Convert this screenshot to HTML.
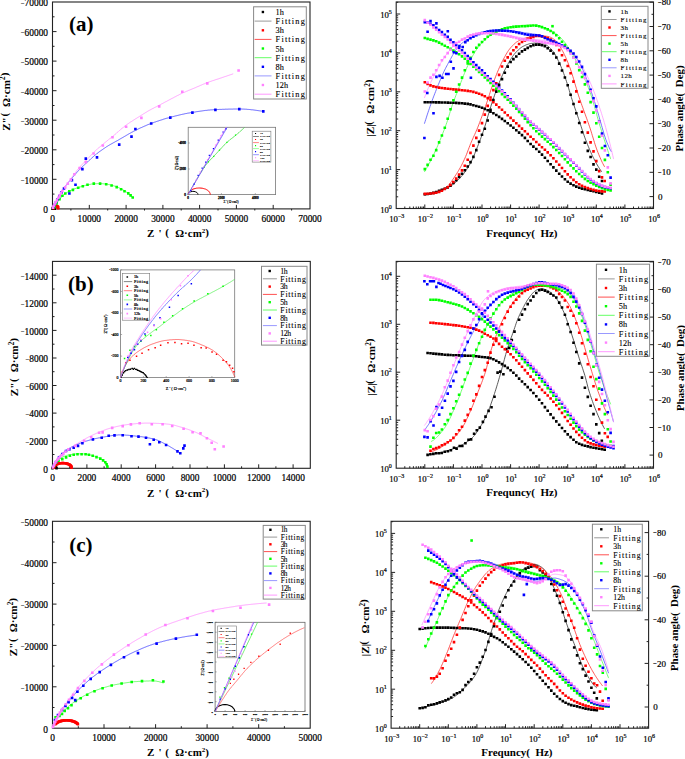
<!DOCTYPE html>
<html><head><meta charset="utf-8"><style>
html,body{margin:0;padding:0;background:#fff;}
body{width:685px;height:759px;overflow:hidden;}
svg{display:block;}
</style></head><body>
<svg width="685" height="759" viewBox="0 0 685 759">
<rect width="685" height="759" fill="#fff"/>
<rect x="52.5" y="2" width="257.5" height="206.9" fill="none" stroke="#222" stroke-width="1.1"/>
<text x="52.5" y="221.9" font-family='"Liberation Serif", serif' font-size="9.4" font-weight="normal" text-anchor="middle" fill="#000" stroke="#000" stroke-width="0.2">0</text>
<text x="48" y="213.2" font-family='"Liberation Serif", serif' font-size="9.4" font-weight="normal" text-anchor="end" fill="#000" stroke="#000" stroke-width="0.2">0</text>
<line x1="70.9" y1="208.9" x2="70.9" y2="210.5" stroke="#222" stroke-width="1.0"/>
<line x1="52.5" y1="194.1" x2="54.5" y2="194.1" stroke="#222" stroke-width="1.0"/>
<line x1="89.3" y1="208.9" x2="89.3" y2="204.9" stroke="#222" stroke-width="1.0"/>
<line x1="52.5" y1="179.3" x2="56.5" y2="179.3" stroke="#222" stroke-width="1.0"/>
<text x="89.3" y="221.9" font-family='"Liberation Serif", serif' font-size="9.4" font-weight="normal" text-anchor="middle" fill="#000" stroke="#000" stroke-width="0.2">10000</text>
<text x="48" y="183.6" font-family='"Liberation Serif", serif' font-size="9.4" font-weight="normal" text-anchor="end" fill="#000" stroke="#000" stroke-width="0.2"><tspan font-size="6.4" dy="-0.5">&#8722;</tspan><tspan dy="0.5">10000</tspan></text>
<line x1="107.7" y1="208.9" x2="107.7" y2="210.5" stroke="#222" stroke-width="1.0"/>
<line x1="52.5" y1="164.6" x2="54.5" y2="164.6" stroke="#222" stroke-width="1.0"/>
<line x1="126.1" y1="208.9" x2="126.1" y2="204.9" stroke="#222" stroke-width="1.0"/>
<line x1="52.5" y1="149.8" x2="56.5" y2="149.8" stroke="#222" stroke-width="1.0"/>
<text x="126.1" y="221.9" font-family='"Liberation Serif", serif' font-size="9.4" font-weight="normal" text-anchor="middle" fill="#000" stroke="#000" stroke-width="0.2">20000</text>
<text x="48" y="154.1" font-family='"Liberation Serif", serif' font-size="9.4" font-weight="normal" text-anchor="end" fill="#000" stroke="#000" stroke-width="0.2"><tspan font-size="6.4" dy="-0.5">&#8722;</tspan><tspan dy="0.5">20000</tspan></text>
<line x1="144.5" y1="208.9" x2="144.5" y2="210.5" stroke="#222" stroke-width="1.0"/>
<line x1="52.5" y1="135" x2="54.5" y2="135" stroke="#222" stroke-width="1.0"/>
<line x1="162.9" y1="208.9" x2="162.9" y2="204.9" stroke="#222" stroke-width="1.0"/>
<line x1="52.5" y1="120.2" x2="56.5" y2="120.2" stroke="#222" stroke-width="1.0"/>
<text x="162.9" y="221.9" font-family='"Liberation Serif", serif' font-size="9.4" font-weight="normal" text-anchor="middle" fill="#000" stroke="#000" stroke-width="0.2">30000</text>
<text x="48" y="124.5" font-family='"Liberation Serif", serif' font-size="9.4" font-weight="normal" text-anchor="end" fill="#000" stroke="#000" stroke-width="0.2"><tspan font-size="6.4" dy="-0.5">&#8722;</tspan><tspan dy="0.5">30000</tspan></text>
<line x1="181.2" y1="208.9" x2="181.2" y2="210.5" stroke="#222" stroke-width="1.0"/>
<line x1="52.5" y1="105.5" x2="54.5" y2="105.5" stroke="#222" stroke-width="1.0"/>
<line x1="199.6" y1="208.9" x2="199.6" y2="204.9" stroke="#222" stroke-width="1.0"/>
<line x1="52.5" y1="90.7" x2="56.5" y2="90.7" stroke="#222" stroke-width="1.0"/>
<text x="199.6" y="221.9" font-family='"Liberation Serif", serif' font-size="9.4" font-weight="normal" text-anchor="middle" fill="#000" stroke="#000" stroke-width="0.2">40000</text>
<text x="48" y="95" font-family='"Liberation Serif", serif' font-size="9.4" font-weight="normal" text-anchor="end" fill="#000" stroke="#000" stroke-width="0.2"><tspan font-size="6.4" dy="-0.5">&#8722;</tspan><tspan dy="0.5">40000</tspan></text>
<line x1="218" y1="208.9" x2="218" y2="210.5" stroke="#222" stroke-width="1.0"/>
<line x1="52.5" y1="75.9" x2="54.5" y2="75.9" stroke="#222" stroke-width="1.0"/>
<line x1="236.4" y1="208.9" x2="236.4" y2="204.9" stroke="#222" stroke-width="1.0"/>
<line x1="52.5" y1="61.1" x2="56.5" y2="61.1" stroke="#222" stroke-width="1.0"/>
<text x="236.4" y="221.9" font-family='"Liberation Serif", serif' font-size="9.4" font-weight="normal" text-anchor="middle" fill="#000" stroke="#000" stroke-width="0.2">50000</text>
<text x="48" y="65.4" font-family='"Liberation Serif", serif' font-size="9.4" font-weight="normal" text-anchor="end" fill="#000" stroke="#000" stroke-width="0.2"><tspan font-size="6.4" dy="-0.5">&#8722;</tspan><tspan dy="0.5">50000</tspan></text>
<line x1="254.8" y1="208.9" x2="254.8" y2="210.5" stroke="#222" stroke-width="1.0"/>
<line x1="52.5" y1="46.3" x2="54.5" y2="46.3" stroke="#222" stroke-width="1.0"/>
<line x1="273.2" y1="208.9" x2="273.2" y2="204.9" stroke="#222" stroke-width="1.0"/>
<line x1="52.5" y1="31.6" x2="56.5" y2="31.6" stroke="#222" stroke-width="1.0"/>
<text x="273.2" y="221.9" font-family='"Liberation Serif", serif' font-size="9.4" font-weight="normal" text-anchor="middle" fill="#000" stroke="#000" stroke-width="0.2">60000</text>
<text x="48" y="35.9" font-family='"Liberation Serif", serif' font-size="9.4" font-weight="normal" text-anchor="end" fill="#000" stroke="#000" stroke-width="0.2"><tspan font-size="6.4" dy="-0.5">&#8722;</tspan><tspan dy="0.5">60000</tspan></text>
<line x1="291.6" y1="208.9" x2="291.6" y2="210.5" stroke="#222" stroke-width="1.0"/>
<line x1="52.5" y1="16.8" x2="54.5" y2="16.8" stroke="#222" stroke-width="1.0"/>
<text x="310" y="221.9" font-family='"Liberation Serif", serif' font-size="9.4" font-weight="normal" text-anchor="middle" fill="#000" stroke="#000" stroke-width="0.2">70000</text>
<text x="48" y="6.3" font-family='"Liberation Serif", serif' font-size="9.4" font-weight="normal" text-anchor="end" fill="#000" stroke="#000" stroke-width="0.2"><tspan font-size="6.4" dy="-0.5">&#8722;</tspan><tspan dy="0.5">70000</tspan></text>
<rect x="52.5" y="261.4" width="257.8" height="206.9" fill="none" stroke="#222" stroke-width="1.1"/>
<text x="52.5" y="481.3" font-family='"Liberation Serif", serif' font-size="9.4" font-weight="normal" text-anchor="middle" fill="#000" stroke="#000" stroke-width="0.2">0</text>
<text x="48" y="472.6" font-family='"Liberation Serif", serif' font-size="9.4" font-weight="normal" text-anchor="end" fill="#000" stroke="#000" stroke-width="0.2">0</text>
<line x1="69.7" y1="468.3" x2="69.7" y2="466.3" stroke="#222" stroke-width="1.0"/>
<line x1="52.5" y1="454.5" x2="54.5" y2="454.5" stroke="#222" stroke-width="1.0"/>
<line x1="86.9" y1="468.3" x2="86.9" y2="464.3" stroke="#222" stroke-width="1.0"/>
<line x1="52.5" y1="440.7" x2="56.5" y2="440.7" stroke="#222" stroke-width="1.0"/>
<text x="86.9" y="481.3" font-family='"Liberation Serif", serif' font-size="9.4" font-weight="normal" text-anchor="middle" fill="#000" stroke="#000" stroke-width="0.2">2000</text>
<text x="48" y="445" font-family='"Liberation Serif", serif' font-size="9.4" font-weight="normal" text-anchor="end" fill="#000" stroke="#000" stroke-width="0.2"><tspan font-size="6.4" dy="-0.5">&#8722;</tspan><tspan dy="0.5">2000</tspan></text>
<line x1="104.1" y1="468.3" x2="104.1" y2="466.3" stroke="#222" stroke-width="1.0"/>
<line x1="52.5" y1="426.9" x2="54.5" y2="426.9" stroke="#222" stroke-width="1.0"/>
<line x1="121.2" y1="468.3" x2="121.2" y2="464.3" stroke="#222" stroke-width="1.0"/>
<line x1="52.5" y1="413.1" x2="56.5" y2="413.1" stroke="#222" stroke-width="1.0"/>
<text x="121.2" y="481.3" font-family='"Liberation Serif", serif' font-size="9.4" font-weight="normal" text-anchor="middle" fill="#000" stroke="#000" stroke-width="0.2">4000</text>
<text x="48" y="417.4" font-family='"Liberation Serif", serif' font-size="9.4" font-weight="normal" text-anchor="end" fill="#000" stroke="#000" stroke-width="0.2"><tspan font-size="6.4" dy="-0.5">&#8722;</tspan><tspan dy="0.5">4000</tspan></text>
<line x1="138.4" y1="468.3" x2="138.4" y2="466.3" stroke="#222" stroke-width="1.0"/>
<line x1="52.5" y1="399.3" x2="54.5" y2="399.3" stroke="#222" stroke-width="1.0"/>
<line x1="155.6" y1="468.3" x2="155.6" y2="464.3" stroke="#222" stroke-width="1.0"/>
<line x1="52.5" y1="385.5" x2="56.5" y2="385.5" stroke="#222" stroke-width="1.0"/>
<text x="155.6" y="481.3" font-family='"Liberation Serif", serif' font-size="9.4" font-weight="normal" text-anchor="middle" fill="#000" stroke="#000" stroke-width="0.2">6000</text>
<text x="48" y="389.8" font-family='"Liberation Serif", serif' font-size="9.4" font-weight="normal" text-anchor="end" fill="#000" stroke="#000" stroke-width="0.2"><tspan font-size="6.4" dy="-0.5">&#8722;</tspan><tspan dy="0.5">6000</tspan></text>
<line x1="172.8" y1="468.3" x2="172.8" y2="466.3" stroke="#222" stroke-width="1.0"/>
<line x1="52.5" y1="371.7" x2="54.5" y2="371.7" stroke="#222" stroke-width="1.0"/>
<line x1="190" y1="468.3" x2="190" y2="464.3" stroke="#222" stroke-width="1.0"/>
<line x1="52.5" y1="358" x2="56.5" y2="358" stroke="#222" stroke-width="1.0"/>
<text x="190" y="481.3" font-family='"Liberation Serif", serif' font-size="9.4" font-weight="normal" text-anchor="middle" fill="#000" stroke="#000" stroke-width="0.2">8000</text>
<text x="48" y="362.3" font-family='"Liberation Serif", serif' font-size="9.4" font-weight="normal" text-anchor="end" fill="#000" stroke="#000" stroke-width="0.2"><tspan font-size="6.4" dy="-0.5">&#8722;</tspan><tspan dy="0.5">8000</tspan></text>
<line x1="207.2" y1="468.3" x2="207.2" y2="466.3" stroke="#222" stroke-width="1.0"/>
<line x1="52.5" y1="344.2" x2="54.5" y2="344.2" stroke="#222" stroke-width="1.0"/>
<line x1="224.4" y1="468.3" x2="224.4" y2="464.3" stroke="#222" stroke-width="1.0"/>
<line x1="52.5" y1="330.4" x2="56.5" y2="330.4" stroke="#222" stroke-width="1.0"/>
<text x="224.4" y="481.3" font-family='"Liberation Serif", serif' font-size="9.4" font-weight="normal" text-anchor="middle" fill="#000" stroke="#000" stroke-width="0.2">10000</text>
<text x="48" y="334.7" font-family='"Liberation Serif", serif' font-size="9.4" font-weight="normal" text-anchor="end" fill="#000" stroke="#000" stroke-width="0.2"><tspan font-size="6.4" dy="-0.5">&#8722;</tspan><tspan dy="0.5">10000</tspan></text>
<line x1="241.6" y1="468.3" x2="241.6" y2="466.3" stroke="#222" stroke-width="1.0"/>
<line x1="52.5" y1="316.6" x2="54.5" y2="316.6" stroke="#222" stroke-width="1.0"/>
<line x1="258.7" y1="468.3" x2="258.7" y2="464.3" stroke="#222" stroke-width="1.0"/>
<line x1="52.5" y1="302.8" x2="56.5" y2="302.8" stroke="#222" stroke-width="1.0"/>
<text x="258.7" y="481.3" font-family='"Liberation Serif", serif' font-size="9.4" font-weight="normal" text-anchor="middle" fill="#000" stroke="#000" stroke-width="0.2">12000</text>
<text x="48" y="307.1" font-family='"Liberation Serif", serif' font-size="9.4" font-weight="normal" text-anchor="end" fill="#000" stroke="#000" stroke-width="0.2"><tspan font-size="6.4" dy="-0.5">&#8722;</tspan><tspan dy="0.5">12000</tspan></text>
<line x1="275.9" y1="468.3" x2="275.9" y2="466.3" stroke="#222" stroke-width="1.0"/>
<line x1="52.5" y1="289" x2="54.5" y2="289" stroke="#222" stroke-width="1.0"/>
<line x1="293.1" y1="468.3" x2="293.1" y2="464.3" stroke="#222" stroke-width="1.0"/>
<line x1="52.5" y1="275.2" x2="56.5" y2="275.2" stroke="#222" stroke-width="1.0"/>
<text x="293.1" y="481.3" font-family='"Liberation Serif", serif' font-size="9.4" font-weight="normal" text-anchor="middle" fill="#000" stroke="#000" stroke-width="0.2">14000</text>
<text x="48" y="279.5" font-family='"Liberation Serif", serif' font-size="9.4" font-weight="normal" text-anchor="end" fill="#000" stroke="#000" stroke-width="0.2"><tspan font-size="6.4" dy="-0.5">&#8722;</tspan><tspan dy="0.5">14000</tspan></text>
<rect x="52.5" y="521.3" width="257.7" height="206.9" fill="none" stroke="#222" stroke-width="1.1"/>
<text x="52.5" y="741.2" font-family='"Liberation Serif", serif' font-size="9.4" font-weight="normal" text-anchor="middle" fill="#000" stroke="#000" stroke-width="0.2">0</text>
<text x="48" y="732.5" font-family='"Liberation Serif", serif' font-size="9.4" font-weight="normal" text-anchor="end" fill="#000" stroke="#000" stroke-width="0.2">0</text>
<line x1="78.3" y1="728.2" x2="78.3" y2="726.2" stroke="#222" stroke-width="1.0"/>
<line x1="52.5" y1="707.5" x2="54.5" y2="707.5" stroke="#222" stroke-width="1.0"/>
<line x1="104" y1="728.2" x2="104" y2="724.2" stroke="#222" stroke-width="1.0"/>
<line x1="52.5" y1="686.8" x2="56.5" y2="686.8" stroke="#222" stroke-width="1.0"/>
<text x="104" y="741.2" font-family='"Liberation Serif", serif' font-size="9.4" font-weight="normal" text-anchor="middle" fill="#000" stroke="#000" stroke-width="0.2">10000</text>
<text x="48" y="691.1" font-family='"Liberation Serif", serif' font-size="9.4" font-weight="normal" text-anchor="end" fill="#000" stroke="#000" stroke-width="0.2"><tspan font-size="6.4" dy="-0.5">&#8722;</tspan><tspan dy="0.5">10000</tspan></text>
<line x1="129.8" y1="728.2" x2="129.8" y2="726.2" stroke="#222" stroke-width="1.0"/>
<line x1="52.5" y1="666.1" x2="54.5" y2="666.1" stroke="#222" stroke-width="1.0"/>
<line x1="155.6" y1="728.2" x2="155.6" y2="724.2" stroke="#222" stroke-width="1.0"/>
<line x1="52.5" y1="645.4" x2="56.5" y2="645.4" stroke="#222" stroke-width="1.0"/>
<text x="155.6" y="741.2" font-family='"Liberation Serif", serif' font-size="9.4" font-weight="normal" text-anchor="middle" fill="#000" stroke="#000" stroke-width="0.2">20000</text>
<text x="48" y="649.7" font-family='"Liberation Serif", serif' font-size="9.4" font-weight="normal" text-anchor="end" fill="#000" stroke="#000" stroke-width="0.2"><tspan font-size="6.4" dy="-0.5">&#8722;</tspan><tspan dy="0.5">20000</tspan></text>
<line x1="181.3" y1="728.2" x2="181.3" y2="726.2" stroke="#222" stroke-width="1.0"/>
<line x1="52.5" y1="624.8" x2="54.5" y2="624.8" stroke="#222" stroke-width="1.0"/>
<line x1="207.1" y1="728.2" x2="207.1" y2="724.2" stroke="#222" stroke-width="1.0"/>
<line x1="52.5" y1="604.1" x2="56.5" y2="604.1" stroke="#222" stroke-width="1.0"/>
<text x="207.1" y="741.2" font-family='"Liberation Serif", serif' font-size="9.4" font-weight="normal" text-anchor="middle" fill="#000" stroke="#000" stroke-width="0.2">30000</text>
<text x="48" y="608.4" font-family='"Liberation Serif", serif' font-size="9.4" font-weight="normal" text-anchor="end" fill="#000" stroke="#000" stroke-width="0.2"><tspan font-size="6.4" dy="-0.5">&#8722;</tspan><tspan dy="0.5">30000</tspan></text>
<line x1="232.9" y1="728.2" x2="232.9" y2="726.2" stroke="#222" stroke-width="1.0"/>
<line x1="52.5" y1="583.4" x2="54.5" y2="583.4" stroke="#222" stroke-width="1.0"/>
<line x1="258.7" y1="728.2" x2="258.7" y2="724.2" stroke="#222" stroke-width="1.0"/>
<line x1="52.5" y1="562.7" x2="56.5" y2="562.7" stroke="#222" stroke-width="1.0"/>
<text x="258.7" y="741.2" font-family='"Liberation Serif", serif' font-size="9.4" font-weight="normal" text-anchor="middle" fill="#000" stroke="#000" stroke-width="0.2">40000</text>
<text x="48" y="567" font-family='"Liberation Serif", serif' font-size="9.4" font-weight="normal" text-anchor="end" fill="#000" stroke="#000" stroke-width="0.2"><tspan font-size="6.4" dy="-0.5">&#8722;</tspan><tspan dy="0.5">40000</tspan></text>
<line x1="284.4" y1="728.2" x2="284.4" y2="726.2" stroke="#222" stroke-width="1.0"/>
<line x1="52.5" y1="542" x2="54.5" y2="542" stroke="#222" stroke-width="1.0"/>
<text x="310.2" y="741.2" font-family='"Liberation Serif", serif' font-size="9.4" font-weight="normal" text-anchor="middle" fill="#000" stroke="#000" stroke-width="0.2">50000</text>
<text x="48" y="525.6" font-family='"Liberation Serif", serif' font-size="9.4" font-weight="normal" text-anchor="end" fill="#000" stroke="#000" stroke-width="0.2"><tspan font-size="6.4" dy="-0.5">&#8722;</tspan><tspan dy="0.5">50000</tspan></text>
<text font-family='"Liberation Serif", serif' font-size="11" font-weight="bold"><tspan x="147.0" y="236.7">Z</tspan><tspan x="158.4" y="236.7">'</tspan><tspan x="165.2" y="235.9">(</tspan><tspan x="175.3" y="236.7">&#937;&#183;cm</tspan><tspan font-size="7" dy="-4.2">2</tspan><tspan dy="3.4">)</tspan></text>
<text transform="translate(9.6,0) rotate(-90)" font-family='"Liberation Serif", serif' font-size="11.2" font-weight="bold"><tspan x="-130.8" y="0">Z</tspan><tspan x="-123.4" y="0">&quot;</tspan><tspan x="-116.6" y="-1.8">(</tspan><tspan x="-106.9" y="0">&#937;&#183;cm</tspan><tspan font-size="7.2" dy="-4.2">2</tspan><tspan dy="2.4">)</tspan></text>
<text font-family='"Liberation Serif", serif' font-size="11" font-weight="bold"><tspan x="147.0" y="496.5">Z</tspan><tspan x="158.4" y="496.5">'</tspan><tspan x="165.2" y="495.7">(</tspan><tspan x="175.3" y="496.5">&#937;&#183;cm</tspan><tspan font-size="7" dy="-4.2">2</tspan><tspan dy="3.4">)</tspan></text>
<text transform="translate(18.3,0) rotate(-90)" font-family='"Liberation Serif", serif' font-size="11.2" font-weight="bold"><tspan x="-396.2" y="0">Z</tspan><tspan x="-388.8" y="0">&quot;</tspan><tspan x="-382" y="-1.8">(</tspan><tspan x="-372.3" y="0">&#937;&#183;cm</tspan><tspan font-size="7.2" dy="-4.2">2</tspan><tspan dy="2.4">)</tspan></text>
<text font-family='"Liberation Serif", serif' font-size="11" font-weight="bold"><tspan x="147.0" y="756.4">Z</tspan><tspan x="158.4" y="756.4">'</tspan><tspan x="165.2" y="755.6">(</tspan><tspan x="175.3" y="756.4">&#937;&#183;cm</tspan><tspan font-size="7" dy="-4.2">2</tspan><tspan dy="3.4">)</tspan></text>
<text transform="translate(17.4,0) rotate(-90)" font-family='"Liberation Serif", serif' font-size="11.2" font-weight="bold"><tspan x="-656.2" y="0">Z</tspan><tspan x="-648.8" y="0">&quot;</tspan><tspan x="-642" y="-1.8">(</tspan><tspan x="-632.3" y="0">&#937;&#183;cm</tspan><tspan font-size="7.2" dy="-4.2">2</tspan><tspan dy="2.4">)</tspan></text>
<rect x="396.2" y="2" width="257.3" height="206.5" fill="none" stroke="#222" stroke-width="1.1"/>
<line x1="404.8" y1="208.5" x2="404.8" y2="206.5" stroke="#222" stroke-width="1.0"/>
<line x1="409.8" y1="208.5" x2="409.8" y2="206.5" stroke="#222" stroke-width="1.0"/>
<line x1="413.4" y1="208.5" x2="413.4" y2="206.5" stroke="#222" stroke-width="1.0"/>
<line x1="416.2" y1="208.5" x2="416.2" y2="206.5" stroke="#222" stroke-width="1.0"/>
<line x1="418.4" y1="208.5" x2="418.4" y2="206.5" stroke="#222" stroke-width="1.0"/>
<line x1="420.4" y1="208.5" x2="420.4" y2="206.5" stroke="#222" stroke-width="1.0"/>
<line x1="422" y1="208.5" x2="422" y2="206.5" stroke="#222" stroke-width="1.0"/>
<line x1="423.5" y1="208.5" x2="423.5" y2="206.5" stroke="#222" stroke-width="1.0"/>
<line x1="424.8" y1="208.5" x2="424.8" y2="204.5" stroke="#222" stroke-width="1.0"/>
<line x1="433.4" y1="208.5" x2="433.4" y2="206.5" stroke="#222" stroke-width="1.0"/>
<line x1="438.4" y1="208.5" x2="438.4" y2="206.5" stroke="#222" stroke-width="1.0"/>
<line x1="442" y1="208.5" x2="442" y2="206.5" stroke="#222" stroke-width="1.0"/>
<line x1="444.8" y1="208.5" x2="444.8" y2="206.5" stroke="#222" stroke-width="1.0"/>
<line x1="447" y1="208.5" x2="447" y2="206.5" stroke="#222" stroke-width="1.0"/>
<line x1="448.9" y1="208.5" x2="448.9" y2="206.5" stroke="#222" stroke-width="1.0"/>
<line x1="450.6" y1="208.5" x2="450.6" y2="206.5" stroke="#222" stroke-width="1.0"/>
<line x1="452.1" y1="208.5" x2="452.1" y2="206.5" stroke="#222" stroke-width="1.0"/>
<line x1="453.4" y1="208.5" x2="453.4" y2="204.5" stroke="#222" stroke-width="1.0"/>
<line x1="462" y1="208.5" x2="462" y2="206.5" stroke="#222" stroke-width="1.0"/>
<line x1="467" y1="208.5" x2="467" y2="206.5" stroke="#222" stroke-width="1.0"/>
<line x1="470.6" y1="208.5" x2="470.6" y2="206.5" stroke="#222" stroke-width="1.0"/>
<line x1="473.4" y1="208.5" x2="473.4" y2="206.5" stroke="#222" stroke-width="1.0"/>
<line x1="475.6" y1="208.5" x2="475.6" y2="206.5" stroke="#222" stroke-width="1.0"/>
<line x1="477.5" y1="208.5" x2="477.5" y2="206.5" stroke="#222" stroke-width="1.0"/>
<line x1="479.2" y1="208.5" x2="479.2" y2="206.5" stroke="#222" stroke-width="1.0"/>
<line x1="480.7" y1="208.5" x2="480.7" y2="206.5" stroke="#222" stroke-width="1.0"/>
<line x1="482" y1="208.5" x2="482" y2="204.5" stroke="#222" stroke-width="1.0"/>
<line x1="490.6" y1="208.5" x2="490.6" y2="206.5" stroke="#222" stroke-width="1.0"/>
<line x1="495.6" y1="208.5" x2="495.6" y2="206.5" stroke="#222" stroke-width="1.0"/>
<line x1="499.2" y1="208.5" x2="499.2" y2="206.5" stroke="#222" stroke-width="1.0"/>
<line x1="501.9" y1="208.5" x2="501.9" y2="206.5" stroke="#222" stroke-width="1.0"/>
<line x1="504.2" y1="208.5" x2="504.2" y2="206.5" stroke="#222" stroke-width="1.0"/>
<line x1="506.1" y1="208.5" x2="506.1" y2="206.5" stroke="#222" stroke-width="1.0"/>
<line x1="507.8" y1="208.5" x2="507.8" y2="206.5" stroke="#222" stroke-width="1.0"/>
<line x1="509.2" y1="208.5" x2="509.2" y2="206.5" stroke="#222" stroke-width="1.0"/>
<line x1="510.6" y1="208.5" x2="510.6" y2="204.5" stroke="#222" stroke-width="1.0"/>
<line x1="519.2" y1="208.5" x2="519.2" y2="206.5" stroke="#222" stroke-width="1.0"/>
<line x1="524.2" y1="208.5" x2="524.2" y2="206.5" stroke="#222" stroke-width="1.0"/>
<line x1="527.8" y1="208.5" x2="527.8" y2="206.5" stroke="#222" stroke-width="1.0"/>
<line x1="530.5" y1="208.5" x2="530.5" y2="206.5" stroke="#222" stroke-width="1.0"/>
<line x1="532.8" y1="208.5" x2="532.8" y2="206.5" stroke="#222" stroke-width="1.0"/>
<line x1="534.7" y1="208.5" x2="534.7" y2="206.5" stroke="#222" stroke-width="1.0"/>
<line x1="536.4" y1="208.5" x2="536.4" y2="206.5" stroke="#222" stroke-width="1.0"/>
<line x1="537.8" y1="208.5" x2="537.8" y2="206.5" stroke="#222" stroke-width="1.0"/>
<line x1="539.1" y1="208.5" x2="539.1" y2="204.5" stroke="#222" stroke-width="1.0"/>
<line x1="547.8" y1="208.5" x2="547.8" y2="206.5" stroke="#222" stroke-width="1.0"/>
<line x1="552.8" y1="208.5" x2="552.8" y2="206.5" stroke="#222" stroke-width="1.0"/>
<line x1="556.4" y1="208.5" x2="556.4" y2="206.5" stroke="#222" stroke-width="1.0"/>
<line x1="559.1" y1="208.5" x2="559.1" y2="206.5" stroke="#222" stroke-width="1.0"/>
<line x1="561.4" y1="208.5" x2="561.4" y2="206.5" stroke="#222" stroke-width="1.0"/>
<line x1="563.3" y1="208.5" x2="563.3" y2="206.5" stroke="#222" stroke-width="1.0"/>
<line x1="565" y1="208.5" x2="565" y2="206.5" stroke="#222" stroke-width="1.0"/>
<line x1="566.4" y1="208.5" x2="566.4" y2="206.5" stroke="#222" stroke-width="1.0"/>
<line x1="567.7" y1="208.5" x2="567.7" y2="204.5" stroke="#222" stroke-width="1.0"/>
<line x1="576.3" y1="208.5" x2="576.3" y2="206.5" stroke="#222" stroke-width="1.0"/>
<line x1="581.4" y1="208.5" x2="581.4" y2="206.5" stroke="#222" stroke-width="1.0"/>
<line x1="584.9" y1="208.5" x2="584.9" y2="206.5" stroke="#222" stroke-width="1.0"/>
<line x1="587.7" y1="208.5" x2="587.7" y2="206.5" stroke="#222" stroke-width="1.0"/>
<line x1="590" y1="208.5" x2="590" y2="206.5" stroke="#222" stroke-width="1.0"/>
<line x1="591.9" y1="208.5" x2="591.9" y2="206.5" stroke="#222" stroke-width="1.0"/>
<line x1="593.6" y1="208.5" x2="593.6" y2="206.5" stroke="#222" stroke-width="1.0"/>
<line x1="595" y1="208.5" x2="595" y2="206.5" stroke="#222" stroke-width="1.0"/>
<line x1="596.3" y1="208.5" x2="596.3" y2="204.5" stroke="#222" stroke-width="1.0"/>
<line x1="604.9" y1="208.5" x2="604.9" y2="206.5" stroke="#222" stroke-width="1.0"/>
<line x1="610" y1="208.5" x2="610" y2="206.5" stroke="#222" stroke-width="1.0"/>
<line x1="613.5" y1="208.5" x2="613.5" y2="206.5" stroke="#222" stroke-width="1.0"/>
<line x1="616.3" y1="208.5" x2="616.3" y2="206.5" stroke="#222" stroke-width="1.0"/>
<line x1="618.6" y1="208.5" x2="618.6" y2="206.5" stroke="#222" stroke-width="1.0"/>
<line x1="620.5" y1="208.5" x2="620.5" y2="206.5" stroke="#222" stroke-width="1.0"/>
<line x1="622.1" y1="208.5" x2="622.1" y2="206.5" stroke="#222" stroke-width="1.0"/>
<line x1="623.6" y1="208.5" x2="623.6" y2="206.5" stroke="#222" stroke-width="1.0"/>
<line x1="624.9" y1="208.5" x2="624.9" y2="204.5" stroke="#222" stroke-width="1.0"/>
<line x1="633.5" y1="208.5" x2="633.5" y2="206.5" stroke="#222" stroke-width="1.0"/>
<line x1="638.6" y1="208.5" x2="638.6" y2="206.5" stroke="#222" stroke-width="1.0"/>
<line x1="642.1" y1="208.5" x2="642.1" y2="206.5" stroke="#222" stroke-width="1.0"/>
<line x1="644.9" y1="208.5" x2="644.9" y2="206.5" stroke="#222" stroke-width="1.0"/>
<line x1="647.2" y1="208.5" x2="647.2" y2="206.5" stroke="#222" stroke-width="1.0"/>
<line x1="649.1" y1="208.5" x2="649.1" y2="206.5" stroke="#222" stroke-width="1.0"/>
<line x1="650.7" y1="208.5" x2="650.7" y2="206.5" stroke="#222" stroke-width="1.0"/>
<line x1="652.2" y1="208.5" x2="652.2" y2="206.5" stroke="#222" stroke-width="1.0"/>
<text x="396.8" y="221.9" font-family='"Liberation Serif", serif' font-size="8.7" text-anchor="middle" stroke="#000" stroke-width="0.2">10<tspan font-size="6" dy="-4.0">&#8722;3</tspan></text>
<text x="425.4" y="221.9" font-family='"Liberation Serif", serif' font-size="8.7" text-anchor="middle" stroke="#000" stroke-width="0.2">10<tspan font-size="6" dy="-4.0">&#8722;2</tspan></text>
<text x="454" y="221.9" font-family='"Liberation Serif", serif' font-size="8.7" text-anchor="middle" stroke="#000" stroke-width="0.2">10<tspan font-size="6" dy="-4.0">&#8722;1</tspan></text>
<text x="482.6" y="221.9" font-family='"Liberation Serif", serif' font-size="8.7" text-anchor="middle" stroke="#000" stroke-width="0.2">10<tspan font-size="6" dy="-4.0">0</tspan></text>
<text x="511.2" y="221.9" font-family='"Liberation Serif", serif' font-size="8.7" text-anchor="middle" stroke="#000" stroke-width="0.2">10<tspan font-size="6" dy="-4.0">1</tspan></text>
<text x="539.7" y="221.9" font-family='"Liberation Serif", serif' font-size="8.7" text-anchor="middle" stroke="#000" stroke-width="0.2">10<tspan font-size="6" dy="-4.0">2</tspan></text>
<text x="568.3" y="221.9" font-family='"Liberation Serif", serif' font-size="8.7" text-anchor="middle" stroke="#000" stroke-width="0.2">10<tspan font-size="6" dy="-4.0">3</tspan></text>
<text x="596.9" y="221.9" font-family='"Liberation Serif", serif' font-size="8.7" text-anchor="middle" stroke="#000" stroke-width="0.2">10<tspan font-size="6" dy="-4.0">4</tspan></text>
<text x="625.5" y="221.9" font-family='"Liberation Serif", serif' font-size="8.7" text-anchor="middle" stroke="#000" stroke-width="0.2">10<tspan font-size="6" dy="-4.0">5</tspan></text>
<text x="654.1" y="221.9" font-family='"Liberation Serif", serif' font-size="8.7" text-anchor="middle" stroke="#000" stroke-width="0.2">10<tspan font-size="6" dy="-4.0">6</tspan></text>
<line x1="396.2" y1="196.8" x2="398.2" y2="196.8" stroke="#222" stroke-width="1.0"/>
<line x1="396.2" y1="189.9" x2="398.2" y2="189.9" stroke="#222" stroke-width="1.0"/>
<line x1="396.2" y1="185.1" x2="398.2" y2="185.1" stroke="#222" stroke-width="1.0"/>
<line x1="396.2" y1="181.3" x2="398.2" y2="181.3" stroke="#222" stroke-width="1.0"/>
<line x1="396.2" y1="178.2" x2="398.2" y2="178.2" stroke="#222" stroke-width="1.0"/>
<line x1="396.2" y1="175.6" x2="398.2" y2="175.6" stroke="#222" stroke-width="1.0"/>
<line x1="396.2" y1="173.4" x2="398.2" y2="173.4" stroke="#222" stroke-width="1.0"/>
<line x1="396.2" y1="171.4" x2="398.2" y2="171.4" stroke="#222" stroke-width="1.0"/>
<text x="386" y="212.5" font-family='"Liberation Serif", serif' font-size="8.7" text-anchor="middle" stroke="#000" stroke-width="0.2">10<tspan font-size="6" dy="-4.0">0</tspan></text>
<line x1="396.2" y1="169.6" x2="400.2" y2="169.6" stroke="#222" stroke-width="1.0"/>
<line x1="396.2" y1="157.9" x2="398.2" y2="157.9" stroke="#222" stroke-width="1.0"/>
<line x1="396.2" y1="151" x2="398.2" y2="151" stroke="#222" stroke-width="1.0"/>
<line x1="396.2" y1="146.2" x2="398.2" y2="146.2" stroke="#222" stroke-width="1.0"/>
<line x1="396.2" y1="142.4" x2="398.2" y2="142.4" stroke="#222" stroke-width="1.0"/>
<line x1="396.2" y1="139.3" x2="398.2" y2="139.3" stroke="#222" stroke-width="1.0"/>
<line x1="396.2" y1="136.7" x2="398.2" y2="136.7" stroke="#222" stroke-width="1.0"/>
<line x1="396.2" y1="134.5" x2="398.2" y2="134.5" stroke="#222" stroke-width="1.0"/>
<line x1="396.2" y1="132.5" x2="398.2" y2="132.5" stroke="#222" stroke-width="1.0"/>
<text x="386" y="173.6" font-family='"Liberation Serif", serif' font-size="8.7" text-anchor="middle" stroke="#000" stroke-width="0.2">10<tspan font-size="6" dy="-4.0">1</tspan></text>
<line x1="396.2" y1="130.7" x2="400.2" y2="130.7" stroke="#222" stroke-width="1.0"/>
<line x1="396.2" y1="119" x2="398.2" y2="119" stroke="#222" stroke-width="1.0"/>
<line x1="396.2" y1="112.1" x2="398.2" y2="112.1" stroke="#222" stroke-width="1.0"/>
<line x1="396.2" y1="107.3" x2="398.2" y2="107.3" stroke="#222" stroke-width="1.0"/>
<line x1="396.2" y1="103.5" x2="398.2" y2="103.5" stroke="#222" stroke-width="1.0"/>
<line x1="396.2" y1="100.4" x2="398.2" y2="100.4" stroke="#222" stroke-width="1.0"/>
<line x1="396.2" y1="97.8" x2="398.2" y2="97.8" stroke="#222" stroke-width="1.0"/>
<line x1="396.2" y1="95.6" x2="398.2" y2="95.6" stroke="#222" stroke-width="1.0"/>
<line x1="396.2" y1="93.6" x2="398.2" y2="93.6" stroke="#222" stroke-width="1.0"/>
<text x="386" y="134.7" font-family='"Liberation Serif", serif' font-size="8.7" text-anchor="middle" stroke="#000" stroke-width="0.2">10<tspan font-size="6" dy="-4.0">2</tspan></text>
<line x1="396.2" y1="91.8" x2="400.2" y2="91.8" stroke="#222" stroke-width="1.0"/>
<line x1="396.2" y1="80.1" x2="398.2" y2="80.1" stroke="#222" stroke-width="1.0"/>
<line x1="396.2" y1="73.2" x2="398.2" y2="73.2" stroke="#222" stroke-width="1.0"/>
<line x1="396.2" y1="68.4" x2="398.2" y2="68.4" stroke="#222" stroke-width="1.0"/>
<line x1="396.2" y1="64.6" x2="398.2" y2="64.6" stroke="#222" stroke-width="1.0"/>
<line x1="396.2" y1="61.5" x2="398.2" y2="61.5" stroke="#222" stroke-width="1.0"/>
<line x1="396.2" y1="58.9" x2="398.2" y2="58.9" stroke="#222" stroke-width="1.0"/>
<line x1="396.2" y1="56.7" x2="398.2" y2="56.7" stroke="#222" stroke-width="1.0"/>
<line x1="396.2" y1="54.7" x2="398.2" y2="54.7" stroke="#222" stroke-width="1.0"/>
<text x="386" y="95.8" font-family='"Liberation Serif", serif' font-size="8.7" text-anchor="middle" stroke="#000" stroke-width="0.2">10<tspan font-size="6" dy="-4.0">3</tspan></text>
<line x1="396.2" y1="52.9" x2="400.2" y2="52.9" stroke="#222" stroke-width="1.0"/>
<line x1="396.2" y1="41.2" x2="398.2" y2="41.2" stroke="#222" stroke-width="1.0"/>
<line x1="396.2" y1="34.3" x2="398.2" y2="34.3" stroke="#222" stroke-width="1.0"/>
<line x1="396.2" y1="29.5" x2="398.2" y2="29.5" stroke="#222" stroke-width="1.0"/>
<line x1="396.2" y1="25.7" x2="398.2" y2="25.7" stroke="#222" stroke-width="1.0"/>
<line x1="396.2" y1="22.6" x2="398.2" y2="22.6" stroke="#222" stroke-width="1.0"/>
<line x1="396.2" y1="20" x2="398.2" y2="20" stroke="#222" stroke-width="1.0"/>
<line x1="396.2" y1="17.8" x2="398.2" y2="17.8" stroke="#222" stroke-width="1.0"/>
<line x1="396.2" y1="15.8" x2="398.2" y2="15.8" stroke="#222" stroke-width="1.0"/>
<text x="386" y="56.9" font-family='"Liberation Serif", serif' font-size="8.7" text-anchor="middle" stroke="#000" stroke-width="0.2">10<tspan font-size="6" dy="-4.0">4</tspan></text>
<line x1="396.2" y1="14" x2="400.2" y2="14" stroke="#222" stroke-width="1.0"/>
<line x1="396.2" y1="2.3" x2="398.2" y2="2.3" stroke="#222" stroke-width="1.0"/>
<text x="386" y="18" font-family='"Liberation Serif", serif' font-size="8.7" text-anchor="middle" stroke="#000" stroke-width="0.2">10<tspan font-size="6" dy="-4.0">5</tspan></text>
<line x1="649.5" y1="196.6" x2="653.5" y2="196.6" stroke="#222" stroke-width="1.0"/>
<text x="658.1" y="199.7" font-family='"Liberation Serif", serif' font-size="9.0" font-weight="normal" text-anchor="start" fill="#000" stroke="#000" stroke-width="0.2">0</text>
<line x1="651.5" y1="184.4" x2="653.5" y2="184.4" stroke="#222" stroke-width="1.0"/>
<line x1="649.5" y1="172.3" x2="653.5" y2="172.3" stroke="#222" stroke-width="1.0"/>
<text x="658.1" y="175.4" font-family='"Liberation Serif", serif' font-size="9.0" font-weight="normal" text-anchor="start" fill="#000" stroke="#000" stroke-width="0.2"><tspan font-size="6.6" dy="-0.5">&#8722;</tspan><tspan dy="0.5">10</tspan></text>
<line x1="651.5" y1="160.1" x2="653.5" y2="160.1" stroke="#222" stroke-width="1.0"/>
<line x1="649.5" y1="148" x2="653.5" y2="148" stroke="#222" stroke-width="1.0"/>
<text x="658.1" y="151.1" font-family='"Liberation Serif", serif' font-size="9.0" font-weight="normal" text-anchor="start" fill="#000" stroke="#000" stroke-width="0.2"><tspan font-size="6.6" dy="-0.5">&#8722;</tspan><tspan dy="0.5">20</tspan></text>
<line x1="651.5" y1="135.8" x2="653.5" y2="135.8" stroke="#222" stroke-width="1.0"/>
<line x1="649.5" y1="123.7" x2="653.5" y2="123.7" stroke="#222" stroke-width="1.0"/>
<text x="658.1" y="126.8" font-family='"Liberation Serif", serif' font-size="9.0" font-weight="normal" text-anchor="start" fill="#000" stroke="#000" stroke-width="0.2"><tspan font-size="6.6" dy="-0.5">&#8722;</tspan><tspan dy="0.5">30</tspan></text>
<line x1="651.5" y1="111.5" x2="653.5" y2="111.5" stroke="#222" stroke-width="1.0"/>
<line x1="649.5" y1="99.4" x2="653.5" y2="99.4" stroke="#222" stroke-width="1.0"/>
<text x="658.1" y="102.5" font-family='"Liberation Serif", serif' font-size="9.0" font-weight="normal" text-anchor="start" fill="#000" stroke="#000" stroke-width="0.2"><tspan font-size="6.6" dy="-0.5">&#8722;</tspan><tspan dy="0.5">40</tspan></text>
<line x1="651.5" y1="87.2" x2="653.5" y2="87.2" stroke="#222" stroke-width="1.0"/>
<line x1="649.5" y1="75.1" x2="653.5" y2="75.1" stroke="#222" stroke-width="1.0"/>
<text x="658.1" y="78.2" font-family='"Liberation Serif", serif' font-size="9.0" font-weight="normal" text-anchor="start" fill="#000" stroke="#000" stroke-width="0.2"><tspan font-size="6.6" dy="-0.5">&#8722;</tspan><tspan dy="0.5">50</tspan></text>
<line x1="651.5" y1="62.9" x2="653.5" y2="62.9" stroke="#222" stroke-width="1.0"/>
<line x1="649.5" y1="50.8" x2="653.5" y2="50.8" stroke="#222" stroke-width="1.0"/>
<text x="658.1" y="53.9" font-family='"Liberation Serif", serif' font-size="9.0" font-weight="normal" text-anchor="start" fill="#000" stroke="#000" stroke-width="0.2"><tspan font-size="6.6" dy="-0.5">&#8722;</tspan><tspan dy="0.5">60</tspan></text>
<line x1="651.5" y1="38.6" x2="653.5" y2="38.6" stroke="#222" stroke-width="1.0"/>
<line x1="649.5" y1="26.5" x2="653.5" y2="26.5" stroke="#222" stroke-width="1.0"/>
<text x="658.1" y="29.6" font-family='"Liberation Serif", serif' font-size="9.0" font-weight="normal" text-anchor="start" fill="#000" stroke="#000" stroke-width="0.2"><tspan font-size="6.6" dy="-0.5">&#8722;</tspan><tspan dy="0.5">70</tspan></text>
<line x1="651.5" y1="14.3" x2="653.5" y2="14.3" stroke="#222" stroke-width="1.0"/>
<line x1="649.5" y1="2.2" x2="653.5" y2="2.2" stroke="#222" stroke-width="1.0"/>
<text x="658.1" y="5.3" font-family='"Liberation Serif", serif' font-size="9.0" font-weight="normal" text-anchor="start" fill="#000" stroke="#000" stroke-width="0.2"><tspan font-size="6.6" dy="-0.5">&#8722;</tspan><tspan dy="0.5">80</tspan></text>
<rect x="396.2" y="261.4" width="257.3" height="206.8" fill="none" stroke="#222" stroke-width="1.1"/>
<line x1="404.8" y1="468.2" x2="404.8" y2="466.2" stroke="#222" stroke-width="1.0"/>
<line x1="409.8" y1="468.2" x2="409.8" y2="466.2" stroke="#222" stroke-width="1.0"/>
<line x1="413.4" y1="468.2" x2="413.4" y2="466.2" stroke="#222" stroke-width="1.0"/>
<line x1="416.2" y1="468.2" x2="416.2" y2="466.2" stroke="#222" stroke-width="1.0"/>
<line x1="418.4" y1="468.2" x2="418.4" y2="466.2" stroke="#222" stroke-width="1.0"/>
<line x1="420.4" y1="468.2" x2="420.4" y2="466.2" stroke="#222" stroke-width="1.0"/>
<line x1="422" y1="468.2" x2="422" y2="466.2" stroke="#222" stroke-width="1.0"/>
<line x1="423.5" y1="468.2" x2="423.5" y2="466.2" stroke="#222" stroke-width="1.0"/>
<line x1="424.8" y1="468.2" x2="424.8" y2="464.2" stroke="#222" stroke-width="1.0"/>
<line x1="433.4" y1="468.2" x2="433.4" y2="466.2" stroke="#222" stroke-width="1.0"/>
<line x1="438.4" y1="468.2" x2="438.4" y2="466.2" stroke="#222" stroke-width="1.0"/>
<line x1="442" y1="468.2" x2="442" y2="466.2" stroke="#222" stroke-width="1.0"/>
<line x1="444.8" y1="468.2" x2="444.8" y2="466.2" stroke="#222" stroke-width="1.0"/>
<line x1="447" y1="468.2" x2="447" y2="466.2" stroke="#222" stroke-width="1.0"/>
<line x1="448.9" y1="468.2" x2="448.9" y2="466.2" stroke="#222" stroke-width="1.0"/>
<line x1="450.6" y1="468.2" x2="450.6" y2="466.2" stroke="#222" stroke-width="1.0"/>
<line x1="452.1" y1="468.2" x2="452.1" y2="466.2" stroke="#222" stroke-width="1.0"/>
<line x1="453.4" y1="468.2" x2="453.4" y2="464.2" stroke="#222" stroke-width="1.0"/>
<line x1="462" y1="468.2" x2="462" y2="466.2" stroke="#222" stroke-width="1.0"/>
<line x1="467" y1="468.2" x2="467" y2="466.2" stroke="#222" stroke-width="1.0"/>
<line x1="470.6" y1="468.2" x2="470.6" y2="466.2" stroke="#222" stroke-width="1.0"/>
<line x1="473.4" y1="468.2" x2="473.4" y2="466.2" stroke="#222" stroke-width="1.0"/>
<line x1="475.6" y1="468.2" x2="475.6" y2="466.2" stroke="#222" stroke-width="1.0"/>
<line x1="477.5" y1="468.2" x2="477.5" y2="466.2" stroke="#222" stroke-width="1.0"/>
<line x1="479.2" y1="468.2" x2="479.2" y2="466.2" stroke="#222" stroke-width="1.0"/>
<line x1="480.7" y1="468.2" x2="480.7" y2="466.2" stroke="#222" stroke-width="1.0"/>
<line x1="482" y1="468.2" x2="482" y2="464.2" stroke="#222" stroke-width="1.0"/>
<line x1="490.6" y1="468.2" x2="490.6" y2="466.2" stroke="#222" stroke-width="1.0"/>
<line x1="495.6" y1="468.2" x2="495.6" y2="466.2" stroke="#222" stroke-width="1.0"/>
<line x1="499.2" y1="468.2" x2="499.2" y2="466.2" stroke="#222" stroke-width="1.0"/>
<line x1="501.9" y1="468.2" x2="501.9" y2="466.2" stroke="#222" stroke-width="1.0"/>
<line x1="504.2" y1="468.2" x2="504.2" y2="466.2" stroke="#222" stroke-width="1.0"/>
<line x1="506.1" y1="468.2" x2="506.1" y2="466.2" stroke="#222" stroke-width="1.0"/>
<line x1="507.8" y1="468.2" x2="507.8" y2="466.2" stroke="#222" stroke-width="1.0"/>
<line x1="509.2" y1="468.2" x2="509.2" y2="466.2" stroke="#222" stroke-width="1.0"/>
<line x1="510.6" y1="468.2" x2="510.6" y2="464.2" stroke="#222" stroke-width="1.0"/>
<line x1="519.2" y1="468.2" x2="519.2" y2="466.2" stroke="#222" stroke-width="1.0"/>
<line x1="524.2" y1="468.2" x2="524.2" y2="466.2" stroke="#222" stroke-width="1.0"/>
<line x1="527.8" y1="468.2" x2="527.8" y2="466.2" stroke="#222" stroke-width="1.0"/>
<line x1="530.5" y1="468.2" x2="530.5" y2="466.2" stroke="#222" stroke-width="1.0"/>
<line x1="532.8" y1="468.2" x2="532.8" y2="466.2" stroke="#222" stroke-width="1.0"/>
<line x1="534.7" y1="468.2" x2="534.7" y2="466.2" stroke="#222" stroke-width="1.0"/>
<line x1="536.4" y1="468.2" x2="536.4" y2="466.2" stroke="#222" stroke-width="1.0"/>
<line x1="537.8" y1="468.2" x2="537.8" y2="466.2" stroke="#222" stroke-width="1.0"/>
<line x1="539.1" y1="468.2" x2="539.1" y2="464.2" stroke="#222" stroke-width="1.0"/>
<line x1="547.8" y1="468.2" x2="547.8" y2="466.2" stroke="#222" stroke-width="1.0"/>
<line x1="552.8" y1="468.2" x2="552.8" y2="466.2" stroke="#222" stroke-width="1.0"/>
<line x1="556.4" y1="468.2" x2="556.4" y2="466.2" stroke="#222" stroke-width="1.0"/>
<line x1="559.1" y1="468.2" x2="559.1" y2="466.2" stroke="#222" stroke-width="1.0"/>
<line x1="561.4" y1="468.2" x2="561.4" y2="466.2" stroke="#222" stroke-width="1.0"/>
<line x1="563.3" y1="468.2" x2="563.3" y2="466.2" stroke="#222" stroke-width="1.0"/>
<line x1="565" y1="468.2" x2="565" y2="466.2" stroke="#222" stroke-width="1.0"/>
<line x1="566.4" y1="468.2" x2="566.4" y2="466.2" stroke="#222" stroke-width="1.0"/>
<line x1="567.7" y1="468.2" x2="567.7" y2="464.2" stroke="#222" stroke-width="1.0"/>
<line x1="576.3" y1="468.2" x2="576.3" y2="466.2" stroke="#222" stroke-width="1.0"/>
<line x1="581.4" y1="468.2" x2="581.4" y2="466.2" stroke="#222" stroke-width="1.0"/>
<line x1="584.9" y1="468.2" x2="584.9" y2="466.2" stroke="#222" stroke-width="1.0"/>
<line x1="587.7" y1="468.2" x2="587.7" y2="466.2" stroke="#222" stroke-width="1.0"/>
<line x1="590" y1="468.2" x2="590" y2="466.2" stroke="#222" stroke-width="1.0"/>
<line x1="591.9" y1="468.2" x2="591.9" y2="466.2" stroke="#222" stroke-width="1.0"/>
<line x1="593.6" y1="468.2" x2="593.6" y2="466.2" stroke="#222" stroke-width="1.0"/>
<line x1="595" y1="468.2" x2="595" y2="466.2" stroke="#222" stroke-width="1.0"/>
<line x1="596.3" y1="468.2" x2="596.3" y2="464.2" stroke="#222" stroke-width="1.0"/>
<line x1="604.9" y1="468.2" x2="604.9" y2="466.2" stroke="#222" stroke-width="1.0"/>
<line x1="610" y1="468.2" x2="610" y2="466.2" stroke="#222" stroke-width="1.0"/>
<line x1="613.5" y1="468.2" x2="613.5" y2="466.2" stroke="#222" stroke-width="1.0"/>
<line x1="616.3" y1="468.2" x2="616.3" y2="466.2" stroke="#222" stroke-width="1.0"/>
<line x1="618.6" y1="468.2" x2="618.6" y2="466.2" stroke="#222" stroke-width="1.0"/>
<line x1="620.5" y1="468.2" x2="620.5" y2="466.2" stroke="#222" stroke-width="1.0"/>
<line x1="622.1" y1="468.2" x2="622.1" y2="466.2" stroke="#222" stroke-width="1.0"/>
<line x1="623.6" y1="468.2" x2="623.6" y2="466.2" stroke="#222" stroke-width="1.0"/>
<line x1="624.9" y1="468.2" x2="624.9" y2="464.2" stroke="#222" stroke-width="1.0"/>
<line x1="633.5" y1="468.2" x2="633.5" y2="466.2" stroke="#222" stroke-width="1.0"/>
<line x1="638.6" y1="468.2" x2="638.6" y2="466.2" stroke="#222" stroke-width="1.0"/>
<line x1="642.1" y1="468.2" x2="642.1" y2="466.2" stroke="#222" stroke-width="1.0"/>
<line x1="644.9" y1="468.2" x2="644.9" y2="466.2" stroke="#222" stroke-width="1.0"/>
<line x1="647.2" y1="468.2" x2="647.2" y2="466.2" stroke="#222" stroke-width="1.0"/>
<line x1="649.1" y1="468.2" x2="649.1" y2="466.2" stroke="#222" stroke-width="1.0"/>
<line x1="650.7" y1="468.2" x2="650.7" y2="466.2" stroke="#222" stroke-width="1.0"/>
<line x1="652.2" y1="468.2" x2="652.2" y2="466.2" stroke="#222" stroke-width="1.0"/>
<text x="396.8" y="481.6" font-family='"Liberation Serif", serif' font-size="8.7" text-anchor="middle" stroke="#000" stroke-width="0.2">10<tspan font-size="6" dy="-4.0">&#8722;3</tspan></text>
<text x="425.4" y="481.6" font-family='"Liberation Serif", serif' font-size="8.7" text-anchor="middle" stroke="#000" stroke-width="0.2">10<tspan font-size="6" dy="-4.0">&#8722;2</tspan></text>
<text x="454" y="481.6" font-family='"Liberation Serif", serif' font-size="8.7" text-anchor="middle" stroke="#000" stroke-width="0.2">10<tspan font-size="6" dy="-4.0">&#8722;1</tspan></text>
<text x="482.6" y="481.6" font-family='"Liberation Serif", serif' font-size="8.7" text-anchor="middle" stroke="#000" stroke-width="0.2">10<tspan font-size="6" dy="-4.0">0</tspan></text>
<text x="511.2" y="481.6" font-family='"Liberation Serif", serif' font-size="8.7" text-anchor="middle" stroke="#000" stroke-width="0.2">10<tspan font-size="6" dy="-4.0">1</tspan></text>
<text x="539.7" y="481.6" font-family='"Liberation Serif", serif' font-size="8.7" text-anchor="middle" stroke="#000" stroke-width="0.2">10<tspan font-size="6" dy="-4.0">2</tspan></text>
<text x="568.3" y="481.6" font-family='"Liberation Serif", serif' font-size="8.7" text-anchor="middle" stroke="#000" stroke-width="0.2">10<tspan font-size="6" dy="-4.0">3</tspan></text>
<text x="596.9" y="481.6" font-family='"Liberation Serif", serif' font-size="8.7" text-anchor="middle" stroke="#000" stroke-width="0.2">10<tspan font-size="6" dy="-4.0">4</tspan></text>
<text x="625.5" y="481.6" font-family='"Liberation Serif", serif' font-size="8.7" text-anchor="middle" stroke="#000" stroke-width="0.2">10<tspan font-size="6" dy="-4.0">5</tspan></text>
<text x="654.1" y="481.6" font-family='"Liberation Serif", serif' font-size="8.7" text-anchor="middle" stroke="#000" stroke-width="0.2">10<tspan font-size="6" dy="-4.0">6</tspan></text>
<line x1="396.2" y1="453.8" x2="398.2" y2="453.8" stroke="#222" stroke-width="1.0"/>
<line x1="396.2" y1="445.3" x2="398.2" y2="445.3" stroke="#222" stroke-width="1.0"/>
<line x1="396.2" y1="439.3" x2="398.2" y2="439.3" stroke="#222" stroke-width="1.0"/>
<line x1="396.2" y1="434.7" x2="398.2" y2="434.7" stroke="#222" stroke-width="1.0"/>
<line x1="396.2" y1="430.9" x2="398.2" y2="430.9" stroke="#222" stroke-width="1.0"/>
<line x1="396.2" y1="427.7" x2="398.2" y2="427.7" stroke="#222" stroke-width="1.0"/>
<line x1="396.2" y1="424.9" x2="398.2" y2="424.9" stroke="#222" stroke-width="1.0"/>
<line x1="396.2" y1="422.4" x2="398.2" y2="422.4" stroke="#222" stroke-width="1.0"/>
<text x="386" y="472.2" font-family='"Liberation Serif", serif' font-size="8.7" text-anchor="middle" stroke="#000" stroke-width="0.2">10<tspan font-size="6" dy="-4.0">0</tspan></text>
<line x1="396.2" y1="420.2" x2="400.2" y2="420.2" stroke="#222" stroke-width="1.0"/>
<line x1="396.2" y1="405.8" x2="398.2" y2="405.8" stroke="#222" stroke-width="1.0"/>
<line x1="396.2" y1="397.3" x2="398.2" y2="397.3" stroke="#222" stroke-width="1.0"/>
<line x1="396.2" y1="391.3" x2="398.2" y2="391.3" stroke="#222" stroke-width="1.0"/>
<line x1="396.2" y1="386.7" x2="398.2" y2="386.7" stroke="#222" stroke-width="1.0"/>
<line x1="396.2" y1="382.9" x2="398.2" y2="382.9" stroke="#222" stroke-width="1.0"/>
<line x1="396.2" y1="379.7" x2="398.2" y2="379.7" stroke="#222" stroke-width="1.0"/>
<line x1="396.2" y1="376.9" x2="398.2" y2="376.9" stroke="#222" stroke-width="1.0"/>
<line x1="396.2" y1="374.4" x2="398.2" y2="374.4" stroke="#222" stroke-width="1.0"/>
<text x="386" y="424.2" font-family='"Liberation Serif", serif' font-size="8.7" text-anchor="middle" stroke="#000" stroke-width="0.2">10<tspan font-size="6" dy="-4.0">1</tspan></text>
<line x1="396.2" y1="372.2" x2="400.2" y2="372.2" stroke="#222" stroke-width="1.0"/>
<line x1="396.2" y1="357.8" x2="398.2" y2="357.8" stroke="#222" stroke-width="1.0"/>
<line x1="396.2" y1="349.3" x2="398.2" y2="349.3" stroke="#222" stroke-width="1.0"/>
<line x1="396.2" y1="343.4" x2="398.2" y2="343.4" stroke="#222" stroke-width="1.0"/>
<line x1="396.2" y1="338.7" x2="398.2" y2="338.7" stroke="#222" stroke-width="1.0"/>
<line x1="396.2" y1="334.9" x2="398.2" y2="334.9" stroke="#222" stroke-width="1.0"/>
<line x1="396.2" y1="331.7" x2="398.2" y2="331.7" stroke="#222" stroke-width="1.0"/>
<line x1="396.2" y1="328.9" x2="398.2" y2="328.9" stroke="#222" stroke-width="1.0"/>
<line x1="396.2" y1="326.5" x2="398.2" y2="326.5" stroke="#222" stroke-width="1.0"/>
<text x="386" y="376.2" font-family='"Liberation Serif", serif' font-size="8.7" text-anchor="middle" stroke="#000" stroke-width="0.2">10<tspan font-size="6" dy="-4.0">2</tspan></text>
<line x1="396.2" y1="324.3" x2="400.2" y2="324.3" stroke="#222" stroke-width="1.0"/>
<line x1="396.2" y1="309.8" x2="398.2" y2="309.8" stroke="#222" stroke-width="1.0"/>
<line x1="396.2" y1="301.4" x2="398.2" y2="301.4" stroke="#222" stroke-width="1.0"/>
<line x1="396.2" y1="295.4" x2="398.2" y2="295.4" stroke="#222" stroke-width="1.0"/>
<line x1="396.2" y1="290.7" x2="398.2" y2="290.7" stroke="#222" stroke-width="1.0"/>
<line x1="396.2" y1="286.9" x2="398.2" y2="286.9" stroke="#222" stroke-width="1.0"/>
<line x1="396.2" y1="283.7" x2="398.2" y2="283.7" stroke="#222" stroke-width="1.0"/>
<line x1="396.2" y1="280.9" x2="398.2" y2="280.9" stroke="#222" stroke-width="1.0"/>
<line x1="396.2" y1="278.5" x2="398.2" y2="278.5" stroke="#222" stroke-width="1.0"/>
<text x="386" y="328.3" font-family='"Liberation Serif", serif' font-size="8.7" text-anchor="middle" stroke="#000" stroke-width="0.2">10<tspan font-size="6" dy="-4.0">3</tspan></text>
<line x1="396.2" y1="276.3" x2="400.2" y2="276.3" stroke="#222" stroke-width="1.0"/>
<line x1="396.2" y1="261.8" x2="398.2" y2="261.8" stroke="#222" stroke-width="1.0"/>
<text x="386" y="280.3" font-family='"Liberation Serif", serif' font-size="8.7" text-anchor="middle" stroke="#000" stroke-width="0.2">10<tspan font-size="6" dy="-4.0">4</tspan></text>
<line x1="649.5" y1="455.1" x2="653.5" y2="455.1" stroke="#222" stroke-width="1.0"/>
<text x="658.1" y="458.2" font-family='"Liberation Serif", serif' font-size="9.0" font-weight="normal" text-anchor="start" fill="#000" stroke="#000" stroke-width="0.2">0</text>
<line x1="651.5" y1="441.3" x2="653.5" y2="441.3" stroke="#222" stroke-width="1.0"/>
<line x1="649.5" y1="427.5" x2="653.5" y2="427.5" stroke="#222" stroke-width="1.0"/>
<text x="658.1" y="430.6" font-family='"Liberation Serif", serif' font-size="9.0" font-weight="normal" text-anchor="start" fill="#000" stroke="#000" stroke-width="0.2"><tspan font-size="6.6" dy="-0.5">&#8722;</tspan><tspan dy="0.5">10</tspan></text>
<line x1="651.5" y1="413.7" x2="653.5" y2="413.7" stroke="#222" stroke-width="1.0"/>
<line x1="649.5" y1="399.9" x2="653.5" y2="399.9" stroke="#222" stroke-width="1.0"/>
<text x="658.1" y="403" font-family='"Liberation Serif", serif' font-size="9.0" font-weight="normal" text-anchor="start" fill="#000" stroke="#000" stroke-width="0.2"><tspan font-size="6.6" dy="-0.5">&#8722;</tspan><tspan dy="0.5">20</tspan></text>
<line x1="651.5" y1="386.1" x2="653.5" y2="386.1" stroke="#222" stroke-width="1.0"/>
<line x1="649.5" y1="372.3" x2="653.5" y2="372.3" stroke="#222" stroke-width="1.0"/>
<text x="658.1" y="375.4" font-family='"Liberation Serif", serif' font-size="9.0" font-weight="normal" text-anchor="start" fill="#000" stroke="#000" stroke-width="0.2"><tspan font-size="6.6" dy="-0.5">&#8722;</tspan><tspan dy="0.5">30</tspan></text>
<line x1="651.5" y1="358.5" x2="653.5" y2="358.5" stroke="#222" stroke-width="1.0"/>
<line x1="649.5" y1="344.7" x2="653.5" y2="344.7" stroke="#222" stroke-width="1.0"/>
<text x="658.1" y="347.8" font-family='"Liberation Serif", serif' font-size="9.0" font-weight="normal" text-anchor="start" fill="#000" stroke="#000" stroke-width="0.2"><tspan font-size="6.6" dy="-0.5">&#8722;</tspan><tspan dy="0.5">40</tspan></text>
<line x1="651.5" y1="330.9" x2="653.5" y2="330.9" stroke="#222" stroke-width="1.0"/>
<line x1="649.5" y1="317.1" x2="653.5" y2="317.1" stroke="#222" stroke-width="1.0"/>
<text x="658.1" y="320.2" font-family='"Liberation Serif", serif' font-size="9.0" font-weight="normal" text-anchor="start" fill="#000" stroke="#000" stroke-width="0.2"><tspan font-size="6.6" dy="-0.5">&#8722;</tspan><tspan dy="0.5">50</tspan></text>
<line x1="651.5" y1="303.3" x2="653.5" y2="303.3" stroke="#222" stroke-width="1.0"/>
<line x1="649.5" y1="289.5" x2="653.5" y2="289.5" stroke="#222" stroke-width="1.0"/>
<text x="658.1" y="292.6" font-family='"Liberation Serif", serif' font-size="9.0" font-weight="normal" text-anchor="start" fill="#000" stroke="#000" stroke-width="0.2"><tspan font-size="6.6" dy="-0.5">&#8722;</tspan><tspan dy="0.5">60</tspan></text>
<line x1="651.5" y1="275.7" x2="653.5" y2="275.7" stroke="#222" stroke-width="1.0"/>
<line x1="649.5" y1="261.9" x2="653.5" y2="261.9" stroke="#222" stroke-width="1.0"/>
<text x="658.1" y="265" font-family='"Liberation Serif", serif' font-size="9.0" font-weight="normal" text-anchor="start" fill="#000" stroke="#000" stroke-width="0.2"><tspan font-size="6.6" dy="-0.5">&#8722;</tspan><tspan dy="0.5">70</tspan></text>
<rect x="391.1" y="521.3" width="257.5" height="206.9" fill="none" stroke="#222" stroke-width="1.1"/>
<line x1="399.7" y1="728.2" x2="399.7" y2="726.2" stroke="#222" stroke-width="1.0"/>
<line x1="404.8" y1="728.2" x2="404.8" y2="726.2" stroke="#222" stroke-width="1.0"/>
<line x1="408.3" y1="728.2" x2="408.3" y2="726.2" stroke="#222" stroke-width="1.0"/>
<line x1="411.1" y1="728.2" x2="411.1" y2="726.2" stroke="#222" stroke-width="1.0"/>
<line x1="413.4" y1="728.2" x2="413.4" y2="726.2" stroke="#222" stroke-width="1.0"/>
<line x1="415.3" y1="728.2" x2="415.3" y2="726.2" stroke="#222" stroke-width="1.0"/>
<line x1="416.9" y1="728.2" x2="416.9" y2="726.2" stroke="#222" stroke-width="1.0"/>
<line x1="418.4" y1="728.2" x2="418.4" y2="726.2" stroke="#222" stroke-width="1.0"/>
<line x1="419.7" y1="728.2" x2="419.7" y2="724.2" stroke="#222" stroke-width="1.0"/>
<line x1="428.3" y1="728.2" x2="428.3" y2="726.2" stroke="#222" stroke-width="1.0"/>
<line x1="433.4" y1="728.2" x2="433.4" y2="726.2" stroke="#222" stroke-width="1.0"/>
<line x1="436.9" y1="728.2" x2="436.9" y2="726.2" stroke="#222" stroke-width="1.0"/>
<line x1="439.7" y1="728.2" x2="439.7" y2="726.2" stroke="#222" stroke-width="1.0"/>
<line x1="442" y1="728.2" x2="442" y2="726.2" stroke="#222" stroke-width="1.0"/>
<line x1="443.9" y1="728.2" x2="443.9" y2="726.2" stroke="#222" stroke-width="1.0"/>
<line x1="445.5" y1="728.2" x2="445.5" y2="726.2" stroke="#222" stroke-width="1.0"/>
<line x1="447" y1="728.2" x2="447" y2="726.2" stroke="#222" stroke-width="1.0"/>
<line x1="448.3" y1="728.2" x2="448.3" y2="724.2" stroke="#222" stroke-width="1.0"/>
<line x1="456.9" y1="728.2" x2="456.9" y2="726.2" stroke="#222" stroke-width="1.0"/>
<line x1="462" y1="728.2" x2="462" y2="726.2" stroke="#222" stroke-width="1.0"/>
<line x1="465.5" y1="728.2" x2="465.5" y2="726.2" stroke="#222" stroke-width="1.0"/>
<line x1="468.3" y1="728.2" x2="468.3" y2="726.2" stroke="#222" stroke-width="1.0"/>
<line x1="470.6" y1="728.2" x2="470.6" y2="726.2" stroke="#222" stroke-width="1.0"/>
<line x1="472.5" y1="728.2" x2="472.5" y2="726.2" stroke="#222" stroke-width="1.0"/>
<line x1="474.2" y1="728.2" x2="474.2" y2="726.2" stroke="#222" stroke-width="1.0"/>
<line x1="475.6" y1="728.2" x2="475.6" y2="726.2" stroke="#222" stroke-width="1.0"/>
<line x1="476.9" y1="728.2" x2="476.9" y2="724.2" stroke="#222" stroke-width="1.0"/>
<line x1="485.5" y1="728.2" x2="485.5" y2="726.2" stroke="#222" stroke-width="1.0"/>
<line x1="490.6" y1="728.2" x2="490.6" y2="726.2" stroke="#222" stroke-width="1.0"/>
<line x1="494.2" y1="728.2" x2="494.2" y2="726.2" stroke="#222" stroke-width="1.0"/>
<line x1="496.9" y1="728.2" x2="496.9" y2="726.2" stroke="#222" stroke-width="1.0"/>
<line x1="499.2" y1="728.2" x2="499.2" y2="726.2" stroke="#222" stroke-width="1.0"/>
<line x1="501.1" y1="728.2" x2="501.1" y2="726.2" stroke="#222" stroke-width="1.0"/>
<line x1="502.8" y1="728.2" x2="502.8" y2="726.2" stroke="#222" stroke-width="1.0"/>
<line x1="504.2" y1="728.2" x2="504.2" y2="726.2" stroke="#222" stroke-width="1.0"/>
<line x1="505.5" y1="728.2" x2="505.5" y2="724.2" stroke="#222" stroke-width="1.0"/>
<line x1="514.2" y1="728.2" x2="514.2" y2="726.2" stroke="#222" stroke-width="1.0"/>
<line x1="519.2" y1="728.2" x2="519.2" y2="726.2" stroke="#222" stroke-width="1.0"/>
<line x1="522.8" y1="728.2" x2="522.8" y2="726.2" stroke="#222" stroke-width="1.0"/>
<line x1="525.5" y1="728.2" x2="525.5" y2="726.2" stroke="#222" stroke-width="1.0"/>
<line x1="527.8" y1="728.2" x2="527.8" y2="726.2" stroke="#222" stroke-width="1.0"/>
<line x1="529.7" y1="728.2" x2="529.7" y2="726.2" stroke="#222" stroke-width="1.0"/>
<line x1="531.4" y1="728.2" x2="531.4" y2="726.2" stroke="#222" stroke-width="1.0"/>
<line x1="532.8" y1="728.2" x2="532.8" y2="726.2" stroke="#222" stroke-width="1.0"/>
<line x1="534.2" y1="728.2" x2="534.2" y2="724.2" stroke="#222" stroke-width="1.0"/>
<line x1="542.8" y1="728.2" x2="542.8" y2="726.2" stroke="#222" stroke-width="1.0"/>
<line x1="547.8" y1="728.2" x2="547.8" y2="726.2" stroke="#222" stroke-width="1.0"/>
<line x1="551.4" y1="728.2" x2="551.4" y2="726.2" stroke="#222" stroke-width="1.0"/>
<line x1="554.2" y1="728.2" x2="554.2" y2="726.2" stroke="#222" stroke-width="1.0"/>
<line x1="556.4" y1="728.2" x2="556.4" y2="726.2" stroke="#222" stroke-width="1.0"/>
<line x1="558.3" y1="728.2" x2="558.3" y2="726.2" stroke="#222" stroke-width="1.0"/>
<line x1="560" y1="728.2" x2="560" y2="726.2" stroke="#222" stroke-width="1.0"/>
<line x1="561.5" y1="728.2" x2="561.5" y2="726.2" stroke="#222" stroke-width="1.0"/>
<line x1="562.8" y1="728.2" x2="562.8" y2="724.2" stroke="#222" stroke-width="1.0"/>
<line x1="571.4" y1="728.2" x2="571.4" y2="726.2" stroke="#222" stroke-width="1.0"/>
<line x1="576.4" y1="728.2" x2="576.4" y2="726.2" stroke="#222" stroke-width="1.0"/>
<line x1="580" y1="728.2" x2="580" y2="726.2" stroke="#222" stroke-width="1.0"/>
<line x1="582.8" y1="728.2" x2="582.8" y2="726.2" stroke="#222" stroke-width="1.0"/>
<line x1="585" y1="728.2" x2="585" y2="726.2" stroke="#222" stroke-width="1.0"/>
<line x1="586.9" y1="728.2" x2="586.9" y2="726.2" stroke="#222" stroke-width="1.0"/>
<line x1="588.6" y1="728.2" x2="588.6" y2="726.2" stroke="#222" stroke-width="1.0"/>
<line x1="590.1" y1="728.2" x2="590.1" y2="726.2" stroke="#222" stroke-width="1.0"/>
<line x1="591.4" y1="728.2" x2="591.4" y2="724.2" stroke="#222" stroke-width="1.0"/>
<line x1="600" y1="728.2" x2="600" y2="726.2" stroke="#222" stroke-width="1.0"/>
<line x1="605" y1="728.2" x2="605" y2="726.2" stroke="#222" stroke-width="1.0"/>
<line x1="608.6" y1="728.2" x2="608.6" y2="726.2" stroke="#222" stroke-width="1.0"/>
<line x1="611.4" y1="728.2" x2="611.4" y2="726.2" stroke="#222" stroke-width="1.0"/>
<line x1="613.6" y1="728.2" x2="613.6" y2="726.2" stroke="#222" stroke-width="1.0"/>
<line x1="615.6" y1="728.2" x2="615.6" y2="726.2" stroke="#222" stroke-width="1.0"/>
<line x1="617.2" y1="728.2" x2="617.2" y2="726.2" stroke="#222" stroke-width="1.0"/>
<line x1="618.7" y1="728.2" x2="618.7" y2="726.2" stroke="#222" stroke-width="1.0"/>
<line x1="620" y1="728.2" x2="620" y2="724.2" stroke="#222" stroke-width="1.0"/>
<line x1="628.6" y1="728.2" x2="628.6" y2="726.2" stroke="#222" stroke-width="1.0"/>
<line x1="633.6" y1="728.2" x2="633.6" y2="726.2" stroke="#222" stroke-width="1.0"/>
<line x1="637.2" y1="728.2" x2="637.2" y2="726.2" stroke="#222" stroke-width="1.0"/>
<line x1="640" y1="728.2" x2="640" y2="726.2" stroke="#222" stroke-width="1.0"/>
<line x1="642.3" y1="728.2" x2="642.3" y2="726.2" stroke="#222" stroke-width="1.0"/>
<line x1="644.2" y1="728.2" x2="644.2" y2="726.2" stroke="#222" stroke-width="1.0"/>
<line x1="645.8" y1="728.2" x2="645.8" y2="726.2" stroke="#222" stroke-width="1.0"/>
<line x1="647.3" y1="728.2" x2="647.3" y2="726.2" stroke="#222" stroke-width="1.0"/>
<text x="391.7" y="741.6" font-family='"Liberation Serif", serif' font-size="8.7" text-anchor="middle" stroke="#000" stroke-width="0.2">10<tspan font-size="6" dy="-4.0">&#8722;3</tspan></text>
<text x="420.3" y="741.6" font-family='"Liberation Serif", serif' font-size="8.7" text-anchor="middle" stroke="#000" stroke-width="0.2">10<tspan font-size="6" dy="-4.0">&#8722;2</tspan></text>
<text x="448.9" y="741.6" font-family='"Liberation Serif", serif' font-size="8.7" text-anchor="middle" stroke="#000" stroke-width="0.2">10<tspan font-size="6" dy="-4.0">&#8722;1</tspan></text>
<text x="477.5" y="741.6" font-family='"Liberation Serif", serif' font-size="8.7" text-anchor="middle" stroke="#000" stroke-width="0.2">10<tspan font-size="6" dy="-4.0">0</tspan></text>
<text x="506.1" y="741.6" font-family='"Liberation Serif", serif' font-size="8.7" text-anchor="middle" stroke="#000" stroke-width="0.2">10<tspan font-size="6" dy="-4.0">1</tspan></text>
<text x="534.8" y="741.6" font-family='"Liberation Serif", serif' font-size="8.7" text-anchor="middle" stroke="#000" stroke-width="0.2">10<tspan font-size="6" dy="-4.0">2</tspan></text>
<text x="563.4" y="741.6" font-family='"Liberation Serif", serif' font-size="8.7" text-anchor="middle" stroke="#000" stroke-width="0.2">10<tspan font-size="6" dy="-4.0">3</tspan></text>
<text x="592" y="741.6" font-family='"Liberation Serif", serif' font-size="8.7" text-anchor="middle" stroke="#000" stroke-width="0.2">10<tspan font-size="6" dy="-4.0">4</tspan></text>
<text x="620.6" y="741.6" font-family='"Liberation Serif", serif' font-size="8.7" text-anchor="middle" stroke="#000" stroke-width="0.2">10<tspan font-size="6" dy="-4.0">5</tspan></text>
<text x="649.2" y="741.6" font-family='"Liberation Serif", serif' font-size="8.7" text-anchor="middle" stroke="#000" stroke-width="0.2">10<tspan font-size="6" dy="-4.0">6</tspan></text>
<line x1="391.1" y1="716.5" x2="393.1" y2="716.5" stroke="#222" stroke-width="1.0"/>
<line x1="391.1" y1="709.6" x2="393.1" y2="709.6" stroke="#222" stroke-width="1.0"/>
<line x1="391.1" y1="704.7" x2="393.1" y2="704.7" stroke="#222" stroke-width="1.0"/>
<line x1="391.1" y1="701" x2="393.1" y2="701" stroke="#222" stroke-width="1.0"/>
<line x1="391.1" y1="697.9" x2="393.1" y2="697.9" stroke="#222" stroke-width="1.0"/>
<line x1="391.1" y1="695.3" x2="393.1" y2="695.3" stroke="#222" stroke-width="1.0"/>
<line x1="391.1" y1="693" x2="393.1" y2="693" stroke="#222" stroke-width="1.0"/>
<line x1="391.1" y1="691" x2="393.1" y2="691" stroke="#222" stroke-width="1.0"/>
<text x="380.9" y="732.2" font-family='"Liberation Serif", serif' font-size="8.7" text-anchor="middle" stroke="#000" stroke-width="0.2">10<tspan font-size="6" dy="-4.0">0</tspan></text>
<line x1="391.1" y1="689.2" x2="395.1" y2="689.2" stroke="#222" stroke-width="1.0"/>
<line x1="391.1" y1="677.5" x2="393.1" y2="677.5" stroke="#222" stroke-width="1.0"/>
<line x1="391.1" y1="670.7" x2="393.1" y2="670.7" stroke="#222" stroke-width="1.0"/>
<line x1="391.1" y1="665.8" x2="393.1" y2="665.8" stroke="#222" stroke-width="1.0"/>
<line x1="391.1" y1="662" x2="393.1" y2="662" stroke="#222" stroke-width="1.0"/>
<line x1="391.1" y1="658.9" x2="393.1" y2="658.9" stroke="#222" stroke-width="1.0"/>
<line x1="391.1" y1="656.3" x2="393.1" y2="656.3" stroke="#222" stroke-width="1.0"/>
<line x1="391.1" y1="654.1" x2="393.1" y2="654.1" stroke="#222" stroke-width="1.0"/>
<line x1="391.1" y1="652.1" x2="393.1" y2="652.1" stroke="#222" stroke-width="1.0"/>
<text x="380.9" y="693.2" font-family='"Liberation Serif", serif' font-size="8.7" text-anchor="middle" stroke="#000" stroke-width="0.2">10<tspan font-size="6" dy="-4.0">1</tspan></text>
<line x1="391.1" y1="650.3" x2="395.1" y2="650.3" stroke="#222" stroke-width="1.0"/>
<line x1="391.1" y1="638.6" x2="393.1" y2="638.6" stroke="#222" stroke-width="1.0"/>
<line x1="391.1" y1="631.7" x2="393.1" y2="631.7" stroke="#222" stroke-width="1.0"/>
<line x1="391.1" y1="626.8" x2="393.1" y2="626.8" stroke="#222" stroke-width="1.0"/>
<line x1="391.1" y1="623" x2="393.1" y2="623" stroke="#222" stroke-width="1.0"/>
<line x1="391.1" y1="620" x2="393.1" y2="620" stroke="#222" stroke-width="1.0"/>
<line x1="391.1" y1="617.4" x2="393.1" y2="617.4" stroke="#222" stroke-width="1.0"/>
<line x1="391.1" y1="615.1" x2="393.1" y2="615.1" stroke="#222" stroke-width="1.0"/>
<line x1="391.1" y1="613.1" x2="393.1" y2="613.1" stroke="#222" stroke-width="1.0"/>
<text x="380.9" y="654.3" font-family='"Liberation Serif", serif' font-size="8.7" text-anchor="middle" stroke="#000" stroke-width="0.2">10<tspan font-size="6" dy="-4.0">2</tspan></text>
<line x1="391.1" y1="611.3" x2="395.1" y2="611.3" stroke="#222" stroke-width="1.0"/>
<line x1="391.1" y1="599.6" x2="393.1" y2="599.6" stroke="#222" stroke-width="1.0"/>
<line x1="391.1" y1="592.7" x2="393.1" y2="592.7" stroke="#222" stroke-width="1.0"/>
<line x1="391.1" y1="587.9" x2="393.1" y2="587.9" stroke="#222" stroke-width="1.0"/>
<line x1="391.1" y1="584.1" x2="393.1" y2="584.1" stroke="#222" stroke-width="1.0"/>
<line x1="391.1" y1="581" x2="393.1" y2="581" stroke="#222" stroke-width="1.0"/>
<line x1="391.1" y1="578.4" x2="393.1" y2="578.4" stroke="#222" stroke-width="1.0"/>
<line x1="391.1" y1="576.1" x2="393.1" y2="576.1" stroke="#222" stroke-width="1.0"/>
<line x1="391.1" y1="574.1" x2="393.1" y2="574.1" stroke="#222" stroke-width="1.0"/>
<text x="380.9" y="615.3" font-family='"Liberation Serif", serif' font-size="8.7" text-anchor="middle" stroke="#000" stroke-width="0.2">10<tspan font-size="6" dy="-4.0">3</tspan></text>
<line x1="391.1" y1="572.4" x2="395.1" y2="572.4" stroke="#222" stroke-width="1.0"/>
<line x1="391.1" y1="560.6" x2="393.1" y2="560.6" stroke="#222" stroke-width="1.0"/>
<line x1="391.1" y1="553.8" x2="393.1" y2="553.8" stroke="#222" stroke-width="1.0"/>
<line x1="391.1" y1="548.9" x2="393.1" y2="548.9" stroke="#222" stroke-width="1.0"/>
<line x1="391.1" y1="545.1" x2="393.1" y2="545.1" stroke="#222" stroke-width="1.0"/>
<line x1="391.1" y1="542" x2="393.1" y2="542" stroke="#222" stroke-width="1.0"/>
<line x1="391.1" y1="539.4" x2="393.1" y2="539.4" stroke="#222" stroke-width="1.0"/>
<line x1="391.1" y1="537.2" x2="393.1" y2="537.2" stroke="#222" stroke-width="1.0"/>
<line x1="391.1" y1="535.2" x2="393.1" y2="535.2" stroke="#222" stroke-width="1.0"/>
<text x="380.9" y="576.4" font-family='"Liberation Serif", serif' font-size="8.7" text-anchor="middle" stroke="#000" stroke-width="0.2">10<tspan font-size="6" dy="-4.0">4</tspan></text>
<line x1="391.1" y1="533.4" x2="395.1" y2="533.4" stroke="#222" stroke-width="1.0"/>
<line x1="391.1" y1="521.7" x2="393.1" y2="521.7" stroke="#222" stroke-width="1.0"/>
<text x="380.9" y="537.4" font-family='"Liberation Serif", serif' font-size="8.7" text-anchor="middle" stroke="#000" stroke-width="0.2">10<tspan font-size="6" dy="-4.0">5</tspan></text>
<line x1="644.6" y1="707" x2="648.6" y2="707" stroke="#222" stroke-width="1.0"/>
<text x="653.2" y="710.1" font-family='"Liberation Serif", serif' font-size="9.0" font-weight="normal" text-anchor="start" fill="#000" stroke="#000" stroke-width="0.2">0</text>
<line x1="646.6" y1="685.2" x2="648.6" y2="685.2" stroke="#222" stroke-width="1.0"/>
<line x1="644.6" y1="663.4" x2="648.6" y2="663.4" stroke="#222" stroke-width="1.0"/>
<text x="653.2" y="666.5" font-family='"Liberation Serif", serif' font-size="9.0" font-weight="normal" text-anchor="start" fill="#000" stroke="#000" stroke-width="0.2"><tspan font-size="6.6" dy="-0.5">&#8722;</tspan><tspan dy="0.5">20</tspan></text>
<line x1="646.6" y1="641.6" x2="648.6" y2="641.6" stroke="#222" stroke-width="1.0"/>
<line x1="644.6" y1="619.8" x2="648.6" y2="619.8" stroke="#222" stroke-width="1.0"/>
<text x="653.2" y="622.9" font-family='"Liberation Serif", serif' font-size="9.0" font-weight="normal" text-anchor="start" fill="#000" stroke="#000" stroke-width="0.2"><tspan font-size="6.6" dy="-0.5">&#8722;</tspan><tspan dy="0.5">40</tspan></text>
<line x1="646.6" y1="598" x2="648.6" y2="598" stroke="#222" stroke-width="1.0"/>
<line x1="644.6" y1="576.2" x2="648.6" y2="576.2" stroke="#222" stroke-width="1.0"/>
<text x="653.2" y="579.3" font-family='"Liberation Serif", serif' font-size="9.0" font-weight="normal" text-anchor="start" fill="#000" stroke="#000" stroke-width="0.2"><tspan font-size="6.6" dy="-0.5">&#8722;</tspan><tspan dy="0.5">60</tspan></text>
<line x1="646.6" y1="554.4" x2="648.6" y2="554.4" stroke="#222" stroke-width="1.0"/>
<line x1="644.6" y1="532.6" x2="648.6" y2="532.6" stroke="#222" stroke-width="1.0"/>
<text x="653.2" y="535.7" font-family='"Liberation Serif", serif' font-size="9.0" font-weight="normal" text-anchor="start" fill="#000" stroke="#000" stroke-width="0.2"><tspan font-size="6.6" dy="-0.5">&#8722;</tspan><tspan dy="0.5">80</tspan></text>
<text x="521.9" y="236.5" font-family='"Liberation Serif", serif' font-size="11" font-weight="bold" text-anchor="middle">Frequncy( &#160;Hz)</text>
<text transform="translate(374.2,0) rotate(-90)" font-family='"Liberation Serif", serif' font-size="11.2" font-weight="bold"><tspan x="-136.6" y="0">|Z|</tspan><tspan x="-125" y="-1.8">(</tspan><tspan x="-113.8" y="0">&#937;&#183;cm</tspan><tspan font-size="7.2" dy="-4.2">2</tspan><tspan dy="2.4">)</tspan></text>
<text transform="translate(683.2,0) rotate(-90)" x="-151.4" y="0" font-family='"Liberation Serif", serif' font-size="11" font-weight="bold" textLength="86.0" lengthAdjust="spacingAndGlyphs">Phase angle( &#160;Deg)</text>
<text x="521.9" y="496.2" font-family='"Liberation Serif", serif' font-size="11" font-weight="bold" text-anchor="middle">Frequncy( &#160;Hz)</text>
<text transform="translate(375.2,0) rotate(-90)" font-family='"Liberation Serif", serif' font-size="11.2" font-weight="bold"><tspan x="-395.6" y="0">|Z|</tspan><tspan x="-384" y="-1.8">(</tspan><tspan x="-372.8" y="0">&#937;&#183;cm</tspan><tspan font-size="7.2" dy="-4.2">2</tspan><tspan dy="2.4">)</tspan></text>
<text transform="translate(683.6,0) rotate(-90)" x="-411.1" y="0" font-family='"Liberation Serif", serif' font-size="11" font-weight="bold" textLength="86.0" lengthAdjust="spacingAndGlyphs">Phase angle( &#160;Deg)</text>
<text x="516.9" y="756.2" font-family='"Liberation Serif", serif' font-size="11" font-weight="bold" text-anchor="middle">Frequncy( &#160;Hz)</text>
<text transform="translate(369.2,0) rotate(-90)" font-family='"Liberation Serif", serif' font-size="11.2" font-weight="bold"><tspan x="-656.3" y="0">|Z|</tspan><tspan x="-644.7" y="-1.8">(</tspan><tspan x="-633.5" y="0">&#937;&#183;cm</tspan><tspan font-size="7.2" dy="-4.2">2</tspan><tspan dy="2.4">)</tspan></text>
<text transform="translate(678.3,0) rotate(-90)" x="-671.1" y="0" font-family='"Liberation Serif", serif' font-size="11" font-weight="bold" textLength="86.0" lengthAdjust="spacingAndGlyphs">Phase angle( &#160;Deg)</text>
<polyline points="424.4,195 425.1,194.9 425.8,194.8 426.5,194.7 427.2,194.5 427.9,194.4 428.6,194.3 429.3,194.1 430,193.9 430.7,193.8 431.4,193.6 432.1,193.4 432.8,193.2 433.5,193 434.2,192.8 434.9,192.6 435.6,192.4 436.3,192.2 437,192 437.7,191.8 438.4,191.5 439.1,191.3 439.8,191.1 440.5,190.8 441.2,190.6 441.9,190.3 442.6,190.1 443.3,189.8 444,189.5 444.7,189.2 445.4,188.9 446.1,188.6 446.8,188.2 447.5,187.9 448.2,187.5 448.9,187.1 449.6,186.7 450.3,186.3 451,185.9 451.7,185.4 452.4,184.9 453.1,184.4 453.8,183.8 454.5,183.3 455.2,182.7 455.9,182 456.6,181.4 457.3,180.7 458,180 458.7,179.3 459.4,178.6 460.1,177.9 460.8,177.1 461.5,176.3 462.2,175.5 462.9,174.7 463.6,173.8 464.3,172.8 465,171.9 465.7,170.9 466.4,169.9 467.1,168.8 467.8,167.7 468.5,166.6 469.2,165.4 469.9,164.2 470.6,162.9 471.3,161.5 472,160 472.7,158.5 473.4,156.9 474.1,155.2 474.8,153.5 475.5,151.7 476.2,150 476.9,148.2 477.6,146.5 478.3,144.7 479,142.9 479.7,141.1 480.4,139.3 481.1,137.4 481.8,135.4 482.5,133.5 483.2,131.5 483.9,129.4 484.6,127.3 485.3,125 486,122.7 486.7,120.3 487.4,117.9 488.1,115.5 488.8,113.1 489.5,110.7 490.2,108.4 490.9,106.2 491.6,104 492.3,101.9 493,99.8 493.7,97.7 494.4,95.7 495.1,93.7 495.8,91.7 496.5,89.8 497.2,87.9 497.9,86 498.6,84.2 499.3,82.5 500,80.8 500.7,79.1 501.4,77.5 502.1,75.9 502.8,74.3 503.5,72.8 504.2,71.3 504.9,69.8 505.6,68.4 506.3,67 507,65.7 507.7,64.5 508.4,63.2 509.1,62 509.8,60.8 510.5,59.7 511.2,58.6 511.9,57.5 512.6,56.4 513.3,55.5 514,54.5 514.7,53.7 515.4,52.9 516.1,52.1 516.8,51.4 517.5,50.7 518.2,50 518.9,49.4 519.6,48.8 520.3,48.2 521,47.7 521.7,47.2 522.4,46.7 523.1,46.4 523.8,46 524.5,45.7 525.2,45.3 525.9,45 526.6,44.7 527.3,44.5 528,44.2 528.7,44 529.4,43.8 530.1,43.7 530.8,43.5 531.5,43.4 532.2,43.4 532.9,43.3 533.6,43.2 534.3,43.1 535,43.1 535.7,43 536.4,43 537.1,43 537.8,43 538.5,43.1 539.2,43.1 539.9,43.2 540.6,43.4 541.3,43.5 542,43.7 542.7,43.8 543.4,44 544.1,44.2 544.8,44.4 545.5,44.7 546.2,45 546.9,45.4 547.6,45.9 548.3,46.4 549,47 549.7,47.6 550.4,48.3 551.1,49 551.8,49.8 552.5,50.6 553.2,51.5 553.9,52.5 554.6,53.6 555.3,54.8 556,56.1 556.7,57.5 557.4,58.9 558.1,60.3 558.8,61.7 559.5,63.2 560.2,64.7 560.9,66.4 561.6,68.1 562.3,69.8 563,71.7 563.7,73.5 564.4,75.5 565.1,77.4 565.8,79.4 566.5,81.5 567.2,83.6 567.9,85.9 568.6,88.2 569.3,90.5 570,92.9 570.7,95.2 571.4,97.5 572.1,99.7 572.8,101.8 573.5,103.9 574.2,106 574.9,108.1 575.6,110.1 576.3,112.1 577,114.1 577.7,116.2 578.4,118.2 579.1,120.3 579.8,122.4 580.5,124.6 581.2,126.7 581.9,128.9 582.6,131.1 583.3,133.2 584,135.2 584.7,137.2 585.4,139.1 586.1,140.9 586.8,142.7 587.5,144.5 588.2,146.2 588.9,147.9 589.6,149.6 590.3,151.2 591,152.8 591.7,154.3 592.4,155.8 593.1,157.2 593.8,158.6 594.5,159.9 595.2,161.2 595.9,162.5 596.6,163.8 597.3,165 598,166.2 598.7,167.3 599.4,168.4 600.1,169.5 600.8,170.5 601.5,171.5 601.8,171.9" fill="none" stroke="#333333" stroke-width="0.8" stroke-linejoin="round" stroke-opacity="1.0"/>
<polyline points="424.4,194 425.1,194 425.8,194 426.5,193.9 427.2,193.9 427.9,193.8 428.6,193.7 429.3,193.6 430,193.5 430.7,193.3 431.4,193.2 432.1,193 432.8,192.8 433.5,192.6 434.2,192.4 434.9,192.2 435.6,192 436.3,191.8 437,191.5 437.7,191.2 438.4,191 439.1,190.7 439.8,190.4 440.5,190.1 441.2,189.8 441.9,189.5 442.6,189.2 443.3,188.8 444,188.5 444.7,188.1 445.4,187.8 446.1,187.3 446.8,186.8 447.5,186.2 448.2,185.5 448.9,184.7 449.6,183.9 450.3,183 451,182.1 451.7,181.1 452.4,180.1 453.1,179.1 453.8,178 454.5,177 455.2,175.9 455.9,174.8 456.6,173.7 457.3,172.6 458,171.5 458.7,170.3 459.4,169.1 460.1,167.9 460.8,166.6 461.5,165.3 462.2,163.9 462.9,162.5 463.6,161 464.3,159.5 465,158 465.7,156.4 466.4,154.7 467.1,152.9 467.8,151 468.5,149.2 469.2,147.3 469.9,145.5 470.6,143.7 471.3,142.1 472,140.4 472.7,138.9 473.4,137.3 474.1,135.8 474.8,134.3 475.5,132.7 476.2,131.1 476.9,129.5 477.6,127.8 478.3,126 479,124.2 479.7,122.4 480.4,120.5 481.1,118.6 481.8,116.7 482.5,114.8 483.2,112.9 483.9,110.9 484.6,108.9 485.3,106.9 486,104.9 486.7,102.9 487.4,100.9 488.1,98.7 488.8,96.6 489.5,94.4 490.2,92.2 490.9,90 491.6,87.9 492.3,85.7 493,83.7 493.7,81.7 494.4,79.8 495.1,78 495.8,76.2 496.5,74.4 497.2,72.7 497.9,71 498.6,69.4 499.3,67.7 500,66.2 500.7,64.7 501.4,63.2 502.1,61.8 502.8,60.4 503.5,59.1 504.2,57.8 504.9,56.5 505.6,55.2 506.3,54 507,52.8 507.7,51.7 508.4,50.6 509.1,49.7 509.8,48.8 510.5,47.9 511.2,47.1 511.9,46.4 512.6,45.6 513.3,44.9 514,44.2 514.7,43.6 515.4,43 516.1,42.4 516.8,41.9 517.5,41.5 518.2,41.1 518.9,40.7 519.6,40.4 520.3,40 521,39.7 521.7,39.4 522.4,39.1 523.1,38.8 523.8,38.6 524.5,38.3 525.2,38.1 525.9,37.9 526.6,37.7 527.3,37.5 528,37.3 528.7,37.2 529.4,37 530.1,36.8 530.8,36.7 531.5,36.5 532.2,36.4 532.9,36.2 533.6,36.1 534.3,36 535,35.8 535.7,35.7 536.4,35.7 537.1,35.6 537.8,35.5 538.5,35.5 539.2,35.5 539.9,35.5 540.6,35.5 541.3,35.6 542,35.6 542.7,35.7 543.4,35.8 544.1,35.9 544.8,36 545.5,36.1 546.2,36.2 546.9,36.3 547.6,36.4 548.3,36.6 549,36.7 549.7,37 550.4,37.2 551.1,37.6 551.8,37.9 552.5,38.3 553.2,38.8 553.9,39.2 554.6,39.7 555.3,40.2 556,40.9 556.7,41.7 557.4,42.5 558.1,43.5 558.8,44.6 559.5,45.7 560.2,46.9 560.9,48.1 561.6,49.3 562.3,50.5 563,51.8 563.7,53.2 564.4,54.6 565.1,56.1 565.8,57.6 566.5,59.3 567.2,60.9 567.9,62.6 568.6,64.4 569.3,66.2 570,68 570.7,69.9 571.4,72 572.1,74.1 572.8,76.4 573.5,78.7 574.2,81.1 574.9,83.5 575.6,85.9 576.3,88.2 577,90.6 577.7,92.9 578.4,95.1 579.1,97.2 579.8,99.3 580.5,101.3 581.2,103.3 581.9,105.3 582.6,107.2 583.3,109.2 584,111.1 584.7,113 585.4,114.9 586.1,116.9 586.8,118.8 587.5,120.8 588.2,122.7 588.9,124.8 589.6,126.8 590.3,128.9 591,131.1 591.7,133.4 592.4,135.7 593.1,138 593.8,140.3 594.5,142.6 595.2,144.8 595.9,146.9 596.6,148.9 597.3,150.8 598,152.6 598.7,154.3 599.4,156 600.1,157.6 600.8,159.2 601.5,160.8 602.2,162.3 602.9,163.7 603.6,165 604.3,166.3 604.7,167" fill="none" stroke="#ff3030" stroke-width="0.8" stroke-linejoin="round" stroke-opacity="1.0"/>
<polyline points="424.4,172 425.1,170.8 425.8,169.6 426.5,168.4 427.2,167.2 427.9,165.9 428.6,164.6 429.3,163.3 430,162 430.7,160.6 431.4,159.2 432.1,157.8 432.8,156.4 433.5,155 434.2,153.5 434.9,152 435.6,150.4 436.3,148.9 437,147.3 437.7,145.7 438.4,144 439.1,142.4 439.8,140.7 440.5,139 441.2,137.3 441.9,135.6 442.6,133.8 443.3,132 444,130.2 444.7,128.4 445.4,126.5 446.1,124.6 446.8,122.6 447.5,120.5 448.2,118.3 448.9,116 449.6,113.7 450.3,111.3 451,109.1 451.7,106.9 452.4,104.8 453.1,102.9 453.8,101 454.5,99.1 455.2,97.3 455.9,95.4 456.6,93.6 457.3,91.8 458,90 458.7,88.2 459.4,86.3 460.1,84.4 460.8,82.6 461.5,80.8 462.2,78.9 462.9,77.1 463.6,75.4 464.3,73.7 465,72 465.7,70.4 466.4,68.7 467.1,67.1 467.8,65.6 468.5,64 469.2,62.5 469.9,61 470.6,59.6 471.3,58.3 472,57 472.7,55.8 473.4,54.6 474.1,53.4 474.8,52.2 475.5,51.1 476.2,50.1 476.9,49 477.6,48 478.3,47.1 479,46.2 479.7,45.3 480.4,44.6 481.1,43.8 481.8,43 482.5,42.3 483.2,41.6 483.9,41 484.6,40.3 485.3,39.7 486,39.1 486.7,38.5 487.4,38 488.1,37.4 488.8,36.9 489.5,36.4 490.2,35.9 490.9,35.4 491.6,34.9 492.3,34.4 493,33.9 493.7,33.4 494.4,33 495.1,32.5 495.8,32.1 496.5,31.7 497.2,31.3 497.9,31 498.6,30.6 499.3,30.3 500,30 500.7,29.7 501.4,29.5 502.1,29.2 502.8,29 503.5,28.7 504.2,28.5 504.9,28.3 505.6,28.1 506.3,27.9 507,27.7 507.7,27.5 508.4,27.3 509.1,27.2 509.8,27 510.5,26.9 511.2,26.8 511.9,26.6 512.6,26.5 513.3,26.4 514,26.3 514.7,26.1 515.4,26 516.1,25.9 516.8,25.8 517.5,25.7 518.2,25.7 518.9,25.6 519.6,25.5 520.3,25.5 521,25.4 521.7,25.4 522.4,25.3 523.1,25.3 523.8,25.2 524.5,25.2 525.2,25.1 525.9,25.1 526.6,25.1 527.3,25 528,25 528.7,25 529.4,25 530.1,25 530.8,25 531.5,25.1 532.2,25.1 532.9,25.2 533.6,25.3 534.3,25.4 535,25.5 535.7,25.6 536.4,25.7 537.1,25.9 537.8,26 538.5,26.2 539.2,26.3 539.9,26.5 540.6,26.6 541.3,26.8 542,27 542.7,27.2 543.4,27.4 544.1,27.6 544.8,27.9 545.5,28.1 546.2,28.4 546.9,28.6 547.6,28.9 548.3,29.2 549,29.5 549.7,29.9 550.4,30.2 551.1,30.5 551.8,30.9 552.5,31.3 553.2,31.7 553.9,32.2 554.6,32.7 555.3,33.2 556,33.7 556.7,34.2 557.4,34.8 558.1,35.3 558.8,35.9 559.5,36.5 560.2,37.2 560.9,37.9 561.6,38.6 562.3,39.4 563,40.2 563.7,41 564.4,41.9 565.1,42.8 565.8,43.8 566.5,44.8 567.2,45.8 567.9,46.8 568.6,47.9 569.3,48.9 570,50 570.7,51.1 571.4,52.3 572.1,53.5 572.8,54.7 573.5,56 574.2,57.3 574.9,58.6 575.6,60 576.3,61.4 577,62.8 577.7,64.2 578.4,65.7 579.1,67.1 579.8,68.6 580.5,70 581.2,71.5 581.9,73 582.6,74.4 583.3,75.9 584,77.5 584.7,79 585.4,80.6 586.1,82.2 586.8,83.8 587.5,85.5 588.2,87.3 588.9,89.1 589.6,90.9 590.3,92.8 591,94.9 591.7,97 592.4,99.3 593.1,101.7 593.8,104.1 594.5,106.6 595.2,109.1 595.9,111.6 596.6,114.2 597.3,116.7 598,119.2 598.7,121.6 599.4,124 600.1,126.3 600.8,128.6 601.5,130.8 602.2,133.1 602.9,135.3 603.6,137.5 604.3,139.7 605,141.9 605.7,144 606.4,146.2 607.1,148.3 607.8,150.5 608.5,152.6 609.2,154.7 609.9,156.7 610.6,158.8 610.7,159.1" fill="none" stroke="#55ff55" stroke-width="0.8" stroke-linejoin="round" stroke-opacity="1.0"/>
<polyline points="424.4,123.7 425.1,121.5 425.8,119.3 426.5,117.1 427.2,114.9 427.9,112.8 428.6,110.7 429.3,108.7 430,106.6 430.7,104.6 431.4,102.7 432.1,100.7 432.8,98.8 433.5,96.9 434.2,95.1 434.9,93.3 435.6,91.5 436.3,89.7 437,87.9 437.7,86.2 438.4,84.5 439.1,82.8 439.8,81.1 440.5,79.4 441.2,77.7 441.9,76.1 442.6,74.5 443.3,72.9 444,71.4 444.7,70 445.4,68.6 446.1,67.2 446.8,65.9 447.5,64.6 448.2,63.3 448.9,62 449.6,60.7 450.3,59.5 451,58.2 451.7,56.9 452.4,55.6 453.1,54.4 453.8,53.2 454.5,52 455.2,50.9 455.9,49.9 456.6,49 457.3,48.1 458,47.2 458.7,46.4 459.4,45.6 460.1,44.9 460.8,44.2 461.5,43.6 462.2,43 462.9,42.5 463.6,42 464.3,41.5 465,41 465.7,40.6 466.4,40.1 467.1,39.7 467.8,39.3 468.5,38.9 469.2,38.6 469.9,38.2 470.6,37.8 471.3,37.5 472,37.2 472.7,36.8 473.4,36.5 474.1,36.2 474.8,35.9 475.5,35.5 476.2,35.2 476.9,34.9 477.6,34.5 478.3,34.2 479,33.8 479.7,33.5 480.4,33.2 481.1,32.9 481.8,32.5 482.5,32.3 483.2,32 483.9,31.7 484.6,31.5 485.3,31.3 486,31.1 486.7,30.9 487.4,30.8 488.1,30.7 488.8,30.6 489.5,30.5 490.2,30.4 490.9,30.4 491.6,30.3 492.3,30.2 493,30.2 493.7,30.1 494.4,30.1 495.1,30.1 495.8,30 496.5,30 497.2,30 497.9,30 498.6,30 499.3,30 500,30 500.7,30 501.4,30.1 502.1,30.1 502.8,30.1 503.5,30.1 504.2,30.2 504.9,30.2 505.6,30.2 506.3,30.3 507,30.3 507.7,30.3 508.4,30.4 509.1,30.4 509.8,30.5 510.5,30.5 511.2,30.6 511.9,30.7 512.6,30.8 513.3,30.9 514,31 514.7,31.1 515.4,31.2 516.1,31.4 516.8,31.5 517.5,31.6 518.2,31.7 518.9,31.8 519.6,31.9 520.3,32 521,32.1 521.7,32.3 522.4,32.4 523.1,32.5 523.8,32.6 524.5,32.7 525.2,32.8 525.9,32.9 526.6,33 527.3,33.1 528,33.2 528.7,33.3 529.4,33.4 530.1,33.5 530.8,33.6 531.5,33.7 532.2,33.8 532.9,33.9 533.6,34 534.3,34.1 535,34.2 535.7,34.3 536.4,34.4 537.1,34.5 537.8,34.6 538.5,34.7 539.2,34.8 539.9,35 540.6,35.1 541.3,35.3 542,35.6 542.7,35.8 543.4,36.1 544.1,36.3 544.8,36.6 545.5,36.9 546.2,37.3 546.9,37.6 547.6,37.9 548.3,38.2 549,38.5 549.7,38.9 550.4,39.2 551.1,39.5 551.8,39.8 552.5,40.1 553.2,40.5 553.9,40.8 554.6,41.1 555.3,41.5 556,41.9 556.7,42.2 557.4,42.6 558.1,43 558.8,43.3 559.5,43.7 560.2,44.1 560.9,44.5 561.6,44.9 562.3,45.3 563,45.8 563.7,46.2 564.4,46.7 565.1,47.1 565.8,47.6 566.5,48.1 567.2,48.6 567.9,49.2 568.6,49.7 569.3,50.3 570,50.9 570.7,51.5 571.4,52.2 572.1,52.8 572.8,53.6 573.5,54.3 574.2,55.2 574.9,56.1 575.6,57 576.3,58 577,59 577.7,60.1 578.4,61.2 579.1,62.4 579.8,63.6 580.5,64.9 581.2,66.2 581.9,67.6 582.6,69.1 583.3,70.7 584,72.4 584.7,74.1 585.4,75.9 586.1,77.7 586.8,79.5 587.5,81.3 588.2,83.2 588.9,85.1 589.6,87 590.3,89 591,91 591.7,93 592.4,95.1 593.1,97.2 593.8,99.3 594.5,101.5 595.2,103.8 595.9,106 596.6,108.3 597.3,110.7 598,113 598.7,115.4 599.4,117.9 600.1,120.4 600.8,122.8 601.5,125.3 602.2,127.7 602.9,130.1 603.6,132.5 604.3,134.9 605,137.1 605.7,139.2 606.4,141 607.1,142.8 607.8,144.5 608.5,146.1 609.2,147.6 609.9,149.1 610.6,150.4 611.3,151.5 611.6,152" fill="none" stroke="#5050ff" stroke-width="0.8" stroke-linejoin="round" stroke-opacity="1.0"/>
<polyline points="424.4,98 425.1,96.1 425.8,94.2 426.5,92.4 427.2,90.6 427.9,88.9 428.6,87.2 429.3,85.6 430,84 430.7,82.5 431.4,81 432.1,79.6 432.8,78.2 433.5,76.8 434.2,75.4 434.9,74.1 435.6,72.8 436.3,71.4 437,70.1 437.7,68.7 438.4,67.4 439.1,66.1 439.8,64.8 440.5,63.5 441.2,62.3 441.9,61.2 442.6,60.1 443.3,59 444,57.9 444.7,56.9 445.4,55.9 446.1,54.9 446.8,54 447.5,53.1 448.2,52.2 448.9,51.3 449.6,50.5 450.3,49.7 451,48.9 451.7,48.1 452.4,47.4 453.1,46.6 453.8,45.9 454.5,45.3 455.2,44.7 455.9,44.1 456.6,43.5 457.3,43 458,42.5 458.7,42 459.4,41.6 460.1,41.1 460.8,40.7 461.5,40.3 462.2,39.9 462.9,39.5 463.6,39.1 464.3,38.7 465,38.3 465.7,38 466.4,37.6 467.1,37.3 467.8,36.9 468.5,36.6 469.2,36.3 469.9,36 470.6,35.8 471.3,35.5 472,35.2 472.7,35 473.4,34.7 474.1,34.4 474.8,34.2 475.5,34 476.2,33.8 476.9,33.6 477.6,33.4 478.3,33.2 479,33.1 479.7,33 480.4,33 481.1,32.9 481.8,32.9 482.5,32.8 483.2,32.8 483.9,32.7 484.6,32.7 485.3,32.6 486,32.6 486.7,32.6 487.4,32.5 488.1,32.5 488.8,32.5 489.5,32.5 490.2,32.5 490.9,32.5 491.6,32.5 492.3,32.6 493,32.6 493.7,32.7 494.4,32.8 495.1,32.8 495.8,32.9 496.5,33 497.2,33.1 497.9,33.2 498.6,33.3 499.3,33.4 500,33.5 500.7,33.6 501.4,33.7 502.1,33.8 502.8,34 503.5,34.1 504.2,34.2 504.9,34.4 505.6,34.5 506.3,34.7 507,34.9 507.7,35 508.4,35.2 509.1,35.3 509.8,35.5 510.5,35.6 511.2,35.7 511.9,35.9 512.6,36 513.3,36.2 514,36.3 514.7,36.5 515.4,36.6 516.1,36.8 516.8,36.9 517.5,37 518.2,37.2 518.9,37.3 519.6,37.4 520.3,37.6 521,37.7 521.7,37.8 522.4,37.9 523.1,38 523.8,38.1 524.5,38.2 525.2,38.3 525.9,38.4 526.6,38.6 527.3,38.6 528,38.7 528.7,38.8 529.4,38.9 530.1,39 530.8,39.1 531.5,39.2 532.2,39.2 532.9,39.3 533.6,39.4 534.3,39.4 535,39.5 535.7,39.6 536.4,39.6 537.1,39.7 537.8,39.8 538.5,39.8 539.2,39.9 539.9,40 540.6,40.1 541.3,40.2 542,40.2 542.7,40.3 543.4,40.4 544.1,40.5 544.8,40.6 545.5,40.7 546.2,40.8 546.9,41 547.6,41.1 548.3,41.2 549,41.3 549.7,41.4 550.4,41.6 551.1,41.7 551.8,41.9 552.5,42 553.2,42.1 553.9,42.3 554.6,42.5 555.3,42.6 556,42.8 556.7,43 557.4,43.2 558.1,43.4 558.8,43.6 559.5,43.8 560.2,44.1 560.9,44.3 561.6,44.6 562.3,44.9 563,45.2 563.7,45.5 564.4,45.9 565.1,46.2 565.8,46.6 566.5,47 567.2,47.5 567.9,47.9 568.6,48.4 569.3,49 570,49.6 570.7,50.2 571.4,50.9 572.1,51.6 572.8,52.4 573.5,53.2 574.2,54 574.9,54.9 575.6,55.8 576.3,56.7 577,57.7 577.7,58.8 578.4,59.9 579.1,61 579.8,62.2 580.5,63.4 581.2,64.6 581.9,65.8 582.6,67.1 583.3,68.3 584,69.6 584.7,71 585.4,72.3 586.1,73.7 586.8,75.1 587.5,76.6 588.2,78 588.9,79.6 589.6,81.1 590.3,82.7 591,84.3 591.7,86 592.4,87.7 593.1,89.5 593.8,91.3 594.5,93.1 595.2,95 595.9,96.9 596.6,98.9 597.3,100.8 598,102.8 598.7,104.9 599.4,107 600.1,109.1 600.8,111.2 601.5,113.4 602.2,115.6 602.9,117.9 603.6,120.2 604.3,122.6 605,125 605.7,127.5 606.4,130 607.1,132.6 607.8,135.2 608.5,137.9 609.2,140.7 609.9,143.5 610.6,146.3 611.3,149.2 612,152.2 612.7,155.2 613.4,158.2 613.6,159.1" fill="none" stroke="#ff99ff" stroke-width="0.8" stroke-linejoin="round" stroke-opacity="1.0"/>
<path d="M423.5 101h2.6v2.6h-2.6zM426.3 101h2.6v2.6h-2.6zM429.2 101h2.6v2.6h-2.6zM432.1 101h2.6v2.6h-2.6zM434.9 101.1h2.6v2.6h-2.6zM437.8 101.1h2.6v2.6h-2.6zM440.6 101.2h2.6v2.6h-2.6zM443.5 101.2h2.6v2.6h-2.6zM446.4 101.3h2.6v2.6h-2.6zM449.2 101.4h2.6v2.6h-2.6zM452.1 101.4h2.6v2.6h-2.6zM454.9 101.6h2.6v2.6h-2.6zM457.8 101.8h2.6v2.6h-2.6zM460.7 102h2.6v2.6h-2.6zM463.5 102.3h2.6v2.6h-2.6zM466.4 102.6h2.6v2.6h-2.6zM469.2 103.1h2.6v2.6h-2.6zM472.1 103.9h2.6v2.6h-2.6zM475 104.7h2.6v2.6h-2.6zM477.8 105.5h2.6v2.6h-2.6zM480.7 106.5h2.6v2.6h-2.6zM483.5 107.6h2.6v2.6h-2.6zM486.4 108.9h2.6v2.6h-2.6zM489.2 110.4h2.6v2.6h-2.6zM492.1 112h2.6v2.6h-2.6zM495 113.7h2.6v2.6h-2.6zM497.8 115.6h2.6v2.6h-2.6zM500.7 117.6h2.6v2.6h-2.6zM503.5 119.7h2.6v2.6h-2.6zM506.4 122h2.6v2.6h-2.6zM509.3 124.2h2.6v2.6h-2.6zM512.1 126.5h2.6v2.6h-2.6zM515 128.9h2.6v2.6h-2.6zM517.8 131.3h2.6v2.6h-2.6zM520.7 133.8h2.6v2.6h-2.6zM523.6 136.6h2.6v2.6h-2.6zM526.4 139.7h2.6v2.6h-2.6zM529.3 142.7h2.6v2.6h-2.6zM532.1 145.3h2.6v2.6h-2.6zM535 147.7h2.6v2.6h-2.6zM537.9 150.4h2.6v2.6h-2.6zM540.7 153.3h2.6v2.6h-2.6zM543.6 156.5h2.6v2.6h-2.6zM546.4 159.7h2.6v2.6h-2.6zM549.3 162.9h2.6v2.6h-2.6zM552.1 166.1h2.6v2.6h-2.6zM555 169.3h2.6v2.6h-2.6zM557.9 172.4h2.6v2.6h-2.6zM560.7 175.2h2.6v2.6h-2.6zM563.6 178h2.6v2.6h-2.6zM566.4 180.4h2.6v2.6h-2.6zM569.3 182.3h2.6v2.6h-2.6zM572.2 183.9h2.6v2.6h-2.6zM575 185.3h2.6v2.6h-2.6zM577.9 186.4h2.6v2.6h-2.6zM580.7 187.3h2.6v2.6h-2.6zM583.6 188h2.6v2.6h-2.6zM586.5 188.7h2.6v2.6h-2.6zM589.3 189.4h2.6v2.6h-2.6zM592.2 190h2.6v2.6h-2.6zM595 190.7h2.6v2.6h-2.6zM597.9 191.4h2.6v2.6h-2.6zM600.7 192.2h2.6v2.6h-2.6z" fill="#000000"/>
<path d="M423.5 193h2.6v2.6h-2.6zM426.3 192.7h2.6v2.6h-2.6zM429.2 192.2h2.6v2.6h-2.6zM432.1 191.6h2.6v2.6h-2.6zM434.9 190.7h2.6v2.6h-2.6zM437.8 189.6h2.6v2.6h-2.6zM440.6 188.4h2.6v2.6h-2.6zM443.5 187.4h2.6v2.6h-2.6zM446.4 186.2h2.6v2.6h-2.6zM449.2 184.3h2.6v2.6h-2.6zM452.1 181.6h2.6v2.6h-2.6zM454.9 178.8h2.6v2.6h-2.6zM457.8 175.7h2.6v2.6h-2.6zM460.7 172.4h2.6v2.6h-2.6zM463.5 168.9h2.6v2.6h-2.6zM466.4 165.2h2.6v2.6h-2.6zM469.2 160.8h2.6v2.6h-2.6zM472.1 155.6h2.6v2.6h-2.6zM475 148.8h2.6v2.6h-2.6zM477.8 140.5h2.6v2.6h-2.6zM480.7 133.5h2.6v2.6h-2.6zM483.5 127.4h2.6v2.6h-2.6zM486.4 119.2h2.6v2.6h-2.6zM489.2 108.5h2.6v2.6h-2.6zM492.1 98.7h2.6v2.6h-2.6zM495 90.3h2.6v2.6h-2.6zM497.8 83.6h2.6v2.6h-2.6zM500.7 77.8h2.6v2.6h-2.6zM503.5 71.5h2.6v2.6h-2.6zM506.4 65.3h2.6v2.6h-2.6zM509.3 60.7h2.6v2.6h-2.6zM512.1 57.8h2.6v2.6h-2.6zM515 55.2h2.6v2.6h-2.6zM517.8 52.5h2.6v2.6h-2.6zM520.7 50.1h2.6v2.6h-2.6zM523.6 48.3h2.6v2.6h-2.6zM526.4 46.6h2.6v2.6h-2.6zM529.3 45h2.6v2.6h-2.6zM532.1 43.8h2.6v2.6h-2.6zM535 43.3h2.6v2.6h-2.6zM537.9 43.3h2.6v2.6h-2.6zM540.7 43.9h2.6v2.6h-2.6zM543.6 44.9h2.6v2.6h-2.6zM546.4 46.9h2.6v2.6h-2.6zM549.3 49.3h2.6v2.6h-2.6zM552.1 52.2h2.6v2.6h-2.6zM555 56.2h2.6v2.6h-2.6zM557.9 62.3h2.6v2.6h-2.6zM560.7 69.2h2.6v2.6h-2.6zM563.6 76.2h2.6v2.6h-2.6zM566.4 84h2.6v2.6h-2.6zM569.3 93.4h2.6v2.6h-2.6zM572.2 102.7h2.6v2.6h-2.6zM575 111.9h2.6v2.6h-2.6zM577.9 121.7h2.6v2.6h-2.6zM580.7 131h2.6v2.6h-2.6zM583.6 141.5h2.6v2.6h-2.6zM586.5 149.6h2.6v2.6h-2.6zM589.3 155.7h2.6v2.6h-2.6zM592.2 163.1h2.6v2.6h-2.6zM595 168.3h2.6v2.6h-2.6zM597.9 175.5h2.6v2.6h-2.6zM600.7 179.7h2.6v2.6h-2.6z" fill="#000000"/>
<path d="M423.5 80.9h2.6v2.6h-2.6zM426.3 82.7h2.6v2.6h-2.6zM429.2 84.1h2.6v2.6h-2.6zM432.1 85.1h2.6v2.6h-2.6zM434.9 85.7h2.6v2.6h-2.6zM437.8 86.3h2.6v2.6h-2.6zM440.6 86.7h2.6v2.6h-2.6zM443.5 87.1h2.6v2.6h-2.6zM446.4 87.4h2.6v2.6h-2.6zM449.2 87.7h2.6v2.6h-2.6zM452.1 88.1h2.6v2.6h-2.6zM454.9 88.3h2.6v2.6h-2.6zM457.8 88.6h2.6v2.6h-2.6zM460.7 88.9h2.6v2.6h-2.6zM463.5 89.2h2.6v2.6h-2.6zM466.4 89.6h2.6v2.6h-2.6zM469.2 90h2.6v2.6h-2.6zM472.1 90.6h2.6v2.6h-2.6zM475 91.4h2.6v2.6h-2.6zM477.8 92.4h2.6v2.6h-2.6zM480.7 93.6h2.6v2.6h-2.6zM483.5 95h2.6v2.6h-2.6zM486.4 96.8h2.6v2.6h-2.6zM489.2 98.7h2.6v2.6h-2.6zM492.1 100.9h2.6v2.6h-2.6zM495 103.3h2.6v2.6h-2.6zM497.8 105.9h2.6v2.6h-2.6zM500.7 108.5h2.6v2.6h-2.6zM503.5 111.2h2.6v2.6h-2.6zM506.4 113.9h2.6v2.6h-2.6zM509.3 116.6h2.6v2.6h-2.6zM512.1 119.3h2.6v2.6h-2.6zM515 122h2.6v2.6h-2.6zM517.8 124.6h2.6v2.6h-2.6zM520.7 127.3h2.6v2.6h-2.6zM523.6 130h2.6v2.6h-2.6zM526.4 132.7h2.6v2.6h-2.6zM529.3 135.4h2.6v2.6h-2.6zM532.1 138h2.6v2.6h-2.6zM535 140.7h2.6v2.6h-2.6zM537.9 143.4h2.6v2.6h-2.6zM540.7 146h2.6v2.6h-2.6zM543.6 148.5h2.6v2.6h-2.6zM546.4 151.1h2.6v2.6h-2.6zM549.3 153.9h2.6v2.6h-2.6zM552.1 157h2.6v2.6h-2.6zM555 160.2h2.6v2.6h-2.6zM557.9 163.4h2.6v2.6h-2.6zM560.7 166.7h2.6v2.6h-2.6zM563.6 170h2.6v2.6h-2.6zM566.4 173.1h2.6v2.6h-2.6zM569.3 175.9h2.6v2.6h-2.6zM572.2 178.6h2.6v2.6h-2.6zM575 181h2.6v2.6h-2.6zM577.9 182.9h2.6v2.6h-2.6zM580.7 184.4h2.6v2.6h-2.6zM583.6 185.7h2.6v2.6h-2.6zM586.5 186.8h2.6v2.6h-2.6zM589.3 187.7h2.6v2.6h-2.6zM592.2 188.6h2.6v2.6h-2.6zM595 189.3h2.6v2.6h-2.6zM597.9 189.7h2.6v2.6h-2.6zM600.7 190.1h2.6v2.6h-2.6zM603.4 190.2h2.6v2.6h-2.6z" fill="#ff0000"/>
<path d="M423.5 192.6h2.6v2.6h-2.6zM426.3 192.5h2.6v2.6h-2.6zM429.2 192.2h2.6v2.6h-2.6zM432.1 191.8h2.6v2.6h-2.6zM434.9 191.4h2.6v2.6h-2.6zM437.8 190.6h2.6v2.6h-2.6zM440.6 189.4h2.6v2.6h-2.6zM443.5 187.7h2.6v2.6h-2.6zM446.4 185.9h2.6v2.6h-2.6zM449.2 183.6h2.6v2.6h-2.6zM452.1 180.7h2.6v2.6h-2.6zM454.9 177.3h2.6v2.6h-2.6zM457.8 173.3h2.6v2.6h-2.6zM460.7 169.1h2.6v2.6h-2.6zM463.5 164.4h2.6v2.6h-2.6zM466.4 158.5h2.6v2.6h-2.6zM469.2 151.6h2.6v2.6h-2.6zM472.1 144.3h2.6v2.6h-2.6zM475 136.6h2.6v2.6h-2.6zM477.8 129.3h2.6v2.6h-2.6zM480.7 121.8h2.6v2.6h-2.6zM483.5 113.3h2.6v2.6h-2.6zM486.4 104.6h2.6v2.6h-2.6zM489.2 96.2h2.6v2.6h-2.6zM492.1 88.8h2.6v2.6h-2.6zM495 82.1h2.6v2.6h-2.6zM497.8 73.6h2.6v2.6h-2.6zM500.7 65.2h2.6v2.6h-2.6zM503.5 59.5h2.6v2.6h-2.6zM506.4 56.1h2.6v2.6h-2.6zM509.3 52.6h2.6v2.6h-2.6zM512.1 48.9h2.6v2.6h-2.6zM515 45.9h2.6v2.6h-2.6zM517.8 42.7h2.6v2.6h-2.6zM520.7 40.7h2.6v2.6h-2.6zM523.6 39.1h2.6v2.6h-2.6zM526.4 37.6h2.6v2.6h-2.6zM529.3 36.5h2.6v2.6h-2.6zM532.1 35.6h2.6v2.6h-2.6zM535 34.7h2.6v2.6h-2.6zM537.9 34.6h2.6v2.6h-2.6zM540.7 35.1h2.6v2.6h-2.6zM543.6 35.9h2.6v2.6h-2.6zM546.4 36.8h2.6v2.6h-2.6zM549.3 38.2h2.6v2.6h-2.6zM552.1 40.1h2.6v2.6h-2.6zM555 43.6h2.6v2.6h-2.6zM557.9 48.8h2.6v2.6h-2.6zM560.7 54h2.6v2.6h-2.6zM563.6 58.9h2.6v2.6h-2.6zM566.4 64.7h2.6v2.6h-2.6zM569.3 71.9h2.6v2.6h-2.6zM572.2 80.3h2.6v2.6h-2.6zM575 90.1h2.6v2.6h-2.6zM577.9 100.4h2.6v2.6h-2.6zM580.7 110.5h2.6v2.6h-2.6zM583.6 120.9h2.6v2.6h-2.6zM586.5 131.3h2.6v2.6h-2.6zM589.3 141.1h2.6v2.6h-2.6zM592.2 150.1h2.6v2.6h-2.6zM595 159.8h2.6v2.6h-2.6zM597.9 169.8h2.6v2.6h-2.6zM600.7 176.1h2.6v2.6h-2.6zM603.4 179.7h2.6v2.6h-2.6z" fill="#ff0000"/>
<path d="M423.5 36.7h2.6v2.6h-2.6zM426.3 37.6h2.6v2.6h-2.6zM429.2 38.3h2.6v2.6h-2.6zM432.1 39.1h2.6v2.6h-2.6zM434.9 40h2.6v2.6h-2.6zM437.8 41.3h2.6v2.6h-2.6zM440.6 42.8h2.6v2.6h-2.6zM443.5 44.4h2.6v2.6h-2.6zM446.4 46h2.6v2.6h-2.6zM449.2 47.6h2.6v2.6h-2.6zM452.1 49.2h2.6v2.6h-2.6zM454.9 50.9h2.6v2.6h-2.6zM457.8 52.9h2.6v2.6h-2.6zM460.7 55.1h2.6v2.6h-2.6zM463.5 57.5h2.6v2.6h-2.6zM466.4 60.1h2.6v2.6h-2.6zM469.2 62.7h2.6v2.6h-2.6zM472.1 65.3h2.6v2.6h-2.6zM475 68h2.6v2.6h-2.6zM477.8 70.7h2.6v2.6h-2.6zM480.7 73.4h2.6v2.6h-2.6zM483.5 76.2h2.6v2.6h-2.6zM486.4 78.9h2.6v2.6h-2.6zM489.2 81.7h2.6v2.6h-2.6zM492.1 84.5h2.6v2.6h-2.6zM495 87.3h2.6v2.6h-2.6zM497.8 90h2.6v2.6h-2.6zM500.7 92.8h2.6v2.6h-2.6zM503.5 95.6h2.6v2.6h-2.6zM506.4 98.4h2.6v2.6h-2.6zM509.3 101.3h2.6v2.6h-2.6zM512.1 104.3h2.6v2.6h-2.6zM515 107.5h2.6v2.6h-2.6zM517.8 110.7h2.6v2.6h-2.6zM520.7 114h2.6v2.6h-2.6zM523.6 117.4h2.6v2.6h-2.6zM526.4 120.8h2.6v2.6h-2.6zM529.3 124h2.6v2.6h-2.6zM532.1 127h2.6v2.6h-2.6zM535 129.9h2.6v2.6h-2.6zM537.9 132.7h2.6v2.6h-2.6zM540.7 135.3h2.6v2.6h-2.6zM543.6 137.8h2.6v2.6h-2.6zM546.4 140.4h2.6v2.6h-2.6zM549.3 143h2.6v2.6h-2.6zM552.1 145.8h2.6v2.6h-2.6zM555 148.7h2.6v2.6h-2.6zM557.9 151.7h2.6v2.6h-2.6zM560.7 154.7h2.6v2.6h-2.6zM563.6 157.9h2.6v2.6h-2.6zM566.4 161.1h2.6v2.6h-2.6zM569.3 164.2h2.6v2.6h-2.6zM572.2 167.1h2.6v2.6h-2.6zM575 170h2.6v2.6h-2.6zM577.9 172.7h2.6v2.6h-2.6zM580.7 175.2h2.6v2.6h-2.6zM583.6 177.6h2.6v2.6h-2.6zM586.5 179.7h2.6v2.6h-2.6zM589.3 181.4h2.6v2.6h-2.6zM592.2 183h2.6v2.6h-2.6zM595 184.3h2.6v2.6h-2.6zM597.9 185.6h2.6v2.6h-2.6zM600.7 186.8h2.6v2.6h-2.6zM603.6 187.8h2.6v2.6h-2.6zM606.5 188.6h2.6v2.6h-2.6zM609.3 189.2h2.6v2.6h-2.6z" fill="#00ff00"/>
<path d="M423.5 167.8h2.6v2.6h-2.6zM426.3 163.6h2.6v2.6h-2.6zM429.2 158.4h2.6v2.6h-2.6zM432.1 154.5h2.6v2.6h-2.6zM434.9 148.8h2.6v2.6h-2.6zM437.8 141.1h2.6v2.6h-2.6zM440.6 134.2h2.6v2.6h-2.6zM443.5 126.5h2.6v2.6h-2.6zM446.4 117.5h2.6v2.6h-2.6zM449.2 108h2.6v2.6h-2.6zM452.1 99h2.6v2.6h-2.6zM454.9 90.5h2.6v2.6h-2.6zM457.8 83.2h2.6v2.6h-2.6zM460.7 76.3h2.6v2.6h-2.6zM463.5 69h2.6v2.6h-2.6zM466.4 62.2h2.6v2.6h-2.6zM469.2 56.4h2.6v2.6h-2.6zM472.1 50.7h2.6v2.6h-2.6zM475 46.5h2.6v2.6h-2.6zM477.8 43.6h2.6v2.6h-2.6zM480.7 40.7h2.6v2.6h-2.6zM483.5 37.9h2.6v2.6h-2.6zM486.4 35.4h2.6v2.6h-2.6zM489.2 33.4h2.6v2.6h-2.6zM492.1 32h2.6v2.6h-2.6zM495 30.7h2.6v2.6h-2.6zM497.8 29.1h2.6v2.6h-2.6zM500.7 27.9h2.6v2.6h-2.6zM503.5 27h2.6v2.6h-2.6zM506.4 26.4h2.6v2.6h-2.6zM509.3 25.9h2.6v2.6h-2.6zM512.1 25.6h2.6v2.6h-2.6zM515 25.3h2.6v2.6h-2.6zM517.8 25.2h2.6v2.6h-2.6zM520.7 25h2.6v2.6h-2.6zM523.6 24.9h2.6v2.6h-2.6zM526.4 24.7h2.6v2.6h-2.6zM529.3 24.4h2.6v2.6h-2.6zM532.1 24.2h2.6v2.6h-2.6zM535 24.3h2.6v2.6h-2.6zM537.9 24.9h2.6v2.6h-2.6zM540.7 25.8h2.6v2.6h-2.6zM543.6 26.9h2.6v2.6h-2.6zM546.4 28.1h2.6v2.6h-2.6zM549.3 29.7h2.6v2.6h-2.6zM552.1 31.6h2.6v2.6h-2.6zM555 33.9h2.6v2.6h-2.6zM557.9 36.9h2.6v2.6h-2.6zM560.7 40.4h2.6v2.6h-2.6zM563.6 43.8h2.6v2.6h-2.6zM566.4 47.1h2.6v2.6h-2.6zM569.3 51h2.6v2.6h-2.6zM572.2 56h2.6v2.6h-2.6zM575 62.2h2.6v2.6h-2.6zM577.9 68.9h2.6v2.6h-2.6zM580.7 75.7h2.6v2.6h-2.6zM583.6 83.1h2.6v2.6h-2.6zM586.5 91.5h2.6v2.6h-2.6zM589.3 100.8h2.6v2.6h-2.6zM592.2 111.3h2.6v2.6h-2.6zM595 122h2.6v2.6h-2.6zM597.9 135.4h2.6v2.6h-2.6zM600.7 146.7h2.6v2.6h-2.6zM603.6 158.6h2.6v2.6h-2.6zM606.5 171h2.6v2.6h-2.6zM609.3 183.4h2.6v2.6h-2.6z" fill="#00ff00"/>
<path d="M551.2 24.9h2.6v2.6h-2.6z" fill="#00ff00"/>
<path d="M423.5 20.8h2.6v2.6h-2.6zM426.3 21.3h2.6v2.6h-2.6zM429.2 22.5h2.6v2.6h-2.6zM432.1 24h2.6v2.6h-2.6zM434.9 26.5h2.6v2.6h-2.6zM437.8 28.8h2.6v2.6h-2.6zM440.6 30.8h2.6v2.6h-2.6zM443.5 33.4h2.6v2.6h-2.6zM446.4 35.6h2.6v2.6h-2.6zM449.2 38.4h2.6v2.6h-2.6zM452.1 41h2.6v2.6h-2.6zM454.9 43.9h2.6v2.6h-2.6zM457.8 46.5h2.6v2.6h-2.6zM460.7 49h2.6v2.6h-2.6zM463.5 51.7h2.6v2.6h-2.6zM466.4 54.7h2.6v2.6h-2.6zM469.2 57.5h2.6v2.6h-2.6zM472.1 60.9h2.6v2.6h-2.6zM475 63.8h2.6v2.6h-2.6zM477.8 66.4h2.6v2.6h-2.6zM480.7 69.1h2.6v2.6h-2.6zM483.5 72h2.6v2.6h-2.6zM486.4 74.9h2.6v2.6h-2.6zM489.2 77.7h2.6v2.6h-2.6zM492.1 80.6h2.6v2.6h-2.6zM495 83.4h2.6v2.6h-2.6zM497.8 86.3h2.6v2.6h-2.6zM500.7 89.2h2.6v2.6h-2.6zM503.5 92.1h2.6v2.6h-2.6zM506.4 95h2.6v2.6h-2.6zM509.3 98.1h2.6v2.6h-2.6zM512.1 101.4h2.6v2.6h-2.6zM515 104.8h2.6v2.6h-2.6zM517.8 108.2h2.6v2.6h-2.6zM520.7 111.4h2.6v2.6h-2.6zM523.6 114.6h2.6v2.6h-2.6zM526.4 117.7h2.6v2.6h-2.6zM529.3 120.6h2.6v2.6h-2.6zM532.1 123.2h2.6v2.6h-2.6zM535 125.8h2.6v2.6h-2.6zM537.9 128.3h2.6v2.6h-2.6zM540.7 130.8h2.6v2.6h-2.6zM543.6 133.3h2.6v2.6h-2.6zM546.4 135.9h2.6v2.6h-2.6zM549.3 138.5h2.6v2.6h-2.6zM552.1 141.4h2.6v2.6h-2.6zM555 144.3h2.6v2.6h-2.6zM557.9 147.3h2.6v2.6h-2.6zM560.7 150.1h2.6v2.6h-2.6zM563.6 152.9h2.6v2.6h-2.6zM566.4 155.7h2.6v2.6h-2.6zM569.3 158.6h2.6v2.6h-2.6zM572.2 161.5h2.6v2.6h-2.6zM575 164.4h2.6v2.6h-2.6zM577.9 167.3h2.6v2.6h-2.6zM580.7 170.2h2.6v2.6h-2.6zM583.6 173.2h2.6v2.6h-2.6zM586.5 176h2.6v2.6h-2.6zM589.3 178.2h2.6v2.6h-2.6zM592.2 180.3h2.6v2.6h-2.6zM595 182.1h2.6v2.6h-2.6zM597.9 183.6h2.6v2.6h-2.6zM600.7 184.8h2.6v2.6h-2.6zM603.6 185.8h2.6v2.6h-2.6zM606.5 186.4h2.6v2.6h-2.6zM609.3 186.9h2.6v2.6h-2.6z" fill="#0000ff"/>
<path d="M426.3 30.4h2.6v2.6h-2.6zM446.5 30h2.6v2.6h-2.6zM435.1 22.1h2.6v2.6h-2.6zM429.2 19.7h2.6v2.6h-2.6z" fill="#0000ff"/>
<path d="M464 40.8h2.6v2.6h-2.6zM466.4 38.9h2.6v2.6h-2.6zM469.2 37h2.6v2.6h-2.6zM472.1 35.3h2.6v2.6h-2.6zM475 33.8h2.6v2.6h-2.6zM477.8 32.7h2.6v2.6h-2.6zM480.7 31.7h2.6v2.6h-2.6zM483.5 30.9h2.6v2.6h-2.6zM486.4 30.2h2.6v2.6h-2.6zM489.2 29.8h2.6v2.6h-2.6zM492.1 29.4h2.6v2.6h-2.6zM495 29.2h2.6v2.6h-2.6zM497.8 29.2h2.6v2.6h-2.6zM500.7 29.3h2.6v2.6h-2.6zM503.5 29.4h2.6v2.6h-2.6zM506.4 29.6h2.6v2.6h-2.6zM509.3 29.9h2.6v2.6h-2.6zM512.1 30.4h2.6v2.6h-2.6zM515 31h2.6v2.6h-2.6zM517.8 31.6h2.6v2.6h-2.6zM520.7 32.2h2.6v2.6h-2.6zM523.6 32.9h2.6v2.6h-2.6zM526.4 33.5h2.6v2.6h-2.6zM529.3 33.8h2.6v2.6h-2.6zM532.1 34h2.6v2.6h-2.6zM535 34h2.6v2.6h-2.6zM537.9 34.2h2.6v2.6h-2.6zM540.7 35h2.6v2.6h-2.6zM543.6 36.7h2.6v2.6h-2.6zM546.4 38h2.6v2.6h-2.6zM549.3 39.1h2.6v2.6h-2.6zM552.1 40.2h2.6v2.6h-2.6zM555 41.5h2.6v2.6h-2.6zM557.9 42.8h2.6v2.6h-2.6zM560.7 44.2h2.6v2.6h-2.6zM563.6 45.7h2.6v2.6h-2.6zM566.4 47.5h2.6v2.6h-2.6zM569.3 49.6h2.6v2.6h-2.6zM572.2 52.2h2.6v2.6h-2.6zM575 55.7h2.6v2.6h-2.6zM577.9 60.2h2.6v2.6h-2.6zM580.7 65.6h2.6v2.6h-2.6zM583.6 72.8h2.6v2.6h-2.6zM586.5 80.5h2.6v2.6h-2.6zM589.3 88.6h2.6v2.6h-2.6zM592.2 96.9h2.6v2.6h-2.6zM595 105.1h2.6v2.6h-2.6zM597.9 120.3h2.6v2.6h-2.6zM600.7 132.3h2.6v2.6h-2.6zM603.6 144.7h2.6v2.6h-2.6zM606.5 154h2.6v2.6h-2.6zM609.3 176.3h2.6v2.6h-2.6z" fill="#0000ff"/>
<path d="M423.1 136.7h2.6v2.6h-2.6zM426 91.7h2.6v2.6h-2.6zM432.2 112h2.6v2.6h-2.6zM435.1 75.6h2.6v2.6h-2.6zM438.3 74.6h2.6v2.6h-2.6zM441.1 76.5h2.6v2.6h-2.6zM444.9 72.7h2.6v2.6h-2.6zM447.2 72.7h2.6v2.6h-2.6zM449.5 60.5h2.6v2.6h-2.6zM452.2 67.1h2.6v2.6h-2.6zM452.5 51h2.6v2.6h-2.6zM455.1 52h2.6v2.6h-2.6zM458.1 44.7h2.6v2.6h-2.6zM461.4 45.7h2.6v2.6h-2.6zM469.6 76.5h2.6v2.6h-2.6z" fill="#0000ff"/>
<path d="M423.5 18.8h2.6v2.6h-2.6zM426.3 21.4h2.6v2.6h-2.6zM429.2 23.4h2.6v2.6h-2.6zM432.1 26.1h2.6v2.6h-2.6zM434.9 28.4h2.6v2.6h-2.6zM437.8 30.9h2.6v2.6h-2.6zM440.6 33.4h2.6v2.6h-2.6zM443.5 35.6h2.6v2.6h-2.6zM446.4 38.2h2.6v2.6h-2.6zM449.2 41.1h2.6v2.6h-2.6zM452.1 43.7h2.6v2.6h-2.6zM454.9 46.6h2.6v2.6h-2.6zM457.8 49.2h2.6v2.6h-2.6zM460.7 51.6h2.6v2.6h-2.6zM463.5 54.4h2.6v2.6h-2.6zM466.4 57.3h2.6v2.6h-2.6zM469.2 60.2h2.6v2.6h-2.6zM472.1 63.6h2.6v2.6h-2.6zM475 66.5h2.6v2.6h-2.6zM477.8 68.9h2.6v2.6h-2.6zM480.7 71.5h2.6v2.6h-2.6zM483.5 74h2.6v2.6h-2.6zM486.4 76.6h2.6v2.6h-2.6zM489.2 79.2h2.6v2.6h-2.6zM492.1 81.9h2.6v2.6h-2.6zM495 84.6h2.6v2.6h-2.6zM497.8 87.3h2.6v2.6h-2.6zM500.7 90.1h2.6v2.6h-2.6zM503.5 93h2.6v2.6h-2.6zM506.4 95.9h2.6v2.6h-2.6zM509.3 98.8h2.6v2.6h-2.6zM512.1 101.7h2.6v2.6h-2.6zM515 104.7h2.6v2.6h-2.6zM517.8 107.8h2.6v2.6h-2.6zM520.7 110.9h2.6v2.6h-2.6zM523.6 114h2.6v2.6h-2.6zM526.4 117.2h2.6v2.6h-2.6zM529.3 120.1h2.6v2.6h-2.6zM532.1 122.7h2.6v2.6h-2.6zM535 125.3h2.6v2.6h-2.6zM537.9 127.8h2.6v2.6h-2.6zM540.7 130.3h2.6v2.6h-2.6zM543.6 132.8h2.6v2.6h-2.6zM546.4 135.4h2.6v2.6h-2.6zM549.3 138h2.6v2.6h-2.6zM552.1 140.9h2.6v2.6h-2.6zM555 143.8h2.6v2.6h-2.6zM557.9 146.8h2.6v2.6h-2.6zM560.7 149.6h2.6v2.6h-2.6zM563.6 152.4h2.6v2.6h-2.6zM566.4 155.2h2.6v2.6h-2.6zM569.3 158.1h2.6v2.6h-2.6zM572.2 161h2.6v2.6h-2.6zM575 163.9h2.6v2.6h-2.6zM577.9 166.8h2.6v2.6h-2.6zM580.7 169.7h2.6v2.6h-2.6zM583.6 172.7h2.6v2.6h-2.6zM586.5 175.5h2.6v2.6h-2.6zM589.3 177.7h2.6v2.6h-2.6zM592.2 179.8h2.6v2.6h-2.6zM595 181.6h2.6v2.6h-2.6zM597.9 183.1h2.6v2.6h-2.6zM600.7 184.3h2.6v2.6h-2.6zM603.6 185.3h2.6v2.6h-2.6zM606.5 185.9h2.6v2.6h-2.6zM609.3 186.4h2.6v2.6h-2.6z" fill="#ff80ff"/>
<path d="M423.5 90.2h2.6v2.6h-2.6zM426.3 81.2h2.6v2.6h-2.6zM429.2 76.3h2.6v2.6h-2.6zM432.1 73.4h2.6v2.6h-2.6zM434.9 69h2.6v2.6h-2.6zM437.8 63.7h2.6v2.6h-2.6zM440.6 59h2.6v2.6h-2.6zM443.5 55.7h2.6v2.6h-2.6zM446.4 51.8h2.6v2.6h-2.6zM449.2 48.5h2.6v2.6h-2.6zM452.1 44.3h2.6v2.6h-2.6zM454.9 41.7h2.6v2.6h-2.6zM457.8 40.4h2.6v2.6h-2.6zM460.7 38.3h2.6v2.6h-2.6zM463.5 37.2h2.6v2.6h-2.6zM466.4 35.3h2.6v2.6h-2.6zM469.2 34.1h2.6v2.6h-2.6zM472.1 33.2h2.6v2.6h-2.6zM475 32.6h2.6v2.6h-2.6zM477.8 32.1h2.6v2.6h-2.6zM480.7 31.9h2.6v2.6h-2.6zM483.5 31.9h2.6v2.6h-2.6zM486.4 31.9h2.6v2.6h-2.6zM489.2 31.9h2.6v2.6h-2.6zM492.1 32.2h2.6v2.6h-2.6zM495 32.7h2.6v2.6h-2.6zM497.8 33.2h2.6v2.6h-2.6zM500.7 33.6h2.6v2.6h-2.6zM503.5 34.2h2.6v2.6h-2.6zM506.4 34.7h2.6v2.6h-2.6zM509.3 35.3h2.6v2.6h-2.6zM512.1 35.9h2.6v2.6h-2.6zM515 36.7h2.6v2.6h-2.6zM517.8 37.4h2.6v2.6h-2.6zM520.7 37.9h2.6v2.6h-2.6zM523.6 38.3h2.6v2.6h-2.6zM526.4 38.6h2.6v2.6h-2.6zM529.3 38.9h2.6v2.6h-2.6zM532.1 39.3h2.6v2.6h-2.6zM535 39.8h2.6v2.6h-2.6zM537.9 40.3h2.6v2.6h-2.6zM540.7 40.8h2.6v2.6h-2.6zM543.6 41.3h2.6v2.6h-2.6zM546.4 41.7h2.6v2.6h-2.6zM549.3 42.1h2.6v2.6h-2.6zM552.1 42.6h2.6v2.6h-2.6zM555 43.2h2.6v2.6h-2.6zM557.9 44.1h2.6v2.6h-2.6zM560.7 45.2h2.6v2.6h-2.6zM563.6 46.7h2.6v2.6h-2.6zM566.4 49h2.6v2.6h-2.6zM569.3 52.4h2.6v2.6h-2.6zM572.2 56.3h2.6v2.6h-2.6zM575 60.8h2.6v2.6h-2.6zM577.9 66h2.6v2.6h-2.6zM580.7 71.3h2.6v2.6h-2.6zM583.6 76.6h2.6v2.6h-2.6zM586.5 82.4h2.6v2.6h-2.6zM589.3 90h2.6v2.6h-2.6zM592.2 99.8h2.6v2.6h-2.6zM595 109.2h2.6v2.6h-2.6zM597.9 120.6h2.6v2.6h-2.6zM600.7 134.4h2.6v2.6h-2.6zM603.6 149.1h2.6v2.6h-2.6zM606.5 166.1h2.6v2.6h-2.6zM609.3 182.1h2.6v2.6h-2.6z" fill="#ff80ff"/>
<polyline points="427.3,454.9 428,454.9 428.7,454.8 429.4,454.7 430.1,454.7 430.8,454.6 431.5,454.5 432.2,454.4 432.9,454.3 433.6,454.2 434.3,454 435,453.9 435.7,453.8 436.4,453.6 437.1,453.5 437.8,453.3 438.5,453.1 439.2,453 439.9,452.8 440.6,452.6 441.3,452.4 442,452.2 442.7,452.1 443.4,451.9 444.1,451.7 444.8,451.4 445.5,451.2 446.2,451 446.9,450.8 447.6,450.6 448.3,450.4 449,450.1 449.7,449.9 450.4,449.7 451.1,449.5 451.8,449.2 452.5,449 453.2,448.8 453.9,448.5 454.6,448.2 455.3,448 456,447.7 456.7,447.4 457.4,447.1 458.1,446.8 458.8,446.5 459.5,446.2 460.2,445.8 460.9,445.5 461.6,445.1 462.3,444.7 463,444.3 463.7,443.9 464.4,443.5 465.1,443.1 465.8,442.7 466.5,442.2 467.2,441.7 467.9,441.3 468.6,440.8 469.3,440.2 470,439.7 470.7,439.2 471.4,438.6 472.1,437.9 472.8,437.2 473.5,436.5 474.2,435.7 474.9,434.8 475.6,433.9 476.3,432.9 477,431.9 477.7,430.9 478.4,429.8 479.1,428.8 479.8,427.6 480.5,426.5 481.2,425.3 481.9,424.2 482.6,423 483.3,421.7 484,420.4 484.7,419 485.4,417.6 486.1,416 486.8,414.5 487.5,412.9 488.2,411.2 488.9,409.5 489.6,407.7 490.3,405.9 491,403.9 491.7,401.9 492.4,399.9 493.1,397.8 493.8,395.7 494.5,393.5 495.2,391.4 495.9,389.2 496.6,386.9 497.3,384.6 498,382.3 498.7,379.9 499.4,377.5 500.1,375.1 500.8,372.7 501.5,370.2 502.2,367.7 502.9,365 503.6,362.3 504.3,359.7 505,357 505.7,354.5 506.4,352 507.1,349.7 507.8,347.5 508.5,345.3 509.2,343.3 509.9,341.2 510.6,339.3 511.3,337.3 512,335.4 512.7,333.4 513.4,331.4 514.1,329.4 514.8,327.4 515.5,325.3 516.2,323.2 516.9,321.3 517.6,319.5 518.3,317.8 519,316.2 519.7,314.7 520.4,313.2 521.1,311.8 521.8,310.4 522.5,309 523.2,307.6 523.9,306.3 524.6,304.9 525.3,303.6 526,302.4 526.7,301.2 527.4,300.1 528.1,299.1 528.8,298.1 529.5,297.2 530.2,296.2 530.9,295.3 531.6,294.4 532.3,293.6 533,292.8 533.7,292.1 534.4,291.5 535.1,290.9 535.8,290.5 536.5,290.1 537.2,289.7 537.9,289.4 538.6,289.1 539.3,288.8 540,288.7 540.7,288.6 541.4,288.6 542.1,288.7 542.8,288.8 543.5,289 544.2,289.2 544.9,289.4 545.6,289.7 546.3,290 547,290.3 547.7,290.5 548.4,290.9 549.1,291.3 549.8,291.8 550.5,292.3 551.2,292.9 551.9,293.5 552.6,294.2 553.3,294.9 554,295.7 554.7,296.5 555.4,297.3 556.1,298.1 556.8,299.1 557.5,300.1 558.2,301.2 558.9,302.4 559.6,303.6 560.3,304.9 561,306.2 561.7,307.6 562.4,309.1 563.1,310.6 563.8,312.1 564.5,313.7 565.2,315.5 565.9,317.3 566.6,319.3 567.3,321.3 568,323.3 568.7,325.4 569.4,327.5 570.1,329.6 570.8,331.7 571.5,333.8 572.2,335.9 572.9,338.1 573.6,340.3 574.3,342.6 575,344.8 575.7,347.1 576.4,349.4 577.1,351.6 577.8,353.9 578.5,356.1 579.2,358.3 579.9,360.4 580.6,362.5 581.3,364.6 582,366.6 582.7,368.7 583.4,370.9 584.1,373 584.8,375.3 585.5,377.8 586.2,380.4 586.9,383.2 587.6,386 588.3,388.6 589,391 589.7,393.2 590.4,395.4 591.1,397.4 591.8,399.5 592.5,401.4 593.2,403.4 593.9,405.2 594.6,407.1 595.3,408.9 596,410.6 596.7,412.3 597.4,414 598.1,415.6 598.8,417.2 599.5,418.8 600.2,420.3 600.9,421.7 601.6,423.2 602.3,424.6 603,425.9 603.7,427.2 604.4,428.5 604.7,429" fill="none" stroke="#333333" stroke-width="0.8" stroke-linejoin="round" stroke-opacity="1.0"/>
<polyline points="430,452 430.7,451.8 431.4,451.7 432.1,451.4 432.8,451.2 433.5,451 434.2,450.7 434.9,450.4 435.6,450.1 436.3,449.8 437,449.5 437.7,449.1 438.4,448.7 439.1,448.3 439.8,447.9 440.5,447.5 441.2,447.1 441.9,446.7 442.6,446.2 443.3,445.8 444,445.3 444.7,444.8 445.4,444.3 446.1,443.9 446.8,443.4 447.5,442.8 448.2,442.3 448.9,441.8 449.6,441.3 450.3,440.8 451,440.2 451.7,439.6 452.4,439 453.1,438.4 453.8,437.8 454.5,437.1 455.2,436.4 455.9,435.6 456.6,434.9 457.3,434.1 458,433.3 458.7,432.4 459.4,431.5 460.1,430.6 460.8,429.7 461.5,428.7 462.2,427.7 462.9,426.6 463.6,425.4 464.3,424.2 465,422.8 465.7,421.4 466.4,419.9 467.1,418.4 467.8,416.9 468.5,415.3 469.2,413.8 469.9,412.2 470.6,410.6 471.3,409 472,407.4 472.7,405.7 473.4,403.9 474.1,402.1 474.8,400.4 475.5,398.5 476.2,396.7 476.9,394.9 477.6,393 478.3,391.2 479,389.4 479.7,387.6 480.4,385.9 481.1,384.1 481.8,382.3 482.5,380.4 483.2,378.5 483.9,376.5 484.6,374.5 485.3,372.3 486,370 486.7,367.4 487.4,364.5 488.1,361.5 488.8,358.4 489.5,355.5 490.2,353 490.9,350.7 491.6,348.4 492.3,346.3 493,344.2 493.7,342.2 494.4,340.3 495.1,338.4 495.8,336.5 496.5,334.7 497.2,332.9 497.9,331.1 498.6,329.3 499.3,327.6 500,326 500.7,324.3 501.4,322.8 502.1,321.2 502.8,319.8 503.5,318.4 504.2,317 504.9,315.7 505.6,314.4 506.3,313.1 507,311.9 507.7,310.7 508.4,309.5 509.1,308.4 509.8,307.3 510.5,306.2 511.2,305.2 511.9,304.1 512.6,303.1 513.3,302.1 514,301.1 514.7,300.1 515.4,299.2 516.1,298.2 516.8,297.4 517.5,296.5 518.2,295.8 518.9,295 519.6,294.4 520.3,293.7 521,293.2 521.7,292.6 522.4,292 523.1,291.5 523.8,291 524.5,290.5 525.2,290 525.9,289.6 526.6,289.2 527.3,288.8 528,288.4 528.7,288.1 529.4,287.8 530.1,287.5 530.8,287.2 531.5,286.9 532.2,286.6 532.9,286.3 533.6,286 534.3,285.8 535,285.5 535.7,285.3 536.4,285.1 537.1,284.9 537.8,284.8 538.5,284.7 539.2,284.6 539.9,284.6 540.6,284.6 541.3,284.6 542,284.7 542.7,284.7 543.4,284.8 544.1,284.9 544.8,285 545.5,285.1 546.2,285.2 546.9,285.3 547.6,285.5 548.3,285.6 549,285.8 549.7,285.9 550.4,286.1 551.1,286.3 551.8,286.6 552.5,287 553.2,287.4 553.9,287.9 554.6,288.4 555.3,288.9 556,289.5 556.7,290.1 557.4,290.7 558.1,291.3 558.8,292 559.5,292.6 560.2,293.2 560.9,293.9 561.6,294.7 562.3,295.4 563,296.3 563.7,297.1 564.4,298 565.1,298.9 565.8,299.9 566.5,300.9 567.2,301.9 567.9,303 568.6,304.1 569.3,305.3 570,306.5 570.7,307.9 571.4,309.3 572.1,310.8 572.8,312.4 573.5,314 574.2,315.8 574.9,317.5 575.6,319.4 576.3,321.2 577,323.1 577.7,325.1 578.4,327 579.1,329 579.8,331 580.5,333.2 581.2,335.4 581.9,337.7 582.6,340.1 583.3,342.5 584,345 584.7,347.5 585.4,350 586.1,352.5 586.8,355 587.5,357.4 588.2,359.8 588.9,362.2 589.6,364.5 590.3,366.8 591,369.1 591.7,371.4 592.4,373.7 593.1,376 593.8,378.3 594.5,380.6 595.2,382.8 595.9,385 596.6,387.1 597.3,389.2 598,391.3 598.7,393.2 599.4,395.1 600.1,397 600.8,398.9 601.5,400.7 602.2,402.5 602.9,404.2 603.6,405.9 604.3,407.6 605,409.2 605.7,410.8 606.4,412.4 607.1,413.9 607.7,415.2" fill="none" stroke="#ff3030" stroke-width="0.8" stroke-linejoin="round" stroke-opacity="1.0"/>
<polyline points="431,441.6 431.7,441.2 432.4,440.8 433.1,440.4 433.8,439.9 434.5,439.4 435.2,438.8 435.9,438.1 436.6,437.5 437.3,436.8 438,436 438.7,435.3 439.4,434.5 440.1,433.7 440.8,432.8 441.5,432 442.2,431.1 442.9,430.2 443.6,429.2 444.3,428.3 445,427.3 445.7,426.3 446.4,425.1 447.1,423.9 447.8,422.6 448.5,421.3 449.2,419.9 449.9,418.5 450.6,417 451.3,415.5 452,413.9 452.7,412.3 453.4,410.7 454.1,409.1 454.8,407.4 455.5,405.8 456.2,404.1 456.9,402.5 457.6,400.8 458.3,399.1 459,397.3 459.7,395.5 460.4,393.7 461.1,391.7 461.8,389.8 462.5,387.9 463.2,385.9 463.9,384 464.6,382.1 465.3,380.2 466,378.3 466.7,376.4 467.4,374.5 468.1,372.6 468.8,370.8 469.5,368.9 470.2,367 470.9,365.1 471.6,363.2 472.3,361.3 473,359.5 473.7,357.6 474.4,355.7 475.1,353.8 475.8,351.8 476.5,349.9 477.2,348.1 477.9,346.2 478.6,344.4 479.3,342.7 480,341 480.7,339.4 481.4,337.7 482.1,336.2 482.8,334.6 483.5,333 484.2,331.5 484.9,330 485.6,328.6 486.3,327.1 487,325.7 487.7,324.3 488.4,323 489.1,321.7 489.8,320.4 490.5,319.1 491.2,317.8 491.9,316.6 492.6,315.3 493.3,314.1 494,312.9 494.7,311.7 495.4,310.5 496.1,309.4 496.8,308.3 497.5,307.3 498.2,306.3 498.9,305.3 499.6,304.5 500.3,303.7 501,302.9 501.7,302.1 502.4,301.4 503.1,300.7 503.8,300.1 504.5,299.4 505.2,298.8 505.9,298.2 506.6,297.6 507.3,297 508,296.5 508.7,296 509.4,295.4 510.1,294.9 510.8,294.4 511.5,293.9 512.2,293.5 512.9,293 513.6,292.5 514.3,292.1 515,291.7 515.7,291.2 516.4,290.8 517.1,290.4 517.8,290.1 518.5,289.7 519.2,289.4 519.9,289 520.6,288.7 521.3,288.4 522,288.1 522.7,287.8 523.4,287.6 524.1,287.3 524.8,287 525.5,286.8 526.2,286.5 526.9,286.3 527.6,286.1 528.3,285.9 529,285.7 529.7,285.6 530.4,285.4 531.1,285.3 531.8,285.1 532.5,285 533.2,284.8 533.9,284.7 534.6,284.6 535.3,284.4 536,284.3 536.7,284.2 537.4,284.1 538.1,284.1 538.8,284 539.5,284 540.2,284 540.9,284 541.6,284 542.3,284.1 543,284.1 543.7,284.2 544.4,284.2 545.1,284.3 545.8,284.4 546.5,284.5 547.2,284.6 547.9,284.7 548.6,284.8 549.3,284.9 550,285 550.7,285.1 551.4,285.2 552.1,285.4 552.8,285.6 553.5,285.7 554.2,285.9 554.9,286.2 555.6,286.4 556.3,286.6 557,286.9 557.7,287.1 558.4,287.4 559.1,287.6 559.8,287.9 560.5,288.2 561.2,288.5 561.9,288.8 562.6,289.1 563.3,289.5 564,289.8 564.7,290.2 565.4,290.6 566.1,291.1 566.8,291.5 567.5,292 568.2,292.5 568.9,293.1 569.6,293.6 570.3,294.3 571,295 571.7,295.9 572.4,296.8 573.1,297.9 573.8,299.1 574.5,300.3 575.2,301.5 575.9,302.9 576.6,304.2 577.3,305.6 578,307 578.7,308.5 579.4,310 580.1,311.7 580.8,313.4 581.5,315.2 582.2,317.1 582.9,319 583.6,321 584.3,323 585,325 585.7,327.1 586.4,329.2 587.1,331.5 587.8,333.8 588.5,336.1 589.2,338.5 589.9,340.9 590.6,343.3 591.3,345.7 592,348 592.7,350.4 593.4,352.7 594.1,355.2 594.8,357.6 595.5,360.1 596.2,362.5 596.9,364.9 597.6,367.3 598.3,369.6 599,371.9 599.7,374.1 600.4,376.2 601.1,378.3 601.8,380.4 602.5,382.4 603.2,384.5 603.9,386.5 604.6,388.5 605.3,390.4 606,392.3 606.7,394.2 607.4,396.1 608.1,397.9 608.8,399.6 609.5,401.4 610.2,403.1 610.7,404.3" fill="none" stroke="#55ff55" stroke-width="0.8" stroke-linejoin="round" stroke-opacity="1.0"/>
<polyline points="424.4,430.2 425.1,429.3 425.8,428.4 426.5,427.4 427.2,426.4 427.9,425.4 428.6,424.4 429.3,423.3 430,422.2 430.7,421.1 431.4,420 432.1,418.9 432.8,417.7 433.5,416.5 434.2,415.3 434.9,414 435.6,412.8 436.3,411.5 437,410.2 437.7,408.9 438.4,407.6 439.1,406.3 439.8,405 440.5,403.6 441.2,402.2 441.9,400.8 442.6,399.3 443.3,397.7 444,396.1 444.7,394.5 445.4,392.9 446.1,391.2 446.8,389.5 447.5,387.9 448.2,386.2 448.9,384.6 449.6,382.9 450.3,381.3 451,379.7 451.7,378.1 452.4,376.4 453.1,374.8 453.8,373.1 454.5,371.5 455.2,369.8 455.9,368.2 456.6,366.6 457.3,365 458,363.4 458.7,361.8 459.4,360.2 460.1,358.7 460.8,357.1 461.5,355.6 462.2,354.1 462.9,352.6 463.6,351.1 464.3,349.6 465,348.1 465.7,346.7 466.4,345.2 467.1,343.8 467.8,342.4 468.5,340.9 469.2,339.6 469.9,338.2 470.6,336.8 471.3,335.5 472,334.2 472.7,332.8 473.4,331.5 474.1,330.2 474.8,328.9 475.5,327.6 476.2,326.4 476.9,325.2 477.6,323.9 478.3,322.8 479,321.6 479.7,320.5 480.4,319.4 481.1,318.3 481.8,317.2 482.5,316.1 483.2,315 483.9,314 484.6,313 485.3,312 486,311 486.7,310 487.4,309.1 488.1,308.2 488.8,307.4 489.5,306.6 490.2,305.8 490.9,305 491.6,304.3 492.3,303.6 493,302.9 493.7,302.2 494.4,301.5 495.1,300.8 495.8,300.2 496.5,299.6 497.2,299 497.9,298.5 498.6,298 499.3,297.5 500,297 500.7,296.6 501.4,296.1 502.1,295.7 502.8,295.3 503.5,294.9 504.2,294.6 504.9,294.2 505.6,293.9 506.3,293.5 507,293.2 507.7,292.9 508.4,292.6 509.1,292.3 509.8,292.1 510.5,291.8 511.2,291.6 511.9,291.3 512.6,291.1 513.3,290.9 514,290.7 514.7,290.5 515.4,290.3 516.1,290.1 516.8,289.9 517.5,289.7 518.2,289.5 518.9,289.3 519.6,289.1 520.3,288.9 521,288.7 521.7,288.5 522.4,288.3 523.1,288.1 523.8,287.9 524.5,287.7 525.2,287.5 525.9,287.2 526.6,287 527.3,286.8 528,286.6 528.7,286.4 529.4,286.2 530.1,286 530.8,285.7 531.5,285.5 532.2,285.2 532.9,284.9 533.6,284.6 534.3,284.3 535,284 535.7,283.7 536.4,283.4 537.1,283.2 537.8,283 538.5,282.8 539.2,282.6 539.9,282.5 540.6,282.5 541.3,282.5 542,282.5 542.7,282.6 543.4,282.6 544.1,282.7 544.8,282.8 545.5,282.8 546.2,282.9 546.9,283 547.6,283.1 548.3,283.2 549,283.3 549.7,283.5 550.4,283.6 551.1,283.7 551.8,283.8 552.5,283.9 553.2,284.1 553.9,284.2 554.6,284.4 555.3,284.6 556,284.8 556.7,284.9 557.4,285.2 558.1,285.4 558.8,285.6 559.5,285.8 560.2,286.1 560.9,286.3 561.6,286.6 562.3,286.9 563,287.3 563.7,287.6 564.4,288 565.1,288.4 565.8,288.8 566.5,289.3 567.2,289.8 567.9,290.3 568.6,290.8 569.3,291.4 570,292 570.7,292.7 571.4,293.5 572.1,294.4 572.8,295.5 573.5,296.6 574.2,297.8 574.9,299 575.6,300.3 576.3,301.7 577,303 577.7,304.4 578.4,305.8 579.1,307.2 579.8,308.8 580.5,310.4 581.2,312 581.9,313.8 582.6,315.5 583.3,317.4 584,319.2 584.7,321.2 585.4,323.1 586.1,325.2 586.8,327.4 587.5,329.7 588.2,332 588.9,334.4 589.6,336.8 590.3,339.2 591,341.6 591.7,344 592.4,346.3 593.1,348.7 593.8,351 594.5,353.3 595.2,355.6 595.9,358 596.6,360.3 597.3,362.7 598,365 598.7,367.5 599.4,369.9 600.1,372.4 600.8,374.9 601.5,377.4 602.2,380 602.9,382.6 603.6,385.3 604.3,387.9 605,390.5 605.7,393.2 606.4,395.8 607.1,398.4 607.8,400.9 608.5,403.5 609.2,406.1 609.9,408.6 610.6,411.2 611.3,413.7 612,416.3 612.7,418.8 613.4,421.4 613.6,422.1" fill="none" stroke="#5050ff" stroke-width="0.8" stroke-linejoin="round" stroke-opacity="1.0"/>
<polyline points="424.4,425.5 425.1,424.6 425.8,423.6 426.5,422.6 427.2,421.5 427.9,420.5 428.6,419.4 429.3,418.3 430,417.2 430.7,416 431.4,414.8 432.1,413.6 432.8,412.4 433.5,411.2 434.2,409.9 434.9,408.7 435.6,407.4 436.3,406.1 437,404.8 437.7,403.4 438.4,402.1 439.1,400.7 439.8,399.3 440.5,397.9 441.2,396.4 441.9,394.9 442.6,393.3 443.3,391.7 444,390.1 444.7,388.5 445.4,386.8 446.1,385.2 446.8,383.5 447.5,381.8 448.2,380 448.9,378.2 449.6,376.3 450.3,374.5 451,372.5 451.7,370.6 452.4,368.7 453.1,366.8 453.8,364.9 454.5,363.1 455.2,361.3 455.9,359.5 456.6,357.8 457.3,356 458,354.3 458.7,352.7 459.4,351 460.1,349.3 460.8,347.7 461.5,346.1 462.2,344.4 462.9,342.8 463.6,341.2 464.3,339.6 465,338 465.7,336.4 466.4,334.8 467.1,333.2 467.8,331.6 468.5,330 469.2,328.4 469.9,326.8 470.6,325.3 471.3,323.7 472,322.2 472.7,320.7 473.4,319.2 474.1,317.8 474.8,316.4 475.5,315 476.2,313.6 476.9,312.2 477.6,310.8 478.3,309.4 479,308.1 479.7,306.7 480.4,305.4 481.1,304.2 481.8,303.1 482.5,302 483.2,301 483.9,300.1 484.6,299.4 485.3,298.6 486,297.9 486.7,297.3 487.4,296.6 488.1,296 488.8,295.4 489.5,294.9 490.2,294.4 490.9,293.9 491.6,293.4 492.3,293 493,292.6 493.7,292.3 494.4,292 495.1,291.7 495.8,291.4 496.5,291.1 497.2,290.8 497.9,290.5 498.6,290.3 499.3,290 500,289.8 500.7,289.5 501.4,289.3 502.1,289.1 502.8,288.9 503.5,288.7 504.2,288.5 504.9,288.3 505.6,288.2 506.3,288 507,287.9 507.7,287.7 508.4,287.6 509.1,287.5 509.8,287.4 510.5,287.2 511.2,287.1 511.9,287 512.6,287 513.3,286.9 514,286.8 514.7,286.7 515.4,286.6 516.1,286.6 516.8,286.5 517.5,286.4 518.2,286.4 518.9,286.3 519.6,286.2 520.3,286.2 521,286.1 521.7,286 522.4,285.9 523.1,285.8 523.8,285.8 524.5,285.7 525.2,285.6 525.9,285.5 526.6,285.3 527.3,285.2 528,285.1 528.7,284.9 529.4,284.8 530.1,284.6 530.8,284.4 531.5,284.3 532.2,284.1 532.9,283.9 533.6,283.8 534.3,283.7 535,283.5 535.7,283.4 536.4,283.3 537.1,283.2 537.8,283.1 538.5,283.1 539.2,283 539.9,283 540.6,283 541.3,283 542,283 542.7,283 543.4,283 544.1,283 544.8,283.1 545.5,283.1 546.2,283.1 546.9,283.1 547.6,283.1 548.3,283.2 549,283.2 549.7,283.2 550.4,283.3 551.1,283.3 551.8,283.3 552.5,283.4 553.2,283.4 553.9,283.4 554.6,283.5 555.3,283.5 556,283.6 556.7,283.7 557.4,283.8 558.1,283.9 558.8,284 559.5,284.2 560.2,284.4 560.9,284.6 561.6,284.8 562.3,285 563,285.3 563.7,285.5 564.4,285.8 565.1,286 565.8,286.4 566.5,286.8 567.2,287.2 567.9,287.8 568.6,288.3 569.3,289 570,289.7 570.7,290.4 571.4,291.1 572.1,291.9 572.8,292.8 573.5,293.6 574.2,294.6 574.9,295.7 575.6,296.9 576.3,298.2 577,299.6 577.7,301 578.4,302.5 579.1,304 579.8,305.6 580.5,307.1 581.2,308.8 581.9,310.5 582.6,312.4 583.3,314.3 584,316.2 584.7,318.2 585.4,320.3 586.1,322.3 586.8,324.4 587.5,326.5 588.2,328.7 588.9,330.9 589.6,333.2 590.3,335.5 591,337.8 591.7,340.2 592.4,342.6 593.1,345 593.8,347.3 594.5,349.7 595.2,352 595.9,354.4 596.6,356.7 597.3,359.1 598,361.5 598.7,363.9 599.4,366.3 600.1,368.8 600.8,371.3 601.5,373.8 602.2,376.4 602.9,379 603.6,381.7 604.3,384.4 605,387.1 605.7,389.9 606.4,392.6 607.1,395.4 607.8,398.2 608.5,401 609.2,403.8 609.9,406.7 610.6,409.5 611.3,412.4 612,415.4 612.7,418.3 613.4,421.3 613.6,422.1" fill="none" stroke="#ff99ff" stroke-width="0.8" stroke-linejoin="round" stroke-opacity="1.0"/>
<path d="M426.3 351.7h2.6v2.6h-2.6zM429.2 352h2.6v2.6h-2.6zM432.1 352.3h2.6v2.6h-2.6zM434.9 352.6h2.6v2.6h-2.6zM437.8 352.8h2.6v2.6h-2.6zM440.6 353.1h2.6v2.6h-2.6zM443.5 353.4h2.6v2.6h-2.6zM446.4 353.6h2.6v2.6h-2.6zM449.2 353.7h2.6v2.6h-2.6zM452.1 353.9h2.6v2.6h-2.6zM454.9 354h2.6v2.6h-2.6zM457.8 354.1h2.6v2.6h-2.6zM460.7 354.2h2.6v2.6h-2.6zM463.5 354.3h2.6v2.6h-2.6zM466.4 354.4h2.6v2.6h-2.6zM469.2 354.5h2.6v2.6h-2.6zM472.1 354.7h2.6v2.6h-2.6zM475 355h2.6v2.6h-2.6zM477.8 355.3h2.6v2.6h-2.6zM480.7 355.7h2.6v2.6h-2.6zM483.5 356h2.6v2.6h-2.6zM486.4 356.3h2.6v2.6h-2.6zM489.2 356.8h2.6v2.6h-2.6zM492.1 357.9h2.6v2.6h-2.6zM495 359.4h2.6v2.6h-2.6zM497.8 361.1h2.6v2.6h-2.6zM500.7 362.8h2.6v2.6h-2.6zM503.5 364.6h2.6v2.6h-2.6zM506.4 366.6h2.6v2.6h-2.6zM509.3 368.9h2.6v2.6h-2.6zM512.1 371.4h2.6v2.6h-2.6zM515 374.2h2.6v2.6h-2.6zM517.8 377.3h2.6v2.6h-2.6zM520.7 380.2h2.6v2.6h-2.6zM523.6 383h2.6v2.6h-2.6zM526.4 385.8h2.6v2.6h-2.6zM529.3 388.7h2.6v2.6h-2.6zM532.1 391.7h2.6v2.6h-2.6zM535 395h2.6v2.6h-2.6zM537.9 398.4h2.6v2.6h-2.6zM540.7 402h2.6v2.6h-2.6zM543.6 405.8h2.6v2.6h-2.6zM546.4 409.5h2.6v2.6h-2.6zM549.3 413.1h2.6v2.6h-2.6zM552.1 416.6h2.6v2.6h-2.6zM555 420.1h2.6v2.6h-2.6zM557.9 423.4h2.6v2.6h-2.6zM560.7 426.7h2.6v2.6h-2.6zM563.6 430h2.6v2.6h-2.6zM566.4 433.1h2.6v2.6h-2.6zM569.3 435.8h2.6v2.6h-2.6zM572.2 438.5h2.6v2.6h-2.6zM575 440.9h2.6v2.6h-2.6zM577.9 442.5h2.6v2.6h-2.6zM580.7 443.6h2.6v2.6h-2.6zM583.6 444.4h2.6v2.6h-2.6zM586.5 445.1h2.6v2.6h-2.6zM589.3 445.8h2.6v2.6h-2.6zM592.2 446.4h2.6v2.6h-2.6zM595 446.9h2.6v2.6h-2.6zM597.9 447.5h2.6v2.6h-2.6zM600.7 448h2.6v2.6h-2.6zM603.4 448.4h2.6v2.6h-2.6z" fill="#000000"/>
<path d="M426.3 453.6h2.6v2.6h-2.6zM429.1 453h2.6v2.6h-2.6zM432 452.6h2.6v2.6h-2.6zM434.8 452h2.6v2.6h-2.6zM437.7 451.9h2.6v2.6h-2.6zM440.5 451.7h2.6v2.6h-2.6zM443.5 450.4h2.6v2.6h-2.6zM446.6 449.9h2.6v2.6h-2.6zM449.6 449h2.6v2.6h-2.6zM452.7 446.4h2.6v2.6h-2.6zM455.3 447.3h2.6v2.6h-2.6zM458.4 444.7h2.6v2.6h-2.6zM461 444.7h2.6v2.6h-2.6zM464.1 442h2.6v2.6h-2.6zM467.2 438.5h2.6v2.6h-2.6zM469.8 438.1h2.6v2.6h-2.6zM472.8 432.4h2.6v2.6h-2.6zM475.5 428.9h2.6v2.6h-2.6zM478.5 426.3h2.6v2.6h-2.6zM481.6 420.6h2.6v2.6h-2.6zM484.2 415.3h2.6v2.6h-2.6zM487.3 409.6h2.6v2.6h-2.6zM490.2 405.9h2.6v2.6h-2.6zM493.2 395.5h2.6v2.6h-2.6zM496.3 371.3h2.6v2.6h-2.6zM499 370.3h2.6v2.6h-2.6zM502.1 372.9h2.6v2.6h-2.6zM504.8 347.7h2.6v2.6h-2.6zM507.9 346.6h2.6v2.6h-2.6zM510.5 338.7h2.6v2.6h-2.6zM513.2 330.3h2.6v2.6h-2.6zM517.8 318.4h2.6v2.6h-2.6zM520.7 313.3h2.6v2.6h-2.6zM523.6 308h2.6v2.6h-2.6zM526.4 302.8h2.6v2.6h-2.6zM529.3 299.2h2.6v2.6h-2.6zM532.1 295.3h2.6v2.6h-2.6zM535 291.7h2.6v2.6h-2.6zM537.9 289h2.6v2.6h-2.6zM540.7 288.4h2.6v2.6h-2.6zM543.6 289.3h2.6v2.6h-2.6zM546.4 290.7h2.6v2.6h-2.6zM549.3 292.5h2.6v2.6h-2.6zM552.1 294.2h2.6v2.6h-2.6zM555 296.2h2.6v2.6h-2.6zM557.9 301.3h2.6v2.6h-2.6zM560.7 306.2h2.6v2.6h-2.6zM563.6 313.5h2.6v2.6h-2.6zM566.4 323h2.6v2.6h-2.6zM569.3 330.7h2.6v2.6h-2.6zM572.2 341.4h2.6v2.6h-2.6zM575 350.7h2.6v2.6h-2.6zM577.9 362.1h2.6v2.6h-2.6zM580.7 376.3h2.6v2.6h-2.6zM583.6 386.4h2.6v2.6h-2.6zM586.5 395.6h2.6v2.6h-2.6zM589.3 404.5h2.6v2.6h-2.6zM592.2 412.8h2.6v2.6h-2.6zM595 423.1h2.6v2.6h-2.6zM597.9 431.8h2.6v2.6h-2.6zM600.5 439.5h2.6v2.6h-2.6z" fill="#000000"/>
<path d="M429.2 321.4h2.6v2.6h-2.6zM432.1 321.6h2.6v2.6h-2.6zM434.9 321.9h2.6v2.6h-2.6zM437.8 322.2h2.6v2.6h-2.6zM440.6 322.5h2.6v2.6h-2.6zM443.5 322.8h2.6v2.6h-2.6zM446.4 323.1h2.6v2.6h-2.6zM449.2 323.4h2.6v2.6h-2.6zM452.1 323.8h2.6v2.6h-2.6zM454.9 324.1h2.6v2.6h-2.6zM457.8 324.5h2.6v2.6h-2.6zM460.7 324.9h2.6v2.6h-2.6zM463.5 325.4h2.6v2.6h-2.6zM466.4 325.9h2.6v2.6h-2.6zM469.2 326.5h2.6v2.6h-2.6zM472.1 327.3h2.6v2.6h-2.6zM475 328.3h2.6v2.6h-2.6zM477.8 329.3h2.6v2.6h-2.6zM480.7 330.7h2.6v2.6h-2.6zM483.5 332.4h2.6v2.6h-2.6zM486.4 333.9h2.6v2.6h-2.6zM489.2 335.4h2.6v2.6h-2.6zM492.1 337.2h2.6v2.6h-2.6zM495 339.6h2.6v2.6h-2.6zM497.8 342.6h2.6v2.6h-2.6zM500.7 345.4h2.6v2.6h-2.6zM503.5 347.9h2.6v2.6h-2.6zM506.4 350.3h2.6v2.6h-2.6zM509.3 353h2.6v2.6h-2.6zM512.1 355.9h2.6v2.6h-2.6zM515 359h2.6v2.6h-2.6zM517.8 362.3h2.6v2.6h-2.6zM520.7 365.5h2.6v2.6h-2.6zM523.6 368.8h2.6v2.6h-2.6zM526.4 372.1h2.6v2.6h-2.6zM529.3 375.3h2.6v2.6h-2.6zM532.1 378.6h2.6v2.6h-2.6zM535 382h2.6v2.6h-2.6zM537.9 385.4h2.6v2.6h-2.6zM540.7 388.6h2.6v2.6h-2.6zM543.6 391.5h2.6v2.6h-2.6zM546.4 394.2h2.6v2.6h-2.6zM549.3 397.2h2.6v2.6h-2.6zM552.1 400.5h2.6v2.6h-2.6zM555 404h2.6v2.6h-2.6zM557.9 407.7h2.6v2.6h-2.6zM560.7 411.6h2.6v2.6h-2.6zM563.6 415.7h2.6v2.6h-2.6zM566.4 419.7h2.6v2.6h-2.6zM569.3 423.5h2.6v2.6h-2.6zM572.2 427.2h2.6v2.6h-2.6zM575 430.6h2.6v2.6h-2.6zM577.9 433.7h2.6v2.6h-2.6zM580.7 436.4h2.6v2.6h-2.6zM583.6 438.9h2.6v2.6h-2.6zM586.5 440.9h2.6v2.6h-2.6zM589.3 442.1h2.6v2.6h-2.6zM592.2 443.1h2.6v2.6h-2.6zM595 443.8h2.6v2.6h-2.6zM597.9 444.5h2.6v2.6h-2.6zM600.7 445h2.6v2.6h-2.6zM603.4 445.4h2.6v2.6h-2.6z" fill="#ff0000"/>
<path d="M429.2 449.5h2.6v2.6h-2.6zM432.1 447.7h2.6v2.6h-2.6zM434.9 446.8h2.6v2.6h-2.6zM437.8 445.8h2.6v2.6h-2.6zM440.6 443.9h2.6v2.6h-2.6zM443.5 442.8h2.6v2.6h-2.6zM446.4 441h2.6v2.6h-2.6zM449.2 439.2h2.6v2.6h-2.6zM452.1 436.6h2.6v2.6h-2.6zM454.9 432.9h2.6v2.6h-2.6zM457.8 429h2.6v2.6h-2.6zM460.7 425.4h2.6v2.6h-2.6zM463.5 419.3h2.6v2.6h-2.6zM466.4 413.6h2.6v2.6h-2.6zM469.2 408h2.6v2.6h-2.6zM472.1 399.5h2.6v2.6h-2.6zM475 393.1h2.6v2.6h-2.6zM477.8 384.6h2.6v2.6h-2.6zM480.7 375.7h2.6v2.6h-2.6zM483.5 368.8h2.6v2.6h-2.6zM486.4 361.4h2.6v2.6h-2.6zM489.2 351.3h2.6v2.6h-2.6zM492.1 343.5h2.6v2.6h-2.6zM495 337.3h2.6v2.6h-2.6zM497.8 329.2h2.6v2.6h-2.6zM500.7 323h2.6v2.6h-2.6zM503.5 316.7h2.6v2.6h-2.6zM506.4 310.3h2.6v2.6h-2.6zM509.3 305.4h2.6v2.6h-2.6zM512.1 301.7h2.6v2.6h-2.6zM515 298.4h2.6v2.6h-2.6zM517.8 295.2h2.6v2.6h-2.6zM520.7 291.9h2.6v2.6h-2.6zM523.6 289.6h2.6v2.6h-2.6zM526.4 288.4h2.6v2.6h-2.6zM529.3 287.2h2.6v2.6h-2.6zM532.1 286h2.6v2.6h-2.6zM535 285h2.6v2.6h-2.6zM537.9 284.3h2.6v2.6h-2.6zM540.7 284.3h2.6v2.6h-2.6zM543.6 284.3h2.6v2.6h-2.6zM546.4 284.7h2.6v2.6h-2.6zM549.3 285.9h2.6v2.6h-2.6zM552.1 287.2h2.6v2.6h-2.6zM555 289h2.6v2.6h-2.6zM557.9 292.6h2.6v2.6h-2.6zM560.7 295.7h2.6v2.6h-2.6zM563.6 299.2h2.6v2.6h-2.6zM566.4 305.7h2.6v2.6h-2.6zM569.3 309.5h2.6v2.6h-2.6zM572.2 314.5h2.6v2.6h-2.6zM575 322h2.6v2.6h-2.6zM577.9 331.4h2.6v2.6h-2.6zM580.7 342h2.6v2.6h-2.6zM583.6 352.4h2.6v2.6h-2.6zM586.5 363h2.6v2.6h-2.6zM589.3 375.7h2.6v2.6h-2.6zM592.2 385h2.6v2.6h-2.6zM595 398.4h2.6v2.6h-2.6zM597.9 408h2.6v2.6h-2.6zM600.7 421.3h2.6v2.6h-2.6zM603.6 432h2.6v2.6h-2.6zM606.4 435.6h2.6v2.6h-2.6z" fill="#ff0000"/>
<path d="M429.2 298.5h2.6v2.6h-2.6zM432.1 298.5h2.6v2.6h-2.6zM434.9 298.5h2.6v2.6h-2.6zM437.8 298.8h2.6v2.6h-2.6zM440.6 299.5h2.6v2.6h-2.6zM443.5 300.2h2.6v2.6h-2.6zM446.4 300.9h2.6v2.6h-2.6zM449.2 301.6h2.6v2.6h-2.6zM452.1 302.4h2.6v2.6h-2.6zM454.9 303.2h2.6v2.6h-2.6zM457.8 304.1h2.6v2.6h-2.6zM460.7 305.2h2.6v2.6h-2.6zM463.5 306.7h2.6v2.6h-2.6zM466.4 308.3h2.6v2.6h-2.6zM469.2 310.1h2.6v2.6h-2.6zM472.1 312h2.6v2.6h-2.6zM475 313.8h2.6v2.6h-2.6zM477.8 315.6h2.6v2.6h-2.6zM480.7 317.8h2.6v2.6h-2.6zM483.5 320.3h2.6v2.6h-2.6zM486.4 322.8h2.6v2.6h-2.6zM489.2 325.3h2.6v2.6h-2.6zM492.1 328.1h2.6v2.6h-2.6zM495 331.1h2.6v2.6h-2.6zM497.8 333.8h2.6v2.6h-2.6zM500.7 336.5h2.6v2.6h-2.6zM503.5 339.1h2.6v2.6h-2.6zM506.4 341.8h2.6v2.6h-2.6zM509.3 344.5h2.6v2.6h-2.6zM512.1 347.6h2.6v2.6h-2.6zM515 351h2.6v2.6h-2.6zM517.8 354.4h2.6v2.6h-2.6zM520.7 357.6h2.6v2.6h-2.6zM523.6 360.8h2.6v2.6h-2.6zM526.4 363.9h2.6v2.6h-2.6zM529.3 367h2.6v2.6h-2.6zM532.1 370.2h2.6v2.6h-2.6zM535 373.4h2.6v2.6h-2.6zM537.9 376.7h2.6v2.6h-2.6zM540.7 380.1h2.6v2.6h-2.6zM543.6 383.5h2.6v2.6h-2.6zM546.4 387h2.6v2.6h-2.6zM549.3 390.6h2.6v2.6h-2.6zM552.1 394.3h2.6v2.6h-2.6zM555 398.3h2.6v2.6h-2.6zM557.9 402.4h2.6v2.6h-2.6zM560.7 406.2h2.6v2.6h-2.6zM563.6 410h2.6v2.6h-2.6zM566.4 413.7h2.6v2.6h-2.6zM569.3 417.4h2.6v2.6h-2.6zM572.2 421.3h2.6v2.6h-2.6zM575 425h2.6v2.6h-2.6zM577.9 428.3h2.6v2.6h-2.6zM580.7 431h2.6v2.6h-2.6zM583.6 433.5h2.6v2.6h-2.6zM586.5 435.7h2.6v2.6h-2.6zM589.3 437.5h2.6v2.6h-2.6zM592.2 439.1h2.6v2.6h-2.6zM595 440.5h2.6v2.6h-2.6zM597.9 441.6h2.6v2.6h-2.6zM600.7 442.5h2.6v2.6h-2.6zM603.6 443.3h2.6v2.6h-2.6zM606.5 444h2.6v2.6h-2.6zM609.3 444.4h2.6v2.6h-2.6z" fill="#00ff00"/>
<path d="M429.2 445.3h2.6v2.6h-2.6zM432.1 436.5h2.6v2.6h-2.6zM434.9 431.7h2.6v2.6h-2.6zM437.8 431.2h2.6v2.6h-2.6zM440.6 428.2h2.6v2.6h-2.6zM443.5 423h2.6v2.6h-2.6zM446.4 418.8h2.6v2.6h-2.6zM449.2 412.8h2.6v2.6h-2.6zM452.1 407h2.6v2.6h-2.6zM454.9 400h2.6v2.6h-2.6zM457.8 393.5h2.6v2.6h-2.6zM460.7 385.5h2.6v2.6h-2.6zM463.5 378.2h2.6v2.6h-2.6zM466.4 371.6h2.6v2.6h-2.6zM469.2 362.3h2.6v2.6h-2.6zM472.1 354.3h2.6v2.6h-2.6zM475 348.6h2.6v2.6h-2.6zM477.8 341.9h2.6v2.6h-2.6zM480.7 335.4h2.6v2.6h-2.6zM483.5 328.6h2.6v2.6h-2.6zM486.4 322.9h2.6v2.6h-2.6zM489.2 317.1h2.6v2.6h-2.6zM492.1 312.3h2.6v2.6h-2.6zM495 307.9h2.6v2.6h-2.6zM497.8 303.9h2.6v2.6h-2.6zM500.7 300.7h2.6v2.6h-2.6zM503.5 298.2h2.6v2.6h-2.6zM506.4 296.3h2.6v2.6h-2.6zM509.3 294.8h2.6v2.6h-2.6zM512.1 293.4h2.6v2.6h-2.6zM515 292h2.6v2.6h-2.6zM517.8 290.6h2.6v2.6h-2.6zM520.7 288.9h2.6v2.6h-2.6zM523.6 286.8h2.6v2.6h-2.6zM526.4 285.3h2.6v2.6h-2.6zM529.3 284.3h2.6v2.6h-2.6zM532.1 283.5h2.6v2.6h-2.6zM535 283.3h2.6v2.6h-2.6zM537.9 283.4h2.6v2.6h-2.6zM540.7 283.7h2.6v2.6h-2.6zM543.6 284.1h2.6v2.6h-2.6zM546.4 284.5h2.6v2.6h-2.6zM549.3 285.1h2.6v2.6h-2.6zM552.1 285.9h2.6v2.6h-2.6zM555 287h2.6v2.6h-2.6zM557.9 288.2h2.6v2.6h-2.6zM560.7 289.5h2.6v2.6h-2.6zM563.6 290.9h2.6v2.6h-2.6zM566.4 292.8h2.6v2.6h-2.6zM569.3 295.6h2.6v2.6h-2.6zM572.2 300.5h2.6v2.6h-2.6zM575 305.2h2.6v2.6h-2.6zM577.9 312.1h2.6v2.6h-2.6zM580.7 319.6h2.6v2.6h-2.6zM583.6 329.3h2.6v2.6h-2.6zM586.5 338.6h2.6v2.6h-2.6zM589.3 350h2.6v2.6h-2.6zM592.2 365.4h2.6v2.6h-2.6zM595 377.8h2.6v2.6h-2.6zM597.9 387.3h2.6v2.6h-2.6zM600.7 402.1h2.6v2.6h-2.6zM603.6 412.8h2.6v2.6h-2.6zM606.5 428h2.6v2.6h-2.6zM609.3 440.2h2.6v2.6h-2.6z" fill="#00ff00"/>
<path d="M446.8 285.7h2.6v2.6h-2.6zM449.2 286.7h2.6v2.6h-2.6zM452.1 288h2.6v2.6h-2.6zM454.9 289.5h2.6v2.6h-2.6zM457.8 291.2h2.6v2.6h-2.6zM460.7 293.2h2.6v2.6h-2.6zM463.5 295.4h2.6v2.6h-2.6zM466.4 297.8h2.6v2.6h-2.6zM469.2 300.4h2.6v2.6h-2.6zM472.1 302.9h2.6v2.6h-2.6zM475 305.5h2.6v2.6h-2.6zM477.8 308.4h2.6v2.6h-2.6zM480.7 311.9h2.6v2.6h-2.6zM483.5 315.4h2.6v2.6h-2.6zM486.4 318.5h2.6v2.6h-2.6zM489.2 321.2h2.6v2.6h-2.6zM492.1 324.2h2.6v2.6h-2.6zM495 327.2h2.6v2.6h-2.6zM497.8 330.3h2.6v2.6h-2.6zM500.7 333.7h2.6v2.6h-2.6zM503.5 336.6h2.6v2.6h-2.6zM506.4 339.1h2.6v2.6h-2.6zM509.3 341.7h2.6v2.6h-2.6zM512.1 344.7h2.6v2.6h-2.6zM515 348h2.6v2.6h-2.6zM517.8 351.4h2.6v2.6h-2.6zM520.7 354.6h2.6v2.6h-2.6zM523.6 357.8h2.6v2.6h-2.6zM526.4 360.8h2.6v2.6h-2.6zM529.3 363.9h2.6v2.6h-2.6zM532.1 367.1h2.6v2.6h-2.6zM535 370.3h2.6v2.6h-2.6zM537.9 373.5h2.6v2.6h-2.6zM540.7 376.9h2.6v2.6h-2.6zM543.6 380.3h2.6v2.6h-2.6zM546.4 383.8h2.6v2.6h-2.6zM549.3 387.4h2.6v2.6h-2.6zM552.1 391h2.6v2.6h-2.6zM555 394.6h2.6v2.6h-2.6zM557.9 398.4h2.6v2.6h-2.6zM560.7 402.2h2.6v2.6h-2.6zM563.6 406.2h2.6v2.6h-2.6zM566.4 410.1h2.6v2.6h-2.6zM569.3 414h2.6v2.6h-2.6zM572.2 417.9h2.6v2.6h-2.6zM575 421.7h2.6v2.6h-2.6zM577.9 425.3h2.6v2.6h-2.6zM580.7 428.6h2.6v2.6h-2.6zM583.6 431.8h2.6v2.6h-2.6zM586.5 434.6h2.6v2.6h-2.6zM589.3 437h2.6v2.6h-2.6zM592.2 439h2.6v2.6h-2.6zM595 440.7h2.6v2.6h-2.6zM597.9 442.2h2.6v2.6h-2.6zM600.7 443.3h2.6v2.6h-2.6zM603.6 444.3h2.6v2.6h-2.6zM606.5 445.3h2.6v2.6h-2.6zM609.3 446.1h2.6v2.6h-2.6zM612.2 446.9h2.6v2.6h-2.6z" fill="#0000ff"/>
<path d="M423.1 280h2.6v2.6h-2.6zM426 283h2.6v2.6h-2.6zM428.8 280h2.6v2.6h-2.6zM430.7 280h2.6v2.6h-2.6zM432.6 280h2.6v2.6h-2.6zM435.1 285.6h2.6v2.6h-2.6zM437.2 281.7h2.6v2.6h-2.6zM439.2 282.4h2.6v2.6h-2.6zM441.7 283.7h2.6v2.6h-2.6zM444.2 284.7h2.6v2.6h-2.6z" fill="#0000ff"/>
<path d="M443.6 399.5h2.6v2.6h-2.6zM446.4 392.3h2.6v2.6h-2.6zM449.2 385.1h2.6v2.6h-2.6zM452.1 379.6h2.6v2.6h-2.6zM454.9 370.6h2.6v2.6h-2.6zM457.8 360.7h2.6v2.6h-2.6zM460.7 354.6h2.6v2.6h-2.6zM463.5 348.6h2.6v2.6h-2.6zM466.4 340.6h2.6v2.6h-2.6zM469.2 331.7h2.6v2.6h-2.6zM472.1 327.2h2.6v2.6h-2.6zM475 323.7h2.6v2.6h-2.6zM477.8 318h2.6v2.6h-2.6zM480.7 312.7h2.6v2.6h-2.6zM483.5 309.4h2.6v2.6h-2.6zM486.4 306.4h2.6v2.6h-2.6zM489.2 303.6h2.6v2.6h-2.6zM492.1 300.7h2.6v2.6h-2.6zM495 297.8h2.6v2.6h-2.6zM497.8 295.4h2.6v2.6h-2.6zM500.7 293.5h2.6v2.6h-2.6zM503.5 292.2h2.6v2.6h-2.6zM506.4 291.3h2.6v2.6h-2.6zM509.3 290.5h2.6v2.6h-2.6zM512.1 289.8h2.6v2.6h-2.6zM515 289.1h2.6v2.6h-2.6zM517.8 288.5h2.6v2.6h-2.6zM520.7 287.6h2.6v2.6h-2.6zM523.6 286.4h2.6v2.6h-2.6zM526.4 285.2h2.6v2.6h-2.6zM529.3 284h2.6v2.6h-2.6zM532.1 282.8h2.6v2.6h-2.6zM535 281.7h2.6v2.6h-2.6zM537.9 280.9h2.6v2.6h-2.6zM540.7 280.9h2.6v2.6h-2.6zM543.6 281.4h2.6v2.6h-2.6zM546.4 282.2h2.6v2.6h-2.6zM549.3 282.9h2.6v2.6h-2.6zM552.1 283.4h2.6v2.6h-2.6zM555 284h2.6v2.6h-2.6zM557.9 284.8h2.6v2.6h-2.6zM560.7 285.7h2.6v2.6h-2.6zM563.6 287h2.6v2.6h-2.6zM566.4 288.9h2.6v2.6h-2.6zM569.3 291.6h2.6v2.6h-2.6zM572.2 295.6h2.6v2.6h-2.6zM575 300.3h2.6v2.6h-2.6zM577.9 306.2h2.6v2.6h-2.6zM580.7 312.7h2.6v2.6h-2.6zM583.6 321.5h2.6v2.6h-2.6zM586.5 329.8h2.6v2.6h-2.6zM589.3 340.4h2.6v2.6h-2.6zM592.2 351.6h2.6v2.6h-2.6zM595 363.6h2.6v2.6h-2.6zM597.9 376.4h2.6v2.6h-2.6zM600.7 388.3h2.6v2.6h-2.6zM603.6 399.5h2.6v2.6h-2.6zM606.5 411h2.6v2.6h-2.6zM609.3 431.6h2.6v2.6h-2.6zM612.2 444.7h2.6v2.6h-2.6z" fill="#0000ff"/>
<path d="M423.1 435.6h2.6v2.6h-2.6zM426.3 436.1h2.6v2.6h-2.6zM429.4 419.8h2.6v2.6h-2.6zM432.2 424.2h2.6v2.6h-2.6zM435.1 405.8h2.6v2.6h-2.6zM437.9 413.3h2.6v2.6h-2.6zM440.8 406.5h2.6v2.6h-2.6z" fill="#0000ff"/>
<path d="M423.5 274.5h2.6v2.6h-2.6zM426.3 275.2h2.6v2.6h-2.6zM429.2 275.9h2.6v2.6h-2.6zM432.1 276.6h2.6v2.6h-2.6zM434.9 277.5h2.6v2.6h-2.6zM437.8 278.3h2.6v2.6h-2.6zM440.6 279.3h2.6v2.6h-2.6zM443.5 280.6h2.6v2.6h-2.6zM446.4 282.1h2.6v2.6h-2.6zM449.2 283.5h2.6v2.6h-2.6zM452.1 285h2.6v2.6h-2.6zM454.9 286.7h2.6v2.6h-2.6zM457.8 288.9h2.6v2.6h-2.6zM460.7 291h2.6v2.6h-2.6zM463.5 292.8h2.6v2.6h-2.6zM466.4 295h2.6v2.6h-2.6zM469.2 297.9h2.6v2.6h-2.6zM472.1 300.8h2.6v2.6h-2.6zM475 303.2h2.6v2.6h-2.6zM477.8 305.7h2.6v2.6h-2.6zM480.7 308.5h2.6v2.6h-2.6zM483.5 311.5h2.6v2.6h-2.6zM486.4 314.6h2.6v2.6h-2.6zM489.2 317.7h2.6v2.6h-2.6zM492.1 320.9h2.6v2.6h-2.6zM495 324.1h2.6v2.6h-2.6zM497.8 327.4h2.6v2.6h-2.6zM500.7 330.6h2.6v2.6h-2.6zM503.5 333.8h2.6v2.6h-2.6zM506.4 336.9h2.6v2.6h-2.6zM509.3 340.1h2.6v2.6h-2.6zM512.1 343.3h2.6v2.6h-2.6zM515 346.6h2.6v2.6h-2.6zM517.8 349.9h2.6v2.6h-2.6zM520.7 353.1h2.6v2.6h-2.6zM523.6 356.3h2.6v2.6h-2.6zM526.4 359.3h2.6v2.6h-2.6zM529.3 362.4h2.6v2.6h-2.6zM532.1 365.6h2.6v2.6h-2.6zM535 368.8h2.6v2.6h-2.6zM537.9 372h2.6v2.6h-2.6zM540.7 375.4h2.6v2.6h-2.6zM543.6 378.8h2.6v2.6h-2.6zM546.4 382.3h2.6v2.6h-2.6zM549.3 385.9h2.6v2.6h-2.6zM552.1 389.5h2.6v2.6h-2.6zM555 393.1h2.6v2.6h-2.6zM557.9 396.9h2.6v2.6h-2.6zM560.7 400.7h2.6v2.6h-2.6zM563.6 404.7h2.6v2.6h-2.6zM566.4 408.6h2.6v2.6h-2.6zM569.3 412.5h2.6v2.6h-2.6zM572.2 416.4h2.6v2.6h-2.6zM575 420.2h2.6v2.6h-2.6zM577.9 423.8h2.6v2.6h-2.6zM580.7 427.1h2.6v2.6h-2.6zM583.6 430.3h2.6v2.6h-2.6zM586.5 433.1h2.6v2.6h-2.6zM589.3 435.5h2.6v2.6h-2.6zM592.2 437.5h2.6v2.6h-2.6zM595 439.2h2.6v2.6h-2.6zM597.9 440.7h2.6v2.6h-2.6zM600.7 441.8h2.6v2.6h-2.6zM603.6 442.8h2.6v2.6h-2.6zM606.5 443.8h2.6v2.6h-2.6zM609.3 444.6h2.6v2.6h-2.6zM612.2 445.4h2.6v2.6h-2.6z" fill="#ff80ff"/>
<path d="M423.5 428.8h2.6v2.6h-2.6zM426.3 430h2.6v2.6h-2.6zM429.2 418.7h2.6v2.6h-2.6zM432.1 414.8h2.6v2.6h-2.6zM434.9 407.3h2.6v2.6h-2.6zM437.8 403.2h2.6v2.6h-2.6zM440.6 395.3h2.6v2.6h-2.6zM443.5 385.9h2.6v2.6h-2.6zM446.4 379.3h2.6v2.6h-2.6zM449.2 371.5h2.6v2.6h-2.6zM452.1 363.9h2.6v2.6h-2.6zM454.9 356.2h2.6v2.6h-2.6zM457.8 350.7h2.6v2.6h-2.6zM460.7 343.3h2.6v2.6h-2.6zM463.5 336.5h2.6v2.6h-2.6zM466.4 329.8h2.6v2.6h-2.6zM469.2 323.9h2.6v2.6h-2.6zM472.1 318.1h2.6v2.6h-2.6zM475 313.3h2.6v2.6h-2.6zM477.8 310.3h2.6v2.6h-2.6zM480.7 307.2h2.6v2.6h-2.6zM483.5 303.1h2.6v2.6h-2.6zM486.4 297.1h2.6v2.6h-2.6zM489.2 294.6h2.6v2.6h-2.6zM492.1 292.7h2.6v2.6h-2.6zM495 291h2.6v2.6h-2.6zM497.8 289.9h2.6v2.6h-2.6zM500.7 289h2.6v2.6h-2.6zM503.5 288.2h2.6v2.6h-2.6zM506.4 287.6h2.6v2.6h-2.6zM509.3 287.1h2.6v2.6h-2.6zM512.1 286.9h2.6v2.6h-2.6zM515 286.7h2.6v2.6h-2.6zM517.8 286.4h2.6v2.6h-2.6zM520.7 285.9h2.6v2.6h-2.6zM523.6 284.9h2.6v2.6h-2.6zM526.4 283.9h2.6v2.6h-2.6zM529.3 283.2h2.6v2.6h-2.6zM532.1 282.6h2.6v2.6h-2.6zM535 282.2h2.6v2.6h-2.6zM537.9 282h2.6v2.6h-2.6zM540.7 282h2.6v2.6h-2.6zM543.6 282.2h2.6v2.6h-2.6zM546.4 282.3h2.6v2.6h-2.6zM549.3 282.4h2.6v2.6h-2.6zM552.1 282.5h2.6v2.6h-2.6zM555 282.6h2.6v2.6h-2.6zM557.9 283h2.6v2.6h-2.6zM560.7 283.9h2.6v2.6h-2.6zM563.6 285.1h2.6v2.6h-2.6zM566.4 286.6h2.6v2.6h-2.6zM569.3 288.7h2.6v2.6h-2.6zM572.2 292.2h2.6v2.6h-2.6zM575 297.3h2.6v2.6h-2.6zM577.9 304h2.6v2.6h-2.6zM580.7 312.5h2.6v2.6h-2.6zM583.6 320.1h2.6v2.6h-2.6zM586.5 328.3h2.6v2.6h-2.6zM589.3 340h2.6v2.6h-2.6zM592.2 351.7h2.6v2.6h-2.6zM595 363.9h2.6v2.6h-2.6zM597.9 380.6h2.6v2.6h-2.6zM600.7 392.7h2.6v2.6h-2.6zM603.6 404h2.6v2.6h-2.6zM606.5 419h2.6v2.6h-2.6zM609.3 427.8h2.6v2.6h-2.6zM612.2 440.6h2.6v2.6h-2.6z" fill="#ff80ff"/>
<path d="M486.7 290h2.6v2.6h-2.6z" fill="#ff80ff"/>
<polyline points="419.4,708 420.1,707.9 420.8,707.8 421.5,707.7 422.2,707.6 422.9,707.4 423.6,707.3 424.3,707.2 425,707 425.7,706.9 426.4,706.7 427.1,706.6 427.8,706.4 428.5,706.2 429.2,706.1 429.9,705.9 430.6,705.7 431.3,705.5 432,705.4 432.7,705.2 433.4,705 434.1,704.8 434.8,704.6 435.5,704.4 436.2,704.2 436.9,703.9 437.6,703.7 438.3,703.5 439,703.3 439.7,703.1 440.4,702.9 441.1,702.7 441.8,702.4 442.5,702.2 443.2,701.9 443.9,701.7 444.6,701.4 445.3,701.2 446,700.9 446.7,700.6 447.4,700.3 448.1,700 448.8,699.7 449.5,699.4 450.2,699.1 450.9,698.7 451.6,698.3 452.3,698 453,697.6 453.7,697.1 454.4,696.7 455.1,696.2 455.8,695.7 456.5,695.2 457.2,694.6 457.9,694 458.6,693.4 459.3,692.8 460,692.2 460.7,691.5 461.4,690.9 462.1,690.2 462.8,689.5 463.5,688.8 464.2,688.1 464.9,687.4 465.6,686.7 466.3,686 467,685.3 467.7,684.6 468.4,683.9 469.1,683.1 469.8,682.4 470.5,681.6 471.2,680.8 471.9,679.9 472.6,679 473.3,678.1 474,677.1 474.7,676.1 475.4,675 476.1,673.8 476.8,672.5 477.5,671.1 478.2,669.6 478.9,668.1 479.6,666.4 480.3,664.7 481,662.9 481.7,661 482.4,659.2 483.1,657.3 483.8,655.3 484.5,653.4 485.2,651.5 485.9,649.4 486.6,647.2 487.3,644.9 488,642.5 488.7,640.1 489.4,637.7 490.1,635.3 490.8,633 491.5,630.7 492.2,628.5 492.9,626.4 493.6,624.3 494.3,622.3 495,620.3 495.7,618.3 496.4,616.3 497.1,614.4 497.8,612.6 498.5,610.7 499.2,609 499.9,607.2 500.6,605.6 501.3,603.9 502,602.3 502.7,600.8 503.4,599.2 504.1,597.7 504.8,596.3 505.5,594.9 506.2,593.5 506.9,592.2 507.6,590.9 508.3,589.6 509,588.4 509.7,587.2 510.4,586 511.1,584.8 511.8,583.7 512.5,582.6 513.2,581.5 513.9,580.5 514.6,579.5 515.3,578.6 516,577.7 516.7,576.7 517.4,575.8 518.1,574.9 518.8,574 519.5,573.2 520.2,572.3 520.9,571.5 521.6,570.8 522.3,570.1 523,569.4 523.7,568.9 524.4,568.4 525.1,567.9 525.8,567.5 526.5,567.2 527.2,566.8 527.9,566.4 528.6,566 529.3,565.7 530,565.4 530.7,565.1 531.4,564.9 532.1,564.7 532.8,564.5 533.5,564.4 534.2,564.3 534.9,564.3 535.6,564.4 536.3,564.5 537,564.7 537.7,565 538.4,565.3 539.1,565.7 539.8,566.1 540.5,566.5 541.2,567 541.9,567.4 542.6,567.9 543.3,568.6 544,569.3 544.7,570.2 545.4,571.1 546.1,572.1 546.8,573.1 547.5,574.2 548.2,575.3 548.9,576.6 549.6,577.9 550.3,579.4 551,580.9 551.7,582.6 552.4,584.2 553.1,585.9 553.8,587.5 554.5,589.2 555.2,590.8 555.9,592.5 556.6,594.1 557.3,595.9 558,597.6 558.7,599.5 559.4,601.3 560.1,603.3 560.8,605.4 561.5,607.6 562.2,609.9 562.9,612.3 563.6,614.6 564.3,616.9 565,619.1 565.7,621.2 566.4,623.2 567.1,625.1 567.8,627.1 568.5,629 569.2,630.8 569.9,632.7 570.6,634.5 571.3,636.3 572,638.1 572.7,639.9 573.4,641.8 574.1,643.6 574.8,645.5 575.5,647.4 576.2,649.4 576.9,651.3 577.6,653.3 578.3,655.3 579,657.2 579.7,659.2 580.4,661 581.1,662.8 581.8,664.5 582.5,666.2 583.2,667.7 583.9,669.1 584.6,670.4 585.3,671.7 586,673 586.7,674.3 587.4,675.5 588.1,676.7 588.8,677.8 589.5,679 590.2,680.1 590.9,681.1 591.6,682.1 592.3,683.1 593,684 593.7,684.9 594.4,685.7 595.1,686.4 595.8,687.1 596.5,687.7 596.8,688" fill="none" stroke="#333333" stroke-width="0.8" stroke-linejoin="round" stroke-opacity="1.0"/>
<polyline points="431.4,683.6 432.1,682.6 432.8,681.6 433.5,680.6 434.2,679.5 434.9,678.4 435.6,677.2 436.3,676 437,674.8 437.7,673.5 438.4,672.2 439.1,670.9 439.8,669.5 440.5,668.1 441.2,666.6 441.9,665 442.6,663.4 443.3,661.7 444,660.1 444.7,658.4 445.4,656.7 446.1,654.9 446.8,653.2 447.5,651.5 448.2,649.8 448.9,648 449.6,646.2 450.3,644.3 451,642.5 451.7,640.7 452.4,638.8 453.1,637 453.8,635.2 454.5,633.5 455.2,631.8 455.9,630.1 456.6,628.4 457.3,626.8 458,625.1 458.7,623.5 459.4,621.8 460.1,620.2 460.8,618.6 461.5,616.9 462.2,615.2 462.9,613.5 463.6,611.8 464.3,610.1 465,608.4 465.7,606.7 466.4,605.1 467.1,603.5 467.8,602.1 468.5,600.7 469.2,599.3 469.9,597.9 470.6,596.5 471.3,595.1 472,593.6 472.7,592.2 473.4,590.9 474.1,589.6 474.8,588.5 475.5,587.4 476.2,586.3 476.9,585.3 477.6,584.3 478.3,583.3 479,582.4 479.7,581.4 480.4,580.4 481.1,579.5 481.8,578.5 482.5,577.7 483.2,576.8 483.9,575.9 484.6,575.1 485.3,574.2 486,573.4 486.7,572.7 487.4,572 488.1,571.4 488.8,570.7 489.5,570.1 490.2,569.6 490.9,569 491.6,568.5 492.3,568.1 493,567.6 493.7,567.1 494.4,566.7 495.1,566.3 495.8,566 496.5,565.7 497.2,565.5 497.9,565.2 498.6,565 499.3,564.8 500,564.5 500.7,564.3 501.4,564.1 502.1,564 502.8,563.8 503.5,563.6 504.2,563.5 504.9,563.3 505.6,563.2 506.3,563.1 507,563 507.7,562.9 508.4,562.8 509.1,562.7 509.8,562.6 510.5,562.6 511.2,562.5 511.9,562.4 512.6,562.3 513.3,562.3 514,562.2 514.7,562.1 515.4,562.1 516.1,562 516.8,562 517.5,562 518.2,561.9 518.9,561.9 519.6,561.9 520.3,561.9 521,561.9 521.7,561.9 522.4,562 523.1,562 523.8,562.1 524.5,562.2 525.2,562.3 525.9,562.4 526.6,562.4 527.3,562.6 528,562.7 528.7,562.8 529.4,562.9 530.1,563 530.8,563.2 531.5,563.3 532.2,563.5 532.9,563.7 533.6,564 534.3,564.2 535,564.5 535.7,564.8 536.4,565.1 537.1,565.5 537.8,565.8 538.5,566.2 539.2,566.6 539.9,566.9 540.6,567.3 541.3,567.8 542,568.3 542.7,568.8 543.4,569.4 544.1,569.9 544.8,570.6 545.5,571.2 546.2,571.9 546.9,572.6 547.6,573.3 548.3,574.1 549,574.9 549.7,575.7 550.4,576.5 551.1,577.3 551.8,578.2 552.5,579.2 553.2,580.2 553.9,581.3 554.6,582.3 555.3,583.5 556,584.6 556.7,585.9 557.4,587.1 558.1,588.4 558.8,589.7 559.5,591 560.2,592.4 560.9,593.9 561.6,595.4 562.3,597 563,598.7 563.7,600.5 564.4,602.3 565.1,604.2 565.8,606.1 566.5,608 567.2,609.9 567.9,611.8 568.6,613.7 569.3,615.6 570,617.5 570.7,619.3 571.4,621.2 572.1,623.1 572.8,625 573.5,627 574.2,628.9 574.9,630.9 575.6,632.9 576.3,634.8 577,636.8 577.7,638.7 578.4,640.6 579.1,642.4 579.8,644.3 580.5,646 581.2,647.7 581.9,649.4 582.6,651 583.3,652.5 584,654.1 584.7,655.6 585.4,657.1 586.1,658.6 586.8,660.1 587.5,661.5 588.2,662.9 588.9,664.3 589.6,665.7 590.3,667 591,668.3 591.7,669.6 592.4,670.8 593.1,672 593.8,673.2 594.5,674.4 595.2,675.5 595.9,676.6 596.6,677.7 597.3,678.7 598,679.8 598.7,680.8 599.4,681.7 600.1,682.7 600.8,683.6 601.5,684.5 602.2,685.4 602.7,686" fill="none" stroke="#ff3030" stroke-width="0.8" stroke-linejoin="round" stroke-opacity="1.0"/>
<polyline points="425.1,648.5 425.8,646.8 426.5,645.2 427.2,643.5 427.9,641.9 428.6,640.3 429.3,638.6 430,637 430.7,635.4 431.4,633.8 432.1,632.1 432.8,630.5 433.5,628.9 434.2,627.3 434.9,625.7 435.6,624.1 436.3,622.5 437,620.9 437.7,619.3 438.4,617.7 439.1,616.1 439.8,614.5 440.5,612.9 441.2,611.2 441.9,609.7 442.6,608.1 443.3,606.6 444,605.1 444.7,603.6 445.4,602.2 446.1,600.8 446.8,599.4 447.5,598 448.2,596.7 448.9,595.3 449.6,594 450.3,592.7 451,591.5 451.7,590.3 452.4,589.1 453.1,587.9 453.8,586.8 454.5,585.7 455.2,584.7 455.9,583.7 456.6,582.7 457.3,581.8 458,580.8 458.7,579.9 459.4,579 460.1,578.1 460.8,577.3 461.5,576.5 462.2,575.7 462.9,575 463.6,574.3 464.3,573.6 465,573 465.7,572.4 466.4,571.8 467.1,571.2 467.8,570.7 468.5,570.1 469.2,569.6 469.9,569.1 470.6,568.6 471.3,568.1 472,567.7 472.7,567.3 473.4,567 474.1,566.8 474.8,566.5 475.5,566.4 476.2,566.2 476.9,566.1 477.6,565.9 478.3,565.8 479,565.7 479.7,565.5 480.4,565.4 481.1,565.3 481.8,565.2 482.5,565.1 483.2,565 483.9,564.9 484.6,564.8 485.3,564.7 486,564.7 486.7,564.6 487.4,564.6 488.1,564.5 488.8,564.5 489.5,564.5 490.2,564.5 490.9,564.5 491.6,564.5 492.3,564.6 493,564.6 493.7,564.6 494.4,564.7 495.1,564.7 495.8,564.8 496.5,564.9 497.2,565 497.9,565 498.6,565.1 499.3,565.2 500,565.3 500.7,565.4 501.4,565.5 502.1,565.6 502.8,565.7 503.5,565.8 504.2,565.9 504.9,566 505.6,566.1 506.3,566.2 507,566.3 507.7,566.4 508.4,566.5 509.1,566.7 509.8,566.8 510.5,566.9 511.2,567.1 511.9,567.2 512.6,567.3 513.3,567.5 514,567.6 514.7,567.8 515.4,568 516.1,568.1 516.8,568.3 517.5,568.4 518.2,568.6 518.9,568.7 519.6,568.9 520.3,569.1 521,569.2 521.7,569.4 522.4,569.6 523.1,569.7 523.8,569.9 524.5,570.1 525.2,570.3 525.9,570.5 526.6,570.7 527.3,570.8 528,571 528.7,571.2 529.4,571.4 530.1,571.6 530.8,571.8 531.5,572 532.2,572.2 532.9,572.4 533.6,572.6 534.3,572.8 535,573 535.7,573.2 536.4,573.4 537.1,573.6 537.8,573.8 538.5,574 539.2,574.1 539.9,574.3 540.6,574.5 541.3,574.7 542,574.9 542.7,575.1 543.4,575.3 544.1,575.5 544.8,575.7 545.5,575.9 546.2,576.1 546.9,576.4 547.6,576.6 548.3,576.9 549,577.1 549.7,577.4 550.4,577.7 551.1,577.9 551.8,578.2 552.5,578.6 553.2,578.9 553.9,579.2 554.6,579.6 555.3,579.9 556,580.3 556.7,580.7 557.4,581.2 558.1,581.6 558.8,582.1 559.5,582.6 560.2,583.2 560.9,583.8 561.6,584.5 562.3,585.2 563,586 563.7,586.9 564.4,587.8 565.1,588.8 565.8,589.8 566.5,590.8 567.2,591.9 567.9,592.9 568.6,594 569.3,595 570,596 570.7,597 571.4,598.1 572.1,599.1 572.8,600.2 573.5,601.3 574.2,602.4 574.9,603.5 575.6,604.6 576.3,605.8 577,606.9 577.7,608.1 578.4,609.3 579.1,610.5 579.8,611.7 580.5,612.8 581.2,614 581.9,615.2 582.6,616.4 583.3,617.6 584,618.8 584.7,620 585.4,621.2 586.1,622.5 586.8,623.8 587.5,625.1 588.2,626.5 588.9,627.9 589.6,629.4 590.3,630.9 591,632.6 591.7,634.4 592.4,636.3 593.1,638.2 593.8,640 594.5,641.8 595.2,643.6 595.9,645.4 596.6,647.2 597.3,649 598,650.8 598.7,652.6 599.4,654.5 600.1,656.3 600.8,658.1 601.5,659.9 602.2,661.7 602.9,663.5 603.6,665.3 604.3,667.1 605,668.9 605.7,670.7 606.4,672.5 607.1,674.3 607.8,676 608.5,677.8 608.6,678.1" fill="none" stroke="#55ff55" stroke-width="0.8" stroke-linejoin="round" stroke-opacity="1.0"/>
<polyline points="428,621 428.7,619.4 429.4,617.7 430.1,616.1 430.8,614.5 431.5,612.9 432.2,611.3 432.9,609.8 433.6,608.3 434.3,606.7 435,605.2 435.7,603.8 436.4,602.3 437.1,600.8 437.8,599.4 438.5,598 439.2,596.6 439.9,595.2 440.6,593.8 441.3,592.4 442,591.1 442.7,589.7 443.4,588.3 444.1,587 444.8,585.6 445.5,584.3 446.2,583.1 446.9,581.8 447.6,580.6 448.3,579.5 449,578.4 449.7,577.4 450.4,576.5 451.1,575.5 451.8,574.6 452.5,573.7 453.2,572.8 453.9,571.9 454.6,571.1 455.3,570.3 456,569.6 456.7,568.8 457.4,568.1 458.1,567.5 458.8,566.9 459.5,566.4 460.2,565.9 460.9,565.4 461.6,564.9 462.3,564.4 463,564 463.7,563.5 464.4,563.1 465.1,562.7 465.8,562.3 466.5,562 467.2,561.7 467.9,561.4 468.6,561.2 469.3,561.1 470,561 470.7,560.9 471.4,560.9 472.1,560.8 472.8,560.8 473.5,560.7 474.2,560.7 474.9,560.6 475.6,560.6 476.3,560.6 477,560.6 477.7,560.5 478.4,560.5 479.1,560.5 479.8,560.5 480.5,560.5 481.2,560.5 481.9,560.6 482.6,560.7 483.3,560.8 484,561 484.7,561.1 485.4,561.3 486.1,561.5 486.8,561.6 487.5,561.8 488.2,562 488.9,562.2 489.6,562.4 490.3,562.6 491,562.8 491.7,563 492.4,563.2 493.1,563.4 493.8,563.7 494.5,563.9 495.2,564.2 495.9,564.4 496.6,564.7 497.3,565 498,565.2 498.7,565.5 499.4,565.8 500.1,566 500.8,566.3 501.5,566.6 502.2,566.8 502.9,567.1 503.6,567.3 504.3,567.6 505,567.9 505.7,568.1 506.4,568.4 507.1,568.7 507.8,569 508.5,569.3 509.2,569.6 509.9,570 510.6,570.3 511.3,570.7 512,571.1 512.7,571.5 513.4,571.9 514.1,572.4 514.8,572.9 515.5,573.3 516.2,573.8 516.9,574.3 517.6,574.7 518.3,575.2 519,575.7 519.7,576.3 520.4,576.8 521.1,577.4 521.8,578 522.5,578.6 523.2,579.2 523.9,579.7 524.6,580.2 525.3,580.5 526,580.9 526.7,581.1 527.4,581.2 528.1,581.4 528.8,581.5 529.5,581.6 530.2,581.7 530.9,581.8 531.6,581.9 532.3,582 533,582 533.7,582.1 534.4,582.1 535.1,582.1 535.8,582 536.5,581.9 537.2,581.7 537.9,581.5 538.6,581.2 539.3,580.9 540,580.6 540.7,580.3 541.4,580.1 542.1,579.8 542.8,579.5 543.5,579.3 544.2,579.2 544.9,579.1 545.6,578.9 546.3,578.8 547,578.7 547.7,578.6 548.4,578.5 549.1,578.5 549.8,578.4 550.5,578.3 551.2,578.2 551.9,578.2 552.6,578.1 553.3,578.1 554,578.1 554.7,578.1 555.4,578.1 556.1,578.2 556.8,578.4 557.5,578.5 558.2,578.7 558.9,578.9 559.6,579.1 560.3,579.4 561,579.6 561.7,579.9 562.4,580.1 563.1,580.4 563.8,580.7 564.5,581.1 565.2,581.4 565.9,581.8 566.6,582.3 567.3,582.7 568,583.2 568.7,583.8 569.4,584.3 570.1,584.9 570.8,585.6 571.5,586.3 572.2,587.2 572.9,588.2 573.6,589.2 574.3,590.4 575,591.5 575.7,592.7 576.4,593.9 577.1,595.2 577.8,596.4 578.5,597.6 579.2,598.8 579.9,600.1 580.6,601.4 581.3,602.7 582,604.1 582.7,605.5 583.4,607 584.1,608.5 584.8,610 585.5,611.7 586.2,613.3 586.9,615.2 587.6,617.2 588.3,619.2 589,621.4 589.7,623.5 590.4,625.7 591.1,627.8 591.8,629.7 592.5,631.6 593.2,633.4 593.9,635.2 594.6,637 595.3,638.7 596,640.4 596.7,642.1 597.4,643.8 598.1,645.6 598.8,647.3 599.5,649.1 600.2,650.9 600.9,652.7 601.6,654.5 602.3,656.4 603,658.2 603.7,660 604.4,661.9 605.1,663.8 605.8,665.6 606.5,667.5 607.2,669.4 607.9,671.3 608.6,673.2 608.6,673.2" fill="none" stroke="#5050ff" stroke-width="0.8" stroke-linejoin="round" stroke-opacity="1.0"/>
<polyline points="421.9,625 422.6,623.4 423.3,621.8 424,620.2 424.7,618.7 425.4,617.1 426.1,615.5 426.8,614 427.5,612.5 428.2,610.9 428.9,609.4 429.6,607.9 430.3,606.3 431,604.8 431.7,603.3 432.4,601.7 433.1,600.1 433.8,598.6 434.5,597 435.2,595.5 435.9,593.9 436.6,592.5 437.3,591 438,589.6 438.7,588.3 439.4,587 440.1,585.8 440.8,584.7 441.5,583.5 442.2,582.4 442.9,581.3 443.6,580.2 444.3,579.1 445,578.1 445.7,577.1 446.4,576.1 447.1,575.2 447.8,574.3 448.5,573.5 449.2,572.8 449.9,572.1 450.6,571.4 451.3,570.8 452,570.2 452.7,569.6 453.4,569.1 454.1,568.5 454.8,568 455.5,567.5 456.2,567 456.9,566.6 457.6,566.2 458.3,565.8 459,565.5 459.7,565.1 460.4,564.8 461.1,564.5 461.8,564.3 462.5,564 463.2,563.7 463.9,563.5 464.6,563.2 465.3,563 466,562.8 466.7,562.6 467.4,562.4 468.1,562.3 468.8,562.1 469.5,562.1 470.2,562 470.9,561.9 471.6,561.9 472.3,561.8 473,561.8 473.7,561.7 474.4,561.7 475.1,561.6 475.8,561.6 476.5,561.6 477.2,561.5 477.9,561.5 478.6,561.5 479.3,561.5 480,561.5 480.7,561.5 481.4,561.6 482.1,561.6 482.8,561.7 483.5,561.8 484.2,562 484.9,562.1 485.6,562.3 486.3,562.5 487,562.7 487.7,562.9 488.4,563.1 489.1,563.2 489.8,563.4 490.5,563.6 491.2,563.9 491.9,564.1 492.6,564.4 493.3,564.7 494,565 494.7,565.4 495.4,565.7 496.1,566.1 496.8,566.4 497.5,566.8 498.2,567.1 498.9,567.5 499.6,567.8 500.3,568.1 501,568.5 501.7,568.8 502.4,569.1 503.1,569.5 503.8,569.8 504.5,570.1 505.2,570.4 505.9,570.8 506.6,571.1 507.3,571.5 508,571.9 508.7,572.3 509.4,572.7 510.1,573.1 510.8,573.5 511.5,574 512.2,574.6 512.9,575.1 513.6,575.6 514.3,576.2 515,576.6 515.7,577 516.4,577.4 517.1,577.7 517.8,578.1 518.5,578.4 519.2,578.7 519.9,579 520.6,579.3 521.3,579.5 522,579.8 522.7,580 523.4,580.3 524.1,580.5 524.8,580.7 525.5,580.8 526.2,581 526.9,581.1 527.6,581.2 528.3,581.4 529,581.5 529.7,581.6 530.4,581.7 531.1,581.8 531.8,581.9 532.5,582 533.2,582 533.9,582.1 534.6,582.1 535.3,582.1 536,582 536.7,581.9 537.4,581.8 538.1,581.6 538.8,581.4 539.5,581.1 540.2,580.9 540.9,580.6 541.6,580.3 542.3,580 543,579.7 543.7,579.5 544.4,579.2 545.1,578.9 545.8,578.5 546.5,578.2 547.2,577.7 547.9,577.3 548.6,576.8 549.3,576.3 550,575.9 550.7,575.4 551.4,575.1 552.1,574.7 552.8,574.5 553.5,574.3 554.2,574.2 554.9,574.2 555.6,574.2 556.3,574.3 557,574.3 557.7,574.4 558.4,574.5 559.1,574.6 559.8,574.7 560.5,574.8 561.2,575 561.9,575.1 562.6,575.3 563.3,575.5 564,575.8 564.7,576.2 565.4,576.7 566.1,577.2 566.8,577.8 567.5,578.4 568.2,579.1 568.9,579.8 569.6,580.5 570.3,581.2 571,582 571.7,583 572.4,584.1 573.1,585.3 573.8,586.5 574.5,587.8 575.2,589.2 575.9,590.6 576.6,592 577.3,593.4 578,594.7 578.7,596 579.4,597.3 580.1,598.7 580.8,600 581.5,601.3 582.2,602.7 582.9,604.1 583.6,605.6 584.3,607.1 585,608.6 585.7,610.2 586.4,611.9 587.1,613.8 587.8,615.7 588.5,617.7 589.2,619.8 589.9,621.9 590.6,624 591.3,626 592,627.9 592.7,629.8 593.4,631.4 594.1,633.1 594.8,634.6 595.5,636.1 596.2,637.5 596.9,638.9 597.6,640.4 598.3,641.8 599,643.3 599.7,644.8 600.4,646.4 601.1,648.1 601.8,649.9 602.5,651.7 603.2,653.7 603.9,655.8 604.6,657.9 605.3,660.1 606,662.3 606.7,664.6 607.4,667 608.1,669.4 608.6,671.2" fill="none" stroke="#ff99ff" stroke-width="0.8" stroke-linejoin="round" stroke-opacity="1.0"/>
<path d="M418.4 627.7h2.6v2.6h-2.6zM421.3 627.3h2.6v2.6h-2.6zM424.1 626.9h2.6v2.6h-2.6zM427 626.7h2.6v2.6h-2.6zM429.9 626.5h2.6v2.6h-2.6zM432.7 626.4h2.6v2.6h-2.6zM435.6 626.3h2.6v2.6h-2.6zM438.4 626.3h2.6v2.6h-2.6zM441.3 626.3h2.6v2.6h-2.6zM444.2 626.3h2.6v2.6h-2.6zM447 626.3h2.6v2.6h-2.6zM449.9 626.4h2.6v2.6h-2.6zM452.7 626.6h2.6v2.6h-2.6zM455.6 626.7h2.6v2.6h-2.6zM458.5 626.8h2.6v2.6h-2.6zM461.3 626.9h2.6v2.6h-2.6zM464.2 627h2.6v2.6h-2.6zM467 627.2h2.6v2.6h-2.6zM469.9 627.5h2.6v2.6h-2.6zM472.8 628h2.6v2.6h-2.6zM475.6 628.5h2.6v2.6h-2.6zM478.5 629.3h2.6v2.6h-2.6zM481.4 630.1h2.6v2.6h-2.6zM484.2 631.1h2.6v2.6h-2.6zM487.1 632.5h2.6v2.6h-2.6zM489.9 634.3h2.6v2.6h-2.6zM492.8 635.6h2.6v2.6h-2.6zM495.7 636.9h2.6v2.6h-2.6zM498.5 638.7h2.6v2.6h-2.6zM501.4 641h2.6v2.6h-2.6zM504.2 643.2h2.6v2.6h-2.6zM507.1 645.5h2.6v2.6h-2.6zM510 647.9h2.6v2.6h-2.6zM512.8 650.3h2.6v2.6h-2.6zM515.7 652.8h2.6v2.6h-2.6zM518.5 655.3h2.6v2.6h-2.6zM521.4 657.9h2.6v2.6h-2.6zM524.3 660.7h2.6v2.6h-2.6zM527.1 663.5h2.6v2.6h-2.6zM530 666.5h2.6v2.6h-2.6zM532.9 669.7h2.6v2.6h-2.6zM535.7 673h2.6v2.6h-2.6zM538.6 676.2h2.6v2.6h-2.6zM541.4 679.5h2.6v2.6h-2.6zM544.3 682.7h2.6v2.6h-2.6zM547.2 686h2.6v2.6h-2.6zM550 689.3h2.6v2.6h-2.6zM552.9 692.4h2.6v2.6h-2.6zM555.7 695.2h2.6v2.6h-2.6zM558.6 697.7h2.6v2.6h-2.6zM561.5 699.8h2.6v2.6h-2.6zM564.3 701.4h2.6v2.6h-2.6zM567.2 702.8h2.6v2.6h-2.6zM570 703.8h2.6v2.6h-2.6zM572.9 704.5h2.6v2.6h-2.6zM575.8 705.1h2.6v2.6h-2.6zM578.6 705.9h2.6v2.6h-2.6zM581.5 706.7h2.6v2.6h-2.6zM584.3 707.3h2.6v2.6h-2.6zM587.2 707.9h2.6v2.6h-2.6zM590.1 708.3h2.6v2.6h-2.6zM592.9 708.7h2.6v2.6h-2.6zM595.5 709h2.6v2.6h-2.6z" fill="#000000"/>
<path d="M418.4 706.9h2.6v2.6h-2.6zM421.3 706.6h2.6v2.6h-2.6zM424.1 705.9h2.6v2.6h-2.6zM427 704h2.6v2.6h-2.6zM429.9 703.5h2.6v2.6h-2.6zM432.7 703h2.6v2.6h-2.6zM435.6 702.1h2.6v2.6h-2.6zM438.4 701.1h2.6v2.6h-2.6zM441.3 700.2h2.6v2.6h-2.6zM444.2 699.1h2.6v2.6h-2.6zM447 697.8h2.6v2.6h-2.6zM449.9 696.2h2.6v2.6h-2.6zM452.7 693.4h2.6v2.6h-2.6zM455.6 691.9h2.6v2.6h-2.6zM458.5 690.9h2.6v2.6h-2.6zM461.3 688.6h2.6v2.6h-2.6zM464.2 683.8h2.6v2.6h-2.6zM467 680.7h2.6v2.6h-2.6zM469.9 678h2.6v2.6h-2.6zM472.8 672.4h2.6v2.6h-2.6zM475.6 665.9h2.6v2.6h-2.6zM478.5 661.3h2.6v2.6h-2.6zM481.4 655.5h2.6v2.6h-2.6zM484.2 648.7h2.6v2.6h-2.6zM487.1 640.6h2.6v2.6h-2.6zM489.9 632.8h2.6v2.6h-2.6zM492.8 625h2.6v2.6h-2.6zM495.7 616.5h2.6v2.6h-2.6zM498.5 610.4h2.6v2.6h-2.6zM501.4 604.2h2.6v2.6h-2.6zM504.2 596h2.6v2.6h-2.6zM507.1 589h2.6v2.6h-2.6zM510 584.2h2.6v2.6h-2.6zM512.8 580.2h2.6v2.6h-2.6zM515.7 576.4h2.6v2.6h-2.6zM518.5 572.1h2.6v2.6h-2.6zM521.4 569.4h2.6v2.6h-2.6zM524.3 567.6h2.6v2.6h-2.6zM527.1 566.3h2.6v2.6h-2.6zM530 565.4h2.6v2.6h-2.6zM532.9 564.6h2.6v2.6h-2.6zM535.7 565.5h2.6v2.6h-2.6zM538.6 569h2.6v2.6h-2.6zM541.4 571.2h2.6v2.6h-2.6zM544.3 573.6h2.6v2.6h-2.6zM547.2 576.6h2.6v2.6h-2.6zM550 582.7h2.6v2.6h-2.6zM552.9 589.1h2.6v2.6h-2.6zM555.7 594.4h2.6v2.6h-2.6zM558.6 601.7h2.6v2.6h-2.6zM561.5 611h2.6v2.6h-2.6zM564.3 619.6h2.6v2.6h-2.6zM567.2 628.8h2.6v2.6h-2.6zM570 638.1h2.6v2.6h-2.6zM572.9 646.2h2.6v2.6h-2.6zM575.8 654.1h2.6v2.6h-2.6zM578.6 661.9h2.6v2.6h-2.6zM581.5 667.8h2.6v2.6h-2.6zM584.3 674.3h2.6v2.6h-2.6zM587.2 680.2h2.6v2.6h-2.6zM590.1 686.5h2.6v2.6h-2.6zM592.9 691.4h2.6v2.6h-2.6zM595.5 697.1h2.6v2.6h-2.6z" fill="#000000"/>
<path d="M429.9 580.8h2.6v2.6h-2.6zM432.7 581.9h2.6v2.6h-2.6zM435.6 583h2.6v2.6h-2.6zM438.4 584.1h2.6v2.6h-2.6zM441.3 585.1h2.6v2.6h-2.6zM444.2 586.3h2.6v2.6h-2.6zM447 587.7h2.6v2.6h-2.6zM449.9 589.1h2.6v2.6h-2.6zM452.7 590.7h2.6v2.6h-2.6zM455.6 592.3h2.6v2.6h-2.6zM458.5 593.9h2.6v2.6h-2.6zM461.3 595.6h2.6v2.6h-2.6zM464.2 597.2h2.6v2.6h-2.6zM467 599.1h2.6v2.6h-2.6zM469.9 601.2h2.6v2.6h-2.6zM472.8 603.6h2.6v2.6h-2.6zM475.6 606h2.6v2.6h-2.6zM478.5 608.5h2.6v2.6h-2.6zM481.4 611.1h2.6v2.6h-2.6zM484.2 613.7h2.6v2.6h-2.6zM487.1 616.7h2.6v2.6h-2.6zM489.9 619.8h2.6v2.6h-2.6zM492.8 622.6h2.6v2.6h-2.6zM495.7 625.2h2.6v2.6h-2.6zM498.5 628.1h2.6v2.6h-2.6zM501.4 631.2h2.6v2.6h-2.6zM504.2 634.1h2.6v2.6h-2.6zM507.1 636.9h2.6v2.6h-2.6zM510 639.8h2.6v2.6h-2.6zM512.8 642.8h2.6v2.6h-2.6zM515.7 645.4h2.6v2.6h-2.6zM518.5 647.7h2.6v2.6h-2.6zM521.4 650h2.6v2.6h-2.6zM524.3 652.8h2.6v2.6h-2.6zM527.1 655.7h2.6v2.6h-2.6zM530 658.6h2.6v2.6h-2.6zM532.9 661.4h2.6v2.6h-2.6zM535.7 664.2h2.6v2.6h-2.6zM538.6 667.3h2.6v2.6h-2.6zM541.4 670.6h2.6v2.6h-2.6zM544.3 673.9h2.6v2.6h-2.6zM547.2 676.9h2.6v2.6h-2.6zM550 679.7h2.6v2.6h-2.6zM552.9 682.6h2.6v2.6h-2.6zM555.7 685.8h2.6v2.6h-2.6zM558.6 689.2h2.6v2.6h-2.6zM561.5 692h2.6v2.6h-2.6zM564.3 694.4h2.6v2.6h-2.6zM567.2 696.4h2.6v2.6h-2.6zM570 698.2h2.6v2.6h-2.6zM572.9 699.7h2.6v2.6h-2.6zM575.8 701.1h2.6v2.6h-2.6zM578.6 702.3h2.6v2.6h-2.6zM581.5 703.3h2.6v2.6h-2.6zM584.3 704.3h2.6v2.6h-2.6zM587.2 705.1h2.6v2.6h-2.6zM590.1 705.9h2.6v2.6h-2.6zM592.9 706.5h2.6v2.6h-2.6zM595.8 706.9h2.6v2.6h-2.6zM598.7 707.2h2.6v2.6h-2.6zM601.4 707.4h2.6v2.6h-2.6z" fill="#ff0000"/>
<path d="M429.9 676.9h2.6v2.6h-2.6zM432.7 677.1h2.6v2.6h-2.6zM435.6 675.3h2.6v2.6h-2.6zM438.4 672.4h2.6v2.6h-2.6zM441.3 667h2.6v2.6h-2.6zM444.2 659.4h2.6v2.6h-2.6zM447 654h2.6v2.6h-2.6zM449.9 647.5h2.6v2.6h-2.6zM452.7 640.8h2.6v2.6h-2.6zM455.6 633.4h2.6v2.6h-2.6zM458.5 626.3h2.6v2.6h-2.6zM461.3 618.6h2.6v2.6h-2.6zM464.2 611.7h2.6v2.6h-2.6zM467 604.9h2.6v2.6h-2.6zM469.9 599.1h2.6v2.6h-2.6zM472.8 594.3h2.6v2.6h-2.6zM475.6 589.3h2.6v2.6h-2.6zM478.5 584.5h2.6v2.6h-2.6zM481.4 580.9h2.6v2.6h-2.6zM484.2 577.3h2.6v2.6h-2.6zM487.1 573.7h2.6v2.6h-2.6zM489.9 570.8h2.6v2.6h-2.6zM492.8 568.4h2.6v2.6h-2.6zM495.7 566.2h2.6v2.6h-2.6zM498.5 564.9h2.6v2.6h-2.6zM501.4 564h2.6v2.6h-2.6zM504.2 563.1h2.6v2.6h-2.6zM507.1 562.6h2.6v2.6h-2.6zM510 562.2h2.6v2.6h-2.6zM512.8 561.9h2.6v2.6h-2.6zM515.7 561.5h2.6v2.6h-2.6zM518.5 561.1h2.6v2.6h-2.6zM521.4 561.2h2.6v2.6h-2.6zM524.3 561.8h2.6v2.6h-2.6zM527.1 562.5h2.6v2.6h-2.6zM530 563.5h2.6v2.6h-2.6zM532.9 564.6h2.6v2.6h-2.6zM535.7 566h2.6v2.6h-2.6zM538.6 567.7h2.6v2.6h-2.6zM541.4 569.9h2.6v2.6h-2.6zM544.3 572.4h2.6v2.6h-2.6zM547.2 575.6h2.6v2.6h-2.6zM550 578.9h2.6v2.6h-2.6zM552.9 583.2h2.6v2.6h-2.6zM555.7 589h2.6v2.6h-2.6zM558.6 594.8h2.6v2.6h-2.6zM561.5 600.5h2.6v2.6h-2.6zM564.3 607.2h2.6v2.6h-2.6zM567.2 613.9h2.6v2.6h-2.6zM570 619.5h2.6v2.6h-2.6zM572.9 626.4h2.6v2.6h-2.6zM575.8 636.9h2.6v2.6h-2.6zM578.6 648.3h2.6v2.6h-2.6zM581.5 657.4h2.6v2.6h-2.6zM584.3 664.4h2.6v2.6h-2.6zM587.2 670.4h2.6v2.6h-2.6zM590.1 677h2.6v2.6h-2.6zM592.9 682.2h2.6v2.6h-2.6zM595.8 684h2.6v2.6h-2.6zM598.7 690.3h2.6v2.6h-2.6zM601.4 699.5h2.6v2.6h-2.6z" fill="#ff0000"/>
<path d="M424.1 556.4h2.6v2.6h-2.6zM427 557.6h2.6v2.6h-2.6zM429.9 558.8h2.6v2.6h-2.6zM432.7 560.1h2.6v2.6h-2.6zM435.6 561.5h2.6v2.6h-2.6zM438.4 563.3h2.6v2.6h-2.6zM441.3 565.2h2.6v2.6h-2.6zM444.2 567.3h2.6v2.6h-2.6zM447 569.5h2.6v2.6h-2.6zM449.9 571.7h2.6v2.6h-2.6zM452.7 573.9h2.6v2.6h-2.6zM455.6 576.3h2.6v2.6h-2.6zM458.5 578.9h2.6v2.6h-2.6zM461.3 581.8h2.6v2.6h-2.6zM464.2 584.7h2.6v2.6h-2.6zM467 587.5h2.6v2.6h-2.6zM469.9 590.5h2.6v2.6h-2.6zM472.8 593.7h2.6v2.6h-2.6zM475.6 597.1h2.6v2.6h-2.6zM478.5 600.7h2.6v2.6h-2.6zM481.4 603.3h2.6v2.6h-2.6zM484.2 605.7h2.6v2.6h-2.6zM487.1 608.5h2.6v2.6h-2.6zM489.9 611.4h2.6v2.6h-2.6zM492.8 614.2h2.6v2.6h-2.6zM495.7 616.8h2.6v2.6h-2.6zM498.5 619.6h2.6v2.6h-2.6zM501.4 622.5h2.6v2.6h-2.6zM504.2 625.3h2.6v2.6h-2.6zM507.1 628h2.6v2.6h-2.6zM510 630.7h2.6v2.6h-2.6zM512.8 633.6h2.6v2.6h-2.6zM515.7 636.3h2.6v2.6h-2.6zM518.5 638.7h2.6v2.6h-2.6zM521.4 641.4h2.6v2.6h-2.6zM524.3 644.3h2.6v2.6h-2.6zM527.1 647h2.6v2.6h-2.6zM530 649.1h2.6v2.6h-2.6zM532.9 651.3h2.6v2.6h-2.6zM535.7 653.9h2.6v2.6h-2.6zM538.6 656.6h2.6v2.6h-2.6zM541.4 659.4h2.6v2.6h-2.6zM544.3 662.3h2.6v2.6h-2.6zM547.2 664.9h2.6v2.6h-2.6zM550 667.3h2.6v2.6h-2.6zM552.9 669.7h2.6v2.6h-2.6zM555.7 672.4h2.6v2.6h-2.6zM558.6 675.4h2.6v2.6h-2.6zM561.5 678.3h2.6v2.6h-2.6zM564.3 681.2h2.6v2.6h-2.6zM567.2 684.1h2.6v2.6h-2.6zM570 686.8h2.6v2.6h-2.6zM572.9 689.3h2.6v2.6h-2.6zM575.8 691.8h2.6v2.6h-2.6zM578.6 694.1h2.6v2.6h-2.6zM581.5 696.3h2.6v2.6h-2.6zM584.3 698.3h2.6v2.6h-2.6zM587.2 700h2.6v2.6h-2.6zM590.1 701.5h2.6v2.6h-2.6zM592.9 702.7h2.6v2.6h-2.6zM595.8 703.5h2.6v2.6h-2.6zM598.7 704.2h2.6v2.6h-2.6zM601.5 704.7h2.6v2.6h-2.6zM604.4 705.1h2.6v2.6h-2.6zM607.2 705.4h2.6v2.6h-2.6z" fill="#00ff00"/>
<path d="M424.1 644.7h2.6v2.6h-2.6zM427 638h2.6v2.6h-2.6zM429.9 632.2h2.6v2.6h-2.6zM432.7 626.3h2.6v2.6h-2.6zM435.6 621.1h2.6v2.6h-2.6zM438.4 612.6h2.6v2.6h-2.6zM441.3 607h2.6v2.6h-2.6zM444.2 600.1h2.6v2.6h-2.6zM447 593.8h2.6v2.6h-2.6zM449.9 589.2h2.6v2.6h-2.6zM452.7 585.7h2.6v2.6h-2.6zM455.6 582h2.6v2.6h-2.6zM458.5 578.1h2.6v2.6h-2.6zM461.3 574.3h2.6v2.6h-2.6zM464.2 571.2h2.6v2.6h-2.6zM467 569.2h2.6v2.6h-2.6zM469.9 567.4h2.6v2.6h-2.6zM472.8 565.8h2.6v2.6h-2.6zM475.6 564.7h2.6v2.6h-2.6zM478.5 564.2h2.6v2.6h-2.6zM481.4 563.9h2.6v2.6h-2.6zM484.2 564h2.6v2.6h-2.6zM487.1 564.2h2.6v2.6h-2.6zM489.9 564.5h2.6v2.6h-2.6zM492.8 564.9h2.6v2.6h-2.6zM495.7 565.3h2.6v2.6h-2.6zM498.5 565.6h2.6v2.6h-2.6zM501.4 566h2.6v2.6h-2.6zM504.2 566.3h2.6v2.6h-2.6zM507.1 566.7h2.6v2.6h-2.6zM510 567.1h2.6v2.6h-2.6zM512.8 567.4h2.6v2.6h-2.6zM515.7 567.9h2.6v2.6h-2.6zM518.5 568.9h2.6v2.6h-2.6zM521.4 569.8h2.6v2.6h-2.6zM524.3 570.6h2.6v2.6h-2.6zM527.1 571.3h2.6v2.6h-2.6zM530 572h2.6v2.6h-2.6zM532.9 572.7h2.6v2.6h-2.6zM535.7 573.5h2.6v2.6h-2.6zM538.6 574.2h2.6v2.6h-2.6zM541.4 574.8h2.6v2.6h-2.6zM544.3 575.6h2.6v2.6h-2.6zM547.2 576.7h2.6v2.6h-2.6zM550 578.2h2.6v2.6h-2.6zM552.9 579.6h2.6v2.6h-2.6zM555.7 581h2.6v2.6h-2.6zM558.6 583h2.6v2.6h-2.6zM561.5 586.1h2.6v2.6h-2.6zM564.3 589.5h2.6v2.6h-2.6zM567.2 593.7h2.6v2.6h-2.6zM570 598.1h2.6v2.6h-2.6zM572.9 602.2h2.6v2.6h-2.6zM575.8 607h2.6v2.6h-2.6zM578.6 611.7h2.6v2.6h-2.6zM581.5 616.8h2.6v2.6h-2.6zM584.3 622.6h2.6v2.6h-2.6zM587.2 629.1h2.6v2.6h-2.6zM590.1 637h2.6v2.6h-2.6zM592.9 646.4h2.6v2.6h-2.6zM595.8 653.1h2.6v2.6h-2.6zM598.7 664.7h2.6v2.6h-2.6zM601.5 671.3h2.6v2.6h-2.6zM604.4 687.6h2.6v2.6h-2.6zM607.2 698.3h2.6v2.6h-2.6z" fill="#00ff00"/>
<path d="M470.3 539.2h2.6v2.6h-2.6z" fill="#00ff00"/>
<path d="M427 549.3h2.6v2.6h-2.6zM429.9 551.4h2.6v2.6h-2.6zM432.7 553.4h2.6v2.6h-2.6zM435.6 555.3h2.6v2.6h-2.6zM438.4 557.5h2.6v2.6h-2.6zM441.3 559.9h2.6v2.6h-2.6zM444.2 562.7h2.6v2.6h-2.6zM447 565.8h2.6v2.6h-2.6zM449.9 569.3h2.6v2.6h-2.6zM452.7 572.9h2.6v2.6h-2.6zM455.6 576.1h2.6v2.6h-2.6zM458.5 578.5h2.6v2.6h-2.6zM461.3 580.9h2.6v2.6h-2.6zM464.2 583.8h2.6v2.6h-2.6zM467 586.9h2.6v2.6h-2.6zM469.9 590h2.6v2.6h-2.6zM472.8 592.9h2.6v2.6h-2.6zM475.6 595.8h2.6v2.6h-2.6zM478.5 598.2h2.6v2.6h-2.6zM481.4 600.7h2.6v2.6h-2.6zM484.2 603.5h2.6v2.6h-2.6zM487.1 606.4h2.6v2.6h-2.6zM489.9 609.2h2.6v2.6h-2.6zM492.8 611.9h2.6v2.6h-2.6zM495.7 614.6h2.6v2.6h-2.6zM498.5 617.5h2.6v2.6h-2.6zM501.4 620.1h2.6v2.6h-2.6zM504.2 622.4h2.6v2.6h-2.6zM507.1 624.8h2.6v2.6h-2.6zM510 627.3h2.6v2.6h-2.6zM512.8 629.9h2.6v2.6h-2.6zM515.7 632.5h2.6v2.6h-2.6zM518.5 635.2h2.6v2.6h-2.6zM521.4 637.9h2.6v2.6h-2.6zM524.3 640.6h2.6v2.6h-2.6zM527.1 643.5h2.6v2.6h-2.6zM530 646.3h2.6v2.6h-2.6zM532.9 648.8h2.6v2.6h-2.6zM535.7 651.3h2.6v2.6h-2.6zM538.6 653.6h2.6v2.6h-2.6zM541.4 655.7h2.6v2.6h-2.6zM544.3 657.9h2.6v2.6h-2.6zM547.2 660.2h2.6v2.6h-2.6zM550 662.6h2.6v2.6h-2.6zM552.9 665.3h2.6v2.6h-2.6zM555.7 668.3h2.6v2.6h-2.6zM558.6 671.7h2.6v2.6h-2.6zM561.5 674.9h2.6v2.6h-2.6zM564.3 677.8h2.6v2.6h-2.6zM567.2 680.6h2.6v2.6h-2.6zM570 683.5h2.6v2.6h-2.6zM572.9 686.4h2.6v2.6h-2.6zM575.8 689.2h2.6v2.6h-2.6zM578.6 691.9h2.6v2.6h-2.6zM581.5 694.5h2.6v2.6h-2.6zM584.3 696.8h2.6v2.6h-2.6zM587.2 698.9h2.6v2.6h-2.6zM590.1 700.8h2.6v2.6h-2.6zM592.9 702.2h2.6v2.6h-2.6zM595.8 703h2.6v2.6h-2.6zM598.7 703.7h2.6v2.6h-2.6zM601.5 704.2h2.6v2.6h-2.6zM604.4 704.6h2.6v2.6h-2.6zM607.2 704.9h2.6v2.6h-2.6z" fill="#0000ff"/>
<path d="M427 619.8h2.6v2.6h-2.6zM429.9 612.9h2.6v2.6h-2.6zM432.7 607.9h2.6v2.6h-2.6zM435.6 602.1h2.6v2.6h-2.6zM438.4 594.1h2.6v2.6h-2.6zM441.3 588.4h2.6v2.6h-2.6zM444.2 583.4h2.6v2.6h-2.6zM447 579.2h2.6v2.6h-2.6zM449.9 574.4h2.6v2.6h-2.6zM452.7 571.5h2.6v2.6h-2.6zM455.6 569.2h2.6v2.6h-2.6zM458.5 566.5h2.6v2.6h-2.6zM461.3 563.8h2.6v2.6h-2.6zM464.2 561.4h2.6v2.6h-2.6zM467 560.4h2.6v2.6h-2.6zM469.9 560.2h2.6v2.6h-2.6zM472.8 560.1h2.6v2.6h-2.6zM475.6 559.7h2.6v2.6h-2.6zM478.5 559.5h2.6v2.6h-2.6zM481.4 560.2h2.6v2.6h-2.6zM484.2 560.9h2.6v2.6h-2.6zM487.1 561.6h2.6v2.6h-2.6zM489.9 562.5h2.6v2.6h-2.6zM492.8 564.1h2.6v2.6h-2.6zM495.7 565.5h2.6v2.6h-2.6zM498.5 566.4h2.6v2.6h-2.6zM501.4 567.3h2.6v2.6h-2.6zM504.2 568.2h2.6v2.6h-2.6zM507.1 569.3h2.6v2.6h-2.6zM510 570.8h2.6v2.6h-2.6zM512.8 572.2h2.6v2.6h-2.6zM515.7 573.5h2.6v2.6h-2.6zM518.5 574.6h2.6v2.6h-2.6zM521.4 575.3h2.6v2.6h-2.6zM524.3 575.7h2.6v2.6h-2.6zM527.1 576.3h2.6v2.6h-2.6zM530 577.2h2.6v2.6h-2.6zM532.9 577.8h2.6v2.6h-2.6zM535.7 577.6h2.6v2.6h-2.6zM538.6 577.1h2.6v2.6h-2.6zM541.4 576.8h2.6v2.6h-2.6zM544.3 577h2.6v2.6h-2.6zM547.2 577.6h2.6v2.6h-2.6zM550 578.5h2.6v2.6h-2.6zM552.9 580.1h2.6v2.6h-2.6zM555.7 582h2.6v2.6h-2.6zM558.6 583.7h2.6v2.6h-2.6zM561.5 583.3h2.6v2.6h-2.6zM564.3 582.8h2.6v2.6h-2.6zM567.2 584.3h2.6v2.6h-2.6zM570 586.7h2.6v2.6h-2.6zM572.9 589.7h2.6v2.6h-2.6zM575.8 593.5h2.6v2.6h-2.6zM578.6 598.4h2.6v2.6h-2.6zM581.5 603h2.6v2.6h-2.6zM584.3 608.9h2.6v2.6h-2.6zM587.2 614.4h2.6v2.6h-2.6zM590.1 621.5h2.6v2.6h-2.6zM592.9 634.2h2.6v2.6h-2.6zM595.8 644.4h2.6v2.6h-2.6zM598.7 655.2h2.6v2.6h-2.6zM601.5 666.5h2.6v2.6h-2.6zM604.4 680.7h2.6v2.6h-2.6zM607.2 697.1h2.6v2.6h-2.6z" fill="#0000ff"/>
<path d="M522.6 593.6h2.6v2.6h-2.6zM525.5 582.8h2.6v2.6h-2.6z" fill="#0000ff"/>
<path d="M421.3 543.4h2.6v2.6h-2.6zM424.1 544.9h2.6v2.6h-2.6zM427 546.5h2.6v2.6h-2.6zM429.9 548.3h2.6v2.6h-2.6zM432.7 550.7h2.6v2.6h-2.6zM435.6 553h2.6v2.6h-2.6zM438.4 555.2h2.6v2.6h-2.6zM441.3 557.9h2.6v2.6h-2.6zM444.2 560.9h2.6v2.6h-2.6zM447 564.4h2.6v2.6h-2.6zM449.9 567.6h2.6v2.6h-2.6zM452.7 570.4h2.6v2.6h-2.6zM455.6 573.3h2.6v2.6h-2.6zM458.5 576.1h2.6v2.6h-2.6zM461.3 579.4h2.6v2.6h-2.6zM464.2 582.7h2.6v2.6h-2.6zM467 585.7h2.6v2.6h-2.6zM469.9 588.5h2.6v2.6h-2.6zM472.8 591.4h2.6v2.6h-2.6zM475.6 594.3h2.6v2.6h-2.6zM478.5 596.7h2.6v2.6h-2.6zM481.4 599.2h2.6v2.6h-2.6zM484.2 602h2.6v2.6h-2.6zM487.1 604.9h2.6v2.6h-2.6zM489.9 607.7h2.6v2.6h-2.6zM492.8 610.4h2.6v2.6h-2.6zM495.7 613.1h2.6v2.6h-2.6zM498.5 616h2.6v2.6h-2.6zM501.4 618.6h2.6v2.6h-2.6zM504.2 620.9h2.6v2.6h-2.6zM507.1 623.3h2.6v2.6h-2.6zM510 625.8h2.6v2.6h-2.6zM512.8 628.4h2.6v2.6h-2.6zM515.7 631h2.6v2.6h-2.6zM518.5 633.7h2.6v2.6h-2.6zM521.4 636.4h2.6v2.6h-2.6zM524.3 639.1h2.6v2.6h-2.6zM527.1 642h2.6v2.6h-2.6zM530 644.8h2.6v2.6h-2.6zM532.9 647.3h2.6v2.6h-2.6zM535.7 649.8h2.6v2.6h-2.6zM538.6 652.1h2.6v2.6h-2.6zM541.4 654.2h2.6v2.6h-2.6zM544.3 656.4h2.6v2.6h-2.6zM547.2 658.7h2.6v2.6h-2.6zM550 661.1h2.6v2.6h-2.6zM552.9 663.8h2.6v2.6h-2.6zM555.7 666.8h2.6v2.6h-2.6zM558.6 670.2h2.6v2.6h-2.6zM561.5 673.4h2.6v2.6h-2.6zM564.3 676.3h2.6v2.6h-2.6zM567.2 679.1h2.6v2.6h-2.6zM570 682h2.6v2.6h-2.6zM572.9 684.9h2.6v2.6h-2.6zM575.8 687.7h2.6v2.6h-2.6zM578.6 690.4h2.6v2.6h-2.6zM581.5 693h2.6v2.6h-2.6zM584.3 695.3h2.6v2.6h-2.6zM587.2 697.4h2.6v2.6h-2.6zM590.1 699.3h2.6v2.6h-2.6zM592.9 700.7h2.6v2.6h-2.6zM595.8 701.5h2.6v2.6h-2.6zM598.7 702.2h2.6v2.6h-2.6zM601.5 702.7h2.6v2.6h-2.6zM604.4 703.1h2.6v2.6h-2.6zM607.2 703.4h2.6v2.6h-2.6z" fill="#ff80ff"/>
<path d="M421.3 626.1h2.6v2.6h-2.6zM424.1 620.4h2.6v2.6h-2.6zM427 613h2.6v2.6h-2.6zM429.9 607h2.6v2.6h-2.6zM432.7 599.3h2.6v2.6h-2.6zM435.6 592.8h2.6v2.6h-2.6zM438.4 586.1h2.6v2.6h-2.6zM441.3 580.6h2.6v2.6h-2.6zM444.2 576h2.6v2.6h-2.6zM447 572.7h2.6v2.6h-2.6zM449.9 570.1h2.6v2.6h-2.6zM452.7 568h2.6v2.6h-2.6zM455.6 566.1h2.6v2.6h-2.6zM458.5 564.4h2.6v2.6h-2.6zM461.3 563.1h2.6v2.6h-2.6zM464.2 562h2.6v2.6h-2.6zM467 561.3h2.6v2.6h-2.6zM469.9 560.6h2.6v2.6h-2.6zM472.8 560.4h2.6v2.6h-2.6zM475.6 560.4h2.6v2.6h-2.6zM478.5 560.4h2.6v2.6h-2.6zM481.4 560.9h2.6v2.6h-2.6zM484.2 561.6h2.6v2.6h-2.6zM487.1 562.5h2.6v2.6h-2.6zM489.9 563.5h2.6v2.6h-2.6zM492.8 564.8h2.6v2.6h-2.6zM495.7 566.1h2.6v2.6h-2.6zM498.5 567.3h2.6v2.6h-2.6zM501.4 568.8h2.6v2.6h-2.6zM504.2 570.5h2.6v2.6h-2.6zM507.1 572.3h2.6v2.6h-2.6zM510 574.4h2.6v2.6h-2.6zM512.8 576h2.6v2.6h-2.6zM515.7 577h2.6v2.6h-2.6zM518.5 577.5h2.6v2.6h-2.6zM521.4 577.8h2.6v2.6h-2.6zM524.3 578.3h2.6v2.6h-2.6zM527.1 579.1h2.6v2.6h-2.6zM530 580h2.6v2.6h-2.6zM532.9 581.2h2.6v2.6h-2.6zM535.7 581.8h2.6v2.6h-2.6zM538.6 581.2h2.6v2.6h-2.6zM541.4 579.8h2.6v2.6h-2.6zM544.3 577.8h2.6v2.6h-2.6zM547.2 573.2h2.6v2.6h-2.6zM550 570.5h2.6v2.6h-2.6zM552.9 569.3h2.6v2.6h-2.6zM555.7 569h2.6v2.6h-2.6zM558.6 569h2.6v2.6h-2.6zM561.5 570h2.6v2.6h-2.6zM564.3 574.3h2.6v2.6h-2.6zM567.2 578.8h2.6v2.6h-2.6zM570 582.5h2.6v2.6h-2.6zM572.9 587.1h2.6v2.6h-2.6zM575.8 591.9h2.6v2.6h-2.6zM578.6 596.6h2.6v2.6h-2.6zM581.5 602h2.6v2.6h-2.6zM584.3 607.2h2.6v2.6h-2.6zM587.2 612.9h2.6v2.6h-2.6zM590.1 620.3h2.6v2.6h-2.6zM592.9 635.1h2.6v2.6h-2.6zM595.8 643.5h2.6v2.6h-2.6zM598.7 658.2h2.6v2.6h-2.6zM601.5 669.5h2.6v2.6h-2.6zM604.4 683.6h2.6v2.6h-2.6zM607.2 699.1h2.6v2.6h-2.6z" fill="#ff80ff"/>
<path d="M51.2 207.4h2.5v2.5h-2.5zM51.4 207h2.5v2.5h-2.5zM51.7 206.7h2.5v2.5h-2.5zM52.1 206.5h2.5v2.5h-2.5zM52.7 206.5h2.5v2.5h-2.5zM53.1 206.7h2.5v2.5h-2.5zM53.4 207h2.5v2.5h-2.5zM53.5 207.4h2.5v2.5h-2.5z" fill="#000000"/>
<path d="M52.1 206.6h2.8v2.8h-2.8zM52.2 206h2.8v2.8h-2.8zM52.5 205.5h2.8v2.8h-2.8zM52.9 205.1h2.8v2.8h-2.8zM53.5 204.8h2.8v2.8h-2.8zM54.1 204.6h2.8v2.8h-2.8zM54.8 204.6h2.8v2.8h-2.8zM55.4 204.8h2.8v2.8h-2.8zM56 205.1h2.8v2.8h-2.8zM56.4 205.5h2.8v2.8h-2.8zM56.7 206h2.8v2.8h-2.8zM56.8 206.6h2.8v2.8h-2.8z" fill="#ff0000"/>
<polyline points="52.5,208.7 53,208.2 53.4,207.7 53.9,207.1 54.3,206.6 54.7,206 55.1,205.4 55.5,204.9 55.9,204.3 56.3,203.7 56.7,203.1 57.1,202.5 57.5,202 57.9,201.4 58.3,200.8 58.7,200.3 59.2,199.7 59.6,199.2 60.1,198.6 60.5,198.1 61,197.6 61.5,197.1 61.9,196.6 62.4,196.1 62.9,195.6 63.5,195.1 64,194.6 64.5,194.2 65.1,193.8 65.6,193.4 66.2,193 66.8,192.6 67.4,192.2 68,191.9 68.6,191.6 69.3,191.2 69.9,190.9 70.5,190.6 71.1,190.3 71.8,190 72.4,189.7 73.1,189.4 73.7,189.2 74.4,188.9 75,188.7 75.7,188.4 76.3,188.2 77,188 77.7,187.8 78.3,187.6 79,187.3 79.7,187.1 80.3,186.9 81,186.7 81.7,186.5 82.4,186.3 83,186.1 83.7,185.9 84.4,185.7 85,185.5 85.7,185.3 86.4,185.2 87.1,185 87.8,184.8 88.4,184.7 89.1,184.5 89.8,184.4 90.5,184.3 91.2,184.1 91.9,184 92.6,183.9 93.3,183.8 94,183.8 94.7,183.8 95.4,183.7 96.1,183.7 96.8,183.7 97.5,183.6 98.2,183.6 98.9,183.6 99.6,183.6 100.3,183.6 101,183.6 101.7,183.6 102.4,183.7 103.1,183.8 103.8,183.8 104.5,183.9 105.1,184 105.8,184.1 106.5,184.1 107.2,184.2 107.9,184.4 108.6,184.5 109.3,184.6 110,184.8 110.7,185 111.3,185.1 112,185.3 112.7,185.5 113.4,185.7 114,185.9 114.7,186.1 115.4,186.3 116,186.6 116.7,186.8 117.3,187 118,187.3 118.6,187.6 119.3,187.9 119.9,188.2 120.5,188.5 121.1,188.8 121.8,189.2 122.4,189.5 123,189.8 123.6,190.2 124.2,190.6 124.8,191 125.3,191.4 125.9,191.8 126.5,192.2 127,192.6 127.6,193 128.2,193.4 128.7,193.9 129.2,194.3 129.8,194.8 130.3,195.2 130.9,195.7 131.4,196.1 131.9,196.6 132.4,197.1" fill="none" stroke="#55ff55" stroke-width="0.9" stroke-linejoin="round" stroke-opacity="1.0"/>
<polyline points="52.5,208.7 52.8,208.1 53.1,207.4 53.4,206.8 53.7,206.2 54,205.5 54.3,204.9 54.6,204.3 54.9,203.6 55.2,203 55.5,202.4 55.9,201.8 56.2,201.2 56.5,200.5 56.9,199.9 57.2,199.3 57.5,198.7 57.9,198.1 58.2,197.5 58.6,196.9 58.9,196.3 59.3,195.7 59.7,195.1 60,194.5 60.4,193.9 60.7,193.3 61.1,192.7 61.5,192.1 61.9,191.5 62.3,190.9 62.6,190.3 63,189.7 63.4,189.1 63.8,188.6 64.2,188 64.6,187.4 65,186.8 65.4,186.3 65.8,185.7 66.2,185.2 66.6,184.6 67.1,184 67.5,183.5 67.9,182.9 68.4,182.4 68.8,181.8 69.3,181.3 69.7,180.8 70.2,180.2 70.6,179.7 71,179.1 71.5,178.6 71.9,178.1 72.4,177.5 72.8,177 73.3,176.5 73.8,175.9 74.2,175.4 74.7,174.9 75.1,174.3 75.6,173.8 76.1,173.3 76.5,172.8 77,172.2 77.5,171.7 77.9,171.2 78.4,170.7 78.9,170.2 79.4,169.7 79.9,169.2 80.4,168.7 80.9,168.2 81.4,167.7 81.9,167.2 82.4,166.7 82.9,166.3 83.4,165.8 83.9,165.3 84.4,164.8 84.9,164.3 85.4,163.9 85.9,163.4 86.5,162.9 87,162.4 87.5,162 88,161.5 88.5,161 89,160.5 89.6,160.1 90.1,159.6 90.6,159.1 91.1,158.6 91.6,158.2 92.1,157.7 92.7,157.2 93.2,156.8 93.7,156.3 94.2,155.8 94.8,155.4 95.3,154.9 95.8,154.5 96.4,154.1 96.9,153.6 97.5,153.2 98,152.8 98.6,152.3 99.1,151.9 99.7,151.5 100.3,151.1 100.8,150.7 101.4,150.3 102,149.9 102.6,149.5 103.1,149.1 103.7,148.7 104.3,148.3 104.9,147.9 105.5,147.5 106.1,147.1 106.6,146.7 107.2,146.4 107.8,146 108.4,145.6 109,145.3 109.6,144.9 110.2,144.6 110.8,144.2 111.4,143.9 112,143.5 112.7,143.2 113.3,142.8 113.9,142.5 114.5,142.2 115.1,141.8 115.7,141.5 116.3,141.2 117,140.8 117.6,140.5 118.2,140.1 118.8,139.8 119.4,139.4 120,139.1 120.6,138.7 121.2,138.4 121.8,138 122.4,137.7 123,137.3 123.6,137 124.2,136.6 124.8,136.3 125.5,135.9 126.1,135.5 126.7,135.2 127.3,134.8 127.9,134.5 128.5,134.1 129.1,133.8 129.7,133.4 130.3,133.1 130.9,132.8 131.5,132.4 132.1,132.1 132.8,131.8 133.4,131.4 134,131.1 134.6,130.8 135.2,130.5 135.9,130.2 136.5,129.9 137.1,129.6 137.8,129.2 138.4,128.9 139,128.6 139.6,128.3 140.3,128 140.9,127.7 141.6,127.5 142.2,127.2 142.8,126.9 143.5,126.6 144.1,126.3 144.8,126 145.4,125.8 146.1,125.5 146.7,125.2 147.3,124.9 148,124.7 148.6,124.4 149.3,124.2 149.9,123.9 150.6,123.7 151.3,123.4 151.9,123.2 152.6,122.9 153.2,122.7 153.9,122.5 154.5,122.2 155.2,122 155.9,121.8 156.5,121.5 157.2,121.3 157.8,121.1 158.5,120.9 159.2,120.6 159.8,120.4 160.5,120.2 161.2,120 161.8,119.8 162.5,119.6 163.2,119.3 163.9,119.1 164.5,118.9 165.2,118.7 165.9,118.5 166.5,118.3 167.2,118.1 167.9,118 168.6,117.8 169.2,117.6 169.9,117.4 170.6,117.2 171.3,117 171.9,116.9 172.6,116.7 173.3,116.5 174,116.3 174.6,116.2 175.3,116 176,115.8 176.7,115.7 177.4,115.5 178,115.3 178.7,115.2 179.4,115 180.1,114.8 180.8,114.7 181.5,114.5 182.1,114.4 182.8,114.2 183.5,114.1 184.2,113.9 184.9,113.8 185.6,113.6 186.3,113.5 187,113.4 187.6,113.2 188.3,113.1 189,113 189.7,112.9 190.4,112.7 191.1,112.6 191.8,112.5 192.5,112.4 193.1,112.3 193.8,112.2 194.5,112.1 195.2,112 195.9,111.8 196.6,111.7 197.3,111.6 198,111.5 198.7,111.4 199.4,111.3 200.1,111.2 200.8,111.1 201.5,111 202.2,110.9 202.8,110.8 203.5,110.7 204.2,110.6 204.9,110.5 205.6,110.4 206.3,110.4 207,110.3 207.7,110.2 208.4,110.1 209.1,110.1 209.8,110 210.5,109.9 211.2,109.9 211.9,109.8 212.6,109.8 213.3,109.7 214,109.7 214.7,109.6 215.4,109.6 216.1,109.6 216.8,109.5 217.5,109.5 218.2,109.5 218.9,109.5 219.6,109.4 220.3,109.4 221,109.4 221.7,109.4 222.4,109.3 223.1,109.3 223.8,109.3 224.5,109.3 225.2,109.2 225.9,109.2 226.6,109.2 227.3,109.2 228,109.2 228.7,109.1 229.4,109.1 230.1,109.1 230.8,109.1 231.5,109.1 232.2,109.1 232.9,109.1 233.6,109 234.3,109 235,109 235.7,109 236.4,109 237.1,109 237.8,109 238.5,109 239.2,109 239.9,109 240.6,109 241.3,109 242,109 242.7,109.1 243.4,109.1 244.1,109.1 244.8,109.2 245.5,109.2 246.2,109.2 246.9,109.3 247.6,109.4 248.3,109.4 248.9,109.5 249.6,109.5 250.3,109.6 251,109.7 251.7,109.8 252.4,109.8 253.1,109.9 253.8,110 254.5,110.1 255.2,110.2 255.9,110.3 256.6,110.4 257.3,110.5 258,110.6 258.7,110.7 259.4,110.8 260.1,110.9 260.8,111 261.5,111.1 262.2,111.2 262.9,111.3" fill="none" stroke="#5050ff" stroke-width="0.9" stroke-linejoin="round" stroke-opacity="1.0"/>
<polyline points="52.5,208.7 52.8,208.1 53.1,207.4 53.4,206.8 53.7,206.2 54,205.5 54.3,204.9 54.6,204.3 54.9,203.7 55.2,203 55.6,202.4 55.9,201.8 56.2,201.2 56.6,200.6 56.9,199.9 57.2,199.3 57.6,198.7 57.9,198.1 58.3,197.5 58.6,196.9 59,196.3 59.3,195.7 59.7,195.1 60.1,194.5 60.4,193.9 60.8,193.3 61.2,192.7 61.5,192.1 61.9,191.5 62.3,190.9 62.7,190.3 63,189.8 63.4,189.2 63.8,188.6 64.2,188 64.6,187.4 65,186.8 65.4,186.3 65.8,185.7 66.2,185.1 66.6,184.5 67,184 67.4,183.4 67.8,182.8 68.2,182.3 68.6,181.7 69,181.1 69.5,180.6 69.9,180 70.3,179.5 70.7,178.9 71.1,178.3 71.5,177.8 72,177.2 72.4,176.6 72.8,176.1 73.2,175.5 73.6,174.9 74,174.4 74.4,173.8 74.9,173.2 75.3,172.7 75.7,172.1 76.1,171.6 76.5,171 77,170.4 77.4,169.9 77.8,169.3 78.3,168.8 78.7,168.3 79.2,167.7 79.6,167.2 80.1,166.7 80.6,166.2 81,165.7 81.5,165.1 82,164.6 82.5,164.1 83,163.6 83.5,163.1 84,162.6 84.4,162.1 84.9,161.6 85.4,161.1 85.9,160.6 86.4,160.1 86.9,159.6 87.4,159.1 87.8,158.6 88.3,158.1 88.8,157.5 89.3,157 89.7,156.5 90.2,156 90.7,155.5 91.2,155 91.6,154.5 92.1,154 92.6,153.5 93.1,153 93.6,152.5 94.1,152 94.6,151.5 95.1,151 95.6,150.6 96.2,150.1 96.7,149.6 97.2,149.2 97.7,148.7 98.3,148.2 98.8,147.8 99.3,147.3 99.9,146.9 100.4,146.4 100.9,146 101.5,145.5 102,145.1 102.5,144.6 103.1,144.1 103.6,143.7 104.1,143.3 104.7,142.8 105.2,142.4 105.8,141.9 106.3,141.5 106.9,141.1 107.4,140.6 108,140.2 108.5,139.7 109.1,139.3 109.6,138.9 110.1,138.4 110.7,138 111.2,137.6 111.8,137.1 112.3,136.7 112.9,136.2 113.4,135.8 113.9,135.3 114.5,134.9 115,134.4 115.5,134 116.1,133.5 116.6,133.1 117.1,132.6 117.7,132.1 118.2,131.7 118.7,131.2 119.2,130.7 119.8,130.3 120.3,129.8 120.8,129.4 121.4,128.9 121.9,128.5 122.4,128 123,127.6 123.5,127.1 124.1,126.7 124.6,126.3 125.2,125.8 125.7,125.4 126.3,125 126.9,124.6 127.4,124.2 128,123.8 128.6,123.4 129.1,123 129.7,122.6 130.3,122.2 130.9,121.8 131.5,121.5 132.1,121.1 132.7,120.7 133.2,120.3 133.8,120 134.4,119.6 135,119.2 135.6,118.8 136.2,118.5 136.8,118.1 137.4,117.7 138,117.4 138.6,117 139.2,116.6 139.8,116.2 140.4,115.9 141,115.5 141.6,115.1 142.2,114.8 142.8,114.4 143.3,114 143.9,113.6 144.5,113.3 145.1,112.9 145.7,112.5 146.3,112.2 146.9,111.8 147.5,111.4 148.1,111.1 148.7,110.7 149.3,110.4 149.9,110 150.6,109.7 151.2,109.4 151.8,109 152.4,108.7 153,108.4 153.7,108.1 154.3,107.7 154.9,107.4 155.5,107.1 156.2,106.8 156.8,106.5 157.4,106.2 158,105.9 158.7,105.5 159.3,105.2 159.9,104.9 160.5,104.6 161.1,104.2 161.7,103.9 162.4,103.6 163,103.2 163.6,102.9 164.2,102.6 164.8,102.2 165.4,101.9 166.1,101.6 166.7,101.3 167.3,100.9 167.9,100.6 168.5,100.3 169.2,99.9 169.8,99.6 170.4,99.3 171,99 171.6,98.6 172.3,98.3 172.9,98 173.5,97.7 174.1,97.3 174.7,97 175.4,96.7 176,96.4 176.6,96 177.2,95.7 177.8,95.4 178.5,95.1 179.1,94.8 179.7,94.4 180.3,94.1 181,93.8 181.6,93.5 182.2,93.2 182.9,92.9 183.5,92.6 184.1,92.4 184.8,92.1 185.4,91.8 186.1,91.5 186.7,91.2 187.4,91 188,90.7 188.6,90.4 189.3,90.2 189.9,89.9 190.6,89.6 191.2,89.4 191.9,89.1 192.5,88.8 193.2,88.6 193.8,88.3 194.5,88 195.1,87.8 195.8,87.5 196.4,87.2 197,86.9 197.7,86.6 198.3,86.4 199,86.1 199.6,85.8 200.3,85.5 200.9,85.2 201.5,85 202.2,84.7 202.8,84.4 203.5,84.1 204.1,83.9 204.8,83.6 205.4,83.3 206.1,83.1 206.7,82.8 207.4,82.6 208,82.3 208.7,82.1 209.3,81.9 210,81.6 210.7,81.4 211.3,81.2 212,80.9 212.6,80.7 213.3,80.5 214,80.3 214.6,80.1 215.3,79.8 216,79.6 216.6,79.4 217.3,79.2 218,79 218.6,78.8 219.3,78.5 220,78.3 220.6,78.1 221.3,77.9 222,77.6 222.6,77.4 223.3,77.2 223.9,77 224.6,76.7 225.3,76.5 225.9,76.3 226.6,76.1 227.3,75.8 227.9,75.6 228.6,75.4 229.2,75.2 229.9,74.9 230.6,74.7 231.2,74.5 231.9,74.3 232.6,74 233.2,73.8" fill="none" stroke="#ff99ff" stroke-width="0.9" stroke-linejoin="round" stroke-opacity="1.0"/>
<path d="M131.4 196.2h2.6v2.6h-2.6zM129.3 194.1h2.6v2.6h-2.6zM127 192.1h2.6v2.6h-2.6zM123.2 189.9h2.6v2.6h-2.6zM119.8 188h2.6v2.6h-2.6zM115.4 185.8h2.6v2.6h-2.6zM110.3 184.2h2.6v2.6h-2.6zM104.9 183h2.6v2.6h-2.6zM98.8 182.3h2.6v2.6h-2.6zM92.5 182.3h2.6v2.6h-2.6zM86.2 183.4h2.6v2.6h-2.6zM81.5 184.9h2.6v2.6h-2.6zM76.9 186.5h2.6v2.6h-2.6zM71.6 188.6h2.6v2.6h-2.6zM68 189.9h2.6v2.6h-2.6zM64 192.2h2.6v2.6h-2.6zM61.1 194.5h2.6v2.6h-2.6zM58.2 197.8h2.6v2.6h-2.6zM55.3 202.1h2.6v2.6h-2.6zM53.1 205.8h2.6v2.6h-2.6z" fill="#00ff00"/>
<path d="M262 110.1h2.6v2.6h-2.6zM238 107.8h2.6v2.6h-2.6zM214.1 108.6h2.6v2.6h-2.6zM191.1 111.3h2.6v2.6h-2.6zM169 116.3h2.6v2.6h-2.6zM149.9 122.2h2.6v2.6h-2.6zM134.1 127.7h2.6v2.6h-2.6zM130.2 135.3h2.6v2.6h-2.6zM117.9 143.3h2.6v2.6h-2.6zM95.7 156.1h2.6v2.6h-2.6zM84.5 157.3h2.6v2.6h-2.6zM81.1 167.8h2.6v2.6h-2.6zM70.6 178.8h2.6v2.6h-2.6zM74.2 183.4h2.6v2.6h-2.6zM68.1 192.2h2.6v2.6h-2.6zM62.7 187.2h2.6v2.6h-2.6zM60.2 191.2h2.6v2.6h-2.6zM58 194.7h2.6v2.6h-2.6zM56.2 198.2h2.6v2.6h-2.6zM54.7 201h2.6v2.6h-2.6zM53.3 203.5h2.6v2.6h-2.6zM52.1 205.7h2.6v2.6h-2.6z" fill="#0000ff"/>
<path d="M237.3 69.2h2.6v2.6h-2.6zM206 82.1h2.6v2.6h-2.6zM181 90.5h2.6v2.6h-2.6zM157.9 105.1h2.6v2.6h-2.6zM140.1 116.6h2.6v2.6h-2.6zM124.8 125.5h2.6v2.6h-2.6zM111.2 136h2.6v2.6h-2.6zM101.5 144.2h2.6v2.6h-2.6zM92.3 152.2h2.6v2.6h-2.6zM84.5 160.8h2.6v2.6h-2.6zM78.3 166.8h2.6v2.6h-2.6zM73.1 172.9h2.6v2.6h-2.6zM69.6 178.3h2.6v2.6h-2.6zM66.5 182.4h2.6v2.6h-2.6zM63.9 186.1h2.6v2.6h-2.6zM61.1 189.7h2.6v2.6h-2.6zM59.7 192h2.6v2.6h-2.6zM58.3 194.3h2.6v2.6h-2.6zM57 196.5h2.6v2.6h-2.6zM55.7 198.7h2.6v2.6h-2.6zM54.5 200.8h2.6v2.6h-2.6zM53.3 202.9h2.6v2.6h-2.6zM52.3 204.7h2.6v2.6h-2.6zM51.6 206.3h2.6v2.6h-2.6z" fill="#ff80ff"/>
<path d="M51.2 467.1h2.5v2.5h-2.5zM51.5 466.5h2.5v2.5h-2.5zM52 466h2.5v2.5h-2.5zM52.8 465.8h2.5v2.5h-2.5zM53.8 465.8h2.5v2.5h-2.5zM54.6 466h2.5v2.5h-2.5zM55.1 466.5h2.5v2.5h-2.5zM55.3 467.1h2.5v2.5h-2.5z" fill="#000000"/>
<polyline points="53.8,467.6 53.9,467.1 54,466.6 54.3,466.2 54.6,465.7 55.1,465.3 55.6,464.9 56.2,464.5 56.9,464.2 57.7,463.9 58.5,463.6 59.4,463.4 60.3,463.3 61.3,463.2 62.2,463.1 63.2,463.1 64.1,463.2 65.1,463.3 66,463.4 66.9,463.6 67.7,463.9 68.5,464.2 69.2,464.5 69.8,464.9 70.3,465.3 70.8,465.7 71.1,466.2 71.4,466.6 71.5,467.1 71.6,467.6" fill="none" stroke="#ff0000" stroke-width="2.6" stroke-linejoin="round" stroke-opacity="1.0"/>
<path d="M52.5 466.3h2.6v2.6h-2.6zM52.6 465.8h2.6v2.6h-2.6zM52.7 465.3h2.6v2.6h-2.6zM53 464.9h2.6v2.6h-2.6zM53.3 464.4h2.6v2.6h-2.6zM53.8 464h2.6v2.6h-2.6zM54.3 463.6h2.6v2.6h-2.6zM54.9 463.2h2.6v2.6h-2.6zM55.6 462.9h2.6v2.6h-2.6zM56.4 462.6h2.6v2.6h-2.6zM57.2 462.3h2.6v2.6h-2.6zM58.1 462.1h2.6v2.6h-2.6zM59 462h2.6v2.6h-2.6zM60 461.9h2.6v2.6h-2.6zM60.9 461.8h2.6v2.6h-2.6zM61.9 461.8h2.6v2.6h-2.6zM62.8 461.9h2.6v2.6h-2.6zM63.8 462h2.6v2.6h-2.6zM64.7 462.1h2.6v2.6h-2.6zM65.6 462.3h2.6v2.6h-2.6zM66.4 462.6h2.6v2.6h-2.6zM67.2 462.9h2.6v2.6h-2.6zM67.9 463.2h2.6v2.6h-2.6zM68.5 463.6h2.6v2.6h-2.6zM69 464h2.6v2.6h-2.6zM69.5 464.4h2.6v2.6h-2.6zM69.8 464.9h2.6v2.6h-2.6zM70.1 465.3h2.6v2.6h-2.6zM70.2 465.8h2.6v2.6h-2.6zM70.3 466.3h2.6v2.6h-2.6z" fill="#ff0000"/>
<polyline points="52.5,468.3 52.7,467.6 52.9,466.9 53.1,466.2 53.4,465.6 53.7,464.9 54,464.3 54.3,463.7 54.7,463.2 55.1,462.6 55.6,462.1 56.1,461.6 56.6,461.1 57.2,460.7 57.7,460.2 58.2,459.8 58.8,459.3 59.4,458.9 60,458.5 60.5,458.2 61.1,457.8 61.8,457.5 62.4,457.1 63,456.8 63.6,456.5 64.3,456.3 64.9,456 65.6,455.8 66.3,455.5 66.9,455.3 67.6,455.2 68.3,455 69,454.9 69.7,454.8 70.4,454.7 71.1,454.6 71.8,454.5 72.5,454.4 73.1,454.3 73.8,454.2 74.5,454.1 75.2,454 75.9,453.9 76.6,453.8 77.3,453.8 78,453.8 78.7,453.8 79.4,453.8 80.1,453.8 80.8,453.8 81.5,453.9 82.2,453.9 82.9,453.9 83.6,453.9 84.3,454 85,454 85.7,454.1 86.4,454.1 87.1,454.2 87.8,454.4 88.5,454.5 89.2,454.7 89.8,454.8 90.5,455 91.2,455.2 91.9,455.4 92.6,455.5 93.2,455.7 93.9,456 94.6,456.2 95.2,456.4 95.9,456.7 96.5,456.9 97.2,457.2 97.8,457.5 98.5,457.7 99.1,458 99.8,458.3 100.4,458.6 101,458.9 101.6,459.2 102.3,459.6 102.8,460 103.4,460.4 104,460.8 104.5,461.3 105,461.8 105.4,462.3 105.7,462.9 106.1,463.5 106.4,464.2 106.6,464.8 106.9,465.5 107.2,466.1 107.4,466.8" fill="none" stroke="#55ff55" stroke-width="0.9" stroke-linejoin="round" stroke-opacity="1.0"/>
<polyline points="52.5,468.3 52.7,467.6 52.9,466.9 53.1,466.3 53.3,465.6 53.6,465 53.9,464.3 54.2,463.7 54.5,463.1 54.9,462.5 55.2,461.9 55.6,461.3 56,460.7 56.4,460.1 56.8,459.5 57.2,459 57.7,458.4 58.1,457.9 58.5,457.4 59,456.8 59.4,456.3 59.9,455.8 60.4,455.3 60.9,454.8 61.4,454.3 61.9,453.8 62.5,453.3 63,452.8 63.5,452.3 64.1,451.9 64.6,451.4 65.2,451 65.8,450.6 66.3,450.2 66.9,449.8 67.4,449.4 68,449.1 68.6,448.7 69.2,448.4 69.8,448 70.4,447.7 71,447.3 71.6,447 72.2,446.7 72.9,446.4 73.5,446.1 74.1,445.8 74.8,445.5 75.4,445.2 76.1,444.9 76.7,444.6 77.4,444.3 78,444 78.7,443.8 79.4,443.5 80,443.2 80.7,443 81.3,442.7 82,442.5 82.7,442.3 83.3,442 84,441.8 84.7,441.6 85.3,441.4 86,441.2 86.6,441 87.3,440.8 88,440.6 88.6,440.4 89.3,440.2 90,440 90.7,439.8 91.4,439.7 92,439.5 92.7,439.3 93.4,439.1 94.1,439 94.8,438.8 95.4,438.6 96.1,438.5 96.8,438.3 97.5,438.2 98.2,438 98.9,437.9 99.6,437.8 100.3,437.6 100.9,437.5 101.6,437.4 102.3,437.2 103,437.1 103.7,437 104.4,436.9 105.1,436.8 105.8,436.6 106.5,436.5 107.2,436.4 107.8,436.3 108.5,436.1 109.2,436 109.9,435.9 110.6,435.8 111.3,435.7 112,435.6 112.7,435.5 113.4,435.4 114.1,435.3 114.8,435.2 115.5,435.1 116.2,435.1 116.9,435 117.6,435 118.3,434.9 119,434.9 119.7,434.9 120.4,434.9 121.1,434.9 121.8,434.9 122.5,434.9 123.2,435 123.9,435 124.6,435 125.3,435.1 126,435.1 126.7,435.2 127.3,435.2 128,435.3 128.7,435.3 129.4,435.4 130.1,435.5 130.8,435.6 131.5,435.6 132.2,435.7 132.9,435.8 133.6,435.9 134.3,435.9 135,436 135.7,436.1 136.4,436.2 137.1,436.2 137.8,436.3 138.5,436.4 139.2,436.5 139.9,436.6 140.6,436.7 141.3,436.7 142,436.8 142.7,436.9 143.4,437 144.1,437.1 144.8,437.3 145.5,437.4 146.2,437.5 146.9,437.6 147.6,437.7 148.3,437.9 149,438 149.6,438.1 150.3,438.3 151,438.4 151.7,438.6 152.4,438.7 153,438.9 153.7,439 154.4,439.2 155,439.4 155.7,439.6 156.4,439.8 157,440 157.7,440.3 158.3,440.5 158.9,440.8 159.6,441.1 160.2,441.4 160.8,441.7 161.5,442.1 162.1,442.4 162.7,442.7 163.4,443.1 164,443.4 164.6,443.7 165.2,444.1 165.8,444.4 166.4,444.7 167.1,445.1 167.7,445.4 168.3,445.7 168.9,446.1 169.5,446.4 170.1,446.8 170.7,447.1 171.3,447.5 171.9,447.8 172.5,448.2 173.1,448.5 173.7,448.9 174.3,449.3 174.9,449.7 175.5,450 176.1,450.4 176.7,450.8 177.3,451.2 177.8,451.6 178.4,452" fill="none" stroke="#5050ff" stroke-width="0.9" stroke-linejoin="round" stroke-opacity="1.0"/>
<polyline points="52.5,468.3 52.8,467.7 53.1,467 53.4,466.4 53.7,465.8 54,465.1 54.3,464.5 54.6,463.9 55,463.2 55.3,462.6 55.7,462 56,461.4 56.4,460.8 56.8,460.2 57.2,459.6 57.6,459.1 58,458.5 58.4,458 58.9,457.5 59.3,457 59.8,456.5 60.3,456 60.9,455.5 61.4,455.1 61.9,454.6 62.5,454.1 63,453.7 63.6,453.3 64.1,452.8 64.7,452.4 65.2,451.9 65.7,451.5 66.3,451.1 66.9,450.7 67.4,450.2 68,449.8 68.5,449.4 69.1,449 69.7,448.6 70.3,448.2 70.8,447.8 71.4,447.4 72,447 72.6,446.6 73.2,446.2 73.8,445.8 74.3,445.4 74.9,445.1 75.5,444.7 76.1,444.3 76.7,443.9 77.3,443.6 77.9,443.2 78.5,442.8 79.1,442.5 79.7,442.1 80.3,441.7 80.9,441.4 81.5,441 82.1,440.7 82.7,440.3 83.3,440 83.9,439.6 84.5,439.3 85.1,438.9 85.8,438.6 86.4,438.2 87,437.9 87.6,437.6 88.2,437.2 88.8,436.9 89.5,436.6 90.1,436.3 90.7,436 91.3,435.7 92,435.3 92.6,435.1 93.2,434.8 93.9,434.5 94.5,434.2 95.1,433.9 95.8,433.6 96.4,433.3 97.1,433.1 97.7,432.8 98.3,432.5 99,432.2 99.6,432 100.3,431.7 100.9,431.4 101.6,431.2 102.3,430.9 102.9,430.6 103.6,430.4 104.2,430.2 104.9,429.9 105.6,429.7 106.2,429.4 106.9,429.2 107.5,429 108.2,428.8 108.9,428.6 109.5,428.4 110.2,428.2 110.9,428 111.6,427.8 112.2,427.7 112.9,427.5 113.6,427.3 114.3,427.1 114.9,427 115.6,426.8 116.3,426.6 117,426.5 117.7,426.3 118.4,426.2 119,426 119.7,425.9 120.4,425.7 121.1,425.6 121.8,425.5 122.5,425.3 123.2,425.2 123.9,425.1 124.6,425 125.3,424.9 125.9,424.8 126.6,424.7 127.3,424.6 128,424.5 128.7,424.4 129.4,424.3 130.1,424.3 130.8,424.2 131.5,424.1 132.2,424 132.9,424 133.6,423.9 134.3,423.8 135,423.8 135.7,423.7 136.4,423.6 137.1,423.6 137.8,423.5 138.5,423.4 139.2,423.4 139.9,423.3 140.6,423.3 141.3,423.3 142,423.2 142.7,423.2 143.4,423.2 144.1,423.1 144.8,423.1 145.5,423.1 146.2,423.1 146.9,423.1 147.6,423.1 148.3,423.1 149,423.1 149.7,423.1 150.4,423.1 151.1,423.2 151.8,423.2 152.5,423.2 153.2,423.2 153.9,423.2 154.6,423.3 155.3,423.3 156,423.3 156.7,423.4 157.4,423.4 158.1,423.4 158.8,423.4 159.5,423.5 160.2,423.5 160.9,423.5 161.6,423.6 162.3,423.6 163,423.7 163.7,423.7 164.4,423.8 165.1,423.8 165.8,423.9 166.5,424 167.2,424.1 167.9,424.1 168.5,424.2 169.2,424.3 169.9,424.4 170.6,424.5 171.3,424.6 172,424.7 172.7,424.9 173.3,425 174,425.2 174.7,425.3 175.4,425.5 176.1,425.7 176.7,425.9 177.4,426.1 178.1,426.3 178.8,426.5 179.4,426.7 180.1,426.9 180.8,427.1 181.5,427.3 182.1,427.5 182.8,427.8 183.5,428 184.1,428.2 184.8,428.4 185.5,428.6 186.1,428.8 186.8,429 187.5,429.2 188.1,429.4 188.8,429.7 189.5,429.9 190.1,430.1 190.8,430.4 191.4,430.6 192.1,430.9 192.8,431.1 193.4,431.4 194.1,431.6 194.7,431.9 195.3,432.1 196,432.4 196.6,432.7 197.3,433 197.9,433.3 198.5,433.6 199.1,433.9 199.8,434.2 200.4,434.6 201,434.9 201.6,435.2 202.2,435.5 202.9,435.9 203.5,436.2 204.1,436.5 204.7,436.9 205.4,437.2 206,437.5 206.6,437.8 207.2,438.1 207.9,438.4 208.5,438.7 209.1,439.1 209.7,439.4 210.4,439.7 211,440 211.6,440.3 212.2,440.6 212.9,440.9 213.5,441.2 214.1,441.6 214.7,441.9 215.4,442.2 216,442.5 216.6,442.8 217.2,443.1 217.9,443.4" fill="none" stroke="#ff99ff" stroke-width="0.9" stroke-linejoin="round" stroke-opacity="1.0"/>
<path d="M51.9 465.2h2.6v2.6h-2.6zM53.3 462.9h2.6v2.6h-2.6zM55 461h2.6v2.6h-2.6zM57.2 459.5h2.6v2.6h-2.6zM61 457.8h2.6v2.6h-2.6zM64.8 456.1h2.6v2.6h-2.6zM68.6 454.4h2.6v2.6h-2.6zM72.4 453.5h2.6v2.6h-2.6zM76.2 453h2.6v2.6h-2.6zM80.3 452.9h2.6v2.6h-2.6zM84.3 453h2.6v2.6h-2.6zM87.6 453.5h2.6v2.6h-2.6zM91.4 454.4h2.6v2.6h-2.6zM95.2 455.8h2.6v2.6h-2.6zM99 457.3h2.6v2.6h-2.6zM101.8 459.1h2.6v2.6h-2.6zM104 461h2.6v2.6h-2.6zM105.3 463h2.6v2.6h-2.6zM106.1 465.3h2.6v2.6h-2.6z" fill="#00ff00"/>
<path d="M52.2 464.7h2.6v2.6h-2.6zM54.7 460.7h2.6v2.6h-2.6zM57.7 456.2h2.6v2.6h-2.6zM61.2 452.7h2.6v2.6h-2.6zM64.7 449.7h2.6v2.6h-2.6zM68 448.1h2.6v2.6h-2.6zM72.4 446.4h2.6v2.6h-2.6zM76.7 444.6h2.6v2.6h-2.6zM81.1 442h2.6v2.6h-2.6zM91.6 438.1h2.6v2.6h-2.6zM100.4 436.4h2.6v2.6h-2.6zM107.4 434.5h2.6v2.6h-2.6zM113.2 434.1h2.6v2.6h-2.6zM121.4 433.9h2.6v2.6h-2.6zM130.2 435h2.6v2.6h-2.6zM137.2 435.3h2.6v2.6h-2.6zM144.7 436.4h2.6v2.6h-2.6zM148.6 443h2.6v2.6h-2.6zM152.4 438.5h2.6v2.6h-2.6zM158 441h2.6v2.6h-2.6zM164.8 443.7h2.6v2.6h-2.6zM176.2 450.1h2.6v2.6h-2.6zM179 451.9h2.6v2.6h-2.6zM182 447.1h2.6v2.6h-2.6zM183.2 444.3h2.6v2.6h-2.6z" fill="#0000ff"/>
<path d="M51.6 466h2.6v2.6h-2.6zM52.3 464.5h2.6v2.6h-2.6zM53.1 463h2.6v2.6h-2.6zM54 461.5h2.6v2.6h-2.6zM55 460h2.6v2.6h-2.6zM56.1 458.5h2.6v2.6h-2.6zM57.3 457h2.6v2.6h-2.6zM58.7 455.5h2.6v2.6h-2.6zM60.3 453.9h2.6v2.6h-2.6zM62.1 452.3h2.6v2.6h-2.6zM64.3 450.2h2.6v2.6h-2.6zM67.1 448.1h2.6v2.6h-2.6zM74.1 444.6h2.6v2.6h-2.6zM82.9 439.4h2.6v2.6h-2.6zM89.9 435.9h2.6v2.6h-2.6zM97.8 431.5h2.6v2.6h-2.6zM101.3 431.1h2.6v2.6h-2.6zM110.9 426.6h2.6v2.6h-2.6zM121.4 424.8h2.6v2.6h-2.6zM129.6 423.1h2.6v2.6h-2.6zM138.4 422h2.6v2.6h-2.6zM150.5 423h2.6v2.6h-2.6zM161.3 423h2.6v2.6h-2.6zM170.9 424.7h2.6v2.6h-2.6zM182.3 427.4h2.6v2.6h-2.6zM191.3 430.9h2.6v2.6h-2.6zM199.2 432.1h2.6v2.6h-2.6zM205.6 437h2.6v2.6h-2.6zM210.4 441.4h2.6v2.6h-2.6zM213.5 448h2.6v2.6h-2.6zM222.3 445.2h2.6v2.6h-2.6z" fill="#ff80ff"/>
<polyline points="55.3,724.2 55.6,723.8 56.1,723.4 56.5,723 57,722.7 57.5,722.4 58.1,722.1 58.7,721.8 59.4,721.5 60.1,721.3 60.8,721.1 61.5,720.9 62.2,720.7 63,720.6 63.8,720.5 64.6,720.4 65.4,720.3 66.2,720.3 67,720.3 67.8,720.3 68.6,720.4 69.4,720.5 70.2,720.6 71,720.7 71.7,720.9 72.4,721.1 73.1,721.3 73.8,721.5 74.5,721.8 75.1,722.1 75.7,722.4 76.2,722.7 76.7,723 77.1,723.4 77.6,723.8 77.9,724.2" fill="none" stroke="#ff0000" stroke-width="2.8" stroke-linejoin="round" stroke-opacity="1.0"/>
<path d="M54 722.9h2.6v2.6h-2.6zM54.3 722.5h2.6v2.6h-2.6zM54.8 722.1h2.6v2.6h-2.6zM55.2 721.7h2.6v2.6h-2.6zM55.7 721.4h2.6v2.6h-2.6zM56.2 721.1h2.6v2.6h-2.6zM56.8 720.8h2.6v2.6h-2.6zM57.4 720.5h2.6v2.6h-2.6zM58.1 720.2h2.6v2.6h-2.6zM58.8 720h2.6v2.6h-2.6zM59.5 719.8h2.6v2.6h-2.6zM60.2 719.6h2.6v2.6h-2.6zM60.9 719.4h2.6v2.6h-2.6zM61.7 719.3h2.6v2.6h-2.6zM62.5 719.2h2.6v2.6h-2.6zM63.3 719.1h2.6v2.6h-2.6zM64.1 719h2.6v2.6h-2.6zM64.9 719h2.6v2.6h-2.6zM65.7 719h2.6v2.6h-2.6zM66.5 719h2.6v2.6h-2.6zM67.3 719.1h2.6v2.6h-2.6zM68.1 719.2h2.6v2.6h-2.6zM68.9 719.3h2.6v2.6h-2.6zM69.7 719.4h2.6v2.6h-2.6zM70.4 719.6h2.6v2.6h-2.6zM71.1 719.8h2.6v2.6h-2.6zM71.8 720h2.6v2.6h-2.6zM72.5 720.2h2.6v2.6h-2.6zM73.2 720.5h2.6v2.6h-2.6zM73.8 720.8h2.6v2.6h-2.6zM74.4 721.1h2.6v2.6h-2.6zM74.9 721.4h2.6v2.6h-2.6zM75.4 721.7h2.6v2.6h-2.6zM75.8 722.1h2.6v2.6h-2.6zM76.3 722.5h2.6v2.6h-2.6zM76.6 722.9h2.6v2.6h-2.6z" fill="#ff0000"/>
<polyline points="52.5,728.2 52.6,727.5 52.8,726.8 52.9,726.1 53.1,725.4 53.3,724.8 53.5,724.2 53.7,723.5 54,722.9 54.3,722.3 54.6,721.7 55,721.1 55.4,720.5 55.8,719.9 56.2,719.3 56.6,718.8 57,718.2 57.5,717.6 57.9,717.1 58.4,716.5 58.9,716 59.4,715.4 59.9,714.9 60.4,714.4 60.9,713.9 61.4,713.3 61.8,712.8 62.3,712.3 62.8,711.8 63.3,711.3 63.8,710.8 64.2,710.3 64.7,709.8 65.2,709.4 65.7,708.9 66.3,708.4 66.8,707.9 67.3,707.5 67.8,707 68.4,706.5 68.9,706.1 69.5,705.6 70,705.2 70.6,704.7 71.1,704.3 71.7,703.9 72.3,703.4 72.8,703 73.4,702.6 74,702.2 74.5,701.8 75.1,701.4 75.7,701 76.3,700.6 76.8,700.2 77.4,699.9 78,699.5 78.6,699.1 79.2,698.7 79.8,698.4 80.4,698 81,697.6 81.6,697.3 82.2,696.9 82.8,696.6 83.4,696.2 84,695.9 84.7,695.5 85.3,695.2 85.9,694.9 86.5,694.5 87.2,694.2 87.8,693.9 88.4,693.6 89,693.3 89.7,693 90.3,692.7 91,692.4 91.6,692.1 92.2,691.8 92.9,691.6 93.5,691.3 94.2,691.1 94.8,690.8 95.4,690.6 96.1,690.3 96.7,690.1 97.4,689.8 98.1,689.6 98.7,689.4 99.4,689.1 100,688.9 100.7,688.7 101.4,688.4 102,688.2 102.7,688 103.4,687.8 104.1,687.6 104.7,687.4 105.4,687.2 106.1,687 106.8,686.8 107.4,686.6 108.1,686.4 108.8,686.2 109.5,686 110.2,685.8 110.8,685.7 111.5,685.5 112.2,685.3 112.9,685.2 113.6,685 114.3,684.9 114.9,684.8 115.6,684.6 116.3,684.5 117,684.4 117.7,684.2 118.4,684.1 119,684 119.7,683.8 120.4,683.7 121.1,683.6 121.8,683.5 122.5,683.4 123.2,683.2 123.9,683.1 124.6,683 125.3,682.9 125.9,682.8 126.6,682.7 127.3,682.6 128,682.5 128.7,682.4 129.4,682.3 130.1,682.2 130.8,682.1 131.5,682 132.2,682 132.9,681.9 133.6,681.8 134.3,681.7 135,681.7 135.7,681.6 136.4,681.6 137.1,681.5 137.8,681.5 138.5,681.4 139.2,681.4 139.9,681.4 140.6,681.3 141.3,681.3 142,681.2 142.7,681.2 143.4,681.2 144.1,681.1 144.8,681.1 145.5,681.1 146.2,681 146.9,681 147.6,681 148.3,681 149,681 149.7,680.9 150.4,680.9 151.1,680.9 151.8,680.9 152.5,680.9 153.2,680.9 153.9,680.9 154.6,681 155.3,681 155.9,681.1 156.6,681.2 157.3,681.4 158,681.5 158.7,681.6 159.4,681.8 160.1,682 160.7,682.2 161.4,682.4 162.1,682.6 162.8,682.8 163.5,683" fill="none" stroke="#55ff55" stroke-width="0.9" stroke-linejoin="round" stroke-opacity="1.0"/>
<polyline points="52.5,728.2 52.7,727.5 52.9,726.9 53.2,726.2 53.4,725.5 53.7,724.9 53.9,724.2 54.2,723.5 54.4,722.9 54.7,722.2 55,721.6 55.2,721 55.5,720.3 55.8,719.7 56.1,719.1 56.4,718.4 56.7,717.8 57.1,717.2 57.4,716.6 57.7,716 58.1,715.4 58.4,714.8 58.8,714.2 59.2,713.7 59.5,713.1 59.9,712.5 60.3,711.9 60.7,711.3 61.1,710.7 61.5,710.2 61.9,709.6 62.3,709 62.7,708.5 63.2,707.9 63.6,707.3 64,706.8 64.5,706.2 64.9,705.7 65.4,705.1 65.8,704.5 66.2,704 66.7,703.4 67.1,702.9 67.6,702.4 68.1,701.8 68.5,701.3 69,700.7 69.4,700.2 69.9,699.7 70.3,699.1 70.8,698.6 71.2,698.1 71.7,697.5 72.1,697 72.6,696.5 73.1,696 73.5,695.4 74,694.9 74.4,694.4 74.9,693.9 75.4,693.4 75.9,692.8 76.3,692.3 76.8,691.8 77.3,691.3 77.8,690.8 78.3,690.3 78.8,689.8 79.2,689.3 79.7,688.8 80.2,688.3 80.7,687.8 81.2,687.3 81.7,686.8 82.2,686.3 82.7,685.8 83.3,685.3 83.8,684.8 84.3,684.3 84.8,683.9 85.3,683.4 85.8,682.9 86.3,682.4 86.9,682 87.4,681.5 87.9,681.1 88.4,680.6 89,680.2 89.5,679.7 90,679.3 90.6,678.8 91.1,678.4 91.6,678 92.2,677.5 92.7,677.1 93.3,676.7 93.8,676.2 94.4,675.8 95,675.4 95.5,675 96.1,674.6 96.7,674.1 97.2,673.7 97.8,673.3 98.4,672.9 98.9,672.5 99.5,672.1 100.1,671.7 100.7,671.3 101.2,670.9 101.8,670.5 102.4,670.1 103,669.7 103.6,669.3 104.2,668.9 104.8,668.6 105.3,668.2 105.9,667.8 106.5,667.4 107.1,667 107.7,666.6 108.3,666.3 108.9,665.9 109.5,665.5 110.1,665.2 110.7,664.8 111.3,664.4 111.9,664.1 112.5,663.7 113,663.3 113.6,663 114.2,662.6 114.8,662.2 115.4,661.9 116,661.5 116.7,661.2 117.3,660.8 117.9,660.5 118.5,660.1 119.1,659.8 119.7,659.4 120.3,659.1 120.9,658.7 121.5,658.4 122.1,658 122.8,657.7 123.4,657.4 124,657 124.6,656.7 125.2,656.4 125.8,656 126.5,655.7 127.1,655.4 127.7,655.1 128.3,654.8 129,654.4 129.6,654.1 130.2,653.8 130.8,653.5 131.5,653.2 132.1,652.9 132.7,652.6 133.4,652.3 134,652 134.6,651.7 135.3,651.4 135.9,651.2 136.5,650.9 137.2,650.6 137.8,650.3 138.5,650 139.1,649.7 139.7,649.4 140.4,649.2 141,648.9 141.7,648.6 142.3,648.3 143,648.1 143.6,647.8 144.3,647.5 144.9,647.2 145.6,647 146.2,646.7 146.9,646.5 147.5,646.2 148.2,646 148.9,645.7 149.5,645.5 150.2,645.2 150.8,645 151.5,644.8 152.1,644.6 152.8,644.3 153.5,644.1 154.1,643.9 154.8,643.7 155.5,643.5 156.1,643.3 156.8,643.1 157.5,642.9 158.1,642.7 158.8,642.5 159.5,642.3 160.2,642.1 160.8,641.9 161.5,641.8 162.2,641.6 162.9,641.4 163.5,641.2 164.2,641.1 164.9,640.9 165.6,640.7 166.3,640.5 166.9,640.4 167.6,640.2 168.3,640.1 169,639.9 169.7,639.7 170.4,639.6 171.1,639.4 171.7,639.3 172.4,639.1 173.1,639 173.8,638.9 174.5,638.7 175.2,638.6 175.9,638.4 176.5,638.3 177.2,638.2 177.9,638 178.6,637.9 179.3,637.8 180,637.6 180.7,637.5 181.3,637.4 182,637.2 182.7,637.1 183.4,637 184.1,636.9 184.8,636.8 185.5,636.6 186.2,636.5 186.9,636.4 187.5,636.3 188.2,636.2 188.9,636.1 189.6,636 190.3,635.9 191,635.8 191.7,635.7 192.4,635.6 193.1,635.5 193.8,635.4 194.5,635.3 195.2,635.2 195.9,635.1" fill="none" stroke="#5050ff" stroke-width="0.9" stroke-linejoin="round" stroke-opacity="1.0"/>
<polyline points="52.5,728.2 52.8,727.6 53,726.9 53.3,726.3 53.6,725.6 53.9,725 54.2,724.3 54.4,723.7 54.7,723 55,722.4 55.3,721.8 55.6,721.1 55.9,720.5 56.2,719.9 56.6,719.3 56.9,718.7 57.2,718 57.5,717.4 57.9,716.8 58.2,716.2 58.5,715.6 58.9,715 59.2,714.4 59.6,713.8 59.9,713.2 60.3,712.5 60.6,711.9 61,711.3 61.3,710.7 61.7,710.1 62.1,709.5 62.4,708.9 62.8,708.3 63.2,707.7 63.6,707.1 63.9,706.5 64.3,705.9 64.7,705.4 65.1,704.8 65.5,704.2 65.9,703.6 66.3,703 66.7,702.4 67.1,701.8 67.4,701.3 67.8,700.7 68.2,700.1 68.7,699.5 69.1,699 69.5,698.4 69.9,697.8 70.3,697.3 70.7,696.7 71.1,696.2 71.5,695.6 71.9,695 72.4,694.5 72.8,693.9 73.2,693.4 73.6,692.8 74.1,692.3 74.5,691.8 74.9,691.2 75.4,690.7 75.8,690.1 76.3,689.6 76.7,689 77.1,688.5 77.6,688 78.1,687.4 78.5,686.9 79,686.4 79.4,685.8 79.9,685.3 80.4,684.8 80.8,684.2 81.3,683.7 81.8,683.2 82.2,682.7 82.7,682.2 83.2,681.6 83.7,681.1 84.2,680.6 84.6,680.1 85.1,679.6 85.6,679.1 86.1,678.6 86.6,678.1 87.1,677.6 87.6,677.1 88.1,676.6 88.6,676.1 89.1,675.6 89.6,675.1 90.1,674.6 90.6,674.1 91.1,673.6 91.6,673.1 92.1,672.6 92.6,672.2 93.1,671.7 93.6,671.2 94.1,670.7 94.6,670.3 95.1,669.8 95.6,669.3 96.1,668.9 96.7,668.4 97.2,667.9 97.7,667.5 98.2,667 98.8,666.6 99.3,666.1 99.8,665.7 100.4,665.2 100.9,664.8 101.5,664.3 102,663.9 102.6,663.4 103.1,663 103.7,662.6 104.2,662.1 104.8,661.7 105.3,661.2 105.9,660.8 106.4,660.4 107,660 107.5,659.5 108.1,659.1 108.7,658.7 109.2,658.3 109.8,657.8 110.3,657.4 110.9,657 111.5,656.6 112,656.2 112.6,655.7 113.2,655.3 113.7,654.9 114.3,654.5 114.9,654.1 115.4,653.7 116,653.3 116.6,652.9 117.1,652.5 117.7,652.1 118.3,651.7 118.9,651.3 119.4,650.9 120,650.5 120.6,650.1 121.2,649.7 121.7,649.3 122.3,648.9 122.9,648.5 123.5,648.1 124.1,647.7 124.6,647.3 125.2,647 125.8,646.6 126.4,646.2 127,645.8 127.6,645.4 128.2,645.1 128.8,644.7 129.4,644.3 130,643.9 130.6,643.6 131.1,643.2 131.7,642.8 132.3,642.4 132.9,642.1 133.5,641.7 134.1,641.4 134.7,641 135.3,640.6 135.9,640.3 136.5,639.9 137.1,639.6 137.7,639.2 138.3,638.9 138.9,638.5 139.6,638.2 140.2,637.8 140.8,637.5 141.4,637.1 142,636.8 142.6,636.4 143.2,636.1 143.8,635.7 144.4,635.4 145,635 145.6,634.7 146.3,634.3 146.9,634 147.5,633.7 148.1,633.3 148.7,633 149.3,632.7 150,632.3 150.6,632 151.2,631.7 151.8,631.4 152.5,631 153.1,630.7 153.7,630.4 154.3,630.1 155,629.8 155.6,629.5 156.2,629.2 156.9,628.9 157.5,628.6 158.1,628.3 158.8,628 159.4,627.7 160,627.5 160.7,627.2 161.3,626.9 162,626.7 162.6,626.4 163.2,626.1 163.9,625.9 164.5,625.6 165.2,625.4 165.9,625.1 166.5,624.9 167.2,624.6 167.8,624.4 168.5,624.1 169.1,623.9 169.8,623.7 170.5,623.4 171.1,623.2 171.8,622.9 172.4,622.7 173.1,622.5 173.8,622.2 174.4,622 175.1,621.8 175.8,621.6 176.4,621.3 177.1,621.1 177.7,620.9 178.4,620.6 179.1,620.4 179.7,620.2 180.4,620 181.1,619.7 181.7,619.5 182.4,619.3 183,619 183.7,618.8 184.4,618.6 185,618.3 185.7,618.1 186.3,617.9 187,617.6 187.7,617.4 188.3,617.2 189,617 189.7,616.7 190.3,616.5 191,616.3 191.7,616.1 192.3,615.9 193,615.7 193.7,615.5 194.3,615.2 195,615 195.7,614.8 196.3,614.6 197,614.4 197.7,614.2 198.3,614 199,613.8 199.7,613.6 200.4,613.4 201,613.2 201.7,613.1 202.4,612.9 203.1,612.7 203.7,612.5 204.4,612.3 205.1,612.1 205.8,611.9 206.4,611.8 207.1,611.6 207.8,611.4 208.5,611.2 209.2,611.1 209.8,610.9 210.5,610.8 211.2,610.6 211.9,610.4 212.6,610.3 213.2,610.2 213.9,610 214.6,609.9 215.3,609.7 216,609.6 216.7,609.5 217.4,609.3 218,609.2 218.7,609.1 219.4,609 220.1,608.9 220.8,608.7 221.5,608.6 222.2,608.5 222.9,608.4 223.6,608.3 224.3,608.1 225,608 225.6,607.9 226.3,607.8 227,607.7 227.7,607.6 228.4,607.5 229.1,607.4 229.8,607.2 230.5,607.1 231.2,607 231.9,606.9 232.6,606.8 233.2,606.7 233.9,606.6 234.6,606.5 235.3,606.3 236,606.2 236.7,606.1 237.4,606 238.1,605.9 238.8,605.8 239.5,605.7 240.2,605.6 240.9,605.5 241.6,605.4 242.2,605.3 242.9,605.3 243.6,605.2 244.3,605.1 245,605 245.7,604.9 246.4,604.8 247.1,604.8 247.8,604.7 248.5,604.6 249.2,604.5 249.9,604.5 250.6,604.4 251.3,604.3 252,604.2 252.7,604.2 253.4,604.1 254.1,604 254.8,604 255.5,603.9 256.2,603.8 256.9,603.8 257.6,603.7 258.3,603.6 258.9,603.6 259.6,603.5 260.3,603.5 261,603.4 261.7,603.3 262.4,603.3 263.1,603.2 263.8,603.2 264.5,603.1 265.2,603.1 265.9,603 266.6,603" fill="none" stroke="#ff99ff" stroke-width="0.9" stroke-linejoin="round" stroke-opacity="1.0"/>
<path d="M54.3 715.9h2.6v2.6h-2.6zM58.2 714.7h2.6v2.6h-2.6zM60.7 712.7h2.6v2.6h-2.6zM63.4 709.6h2.6v2.6h-2.6zM66.7 706.9h2.6v2.6h-2.6zM70.2 703.9h2.6v2.6h-2.6zM74.5 699.7h2.6v2.6h-2.6zM79.4 696.9h2.6v2.6h-2.6zM85.9 693.4h2.6v2.6h-2.6zM93.2 689.9h2.6v2.6h-2.6zM101.3 687h2.6v2.6h-2.6zM110.4 684.2h2.6v2.6h-2.6zM120.3 682.2h2.6v2.6h-2.6zM130.4 680.7h2.6v2.6h-2.6zM140.7 679.8h2.6v2.6h-2.6zM151.6 678.9h2.6v2.6h-2.6zM162.1 680.2h2.6v2.6h-2.6z" fill="#00ff00"/>
<path d="M53.7 718.7h2.6v2.6h-2.6zM56.7 713.7h2.6v2.6h-2.6zM60.7 708.7h2.6v2.6h-2.6zM64.2 704.7h2.6v2.6h-2.6zM67.3 700.8h2.6v2.6h-2.6zM70.8 696.7h2.6v2.6h-2.6zM73.9 698.8h2.6v2.6h-2.6zM76.1 690.5h2.6v2.6h-2.6zM82 684.4h2.6v2.6h-2.6zM89.4 677.6h2.6v2.6h-2.6zM98.4 670.8h2.6v2.6h-2.6zM109.6 663.6h2.6v2.6h-2.6zM122.7 655.9h2.6v2.6h-2.6zM136.7 651.8h2.6v2.6h-2.6zM155.3 642.3h2.6v2.6h-2.6zM174.6 637.3h2.6v2.6h-2.6zM195.5 633.4h2.6v2.6h-2.6z" fill="#0000ff"/>
<path d="M51.6 725.7h2.6v2.6h-2.6zM52.3 724h2.6v2.6h-2.6zM53.1 722.2h2.6v2.6h-2.6zM53.9 720.5h2.6v2.6h-2.6zM54.8 718.7h2.6v2.6h-2.6zM55.7 717h2.6v2.6h-2.6zM56.7 715.2h2.6v2.6h-2.6zM57.7 713.2h2.6v2.6h-2.6zM58.6 711.3h2.6v2.6h-2.6zM60.2 709.1h2.6v2.6h-2.6zM61.8 706.9h2.6v2.6h-2.6zM64.5 703h2.6v2.6h-2.6zM67.7 698.6h2.6v2.6h-2.6zM71.9 693.4h2.6v2.6h-2.6zM76.7 686.8h2.6v2.6h-2.6zM83.1 679.6h2.6v2.6h-2.6zM91 671.5h2.6v2.6h-2.6zM100.6 663.1h2.6v2.6h-2.6zM112.6 653.3h2.6v2.6h-2.6zM127.1 643.9h2.6v2.6h-2.6zM144.4 633.2h2.6v2.6h-2.6zM164.1 623.7h2.6v2.6h-2.6zM186.2 616.9h2.6v2.6h-2.6zM211.6 609.7h2.6v2.6h-2.6zM239.2 606.5h2.6v2.6h-2.6zM267.8 603.3h2.6v2.6h-2.6z" fill="#ff80ff"/>
<rect x="188.2" y="127.3" width="87.4" height="67.3" fill="#fff" stroke="#777" stroke-width="0.8"/>
<line x1="188" y1="194.6" x2="188" y2="193.1" stroke="#777" stroke-width="0.6"/>
<text x="188.0" y="198.7" font-family='"Liberation Serif", serif' font-size="3.3" text-anchor="middle" fill="#000" stroke="#000" stroke-width="0.3">0</text>
<line x1="221.4" y1="194.6" x2="221.4" y2="193.1" stroke="#777" stroke-width="0.6"/>
<text x="221.4" y="198.7" font-family='"Liberation Serif", serif' font-size="3.3" text-anchor="middle" fill="#000" stroke="#000" stroke-width="0.3">2000</text>
<line x1="255.3" y1="194.6" x2="255.3" y2="193.1" stroke="#777" stroke-width="0.6"/>
<text x="255.3" y="198.7" font-family='"Liberation Serif", serif' font-size="3.3" text-anchor="middle" fill="#000" stroke="#000" stroke-width="0.3">4000</text>
<line x1="188.2" y1="143" x2="189.7" y2="143" stroke="#777" stroke-width="0.6"/>
<text x="186.0" y="144.2" font-family='"Liberation Serif", serif' font-size="3.3" text-anchor="end" fill="#000" stroke="#000" stroke-width="0.3">-4000</text>
<line x1="188.2" y1="169" x2="189.7" y2="169" stroke="#777" stroke-width="0.6"/>
<text x="186.0" y="170.2" font-family='"Liberation Serif", serif' font-size="3.3" text-anchor="end" fill="#000" stroke="#000" stroke-width="0.3">-2000</text>
<line x1="188.2" y1="194.6" x2="189.7" y2="194.6" stroke="#777" stroke-width="0.6"/>
<text x="186.0" y="195.8" font-family='"Liberation Serif", serif' font-size="3.3" text-anchor="end" fill="#000" stroke="#000" stroke-width="0.3">0</text>
<text x="231" y="203" font-family='"Liberation Serif", serif' font-size="3" text-anchor="middle" fill="#111" stroke="#111" stroke-width="0.2">Z ' ( &#937;&#183;cm2)</text>
<text transform="translate(177.5,163) rotate(-90)" font-family='"Liberation Serif", serif' font-size="3" text-anchor="middle" fill="#111" stroke="#111" stroke-width="0.2">Z''( &#937;&#183;cm2)</text>
<polyline points="188.2,194.6 188.5,193.5 189.3,192.5 190.6,191.8 192.2,191.4 194,191.4 195.5,191.8 196.9,192.5 197.7,193.5 198,194.6" fill="none" stroke="#000" stroke-width="1.0" stroke-linejoin="round" stroke-opacity="1.0"/>
<polyline points="188.2,194.6 188.3,193.9 188.5,193.2 188.8,192.5 189.2,191.8 189.8,191.2 190.5,190.6 191.2,190.1 192.1,189.6 193,189.1 194.1,188.8 195.2,188.5 196.3,188.2 197.5,188.1 198.7,188 199.8,188 201,188.1 202.2,188.2 203.3,188.5 204.4,188.8 205.5,189.1 206.4,189.6 207.3,190.1 208,190.6 208.7,191.2 209.3,191.8 209.7,192.5 210,193.2 210.2,193.9 210.3,194.6" fill="none" stroke="#ff0000" stroke-width="1.0" stroke-linejoin="round" stroke-opacity="1.0"/>
<polyline points="188.2,194.6 188.4,194.2 188.7,193.7 188.9,193.3 189.1,192.8 189.4,192.4 189.6,192 189.9,191.5 190.1,191.1 190.3,190.6 190.6,190.2 190.8,189.8 191,189.3 191.3,188.9 191.5,188.4 191.8,188 192,187.6 192.3,187.1 192.5,186.7 192.8,186.3 193,185.8 193.2,185.4 193.5,185 193.7,184.5 194,184.1 194.2,183.7 194.5,183.2 194.7,182.8 195,182.4 195.2,181.9 195.5,181.5 195.7,181.1 196,180.6 196.2,180.2 196.5,179.8 196.7,179.3 197,178.9 197.2,178.5 197.5,178 197.7,177.6 198,177.2 198.2,176.7 198.5,176.3 198.7,175.9 199,175.4 199.3,175 199.5,174.6 199.8,174.2 200,173.7 200.3,173.3 200.6,172.9 200.8,172.5 201.1,172 201.4,171.6 201.6,171.2 201.9,170.8 202.2,170.3 202.4,169.9 202.7,169.5 203,169.1 203.2,168.6 203.5,168.2 203.8,167.8 204.1,167.4 204.4,167 204.6,166.6 204.9,166.2 205.2,165.8 205.5,165.4 205.8,165 206.2,164.6 206.5,164.2 206.8,163.8 207.1,163.4 207.4,163 207.7,162.7 208.1,162.3 208.4,161.9 208.7,161.5 209.1,161.2 209.4,160.8 209.7,160.4 210.1,160.1 210.4,159.7 210.8,159.4 211.1,159 211.5,158.6 211.9,158.3 212.2,157.9 212.6,157.6 212.9,157.2 213.3,156.9 213.6,156.5 213.9,156.1 214.3,155.8 214.6,155.4 215,155 215.3,154.7 215.6,154.3 216,153.9 216.3,153.6 216.7,153.2 217,152.8 217.3,152.5 217.7,152.1 218,151.7 218.3,151.3 218.7,151 219,150.6 219.4,150.2 219.7,149.9 220,149.5 220.4,149.2 220.7,148.8 221.1,148.4 221.4,148 221.7,147.7 222.1,147.3 222.4,146.9 222.8,146.6 223.1,146.2 223.5,145.8 223.8,145.5 224.1,145.1 224.5,144.8 224.8,144.4 225.2,144 225.5,143.7 225.9,143.3 226.3,143 226.6,142.7 227,142.3 227.4,142 227.7,141.7 228.1,141.3 228.5,141 228.9,140.7 229.2,140.4 229.6,140.1 230,139.7 230.4,139.4 230.8,139.1 231.2,138.8 231.6,138.5 232,138.2 232.4,137.9 232.8,137.6 233.2,137.3 233.6,137 234,136.7 234.4,136.3 234.8,136 235.2,135.7 235.5,135.4 235.9,135.1 236.3,134.8 236.7,134.5 237.1,134.1 237.5,133.8 237.8,133.5 238.2,133.2 238.6,132.8 239,132.5 239.3,132.2 239.7,131.8 240.1,131.5 240.5,131.2 240.8,130.8 241.2,130.5 241.6,130.2 242,129.8 242.3,129.5 242.7,129.2 243.1,128.8 243.4,128.5 243.8,128.1 244.2,127.8 244.5,127.5" fill="none" stroke="#33dd33" stroke-width="0.8" stroke-linejoin="round" stroke-opacity="1.0"/>
<path d="M200.9 170.8h1.2v1.2h-1.2zM203.6 166.6h1.2v1.2h-1.2zM207.8 161.3h1.2v1.2h-1.2zM213.1 155.8h1.2v1.2h-1.2zM218.9 149.5h1.2v1.2h-1.2zM226.3 141.8h1.2v1.2h-1.2zM234.9 134.6h1.2v1.2h-1.2z" fill="#00ff00"/>
<polyline points="188.2,194.6 226.2,127.3" fill="none" stroke="#ff77ff" stroke-width="0.8" stroke-linejoin="round" stroke-opacity="1.0"/>
<polyline points="188.2,194.3 227.2,127.3" fill="none" stroke="#6060ff" stroke-width="0.8" stroke-linejoin="round" stroke-opacity="1.0"/>
<path d="M190.3 190.1h1.2v1.2h-1.2zM193.5 183.6h1.2v1.2h-1.2zM197.5 174.8h1.2v1.2h-1.2zM201.5 167.6h1.2v1.2h-1.2zM205.1 161.5h1.2v1.2h-1.2zM208.7 154.7h1.2v1.2h-1.2zM212.8 148h1.2v1.2h-1.2zM217.6 139.5h1.2v1.2h-1.2zM222.4 131.4h1.2v1.2h-1.2zM225.3 128.2h1.2v1.2h-1.2z" fill="#0000ff"/>
<path d="M191.8 186.9h1.2v1.2h-1.2zM195.4 179.4h1.2v1.2h-1.2zM199.4 171.4h1.2v1.2h-1.2zM206.9 158.9h1.2v1.2h-1.2zM214.9 144.4h1.2v1.2h-1.2zM220.4 134.9h1.2v1.2h-1.2z" fill="#ff80ff"/>
<rect x="252.2" y="131.2" width="18.7" height="30.9" fill="#fff" stroke="#777" stroke-width="0.6"/>
<path d="M255 132.9h1.1v1.1h-1.1z" fill="#000000"/>
<line x1="253.1" y1="136.5" x2="258.9" y2="136.5" stroke="#333333" stroke-width="0.6"/>
<text x="260.1" y="134.4" font-family='"Liberation Serif", serif' font-size="2.73" textLength="2.8" lengthAdjust="spacing" fill="#000" stroke="#000" stroke-width="0.13">1h</text>
<text x="260.1" y="137.4" font-family='"Liberation Serif", serif' font-size="2.73" textLength="9.7" lengthAdjust="spacing" fill="#000" stroke="#000" stroke-width="0.13">Fitting</text>
<path d="M255 139h1.1v1.1h-1.1z" fill="#ff0000"/>
<line x1="253.1" y1="142.6" x2="258.9" y2="142.6" stroke="#ff3030" stroke-width="0.6"/>
<text x="260.1" y="140.4" font-family='"Liberation Serif", serif' font-size="2.73" textLength="2.8" lengthAdjust="spacing" fill="#000" stroke="#000" stroke-width="0.13">3h</text>
<text x="260.1" y="143.5" font-family='"Liberation Serif", serif' font-size="2.73" textLength="9.7" lengthAdjust="spacing" fill="#000" stroke="#000" stroke-width="0.13">Fitting</text>
<path d="M255 145.1h1.1v1.1h-1.1z" fill="#00ff00"/>
<line x1="253.1" y1="148.6" x2="258.9" y2="148.6" stroke="#55ff55" stroke-width="0.6"/>
<text x="260.1" y="146.5" font-family='"Liberation Serif", serif' font-size="2.73" textLength="2.8" lengthAdjust="spacing" fill="#000" stroke="#000" stroke-width="0.13">5h</text>
<text x="260.1" y="149.5" font-family='"Liberation Serif", serif' font-size="2.73" textLength="9.7" lengthAdjust="spacing" fill="#000" stroke="#000" stroke-width="0.13">Fitting</text>
<path d="M255 151.1h1.1v1.1h-1.1z" fill="#0000ff"/>
<line x1="253.1" y1="154.7" x2="258.9" y2="154.7" stroke="#5050ff" stroke-width="0.6"/>
<text x="260.1" y="152.6" font-family='"Liberation Serif", serif' font-size="2.73" textLength="2.8" lengthAdjust="spacing" fill="#000" stroke="#000" stroke-width="0.13">8h</text>
<text x="260.1" y="155.6" font-family='"Liberation Serif", serif' font-size="2.73" textLength="9.7" lengthAdjust="spacing" fill="#000" stroke="#000" stroke-width="0.13">Fitting</text>
<path d="M255 157.2h1.1v1.1h-1.1z" fill="#ff80ff"/>
<line x1="253.1" y1="160.7" x2="258.9" y2="160.7" stroke="#ff99ff" stroke-width="0.6"/>
<text x="260.1" y="158.6" font-family='"Liberation Serif", serif' font-size="2.73" textLength="4.2" lengthAdjust="spacing" fill="#000" stroke="#000" stroke-width="0.13">12h</text>
<text x="260.1" y="161.6" font-family='"Liberation Serif", serif' font-size="2.73" textLength="9.7" lengthAdjust="spacing" fill="#000" stroke="#000" stroke-width="0.13">Fitting</text>
<rect x="120.6" y="269.9" width="114.1" height="107.7" fill="#fff" stroke="#777" stroke-width="0.8"/>
<line x1="120.6" y1="377.6" x2="120.6" y2="376.1" stroke="#777" stroke-width="0.6"/>
<text x="120.6" y="382.3" font-family='"Liberation Serif", serif' font-size="3.9" text-anchor="middle" fill="#000" stroke="#000" stroke-width="0.2">0</text>
<line x1="143.4" y1="377.6" x2="143.4" y2="376.1" stroke="#777" stroke-width="0.6"/>
<text x="143.4" y="382.3" font-family='"Liberation Serif", serif' font-size="3.9" text-anchor="middle" fill="#000" stroke="#000" stroke-width="0.2">200</text>
<line x1="166.2" y1="377.6" x2="166.2" y2="376.1" stroke="#777" stroke-width="0.6"/>
<text x="166.2" y="382.3" font-family='"Liberation Serif", serif' font-size="3.9" text-anchor="middle" fill="#000" stroke="#000" stroke-width="0.2">400</text>
<line x1="189.1" y1="377.6" x2="189.1" y2="376.1" stroke="#777" stroke-width="0.6"/>
<text x="189.1" y="382.3" font-family='"Liberation Serif", serif' font-size="3.9" text-anchor="middle" fill="#000" stroke="#000" stroke-width="0.2">600</text>
<line x1="211.9" y1="377.6" x2="211.9" y2="376.1" stroke="#777" stroke-width="0.6"/>
<text x="211.9" y="382.3" font-family='"Liberation Serif", serif' font-size="3.9" text-anchor="middle" fill="#000" stroke="#000" stroke-width="0.2">800</text>
<line x1="234.7" y1="377.6" x2="234.7" y2="376.1" stroke="#777" stroke-width="0.6"/>
<text x="234.7" y="382.3" font-family='"Liberation Serif", serif' font-size="3.9" text-anchor="middle" fill="#000" stroke="#000" stroke-width="0.2">1000</text>
<line x1="120.6" y1="377.6" x2="122.1" y2="377.6" stroke="#777" stroke-width="0.6"/>
<text x="118.4" y="379.0" font-family='"Liberation Serif", serif' font-size="3.9" text-anchor="end" fill="#000" stroke="#000" stroke-width="0.2">0</text>
<line x1="120.6" y1="356.1" x2="122.1" y2="356.1" stroke="#777" stroke-width="0.6"/>
<text x="118.4" y="357.4" font-family='"Liberation Serif", serif' font-size="3.9" text-anchor="end" fill="#000" stroke="#000" stroke-width="0.2">-200</text>
<line x1="120.6" y1="334.5" x2="122.1" y2="334.5" stroke="#777" stroke-width="0.6"/>
<text x="118.4" y="335.9" font-family='"Liberation Serif", serif' font-size="3.9" text-anchor="end" fill="#000" stroke="#000" stroke-width="0.2">-400</text>
<line x1="120.6" y1="313" x2="122.1" y2="313" stroke="#777" stroke-width="0.6"/>
<text x="118.4" y="314.3" font-family='"Liberation Serif", serif' font-size="3.9" text-anchor="end" fill="#000" stroke="#000" stroke-width="0.2">-600</text>
<line x1="120.6" y1="291.4" x2="122.1" y2="291.4" stroke="#777" stroke-width="0.6"/>
<text x="118.4" y="292.8" font-family='"Liberation Serif", serif' font-size="3.9" text-anchor="end" fill="#000" stroke="#000" stroke-width="0.2">-800</text>
<line x1="120.6" y1="269.9" x2="122.1" y2="269.9" stroke="#777" stroke-width="0.6"/>
<text x="118.4" y="271.3" font-family='"Liberation Serif", serif' font-size="3.9" text-anchor="end" fill="#000" stroke="#000" stroke-width="0.2">-1000</text>
<text x="176" y="389.5" font-family='"Liberation Serif", serif' font-size="4.2" text-anchor="middle" fill="#111" stroke="#111" stroke-width="0.2">Z ' ( &#937;&#183;cm<tspan font-size="2.8" dy="-1.5">2</tspan><tspan dy="1.5">)</tspan></text>
<text transform="translate(106.5,324) rotate(-90)" font-family='"Liberation Serif", serif' font-size="4.2" text-anchor="middle" fill="#111" stroke="#111" stroke-width="0.2">Z''( &#937;&#183;cm<tspan font-size="2.8" dy="-1.5">2</tspan><tspan dy="1.5">)</tspan></text>
<polyline points="121.3,377.1 122.3,375 123.5,372.8 124.6,371.5 125.7,370.6 127.3,370 128.9,369.5 130.5,369.2 132.2,368.4 133.3,369.3 134.4,368.4 135.5,369.4 136.6,369.5 137.7,370.2 138.8,370.6 140,371.3 141,371.7 142.2,372.4 143.2,372.8 144.3,373.9 145.4,375 146.3,376.3 147.1,377.4" fill="none" stroke="#333" stroke-width="0.6" stroke-linejoin="round" stroke-opacity="1.0"/>
<path d="M120.6 376.4h1.4v1.4h-1.4zM121.6 374.3h1.4v1.4h-1.4zM122.8 372.1h1.4v1.4h-1.4zM123.9 370.8h1.4v1.4h-1.4zM125 369.9h1.4v1.4h-1.4zM126.6 369.3h1.4v1.4h-1.4zM128.2 368.8h1.4v1.4h-1.4zM129.8 368.5h1.4v1.4h-1.4zM131.5 367.7h1.4v1.4h-1.4zM132.6 368.6h1.4v1.4h-1.4zM133.7 367.7h1.4v1.4h-1.4zM134.8 368.7h1.4v1.4h-1.4zM135.9 368.8h1.4v1.4h-1.4zM137 369.5h1.4v1.4h-1.4zM138.1 369.9h1.4v1.4h-1.4zM139.3 370.6h1.4v1.4h-1.4zM140.3 371h1.4v1.4h-1.4zM141.5 371.7h1.4v1.4h-1.4zM142.5 372.1h1.4v1.4h-1.4zM143.6 373.2h1.4v1.4h-1.4zM144.7 374.3h1.4v1.4h-1.4zM145.6 375.6h1.4v1.4h-1.4zM146.4 376.7h1.4v1.4h-1.4z" fill="#000"/>
<polyline points="120.6,377.6 120.7,377.1 120.8,376.6 121,376.1 121.1,375.6 121.3,375.1 121.4,374.6 121.6,374.2 121.7,373.7 121.9,373.2 122,372.7 122.2,372.2 122.4,371.8 122.6,371.3 122.8,370.8 123,370.4 123.1,369.9 123.3,369.5 123.5,369 123.8,368.6 124,368.1 124.2,367.7 124.4,367.2 124.6,366.8 124.8,366.4 125,365.9 125.3,365.5 125.5,365.1 125.8,364.6 126,364.2 126.3,363.8 126.5,363.3 126.8,362.9 127.1,362.5 127.4,362.1 127.7,361.7 128,361.2 128.3,360.8 128.6,360.4 128.9,360 129.2,359.6 129.5,359.2 129.9,358.8 130.2,358.5 130.5,358.1 130.8,357.7 131.2,357.4 131.5,357 131.9,356.6 132.2,356.3 132.5,356 132.9,355.6 133.3,355.3 133.6,355 134,354.6 134.4,354.3 134.8,354 135.2,353.7 135.6,353.3 136,353 136.4,352.7 136.8,352.4 137.2,352.1 137.6,351.8 138,351.5 138.4,351.3 138.9,351 139.3,350.7 139.7,350.4 140.1,350.1 140.5,349.9 141,349.6 141.4,349.4 141.8,349.1 142.2,348.9 142.7,348.6 143.1,348.4 143.5,348.1 144,347.9 144.4,347.6 144.9,347.4 145.3,347.2 145.8,346.9 146.2,346.7 146.7,346.5 147.1,346.3 147.6,346 148,345.8 148.5,345.6 148.9,345.4 149.4,345.2 149.9,345 150.3,344.8 150.8,344.6 151.3,344.4 151.7,344.3 152.2,344.1 152.7,343.9 153.1,343.8 153.6,343.6 154.1,343.4 154.5,343.3 155,343.1 155.5,342.9 156,342.8 156.4,342.6 156.9,342.5 157.4,342.3 157.9,342.2 158.3,342 158.8,341.9 159.3,341.7 159.8,341.6 160.3,341.5 160.8,341.3 161.3,341.2 161.8,341.1 162.2,341 162.7,340.9 163.2,340.8 163.7,340.7 164.2,340.6 164.7,340.5 165.2,340.5 165.7,340.4 166.2,340.4 166.7,340.3 167.1,340.2 167.6,340.2 168.1,340.1 168.6,340.1 169.1,340 169.6,339.9 170.1,339.9 170.6,339.8 171.1,339.8 171.6,339.8 172.1,339.7 172.6,339.7 173.1,339.6 173.6,339.6 174.1,339.6 174.6,339.6 175.1,339.5 175.6,339.5 176.1,339.5 176.6,339.5 177.1,339.5 177.6,339.5 178.1,339.5 178.6,339.5 179.1,339.6 179.6,339.6 180.1,339.6 180.6,339.7 181.1,339.7 181.6,339.8 182.1,339.8 182.6,339.9 183.1,339.9 183.6,340 184.1,340.1 184.6,340.1 185.1,340.2 185.6,340.3 186.1,340.3 186.6,340.4 187.1,340.5 187.6,340.6 188.1,340.7 188.6,340.8 189.1,340.8 189.6,340.9 190.1,341 190.5,341.1 191,341.2 191.5,341.3 192,341.4 192.5,341.5 192.9,341.7 193.4,341.8 193.9,342 194.4,342.1 194.9,342.3 195.3,342.4 195.8,342.6 196.3,342.8 196.8,342.9 197.2,343.1 197.7,343.3 198.2,343.5 198.7,343.7 199.1,343.8 199.6,344 200.1,344.2 200.5,344.4 201,344.6 201.4,344.8 201.9,345 202.4,345.2 202.8,345.3 203.3,345.5 203.8,345.7 204.2,345.9 204.7,346.1 205.1,346.3 205.6,346.5 206.1,346.7 206.5,347 207,347.2 207.4,347.4 207.9,347.6 208.3,347.8 208.8,348.1 209.2,348.3 209.7,348.5 210.1,348.8 210.5,349 211,349.3 211.4,349.5 211.8,349.8 212.3,350 212.7,350.3 213.1,350.6 213.5,350.8 213.9,351.1 214.3,351.4 214.7,351.7 215.1,352 215.5,352.3 215.9,352.6 216.3,352.9 216.7,353.2 217.1,353.5 217.5,353.8 217.9,354.2 218.2,354.5 218.6,354.8 219,355.2 219.4,355.5 219.7,355.9 220.1,356.2 220.5,356.5 220.8,356.9 221.2,357.2 221.6,357.6 221.9,357.9 222.3,358.3 222.6,358.6 223,359 223.3,359.3 223.7,359.7 224,360 224.4,360.4 224.7,360.8 225.1,361.1 225.4,361.5 225.8,361.9 226.1,362.3 226.4,362.7 226.8,363 227.1,363.4 227.4,363.8 227.7,364.2 228,364.6 228.3,365 228.6,365.4 228.9,365.8 229.1,366.2 229.4,366.6 229.7,367 229.9,367.4 230.2,367.9 230.5,368.3 230.7,368.7 231,369.1 231.2,369.6 231.5,370 231.7,370.4 231.9,370.9 232.2,371.3 232.4,371.8 232.6,372.2 232.9,372.7 233.1,373.1 233.3,373.6 233.5,374 233.7,374.5 233.9,375 234.1,375.4 234.3,375.9 234.5,376.4 234.7,376.9" fill="none" stroke="#ff3030" stroke-width="0.7" stroke-linejoin="round" stroke-opacity="1.0"/>
<path d="M121.7 370.9h1.5v1.5h-1.5zM125 362.1h1.5v1.5h-1.5zM129.2 359.6h1.5v1.5h-1.5zM135.8 355.6h1.5v1.5h-1.5zM141.3 352.4h1.5v1.5h-1.5zM147.8 349.1h1.5v1.5h-1.5zM154.4 346.9h1.5v1.5h-1.5zM159.9 344.6h1.5v1.5h-1.5zM167.2 342.1h1.5v1.5h-1.5zM174.2 341.8h1.5v1.5h-1.5zM180.8 342.9h1.5v1.5h-1.5zM187.3 342.4h1.5v1.5h-1.5zM193.2 344.6h1.5v1.5h-1.5zM200.4 346.9h1.5v1.5h-1.5zM205.4 347.2h1.5v1.5h-1.5zM211.3 351.2h1.5v1.5h-1.5zM215.8 353.4h1.5v1.5h-1.5zM222.3 359.6h1.5v1.5h-1.5zM225.7 361.1h1.5v1.5h-1.5zM228.9 364.4h1.5v1.5h-1.5zM231.8 367.6h1.5v1.5h-1.5zM233.2 370.9h1.5v1.5h-1.5z" fill="#ff0000"/>
<polyline points="120.6,377.6 120.8,377.1 120.9,376.6 121.1,376.2 121.2,375.7 121.4,375.2 121.6,374.7 121.8,374.3 121.9,373.8 122.1,373.3 122.3,372.9 122.5,372.4 122.6,371.9 122.8,371.4 123,371 123.2,370.5 123.4,370.1 123.6,369.6 123.8,369.1 124,368.7 124.2,368.2 124.4,367.7 124.6,367.3 124.8,366.8 125,366.4 125.2,365.9 125.4,365.5 125.6,365 125.8,364.6 126,364.1 126.2,363.6 126.4,363.2 126.6,362.8 126.9,362.3 127.1,361.9 127.3,361.4 127.5,361 127.7,360.5 128,360.1 128.2,359.6 128.4,359.2 128.6,358.8 128.9,358.3 129.1,357.9 129.3,357.4 129.6,357 129.8,356.5 130,356.1 130.3,355.6 130.5,355.2 130.8,354.8 131,354.3 131.3,353.9 131.5,353.4 131.8,353 132,352.6 132.3,352.1 132.6,351.7 132.8,351.2 133.1,350.8 133.4,350.4 133.6,350 133.9,349.5 134.2,349.1 134.5,348.7 134.8,348.3 135,347.9 135.3,347.5 135.6,347.1 135.9,346.7 136.2,346.3 136.5,345.9 136.8,345.5 137.1,345.1 137.4,344.7 137.7,344.3 138,344 138.3,343.6 138.7,343.2 139,342.9 139.3,342.5 139.7,342.2 140,341.8 140.4,341.5 140.7,341.1 141.1,340.8 141.5,340.5 141.8,340.1 142.2,339.8 142.6,339.5 143,339.1 143.4,338.8 143.7,338.5 144.1,338.1 144.5,337.8 144.9,337.5 145.3,337.2 145.7,336.9 146.1,336.6 146.5,336.2 146.9,335.9 147.3,335.6 147.7,335.3 148.1,335 148.5,334.7 148.9,334.4 149.3,334.1 149.7,333.8 150.1,333.4 150.5,333.1 150.9,332.8 151.3,332.5 151.7,332.2 152.1,331.9 152.5,331.6 152.9,331.3 153.3,331 153.7,330.7 154.1,330.5 154.5,330.2 154.9,329.9 155.3,329.6 155.7,329.3 156.1,329 156.5,328.7 156.9,328.4 157.3,328.1 157.7,327.8 158.2,327.6 158.6,327.3 159,327 159.4,326.7 159.8,326.4 160.2,326.1 160.6,325.8 161,325.5 161.4,325.2 161.8,324.9 162.2,324.6 162.6,324.3 163,324 163.4,323.7 163.8,323.4 164.2,323.1 164.6,322.7 164.9,322.4 165.3,322.1 165.7,321.8 166.1,321.5 166.5,321.2 166.9,320.9 167.3,320.6 167.7,320.3 168.1,320 168.5,319.7 168.9,319.4 169.3,319.1 169.7,318.8 170.1,318.5 170.5,318.1 170.9,317.8 171.3,317.5 171.7,317.2 172.1,316.9 172.5,316.6 172.9,316.3 173.3,316 173.7,315.7 174.1,315.4 174.5,315.1 174.9,314.8 175.3,314.5 175.7,314.3 176.1,314 176.5,313.7 176.9,313.4 177.3,313.1 177.7,312.8 178.1,312.5 178.5,312.2 178.9,311.9 179.3,311.6 179.7,311.3 180.1,311 180.5,310.7 180.9,310.4 181.4,310.2 181.8,309.9 182.2,309.6 182.6,309.3 183,309 183.4,308.7 183.8,308.5 184.3,308.2 184.7,307.9 185.1,307.6 185.5,307.4 185.9,307.1 186.3,306.8 186.8,306.6 187.2,306.3 187.6,306 188,305.7 188.5,305.5 188.9,305.2 189.3,304.9 189.7,304.7 190.1,304.4 190.6,304.1 191,303.9 191.4,303.6 191.9,303.4 192.3,303.1 192.7,302.9 193.1,302.6 193.6,302.3 194,302.1 194.4,301.8 194.9,301.6 195.3,301.3 195.7,301.1 196.2,300.8 196.6,300.6 197,300.3 197.5,300.1 197.9,299.9 198.3,299.6 198.8,299.4 199.2,299.1 199.7,298.9 200.1,298.7 200.5,298.4 201,298.2 201.4,298 201.9,297.7 202.3,297.5 202.8,297.3 203.2,297 203.6,296.8 204.1,296.6 204.5,296.3 205,296.1 205.4,295.9 205.9,295.6 206.3,295.4 206.7,295.2 207.2,294.9 207.6,294.7 208.1,294.5 208.5,294.2 208.9,294 209.4,293.8 209.8,293.5 210.3,293.3 210.7,293.1 211.2,292.8 211.6,292.6 212,292.4 212.5,292.1 212.9,291.9 213.4,291.7 213.8,291.4 214.3,291.2 214.7,291 215.1,290.7 215.6,290.5 216,290.3 216.5,290 216.9,289.8 217.4,289.6 217.8,289.3 218.2,289.1 218.7,288.8 219.1,288.6 219.6,288.4 220,288.1 220.4,287.9 220.9,287.6 221.3,287.4 221.7,287.2 222.2,286.9 222.6,286.7 223,286.4 223.5,286.2 223.9,285.9 224.3,285.7 224.8,285.4 225.2,285.2 225.6,284.9 226.1,284.6 226.5,284.4 226.9,284.1 227.3,283.9 227.8,283.6 228.2,283.4 228.6,283.1 229.1,282.8 229.5,282.6 229.9,282.3 230.3,282.1 230.8,281.8 231.2,281.5 231.6,281.3 232,281 232.5,280.7 232.9,280.5 233.3,280.2 233.7,279.9 234.1,279.7 234.6,279.4" fill="none" stroke="#44ee44" stroke-width="0.7" stroke-linejoin="round" stroke-opacity="1.0"/>
<path d="M123.8 357.8h1.5v1.5h-1.5zM129.2 349.4h1.5v1.5h-1.5zM133.7 345.8h1.5v1.5h-1.5zM140.2 340.2h1.5v1.5h-1.5zM144.7 334.8h1.5v1.5h-1.5zM150.1 334.8h1.5v1.5h-1.5zM155.6 328.9h1.5v1.5h-1.5zM163.2 321.6h1.5v1.5h-1.5zM171.9 315.1h1.5v1.5h-1.5zM181.8 307.9h1.5v1.5h-1.5zM193.4 300.2h1.5v1.5h-1.5zM207.1 293.1h1.5v1.5h-1.5zM222.3 285.6h1.5v1.5h-1.5z" fill="#00ff00"/>
<polyline points="120.6,377.6 120.8,377.1 120.9,376.6 121.1,376.2 121.2,375.7 121.4,375.2 121.6,374.7 121.7,374.3 121.9,373.8 122.1,373.3 122.3,372.8 122.4,372.4 122.6,371.9 122.8,371.4 123,371 123.1,370.5 123.3,370 123.5,369.6 123.7,369.1 123.9,368.6 124.1,368.2 124.3,367.7 124.4,367.2 124.6,366.8 124.8,366.3 125,365.9 125.2,365.4 125.4,364.9 125.6,364.5 125.8,364 126,363.6 126.2,363.1 126.4,362.6 126.6,362.2 126.8,361.7 127,361.3 127.2,360.8 127.4,360.4 127.6,359.9 127.9,359.5 128.1,359 128.3,358.6 128.5,358.1 128.7,357.7 128.9,357.2 129.1,356.8 129.4,356.3 129.6,355.9 129.8,355.4 130,355 130.2,354.5 130.5,354.1 130.7,353.6 130.9,353.2 131.1,352.8 131.4,352.3 131.6,351.9 131.8,351.4 132.1,351 132.3,350.6 132.6,350.1 132.8,349.7 133.1,349.3 133.3,348.8 133.6,348.4 133.8,348 134.1,347.5 134.3,347.1 134.6,346.7 134.8,346.2 135.1,345.8 135.4,345.4 135.6,345 135.9,344.5 136.2,344.1 136.4,343.7 136.7,343.2 136.9,342.8 137.2,342.4 137.5,342 137.7,341.5 138,341.1 138.3,340.7 138.6,340.3 138.8,339.9 139.1,339.4 139.4,339 139.6,338.6 139.9,338.2 140.2,337.7 140.4,337.3 140.7,336.9 141,336.5 141.2,336.1 141.5,335.7 141.8,335.2 142.1,334.8 142.3,334.4 142.6,334 142.9,333.6 143.2,333.1 143.5,332.7 143.7,332.3 144,331.9 144.3,331.5 144.6,331.1 144.9,330.7 145.2,330.3 145.4,329.8 145.7,329.4 146,329 146.3,328.6 146.6,328.2 146.9,327.8 147.2,327.4 147.5,327 147.7,326.6 148,326.2 148.3,325.8 148.6,325.4 148.9,325 149.2,324.6 149.5,324.2 149.8,323.8 150.1,323.4 150.4,323 150.7,322.6 151,322.2 151.3,321.8 151.6,321.4 151.9,321 152.2,320.6 152.5,320.2 152.8,319.8 153.1,319.4 153.5,319 153.8,318.6 154.1,318.2 154.4,317.8 154.7,317.4 155,317 155.3,316.6 155.6,316.2 156,315.9 156.3,315.5 156.6,315.1 156.9,314.7 157.2,314.3 157.5,313.9 157.9,313.5 158.2,313.2 158.5,312.8 158.8,312.4 159.1,312 159.5,311.6 159.8,311.2 160.1,310.9 160.4,310.5 160.8,310.1 161.1,309.7 161.4,309.4 161.8,309 162.1,308.6 162.4,308.2 162.7,307.9 163.1,307.5 163.4,307.1 163.7,306.7 164.1,306.4 164.4,306 164.8,305.6 165.1,305.3 165.4,304.9 165.8,304.5 166.1,304.1 166.4,303.8 166.8,303.4 167.1,303 167.5,302.7 167.8,302.3 168.2,302 168.5,301.6 168.8,301.2 169.2,300.9 169.5,300.5 169.9,300.1 170.2,299.8 170.6,299.4 170.9,299.1 171.3,298.7 171.6,298.3 171.9,298 172.3,297.6 172.6,297.3 173,296.9 173.3,296.5 173.7,296.2 174,295.8 174.4,295.5 174.8,295.1 175.1,294.8 175.5,294.4 175.8,294.1 176.2,293.7 176.5,293.4 176.9,293 177.2,292.7 177.6,292.3 178,292 178.3,291.6 178.7,291.3 179,290.9 179.4,290.6 179.8,290.2 180.1,289.9 180.5,289.5 180.9,289.2 181.2,288.9 181.6,288.5 182,288.2 182.3,287.9 182.7,287.5 183.1,287.2 183.5,286.9 183.8,286.5 184.2,286.2 184.6,285.9 185,285.6 185.4,285.2 185.7,284.9 186.1,284.6 186.5,284.2 186.9,283.9 187.2,283.6 187.6,283.2 188,282.9 188.3,282.6 188.7,282.2 189.1,281.9 189.4,281.5 189.8,281.2 190.2,280.8 190.5,280.5 190.9,280.2 191.2,279.8 191.6,279.4 191.9,279.1 192.3,278.7 192.6,278.4 193,278 193.3,277.7 193.7,277.3 194,277 194.4,276.6 194.7,276.2 195.1,275.9 195.4,275.5 195.8,275.1 196.1,274.8 196.4,274.4 196.8,274 197.1,273.7 197.5,273.3 197.8,272.9 198.1,272.6 198.5,272.2 198.8,271.8 199.1,271.5 199.5,271.1 199.8,270.7 200.1,270.3 200.5,269.9" fill="none" stroke="#4040ff" stroke-width="0.7" stroke-linejoin="round" stroke-opacity="1.0"/>
<polyline points="120.6,377.6 120.7,377.1 120.9,376.6 121,376.1 121.2,375.7 121.3,375.2 121.4,374.7 121.6,374.2 121.7,373.7 121.9,373.2 122.1,372.8 122.2,372.3 122.4,371.8 122.5,371.3 122.7,370.9 122.8,370.4 123,369.9 123.2,369.4 123.3,369 123.5,368.5 123.7,368 123.9,367.5 124,367.1 124.2,366.6 124.4,366.1 124.6,365.7 124.7,365.2 124.9,364.7 125.1,364.3 125.3,363.8 125.5,363.3 125.7,362.9 125.8,362.4 126,361.9 126.2,361.5 126.4,361 126.6,360.6 126.8,360.1 127,359.6 127.2,359.2 127.4,358.7 127.6,358.3 127.8,357.8 128,357.4 128.2,356.9 128.4,356.5 128.6,356 128.8,355.5 129,355.1 129.2,354.6 129.4,354.2 129.6,353.7 129.9,353.3 130.1,352.9 130.3,352.4 130.5,352 130.7,351.5 130.9,351.1 131.2,350.6 131.4,350.2 131.6,349.8 131.9,349.3 132.1,348.9 132.4,348.4 132.6,348 132.8,347.6 133.1,347.1 133.3,346.7 133.6,346.3 133.9,345.8 134.1,345.4 134.4,345 134.6,344.5 134.9,344.1 135.2,343.7 135.4,343.3 135.7,342.8 136,342.4 136.2,342 136.5,341.6 136.8,341.1 137,340.7 137.3,340.3 137.6,339.9 137.8,339.4 138.1,339 138.4,338.6 138.6,338.2 138.9,337.7 139.2,337.3 139.4,336.9 139.7,336.5 140,336 140.2,335.6 140.5,335.2 140.8,334.8 141,334.4 141.3,333.9 141.6,333.5 141.8,333.1 142.1,332.7 142.4,332.3 142.7,331.8 142.9,331.4 143.2,331 143.5,330.6 143.8,330.2 144,329.7 144.3,329.3 144.6,328.9 144.9,328.5 145.1,328.1 145.4,327.7 145.7,327.2 146,326.8 146.3,326.4 146.5,326 146.8,325.6 147.1,325.2 147.4,324.8 147.7,324.4 148,323.9 148.2,323.5 148.5,323.1 148.8,322.7 149.1,322.3 149.4,321.9 149.7,321.5 150,321.1 150.2,320.7 150.5,320.3 150.8,319.8 151.1,319.4 151.4,319 151.7,318.6 152,318.2 152.3,317.8 152.6,317.4 152.9,317 153.1,316.6 153.4,316.2 153.7,315.8 154,315.4 154.3,315 154.6,314.6 154.9,314.2 155.2,313.8 155.5,313.4 155.8,313 156.1,312.6 156.4,312.2 156.7,311.8 157,311.4 157.3,311 157.6,310.6 157.9,310.2 158.2,309.8 158.5,309.4 158.8,309 159.1,308.6 159.5,308.2 159.8,307.8 160.1,307.4 160.4,307 160.7,306.6 161,306.2 161.3,305.8 161.6,305.5 161.9,305.1 162.3,304.7 162.6,304.3 162.9,303.9 163.2,303.5 163.5,303.1 163.8,302.7 164.2,302.4 164.5,302 164.8,301.6 165.1,301.2 165.4,300.8 165.8,300.4 166.1,300.1 166.4,299.7 166.7,299.3 167.1,298.9 167.4,298.5 167.7,298.2 168,297.8 168.4,297.4 168.7,297 169,296.6 169.3,296.3 169.7,295.9 170,295.5 170.3,295.1 170.7,294.8 171,294.4 171.3,294 171.6,293.6 172,293.3 172.3,292.9 172.6,292.5 173,292.1 173.3,291.8 173.6,291.4 174,291 174.3,290.7 174.7,290.3 175,289.9 175.3,289.5 175.7,289.2 176,288.8 176.3,288.4 176.7,288.1 177,287.7 177.4,287.3 177.7,287 178,286.6 178.4,286.2 178.7,285.9 179.1,285.5 179.4,285.1 179.7,284.8 180.1,284.4 180.4,284 180.8,283.7 181.1,283.3 181.4,282.9 181.8,282.6 182.1,282.2 182.5,281.8 182.8,281.5 183.1,281.1 183.5,280.7 183.8,280.4 184.2,280 184.5,279.6 184.8,279.3 185.2,278.9 185.5,278.5 185.9,278.2 186.2,277.8 186.6,277.4 186.9,277.1 187.3,276.7 187.6,276.4 188,276 188.3,275.7 188.7,275.3 189,275 189.4,274.6 189.7,274.3 190.1,273.9 190.5,273.6 190.8,273.2 191.2,272.9 191.6,272.6 191.9,272.2 192.3,271.9 192.7,271.6 193.1,271.2 193.4,270.9 193.8,270.6 194.2,270.2 194.6,269.9" fill="none" stroke="#ff77ff" stroke-width="0.7" stroke-linejoin="round" stroke-opacity="1.0"/>
<path d="M127 356.6h1.5v1.5h-1.5zM130.3 352.4h1.5v1.5h-1.5zM133.7 349.1h1.5v1.5h-1.5zM136.9 343.6h1.5v1.5h-1.5zM140.2 339.9h1.5v1.5h-1.5zM144.2 333.2h1.5v1.5h-1.5zM153.3 324.6h1.5v1.5h-1.5zM159.2 316.9h1.5v1.5h-1.5zM168.7 306.4h1.5v1.5h-1.5zM177.4 294.8h1.5v1.5h-1.5zM190.6 282.9h1.5v1.5h-1.5z" fill="#0000ff"/>
<path d="M127 355.6h1.5v1.5h-1.5zM131.4 349.1h1.5v1.5h-1.5zM135.8 343.6h1.5v1.5h-1.5zM140.2 339.1h1.5v1.5h-1.5zM146.8 331.6h1.5v1.5h-1.5zM153.3 324.9h1.5v1.5h-1.5zM159.9 317.9h1.5v1.5h-1.5zM170.4 299.1h1.5v1.5h-1.5zM179.7 285.1h1.5v1.5h-1.5zM187.3 275.1h1.5v1.5h-1.5z" fill="#ff80ff"/>
<rect x="122.4" y="273.6" width="27.3" height="46.6" fill="#fff" stroke="#777" stroke-width="0.6"/>
<path d="M126.5 276.2h1.6v1.6h-1.6z" fill="#000000"/>
<line x1="123.8" y1="281.6" x2="132.2" y2="281.6" stroke="#333333" stroke-width="0.6"/>
<text x="133.9" y="278.4" font-family='"Liberation Serif", serif' font-size="4.20" textLength="4.1" lengthAdjust="spacing" fill="#000" stroke="#000" stroke-width="0.20">1h</text>
<text x="133.9" y="283.0" font-family='"Liberation Serif", serif' font-size="4.20" textLength="14.2" lengthAdjust="spacing" fill="#000" stroke="#000" stroke-width="0.20">Fitting</text>
<path d="M126.5 285.4h1.6v1.6h-1.6z" fill="#ff0000"/>
<line x1="123.8" y1="290.7" x2="132.2" y2="290.7" stroke="#ff3030" stroke-width="0.6"/>
<text x="133.9" y="287.6" font-family='"Liberation Serif", serif' font-size="4.20" textLength="4.1" lengthAdjust="spacing" fill="#000" stroke="#000" stroke-width="0.20">3h</text>
<text x="133.9" y="292.1" font-family='"Liberation Serif", serif' font-size="4.20" textLength="14.2" lengthAdjust="spacing" fill="#000" stroke="#000" stroke-width="0.20">Fitting</text>
<path d="M126.5 294.5h1.6v1.6h-1.6z" fill="#00ff00"/>
<line x1="123.8" y1="299.9" x2="132.2" y2="299.9" stroke="#55ff55" stroke-width="0.6"/>
<text x="133.9" y="296.7" font-family='"Liberation Serif", serif' font-size="4.20" textLength="4.1" lengthAdjust="spacing" fill="#000" stroke="#000" stroke-width="0.20">5h</text>
<text x="133.9" y="301.3" font-family='"Liberation Serif", serif' font-size="4.20" textLength="14.2" lengthAdjust="spacing" fill="#000" stroke="#000" stroke-width="0.20">Fitting</text>
<path d="M126.5 303.6h1.6v1.6h-1.6z" fill="#0000ff"/>
<line x1="123.8" y1="309" x2="132.2" y2="309" stroke="#5050ff" stroke-width="0.6"/>
<text x="133.9" y="305.8" font-family='"Liberation Serif", serif' font-size="4.20" textLength="4.1" lengthAdjust="spacing" fill="#000" stroke="#000" stroke-width="0.20">8h</text>
<text x="133.9" y="310.4" font-family='"Liberation Serif", serif' font-size="4.20" textLength="14.2" lengthAdjust="spacing" fill="#000" stroke="#000" stroke-width="0.20">Fitting</text>
<path d="M126.5 312.8h1.6v1.6h-1.6z" fill="#ff80ff"/>
<line x1="123.8" y1="318.1" x2="132.2" y2="318.1" stroke="#ff99ff" stroke-width="0.6"/>
<text x="133.9" y="315.0" font-family='"Liberation Serif", serif' font-size="4.20" textLength="6.1" lengthAdjust="spacing" fill="#000" stroke="#000" stroke-width="0.20">12h</text>
<text x="133.9" y="319.5" font-family='"Liberation Serif", serif' font-size="4.20" textLength="14.2" lengthAdjust="spacing" fill="#000" stroke="#000" stroke-width="0.20">Fitting</text>
<rect x="215.1" y="622.3" width="89.9" height="89.3" fill="#fff" stroke="#666" stroke-width="0.8"/>
<line x1="215.1" y1="711.6" x2="215.1" y2="710.1" stroke="#666" stroke-width="0.6"/>
<text x="215.1" y="715.2" font-family='"Liberation Serif", serif' font-size="2.8" text-anchor="middle" fill="#000" stroke="#000" stroke-width="0.25">0</text>
<line x1="225.1" y1="711.6" x2="225.1" y2="710.1" stroke="#666" stroke-width="0.6"/>
<text x="225.1" y="715.2" font-family='"Liberation Serif", serif' font-size="2.8" text-anchor="middle" fill="#000" stroke="#000" stroke-width="0.25">200</text>
<line x1="235.1" y1="711.6" x2="235.1" y2="710.1" stroke="#666" stroke-width="0.6"/>
<text x="235.1" y="715.2" font-family='"Liberation Serif", serif' font-size="2.8" text-anchor="middle" fill="#000" stroke="#000" stroke-width="0.25">400</text>
<line x1="245.1" y1="711.6" x2="245.1" y2="710.1" stroke="#666" stroke-width="0.6"/>
<text x="245.1" y="715.2" font-family='"Liberation Serif", serif' font-size="2.8" text-anchor="middle" fill="#000" stroke="#000" stroke-width="0.25">600</text>
<line x1="255.1" y1="711.6" x2="255.1" y2="710.1" stroke="#666" stroke-width="0.6"/>
<text x="255.1" y="715.2" font-family='"Liberation Serif", serif' font-size="2.8" text-anchor="middle" fill="#000" stroke="#000" stroke-width="0.25">800</text>
<line x1="265" y1="711.6" x2="265" y2="710.1" stroke="#666" stroke-width="0.6"/>
<text x="265.0" y="715.2" font-family='"Liberation Serif", serif' font-size="2.8" text-anchor="middle" fill="#000" stroke="#000" stroke-width="0.25">1000</text>
<line x1="275" y1="711.6" x2="275" y2="710.1" stroke="#666" stroke-width="0.6"/>
<text x="275.0" y="715.2" font-family='"Liberation Serif", serif' font-size="2.8" text-anchor="middle" fill="#000" stroke="#000" stroke-width="0.25">1200</text>
<line x1="285" y1="711.6" x2="285" y2="710.1" stroke="#666" stroke-width="0.6"/>
<text x="285.0" y="715.2" font-family='"Liberation Serif", serif' font-size="2.8" text-anchor="middle" fill="#000" stroke="#000" stroke-width="0.25">1400</text>
<line x1="295" y1="711.6" x2="295" y2="710.1" stroke="#666" stroke-width="0.6"/>
<text x="295.0" y="715.2" font-family='"Liberation Serif", serif' font-size="2.8" text-anchor="middle" fill="#000" stroke="#000" stroke-width="0.25">1600</text>
<line x1="305" y1="711.6" x2="305" y2="710.1" stroke="#666" stroke-width="0.6"/>
<text x="305.0" y="715.2" font-family='"Liberation Serif", serif' font-size="2.8" text-anchor="middle" fill="#000" stroke="#000" stroke-width="0.25">1800</text>
<line x1="215.1" y1="711.6" x2="216.6" y2="711.6" stroke="#666" stroke-width="0.6"/>
<text x="212.9" y="712.6" font-family='"Liberation Serif", serif' font-size="2.8" text-anchor="end" fill="#000" stroke="#000" stroke-width="0.25">0</text>
<line x1="215.1" y1="701.7" x2="216.6" y2="701.7" stroke="#666" stroke-width="0.6"/>
<text x="212.9" y="702.7" font-family='"Liberation Serif", serif' font-size="2.8" text-anchor="end" fill="#000" stroke="#000" stroke-width="0.25">-200</text>
<line x1="215.1" y1="691.8" x2="216.6" y2="691.8" stroke="#666" stroke-width="0.6"/>
<text x="212.9" y="692.7" font-family='"Liberation Serif", serif' font-size="2.8" text-anchor="end" fill="#000" stroke="#000" stroke-width="0.25">-400</text>
<line x1="215.1" y1="681.8" x2="216.6" y2="681.8" stroke="#666" stroke-width="0.6"/>
<text x="212.9" y="682.8" font-family='"Liberation Serif", serif' font-size="2.8" text-anchor="end" fill="#000" stroke="#000" stroke-width="0.25">-600</text>
<line x1="215.1" y1="671.9" x2="216.6" y2="671.9" stroke="#666" stroke-width="0.6"/>
<text x="212.9" y="672.9" font-family='"Liberation Serif", serif' font-size="2.8" text-anchor="end" fill="#000" stroke="#000" stroke-width="0.25">-800</text>
<line x1="215.1" y1="662" x2="216.6" y2="662" stroke="#666" stroke-width="0.6"/>
<text x="212.9" y="663.0" font-family='"Liberation Serif", serif' font-size="2.8" text-anchor="end" fill="#000" stroke="#000" stroke-width="0.25">-1000</text>
<line x1="215.1" y1="652.1" x2="216.6" y2="652.1" stroke="#666" stroke-width="0.6"/>
<text x="212.9" y="653.0" font-family='"Liberation Serif", serif' font-size="2.8" text-anchor="end" fill="#000" stroke="#000" stroke-width="0.25">-1200</text>
<line x1="215.1" y1="642.1" x2="216.6" y2="642.1" stroke="#666" stroke-width="0.6"/>
<text x="212.9" y="643.1" font-family='"Liberation Serif", serif' font-size="2.8" text-anchor="end" fill="#000" stroke="#000" stroke-width="0.25">-1400</text>
<line x1="215.1" y1="632.2" x2="216.6" y2="632.2" stroke="#666" stroke-width="0.6"/>
<text x="212.9" y="633.2" font-family='"Liberation Serif", serif' font-size="2.8" text-anchor="end" fill="#000" stroke="#000" stroke-width="0.25">-1600</text>
<line x1="215.1" y1="622.3" x2="216.6" y2="622.3" stroke="#666" stroke-width="0.6"/>
<text x="212.9" y="623.3" font-family='"Liberation Serif", serif' font-size="2.8" text-anchor="end" fill="#000" stroke="#000" stroke-width="0.25">-1800</text>
<text x="259" y="721" font-family='"Liberation Serif", serif' font-size="3.2" text-anchor="middle" fill="#111" stroke="#111" stroke-width="0.2">Z ' ( &#937;&#183;cm2)</text>
<text transform="translate(203.5,668) rotate(-90)" font-family='"Liberation Serif", serif' font-size="3.2" text-anchor="middle" fill="#111" stroke="#111" stroke-width="0.2">Z''( &#937;&#183;cm2)</text>
<polyline points="215.1,711.6 215.2,710.4 215.6,709.3 216.3,708.3 217.2,707.3 218.3,706.4 219.5,705.7 221,705.2 222.5,704.8 224.1,704.6 225.7,704.6 227.3,704.8 228.8,705.2 230.3,705.7 231.5,706.4 232.6,707.3 233.5,708.3 234.2,709.3 234.6,710.4 234.7,711.6" fill="none" stroke="#000" stroke-width="1.1" stroke-linejoin="round" stroke-opacity="1.0"/>
<polyline points="215.1,711.6 215.4,711.2 215.6,710.7 215.9,710.3 216.1,709.9 216.4,709.5 216.6,709 216.9,708.6 217.2,708.2 217.4,707.7 217.7,707.3 217.9,706.9 218.2,706.5 218.5,706 218.7,705.6 219,705.2 219.3,704.8 219.5,704.3 219.8,703.9 220.1,703.5 220.3,703.1 220.6,702.6 220.9,702.2 221.1,701.8 221.4,701.4 221.7,701 221.9,700.5 222.2,700.1 222.5,699.7 222.7,699.3 223,698.9 223.3,698.4 223.6,698 223.8,697.6 224.1,697.2 224.4,696.8 224.6,696.3 224.9,695.9 225.2,695.5 225.5,695.1 225.8,694.7 226,694.2 226.3,693.8 226.6,693.4 226.9,693 227.2,692.6 227.4,692.2 227.7,691.8 228,691.4 228.3,691 228.6,690.6 228.9,690.2 229.2,689.8 229.5,689.4 229.8,689 230.1,688.6 230.5,688.2 230.8,687.8 231.1,687.4 231.4,687.1 231.7,686.7 232.1,686.3 232.4,685.9 232.7,685.5 233,685.1 233.4,684.8 233.7,684.4 234,684 234.3,683.6 234.7,683.3 235,682.9 235.3,682.5 235.6,682.1 236,681.7 236.3,681.3 236.6,681 236.9,680.6 237.3,680.2 237.6,679.8 237.9,679.4 238.2,679 238.5,678.6 238.8,678.3 239.1,677.9 239.5,677.5 239.8,677.1 240.1,676.7 240.4,676.3 240.7,675.9 241,675.5 241.4,675.1 241.7,674.8 242,674.4 242.3,674 242.6,673.6 242.9,673.2 243.3,672.8 243.6,672.5 243.9,672.1 244.2,671.7 244.6,671.3 244.9,670.9 245.2,670.6 245.6,670.2 245.9,669.8 246.2,669.5 246.6,669.1 246.9,668.7 247.3,668.4 247.6,668 248,667.7 248.3,667.3 248.7,666.9 249,666.6 249.4,666.2 249.7,665.9 250.1,665.5 250.4,665.2 250.8,664.8 251.1,664.4 251.5,664.1 251.8,663.7 252.2,663.4 252.6,663.1 252.9,662.7 253.3,662.4 253.7,662 254,661.7 254.4,661.3 254.7,661 255.1,660.7 255.5,660.3 255.9,660 256.2,659.7 256.6,659.3 257,659 257.4,658.7 257.7,658.3 258.1,658 258.5,657.7 258.9,657.4 259.3,657 259.6,656.7 260,656.4 260.4,656.1 260.8,655.8 261.2,655.5 261.6,655.1 262,654.8 262.4,654.5 262.7,654.2 263.1,653.9 263.5,653.6 263.9,653.3 264.3,652.9 264.7,652.6 265.1,652.3 265.5,652 265.9,651.7 266.3,651.4 266.7,651.1 267.1,650.8 267.4,650.5 267.8,650.2 268.2,649.8 268.6,649.5 269,649.2 269.4,648.9 269.8,648.6 270.2,648.3 270.6,648 271,647.7 271.4,647.4 271.8,647.1 272.2,646.8 272.6,646.5 273,646.2 273.4,645.9 273.8,645.6 274.2,645.3 274.6,645 275,644.7 275.4,644.4 275.8,644.1 276.2,643.8 276.6,643.5 277,643.2 277.4,642.9 277.8,642.6 278.2,642.4 278.7,642.1 279.1,641.8 279.5,641.5 279.9,641.2 280.3,640.9 280.7,640.7 281.1,640.4 281.6,640.1 282,639.8 282.4,639.6 282.8,639.3 283.2,639 283.6,638.7 284.1,638.5 284.5,638.2 284.9,637.9 285.3,637.7 285.8,637.4 286.2,637.1 286.6,636.9 287,636.6 287.5,636.3 287.9,636.1 288.3,635.8 288.8,635.6 289.2,635.3 289.6,635.1 290.1,634.8 290.5,634.6 290.9,634.3 291.4,634.1 291.8,633.8 292.2,633.6 292.7,633.4 293.1,633.1 293.5,632.9 294,632.6 294.4,632.4 294.9,632.2 295.3,632 295.7,631.7 296.2,631.5 296.6,631.3 297.1,631 297.5,630.8 298,630.6 298.4,630.4 298.9,630.2 299.3,629.9 299.8,629.7 300.2,629.5 300.7,629.3 301.1,629.1 301.6,628.9 302.1,628.7 302.5,628.5 303,628.3 303.4,628.1 303.9,627.9 304.3,627.7" fill="none" stroke="#ff4040" stroke-width="0.7" stroke-linejoin="round" stroke-opacity="1.0"/>
<path d="M229.7 682.8h1.3v1.3h-1.3zM233.2 678.6h1.3v1.3h-1.3zM237.9 673.6h1.3v1.3h-1.3zM243.5 667.8h1.3v1.3h-1.3zM250.2 661.8h1.3v1.3h-1.3zM258.2 655.6h1.3v1.3h-1.3zM267.8 649.6h1.3v1.3h-1.3zM279.5 643.6h1.3v1.3h-1.3zM289.6 632.6h1.3v1.3h-1.3z" fill="#ff0000"/>
<polyline points="215.1,711.6 257.6,622.3" fill="none" stroke="#44ee44" stroke-width="0.7" stroke-linejoin="round" stroke-opacity="1.0"/>
<polyline points="215.1,711.6 253.8,622.3" fill="none" stroke="#4040ff" stroke-width="0.7" stroke-linejoin="round" stroke-opacity="1.0"/>
<polyline points="215.6,711.6 253,622.3" fill="none" stroke="#ff77ff" stroke-width="0.6" stroke-linejoin="round" stroke-opacity="1.0"/>
<path d="M250.9 633.4h1.3v1.3h-1.3zM244 646h1.3v1.3h-1.3zM238.5 657.6h1.3v1.3h-1.3zM233.3 667.4h1.3v1.3h-1.3zM228.3 677.4h1.3v1.3h-1.3zM223.8 686.9h1.3v1.3h-1.3zM219.3 696.4h1.3v1.3h-1.3z" fill="#00ff00"/>
<path d="M247.8 634.1h1.3v1.3h-1.3zM243 646.2h1.3v1.3h-1.3zM238.8 657.1h1.3v1.3h-1.3zM234.7 665.6h1.3v1.3h-1.3zM229.7 678.6h1.3v1.3h-1.3zM224.5 688.2h1.3v1.3h-1.3zM219.5 698.4h1.3v1.3h-1.3z" fill="#0000ff"/>
<path d="M251 629.1h1.3v1.3h-1.3zM241.3 653.4h1.3v1.3h-1.3zM237.7 662.8h1.3v1.3h-1.3zM234.3 670.6h1.3v1.3h-1.3zM231.2 676.5h1.3v1.3h-1.3zM227 683.2h1.3v1.3h-1.3z" fill="#ff80ff"/>
<rect x="217.7" y="626.0" width="18.9" height="31.8" fill="#fff" stroke="#777" stroke-width="0.6"/>
<path d="M220.6 627.8h1.1v1.1h-1.1z" fill="#000000"/>
<line x1="218.6" y1="631.5" x2="224.5" y2="631.5" stroke="#333333" stroke-width="0.6"/>
<text x="225.6" y="629.3" font-family='"Liberation Serif", serif' font-size="2.84" textLength="2.8" lengthAdjust="spacing" fill="#000" stroke="#000" stroke-width="0.14">1h</text>
<text x="225.6" y="632.4" font-family='"Liberation Serif", serif' font-size="2.84" textLength="9.8" lengthAdjust="spacing" fill="#000" stroke="#000" stroke-width="0.14">Fitting</text>
<path d="M220.6 634h1.1v1.1h-1.1z" fill="#ff0000"/>
<line x1="218.6" y1="637.7" x2="224.5" y2="637.7" stroke="#ff3030" stroke-width="0.6"/>
<text x="225.6" y="635.5" font-family='"Liberation Serif", serif' font-size="2.84" textLength="2.8" lengthAdjust="spacing" fill="#000" stroke="#000" stroke-width="0.14">3h</text>
<text x="225.6" y="638.6" font-family='"Liberation Serif", serif' font-size="2.84" textLength="9.8" lengthAdjust="spacing" fill="#000" stroke="#000" stroke-width="0.14">Fitting</text>
<path d="M220.6 640.3h1.1v1.1h-1.1z" fill="#00ff00"/>
<line x1="218.6" y1="643.9" x2="224.5" y2="643.9" stroke="#55ff55" stroke-width="0.6"/>
<text x="225.6" y="641.8" font-family='"Liberation Serif", serif' font-size="2.84" textLength="2.8" lengthAdjust="spacing" fill="#000" stroke="#000" stroke-width="0.14">5h</text>
<text x="225.6" y="644.9" font-family='"Liberation Serif", serif' font-size="2.84" textLength="9.8" lengthAdjust="spacing" fill="#000" stroke="#000" stroke-width="0.14">Fitting</text>
<path d="M220.6 646.5h1.1v1.1h-1.1z" fill="#0000ff"/>
<line x1="218.6" y1="650.2" x2="224.5" y2="650.2" stroke="#5050ff" stroke-width="0.6"/>
<text x="225.6" y="648.0" font-family='"Liberation Serif", serif' font-size="2.84" textLength="2.8" lengthAdjust="spacing" fill="#000" stroke="#000" stroke-width="0.14">8h</text>
<text x="225.6" y="651.1" font-family='"Liberation Serif", serif' font-size="2.84" textLength="9.8" lengthAdjust="spacing" fill="#000" stroke="#000" stroke-width="0.14">Fitting</text>
<path d="M220.6 652.7h1.1v1.1h-1.1z" fill="#ff80ff"/>
<line x1="218.6" y1="656.4" x2="224.5" y2="656.4" stroke="#ff99ff" stroke-width="0.6"/>
<text x="225.6" y="654.2" font-family='"Liberation Serif", serif' font-size="2.84" textLength="4.2" lengthAdjust="spacing" fill="#000" stroke="#000" stroke-width="0.14">12h</text>
<text x="225.6" y="657.3" font-family='"Liberation Serif", serif' font-size="2.84" textLength="9.8" lengthAdjust="spacing" fill="#000" stroke="#000" stroke-width="0.14">Fitting</text>
<rect x="253.6" y="6.8" width="52.7" height="92.2" fill="#fff" stroke="#888" stroke-width="1"/>
<path d="M261.7 10.8h2.4v2.4h-2.4z" fill="#000000"/>
<text x="275.6" y="15" font-family='"Liberation Serif", serif' font-size="8.3" textLength="8.3" lengthAdjust="spacing" stroke="#000" stroke-width="0.1">1h</text>
<line x1="254.6" y1="21.1" x2="271.5" y2="21.1" stroke="#999999" stroke-width="1.0"/>
<text x="275.6" y="24.1" font-family='"Liberation Serif", serif' font-size="8.3" textLength="29.2" lengthAdjust="spacing" stroke="#000" stroke-width="0.1">Fitting</text>
<path d="M261.7 29.1h2.4v2.4h-2.4z" fill="#ff0000"/>
<text x="275.6" y="33.2" font-family='"Liberation Serif", serif' font-size="8.3" textLength="8.3" lengthAdjust="spacing" stroke="#000" stroke-width="0.1">3h</text>
<line x1="254.6" y1="39.4" x2="271.5" y2="39.4" stroke="#ff5050" stroke-width="1.0"/>
<text x="275.6" y="42.4" font-family='"Liberation Serif", serif' font-size="8.3" textLength="29.2" lengthAdjust="spacing" stroke="#000" stroke-width="0.1">Fitting</text>
<path d="M261.7 47.3h2.4v2.4h-2.4z" fill="#00ff00"/>
<text x="275.6" y="51.5" font-family='"Liberation Serif", serif' font-size="8.3" textLength="8.3" lengthAdjust="spacing" stroke="#000" stroke-width="0.1">5h</text>
<line x1="254.6" y1="57.7" x2="271.5" y2="57.7" stroke="#66ff66" stroke-width="1.0"/>
<text x="275.6" y="60.6" font-family='"Liberation Serif", serif' font-size="8.3" textLength="29.2" lengthAdjust="spacing" stroke="#000" stroke-width="0.1">Fitting</text>
<path d="M261.7 65.6h2.4v2.4h-2.4z" fill="#0000ff"/>
<text x="275.6" y="69.8" font-family='"Liberation Serif", serif' font-size="8.3" textLength="8.3" lengthAdjust="spacing" stroke="#000" stroke-width="0.1">8h</text>
<line x1="254.6" y1="75.9" x2="271.5" y2="75.9" stroke="#9999ff" stroke-width="1.0"/>
<text x="275.6" y="78.9" font-family='"Liberation Serif", serif' font-size="8.3" textLength="29.2" lengthAdjust="spacing" stroke="#000" stroke-width="0.1">Fitting</text>
<path d="M261.7 83.8h2.4v2.4h-2.4z" fill="#ff80ff"/>
<text x="275.6" y="88" font-family='"Liberation Serif", serif' font-size="8.3" textLength="12.5" lengthAdjust="spacing" stroke="#000" stroke-width="0.1">12h</text>
<line x1="254.6" y1="94.2" x2="271.5" y2="94.2" stroke="#ff99ff" stroke-width="1.0"/>
<text x="275.6" y="97.2" font-family='"Liberation Serif", serif' font-size="8.3" textLength="29.2" lengthAdjust="spacing" stroke="#000" stroke-width="0.1">Fitting</text>
<rect x="261.5" y="266.3" width="45.5" height="78.8" fill="#fff" stroke="#888" stroke-width="1"/>
<path d="M268.5 269.8h2.4v2.4h-2.4z" fill="#000000"/>
<text x="280.3" y="273.8" font-family='"Liberation Serif", serif' font-size="7.8" textLength="7.3" lengthAdjust="spacing" stroke="#000" stroke-width="0.1">1h</text>
<line x1="262.9" y1="278.8" x2="276.9" y2="278.8" stroke="#999999" stroke-width="1.0"/>
<text x="280.3" y="281.6" font-family='"Liberation Serif", serif' font-size="7.8" textLength="25.5" lengthAdjust="spacing" stroke="#000" stroke-width="0.1">Fitting</text>
<path d="M268.5 285.4h2.4v2.4h-2.4z" fill="#ff0000"/>
<text x="280.3" y="289.4" font-family='"Liberation Serif", serif' font-size="7.8" textLength="7.3" lengthAdjust="spacing" stroke="#000" stroke-width="0.1">3h</text>
<line x1="262.9" y1="294.4" x2="276.9" y2="294.4" stroke="#ff5050" stroke-width="1.0"/>
<text x="280.3" y="297.2" font-family='"Liberation Serif", serif' font-size="7.8" textLength="25.5" lengthAdjust="spacing" stroke="#000" stroke-width="0.1">Fitting</text>
<path d="M268.5 301h2.4v2.4h-2.4z" fill="#00ff00"/>
<text x="280.3" y="305" font-family='"Liberation Serif", serif' font-size="7.8" textLength="7.3" lengthAdjust="spacing" stroke="#000" stroke-width="0.1">5h</text>
<line x1="262.9" y1="310" x2="276.9" y2="310" stroke="#66ff66" stroke-width="1.0"/>
<text x="280.3" y="312.8" font-family='"Liberation Serif", serif' font-size="7.8" textLength="25.5" lengthAdjust="spacing" stroke="#000" stroke-width="0.1">Fitting</text>
<path d="M268.5 316.6h2.4v2.4h-2.4z" fill="#0000ff"/>
<text x="280.3" y="320.6" font-family='"Liberation Serif", serif' font-size="7.8" textLength="7.3" lengthAdjust="spacing" stroke="#000" stroke-width="0.1">8h</text>
<line x1="262.9" y1="325.6" x2="276.9" y2="325.6" stroke="#9999ff" stroke-width="1.0"/>
<text x="280.3" y="328.4" font-family='"Liberation Serif", serif' font-size="7.8" textLength="25.5" lengthAdjust="spacing" stroke="#000" stroke-width="0.1">Fitting</text>
<path d="M268.5 332.2h2.4v2.4h-2.4z" fill="#ff80ff"/>
<text x="280.3" y="336.2" font-family='"Liberation Serif", serif' font-size="7.8" textLength="10.9" lengthAdjust="spacing" stroke="#000" stroke-width="0.1">12h</text>
<line x1="262.9" y1="341.2" x2="276.9" y2="341.2" stroke="#ff99ff" stroke-width="1.0"/>
<text x="280.3" y="344" font-family='"Liberation Serif", serif' font-size="7.8" textLength="25.5" lengthAdjust="spacing" stroke="#000" stroke-width="0.1">Fitting</text>
<rect x="263.2" y="525.4" width="42.1" height="73.7" fill="#fff" stroke="#888" stroke-width="1"/>
<path d="M269.2 528.6h2.4v2.4h-2.4z" fill="#000000"/>
<text x="280.7" y="532.4" font-family='"Liberation Serif", serif' font-size="7.3" textLength="6.7" lengthAdjust="spacing" stroke="#000" stroke-width="0.1">1h</text>
<line x1="263.8" y1="537.1" x2="277.2" y2="537.1" stroke="#999999" stroke-width="1.0"/>
<text x="280.7" y="539.7" font-family='"Liberation Serif", serif' font-size="7.3" textLength="23.5" lengthAdjust="spacing" stroke="#000" stroke-width="0.1">Fitting</text>
<path d="M269.2 543.1h2.4v2.4h-2.4z" fill="#ff0000"/>
<text x="280.7" y="546.9" font-family='"Liberation Serif", serif' font-size="7.3" textLength="6.7" lengthAdjust="spacing" stroke="#000" stroke-width="0.1">3h</text>
<line x1="263.8" y1="551.6" x2="277.2" y2="551.6" stroke="#ff5050" stroke-width="1.0"/>
<text x="280.7" y="554.2" font-family='"Liberation Serif", serif' font-size="7.3" textLength="23.5" lengthAdjust="spacing" stroke="#000" stroke-width="0.1">Fitting</text>
<path d="M269.2 557.6h2.4v2.4h-2.4z" fill="#00ff00"/>
<text x="280.7" y="561.5" font-family='"Liberation Serif", serif' font-size="7.3" textLength="6.7" lengthAdjust="spacing" stroke="#000" stroke-width="0.1">5h</text>
<line x1="263.8" y1="566.1" x2="277.2" y2="566.1" stroke="#66ff66" stroke-width="1.0"/>
<text x="280.7" y="568.7" font-family='"Liberation Serif", serif' font-size="7.3" textLength="23.5" lengthAdjust="spacing" stroke="#000" stroke-width="0.1">Fitting</text>
<path d="M269.2 572.2h2.4v2.4h-2.4z" fill="#0000ff"/>
<text x="280.7" y="576" font-family='"Liberation Serif", serif' font-size="7.3" textLength="6.7" lengthAdjust="spacing" stroke="#000" stroke-width="0.1">8h</text>
<line x1="263.8" y1="580.6" x2="277.2" y2="580.6" stroke="#9999ff" stroke-width="1.0"/>
<text x="280.7" y="583.2" font-family='"Liberation Serif", serif' font-size="7.3" textLength="23.5" lengthAdjust="spacing" stroke="#000" stroke-width="0.1">Fitting</text>
<path d="M269.2 586.7h2.4v2.4h-2.4z" fill="#ff80ff"/>
<text x="280.7" y="590.5" font-family='"Liberation Serif", serif' font-size="7.3" textLength="10.1" lengthAdjust="spacing" stroke="#000" stroke-width="0.1">12h</text>
<line x1="263.8" y1="595.1" x2="277.2" y2="595.1" stroke="#ff99ff" stroke-width="1.0"/>
<text x="280.7" y="597.8" font-family='"Liberation Serif", serif' font-size="7.3" textLength="23.5" lengthAdjust="spacing" stroke="#000" stroke-width="0.1">Fitting</text>
<rect x="601.3" y="6.3" width="46.7" height="82" fill="#fff" stroke="#888" stroke-width="1"/>
<path d="M608.3 10.2h2.4v2.4h-2.4z" fill="#000000"/>
<text x="620.6" y="13.9" font-family='"Liberation Serif", serif' font-size="7" textLength="7.4" lengthAdjust="spacing" stroke="#000" stroke-width="0.1">1h</text>
<line x1="602" y1="19.5" x2="616.6" y2="19.5" stroke="#999999" stroke-width="1.0"/>
<text x="620.6" y="22" font-family='"Liberation Serif", serif' font-size="7" textLength="26" lengthAdjust="spacing" stroke="#000" stroke-width="0.1">Fitting</text>
<path d="M608.3 26.3h2.4v2.4h-2.4z" fill="#ff0000"/>
<text x="620.6" y="30" font-family='"Liberation Serif", serif' font-size="7" textLength="7.4" lengthAdjust="spacing" stroke="#000" stroke-width="0.1">3h</text>
<line x1="602" y1="35.6" x2="616.6" y2="35.6" stroke="#ff5050" stroke-width="1.0"/>
<text x="620.6" y="38.1" font-family='"Liberation Serif", serif' font-size="7" textLength="26" lengthAdjust="spacing" stroke="#000" stroke-width="0.1">Fitting</text>
<path d="M608.3 42.4h2.4v2.4h-2.4z" fill="#00ff00"/>
<text x="620.6" y="46.2" font-family='"Liberation Serif", serif' font-size="7" textLength="7.4" lengthAdjust="spacing" stroke="#000" stroke-width="0.1">5h</text>
<line x1="602" y1="51.7" x2="616.6" y2="51.7" stroke="#66ff66" stroke-width="1.0"/>
<text x="620.6" y="54.2" font-family='"Liberation Serif", serif' font-size="7" textLength="26" lengthAdjust="spacing" stroke="#000" stroke-width="0.1">Fitting</text>
<path d="M608.3 58.6h2.4v2.4h-2.4z" fill="#0000ff"/>
<text x="620.6" y="62.3" font-family='"Liberation Serif", serif' font-size="7" textLength="7.4" lengthAdjust="spacing" stroke="#000" stroke-width="0.1">8h</text>
<line x1="602" y1="67.8" x2="616.6" y2="67.8" stroke="#9999ff" stroke-width="1.0"/>
<text x="620.6" y="70.3" font-family='"Liberation Serif", serif' font-size="7" textLength="26" lengthAdjust="spacing" stroke="#000" stroke-width="0.1">Fitting</text>
<path d="M608.3 74.7h2.4v2.4h-2.4z" fill="#ff80ff"/>
<text x="620.6" y="78.4" font-family='"Liberation Serif", serif' font-size="7" textLength="11.1" lengthAdjust="spacing" stroke="#000" stroke-width="0.1">12h</text>
<line x1="602" y1="83.9" x2="616.6" y2="83.9" stroke="#ff99ff" stroke-width="1.0"/>
<text x="620.6" y="86.5" font-family='"Liberation Serif", serif' font-size="7" textLength="26" lengthAdjust="spacing" stroke="#000" stroke-width="0.1">Fitting</text>
<rect x="596.4" y="264.2" width="53.2" height="92.1" fill="#fff" stroke="#888" stroke-width="1"/>
<path d="M604.8 268.6h2.4v2.4h-2.4z" fill="#000000"/>
<text x="618.7" y="272.8" font-family='"Liberation Serif", serif' font-size="8.3" textLength="8.4" lengthAdjust="spacing" stroke="#000" stroke-width="0.1">1h</text>
<line x1="598" y1="278.9" x2="614.7" y2="278.9" stroke="#999999" stroke-width="1.0"/>
<text x="618.7" y="281.9" font-family='"Liberation Serif", serif' font-size="8.3" textLength="29.5" lengthAdjust="spacing" stroke="#000" stroke-width="0.1">Fitting</text>
<path d="M604.8 286.8h2.4v2.4h-2.4z" fill="#ff0000"/>
<text x="618.7" y="291" font-family='"Liberation Serif", serif' font-size="8.3" textLength="8.4" lengthAdjust="spacing" stroke="#000" stroke-width="0.1">3h</text>
<line x1="598" y1="297.1" x2="614.7" y2="297.1" stroke="#ff5050" stroke-width="1.0"/>
<text x="618.7" y="300.1" font-family='"Liberation Serif", serif' font-size="8.3" textLength="29.5" lengthAdjust="spacing" stroke="#000" stroke-width="0.1">Fitting</text>
<path d="M604.8 305h2.4v2.4h-2.4z" fill="#00ff00"/>
<text x="618.7" y="309.2" font-family='"Liberation Serif", serif' font-size="8.3" textLength="8.4" lengthAdjust="spacing" stroke="#000" stroke-width="0.1">5h</text>
<line x1="598" y1="315.3" x2="614.7" y2="315.3" stroke="#66ff66" stroke-width="1.0"/>
<text x="618.7" y="318.3" font-family='"Liberation Serif", serif' font-size="8.3" textLength="29.5" lengthAdjust="spacing" stroke="#000" stroke-width="0.1">Fitting</text>
<path d="M604.8 323.2h2.4v2.4h-2.4z" fill="#0000ff"/>
<text x="618.7" y="327.4" font-family='"Liberation Serif", serif' font-size="8.3" textLength="8.4" lengthAdjust="spacing" stroke="#000" stroke-width="0.1">8h</text>
<line x1="598" y1="333.5" x2="614.7" y2="333.5" stroke="#9999ff" stroke-width="1.0"/>
<text x="618.7" y="336.5" font-family='"Liberation Serif", serif' font-size="8.3" textLength="29.5" lengthAdjust="spacing" stroke="#000" stroke-width="0.1">Fitting</text>
<path d="M604.8 341.4h2.4v2.4h-2.4z" fill="#ff80ff"/>
<text x="618.7" y="345.6" font-family='"Liberation Serif", serif' font-size="8.3" textLength="12.6" lengthAdjust="spacing" stroke="#000" stroke-width="0.1">12h</text>
<line x1="598" y1="351.7" x2="614.7" y2="351.7" stroke="#ff99ff" stroke-width="1.0"/>
<text x="618.7" y="354.7" font-family='"Liberation Serif", serif' font-size="8.3" textLength="29.5" lengthAdjust="spacing" stroke="#000" stroke-width="0.1">Fitting</text>
<rect x="592.4" y="524.2" width="49.9" height="86.6" fill="#fff" stroke="#888" stroke-width="1"/>
<path d="M600.1 528.1h2.4v2.4h-2.4z" fill="#000000"/>
<text x="613.2" y="532.1" font-family='"Liberation Serif", serif' font-size="7.8" textLength="7.9" lengthAdjust="spacing" stroke="#000" stroke-width="0.1">1h</text>
<line x1="594.2" y1="537.8" x2="609" y2="537.8" stroke="#999999" stroke-width="1.0"/>
<text x="613.2" y="540.6" font-family='"Liberation Serif", serif' font-size="7.8" textLength="27.5" lengthAdjust="spacing" stroke="#000" stroke-width="0.1">Fitting</text>
<path d="M600.1 545.1h2.4v2.4h-2.4z" fill="#ff0000"/>
<text x="613.2" y="549.1" font-family='"Liberation Serif", serif' font-size="7.8" textLength="7.9" lengthAdjust="spacing" stroke="#000" stroke-width="0.1">3h</text>
<line x1="594.2" y1="554.8" x2="609" y2="554.8" stroke="#ff5050" stroke-width="1.0"/>
<text x="613.2" y="557.6" font-family='"Liberation Serif", serif' font-size="7.8" textLength="27.5" lengthAdjust="spacing" stroke="#000" stroke-width="0.1">Fitting</text>
<path d="M600.1 562.1h2.4v2.4h-2.4z" fill="#00ff00"/>
<text x="613.2" y="566.1" font-family='"Liberation Serif", serif' font-size="7.8" textLength="7.9" lengthAdjust="spacing" stroke="#000" stroke-width="0.1">5h</text>
<line x1="594.2" y1="571.8" x2="609" y2="571.8" stroke="#66ff66" stroke-width="1.0"/>
<text x="613.2" y="574.6" font-family='"Liberation Serif", serif' font-size="7.8" textLength="27.5" lengthAdjust="spacing" stroke="#000" stroke-width="0.1">Fitting</text>
<path d="M600.1 579h2.4v2.4h-2.4z" fill="#0000ff"/>
<text x="613.2" y="583" font-family='"Liberation Serif", serif' font-size="7.8" textLength="7.9" lengthAdjust="spacing" stroke="#000" stroke-width="0.1">8h</text>
<line x1="594.2" y1="588.7" x2="609" y2="588.7" stroke="#9999ff" stroke-width="1.0"/>
<text x="613.2" y="591.5" font-family='"Liberation Serif", serif' font-size="7.8" textLength="27.5" lengthAdjust="spacing" stroke="#000" stroke-width="0.1">Fitting</text>
<path d="M600.1 596h2.4v2.4h-2.4z" fill="#ff80ff"/>
<text x="613.2" y="600" font-family='"Liberation Serif", serif' font-size="7.8" textLength="11.8" lengthAdjust="spacing" stroke="#000" stroke-width="0.1">12h</text>
<line x1="594.2" y1="605.7" x2="609" y2="605.7" stroke="#ff99ff" stroke-width="1.0"/>
<text x="613.2" y="608.5" font-family='"Liberation Serif", serif' font-size="7.8" textLength="27.5" lengthAdjust="spacing" stroke="#000" stroke-width="0.1">Fitting</text>
<text x="69" y="30.6" font-family='"Liberation Serif", serif' font-size="21" font-weight="bold" text-anchor="start" fill="#000" >(a)</text>
<text x="68" y="291.2" font-family='"Liberation Serif", serif' font-size="21" font-weight="bold" text-anchor="start" fill="#000" >(b)</text>
<text x="69.3" y="552.1" font-family='"Liberation Serif", serif' font-size="21" font-weight="bold" text-anchor="start" fill="#000" >(c)</text>
</svg>
</body></html>
